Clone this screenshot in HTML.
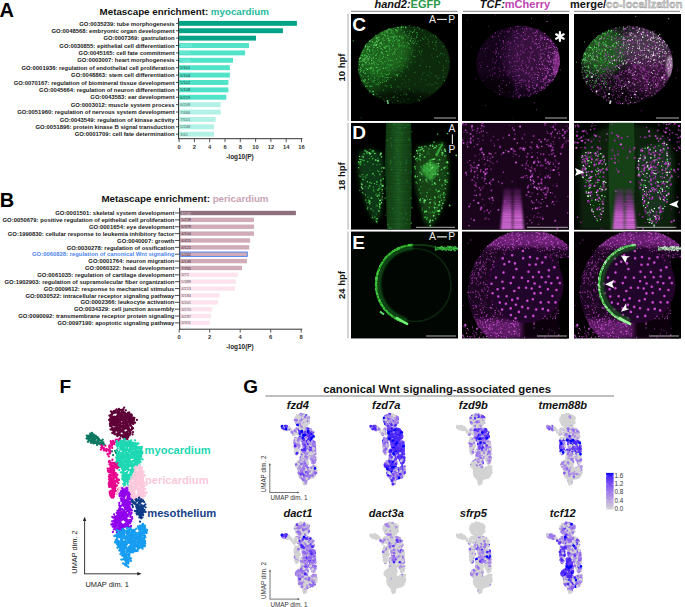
<!DOCTYPE html>
<html><head><meta charset="utf-8"><style>
html,body{margin:0;padding:0;background:#fff;}
body{width:685px;height:607px;overflow:hidden;}
svg{display:block;font-family:"Liberation Sans", sans-serif;}
</style></head><body>
<svg width="685" height="607" viewBox="0 0 685 607">
<text x="-0.5" y="16.7" font-size="20" font-weight="bold" font-style="normal" fill="#000" text-anchor="start" >A</text>
<text x="99.6" y="14.5" font-size="9.78" font-weight="bold" fill="#111">Metascape enrichment: <tspan fill="#1cb99a">myocardium</tspan></text>
<rect x="179.1" y="20.90" width="117.80" height="4.9" fill="#00a386"/>
<text x="174.6" y="25.5" font-size="5.88" font-weight="bold" font-style="normal" fill="#1a1a1a" text-anchor="end" >GO:0035239: tube morphogenesis</text>
<line x1="176" y1="23.35" x2="178.6" y2="23.35" stroke="#222" stroke-width="0.8"/>
<rect x="179.1" y="28.29" width="103.80" height="4.9" fill="#00a386"/>
<text x="174.6" y="32.9" font-size="5.88" font-weight="bold" font-style="normal" fill="#1a1a1a" text-anchor="end" >GO:0048568: embryonic organ development</text>
<line x1="176" y1="30.74" x2="178.6" y2="30.74" stroke="#222" stroke-width="0.8"/>
<rect x="179.1" y="35.68" width="76.90" height="4.9" fill="#00a386"/>
<text x="174.6" y="40.2" font-size="5.88" font-weight="bold" font-style="normal" fill="#1a1a1a" text-anchor="end" >GO:0007369: gastrulation</text>
<line x1="176" y1="38.13" x2="178.6" y2="38.13" stroke="#222" stroke-width="0.8"/>
<rect x="179.1" y="43.07" width="69.90" height="4.9" fill="#50e3c9"/>
<text x="174.6" y="47.6" font-size="5.88" font-weight="bold" font-style="normal" fill="#1a1a1a" text-anchor="end" >GO:0030855: epithelial cell differentiation</text>
<line x1="176" y1="45.52" x2="178.6" y2="45.52" stroke="#222" stroke-width="0.8"/>
<text x="180.2" y="47" font-size="4.0" font-weight="normal" font-style="normal" fill="#9ef2e2" text-anchor="start" >11/626</text>
<rect x="179.1" y="50.46" width="66.00" height="4.9" fill="#50e3c9"/>
<text x="174.6" y="55" font-size="5.88" font-weight="bold" font-style="normal" fill="#1a1a1a" text-anchor="end" >GO:0045165: cell fate commitment</text>
<line x1="176" y1="52.91" x2="178.6" y2="52.91" stroke="#222" stroke-width="0.8"/>
<text x="180.2" y="54.4" font-size="4.0" font-weight="normal" font-style="normal" fill="#9ef2e2" text-anchor="start" >8/255</text>
<rect x="179.1" y="57.85" width="53.90" height="4.9" fill="#50e3c9"/>
<text x="174.6" y="62.4" font-size="5.88" font-weight="bold" font-style="normal" fill="#1a1a1a" text-anchor="end" >GO:0003007: heart morphogenesis</text>
<line x1="176" y1="60.30" x2="178.6" y2="60.30" stroke="#222" stroke-width="0.8"/>
<text x="180.2" y="61.8" font-size="4.0" font-weight="normal" font-style="normal" fill="#9ef2e2" text-anchor="start" >7/268</text>
<rect x="179.1" y="65.24" width="50.80" height="4.9" fill="#50e3c9"/>
<text x="174.6" y="69.8" font-size="5.88" font-weight="bold" font-style="normal" fill="#1a1a1a" text-anchor="end" >GO:0001936: regulation of endothelial cell proliferation</text>
<line x1="176" y1="67.69" x2="178.6" y2="67.69" stroke="#222" stroke-width="0.8"/>
<text x="180.2" y="69.2" font-size="4.0" font-weight="normal" font-style="normal" fill="#1a3a33" text-anchor="start" >5/101</text>
<rect x="179.1" y="72.63" width="50.80" height="4.9" fill="#50e3c9"/>
<text x="174.6" y="77.2" font-size="5.88" font-weight="bold" font-style="normal" fill="#1a1a1a" text-anchor="end" >GO:0048863: stem cell differentiation</text>
<line x1="176" y1="75.08" x2="178.6" y2="75.08" stroke="#222" stroke-width="0.8"/>
<text x="180.2" y="76.6" font-size="4.0" font-weight="normal" font-style="normal" fill="#1a3a33" text-anchor="start" >5/104</text>
<rect x="179.1" y="80.02" width="49.30" height="4.9" fill="#50e3c9"/>
<text x="174.6" y="84.6" font-size="5.88" font-weight="bold" font-style="normal" fill="#1a1a1a" text-anchor="end" >GO:0070167: regulation of biomineral tissue development</text>
<line x1="176" y1="82.47" x2="178.6" y2="82.47" stroke="#222" stroke-width="0.8"/>
<text x="180.2" y="84" font-size="4.0" font-weight="normal" font-style="normal" fill="#1a3a33" text-anchor="start" >5/102</text>
<rect x="179.1" y="87.41" width="49.30" height="4.9" fill="#50e3c9"/>
<text x="174.6" y="92" font-size="5.88" font-weight="bold" font-style="normal" fill="#1a1a1a" text-anchor="end" >GO:0045664: regulation of neuron differentiation</text>
<line x1="176" y1="89.86" x2="178.6" y2="89.86" stroke="#222" stroke-width="0.8"/>
<text x="180.2" y="91.4" font-size="4.0" font-weight="normal" font-style="normal" fill="#1a3a33" text-anchor="start" >5/108</text>
<rect x="179.1" y="94.80" width="47.20" height="4.9" fill="#50e3c9"/>
<text x="174.6" y="99.4" font-size="5.88" font-weight="bold" font-style="normal" fill="#1a1a1a" text-anchor="end" >GO:0043583: ear development</text>
<line x1="176" y1="97.25" x2="178.6" y2="97.25" stroke="#222" stroke-width="0.8"/>
<text x="180.2" y="98.7" font-size="4.0" font-weight="normal" font-style="normal" fill="#1a3a33" text-anchor="start" >6/219</text>
<rect x="179.1" y="102.19" width="41.60" height="4.9" fill="#b3f1e6"/>
<text x="174.6" y="106.8" font-size="5.88" font-weight="bold" font-style="normal" fill="#1a1a1a" text-anchor="end" >GO:0003012: muscle system process</text>
<line x1="176" y1="104.64" x2="178.6" y2="104.64" stroke="#222" stroke-width="0.8"/>
<text x="180.2" y="106.1" font-size="4.0" font-weight="normal" font-style="normal" fill="#4a6a64" text-anchor="start" >6/208</text>
<rect x="179.1" y="109.58" width="41.60" height="4.9" fill="#b3f1e6"/>
<text x="174.6" y="114.1" font-size="5.88" font-weight="bold" font-style="normal" fill="#1a1a1a" text-anchor="end" >GO:0051960: regulation of nervous system development</text>
<line x1="176" y1="112.03" x2="178.6" y2="112.03" stroke="#222" stroke-width="0.8"/>
<text x="180.2" y="113.5" font-size="4.0" font-weight="normal" font-style="normal" fill="#4a6a64" text-anchor="start" >7/466</text>
<rect x="179.1" y="116.97" width="36.50" height="4.9" fill="#b3f1e6"/>
<text x="174.6" y="121.5" font-size="5.88" font-weight="bold" font-style="normal" fill="#1a1a1a" text-anchor="end" >GO:0043549: regulation of kinase activity</text>
<line x1="176" y1="119.42" x2="178.6" y2="119.42" stroke="#222" stroke-width="0.8"/>
<text x="180.2" y="120.9" font-size="4.0" font-weight="normal" font-style="normal" fill="#4a6a64" text-anchor="start" >7/501</text>
<rect x="179.1" y="124.36" width="34.90" height="4.9" fill="#b3f1e6"/>
<text x="174.6" y="128.9" font-size="5.88" font-weight="bold" font-style="normal" fill="#1a1a1a" text-anchor="end" >GO:0051896: protein kinase B signal transduction</text>
<line x1="176" y1="126.81" x2="178.6" y2="126.81" stroke="#222" stroke-width="0.8"/>
<text x="180.2" y="128.3" font-size="4.0" font-weight="normal" font-style="normal" fill="#4a6a64" text-anchor="start" >5/248</text>
<rect x="179.1" y="131.75" width="34.90" height="4.9" fill="#b3f1e6"/>
<text x="174.6" y="136.3" font-size="5.88" font-weight="bold" font-style="normal" fill="#1a1a1a" text-anchor="end" >GO:0001709: cell fate determination</text>
<line x1="176" y1="134.20" x2="178.6" y2="134.20" stroke="#222" stroke-width="0.8"/>
<text x="180.2" y="135.7" font-size="4.0" font-weight="normal" font-style="normal" fill="#4a6a64" text-anchor="start" >3/41</text>
<line x1="178.6" y1="18" x2="178.6" y2="139.2" stroke="#222" stroke-width="1"/>
<line x1="178.1" y1="138.7" x2="302.5" y2="138.7" stroke="#333" stroke-width="1"/>
<line x1="179.10" y1="138.7" x2="179.10" y2="142.1" stroke="#444" stroke-width="0.9"/>
<text x="179.1" y="149.3" font-size="5.8" font-weight="bold" font-style="normal" fill="#333" text-anchor="middle" >0</text>
<line x1="194.40" y1="138.7" x2="194.40" y2="142.1" stroke="#444" stroke-width="0.9"/>
<text x="194.4" y="149.3" font-size="5.8" font-weight="bold" font-style="normal" fill="#333" text-anchor="middle" >2</text>
<line x1="209.70" y1="138.7" x2="209.70" y2="142.1" stroke="#444" stroke-width="0.9"/>
<text x="209.7" y="149.3" font-size="5.8" font-weight="bold" font-style="normal" fill="#333" text-anchor="middle" >4</text>
<line x1="225.00" y1="138.7" x2="225.00" y2="142.1" stroke="#444" stroke-width="0.9"/>
<text x="225" y="149.3" font-size="5.8" font-weight="bold" font-style="normal" fill="#333" text-anchor="middle" >6</text>
<line x1="240.30" y1="138.7" x2="240.30" y2="142.1" stroke="#444" stroke-width="0.9"/>
<text x="240.3" y="149.3" font-size="5.8" font-weight="bold" font-style="normal" fill="#333" text-anchor="middle" >8</text>
<line x1="255.60" y1="138.7" x2="255.60" y2="142.1" stroke="#444" stroke-width="0.9"/>
<text x="255.6" y="149.3" font-size="5.8" font-weight="bold" font-style="normal" fill="#333" text-anchor="middle" >10</text>
<line x1="270.90" y1="138.7" x2="270.90" y2="142.1" stroke="#444" stroke-width="0.9"/>
<text x="270.9" y="149.3" font-size="5.8" font-weight="bold" font-style="normal" fill="#333" text-anchor="middle" >12</text>
<line x1="286.20" y1="138.7" x2="286.20" y2="142.1" stroke="#444" stroke-width="0.9"/>
<text x="286.2" y="149.3" font-size="5.8" font-weight="bold" font-style="normal" fill="#333" text-anchor="middle" >14</text>
<line x1="301.50" y1="138.7" x2="301.50" y2="142.1" stroke="#444" stroke-width="0.9"/>
<text x="301.5" y="149.3" font-size="5.8" font-weight="bold" font-style="normal" fill="#333" text-anchor="middle" >16</text>
<text x="240" y="158.5" font-size="6.45" font-weight="bold" font-style="normal" fill="#222" text-anchor="middle" >-log10(P)</text>
<text x="-0.3" y="206.5" font-size="20" font-weight="bold" font-style="normal" fill="#000" text-anchor="start" >B</text>
<text x="101.4" y="201.8" font-size="9.78" font-weight="bold" fill="#111">Metascape enrichment: <tspan fill="#c9a2b5">pericardium</tspan></text>
<rect x="180.2" y="210.80" width="115.70" height="4.4" fill="#8f6e7d"/>
<text x="174.4" y="215.1" font-size="5.9" font-weight="bold" font-style="normal" fill="#1a1a1a" text-anchor="end" >GO:0001501: skeletal system development</text>
<line x1="175" y1="213.00" x2="179.7" y2="213.00" stroke="#222" stroke-width="0.8"/>
<text x="181.3" y="214.5" font-size="3.9" font-weight="normal" font-style="normal" fill="#d8c8d0" text-anchor="start" >9/560</text>
<rect x="180.2" y="217.67" width="73.80" height="4.4" fill="#d0acb9"/>
<text x="174.4" y="222" font-size="5.9" font-weight="bold" font-style="normal" fill="#1a1a1a" text-anchor="end" >GO:0050679: positive regulation of epithelial cell proliferation</text>
<line x1="175" y1="219.87" x2="179.7" y2="219.87" stroke="#222" stroke-width="0.8"/>
<text x="181.3" y="221.4" font-size="3.9" font-weight="normal" font-style="normal" fill="#3a2a30" text-anchor="start" >5/218</text>
<rect x="180.2" y="224.54" width="73.80" height="4.4" fill="#d0acb9"/>
<text x="174.4" y="228.9" font-size="5.9" font-weight="bold" font-style="normal" fill="#1a1a1a" text-anchor="end" >GO:0001654: eye development</text>
<line x1="175" y1="226.74" x2="179.7" y2="226.74" stroke="#222" stroke-width="0.8"/>
<text x="181.3" y="228.2" font-size="3.9" font-weight="normal" font-style="normal" fill="#3a2a30" text-anchor="start" >6/379</text>
<rect x="180.2" y="231.41" width="73.80" height="4.4" fill="#d0acb9"/>
<text x="174.4" y="235.7" font-size="5.9" font-weight="bold" font-style="normal" fill="#1a1a1a" text-anchor="end" >GO:1990830: cellular response to leukemia inhibitory factor</text>
<line x1="175" y1="233.61" x2="179.7" y2="233.61" stroke="#222" stroke-width="0.8"/>
<text x="181.3" y="235.1" font-size="3.9" font-weight="normal" font-style="normal" fill="#3a2a30" text-anchor="start" >4/104</text>
<rect x="180.2" y="238.28" width="69.90" height="4.4" fill="#d0acb9"/>
<text x="174.4" y="242.6" font-size="5.9" font-weight="bold" font-style="normal" fill="#1a1a1a" text-anchor="end" >GO:0040007: growth</text>
<line x1="175" y1="240.48" x2="179.7" y2="240.48" stroke="#222" stroke-width="0.8"/>
<text x="181.3" y="242" font-size="3.9" font-weight="normal" font-style="normal" fill="#3a2a30" text-anchor="start" >6/415</text>
<rect x="180.2" y="245.15" width="69.10" height="4.4" fill="#d0acb9"/>
<text x="174.4" y="249.5" font-size="5.9" font-weight="bold" font-style="normal" fill="#1a1a1a" text-anchor="end" >GO:0030278: regulation of ossification</text>
<line x1="175" y1="247.35" x2="179.7" y2="247.35" stroke="#222" stroke-width="0.8"/>
<text x="181.3" y="248.8" font-size="3.9" font-weight="normal" font-style="normal" fill="#3a2a30" text-anchor="start" >4/121</text>
<rect x="180.2" y="252.02" width="67.50" height="4.4" fill="#d0acb9"/>
<text x="174.4" y="256.3" font-size="5.9" font-weight="bold" font-style="normal" fill="#4f86ee" text-anchor="end" >GO:0060828: regulation of canonical Wnt signaling</text>
<line x1="175" y1="254.22" x2="179.7" y2="254.22" stroke="#222" stroke-width="0.8"/>
<text x="181.3" y="255.7" font-size="3.9" font-weight="normal" font-style="normal" fill="#3a2a30" text-anchor="start" >5/262</text>
<rect x="180.2" y="258.89" width="66.80" height="4.4" fill="#d0acb9"/>
<text x="174.4" y="263.2" font-size="5.9" font-weight="bold" font-style="normal" fill="#1a1a1a" text-anchor="end" >GO:0001764: neuron migration</text>
<line x1="175" y1="261.09" x2="179.7" y2="261.09" stroke="#222" stroke-width="0.8"/>
<text x="181.3" y="262.6" font-size="3.9" font-weight="normal" font-style="normal" fill="#3a2a30" text-anchor="start" >4/139</text>
<rect x="180.2" y="265.76" width="61.80" height="4.4" fill="#d0acb9"/>
<text x="174.4" y="270.1" font-size="5.9" font-weight="bold" font-style="normal" fill="#1a1a1a" text-anchor="end" >GO:0060322: head development</text>
<line x1="175" y1="267.96" x2="179.7" y2="267.96" stroke="#222" stroke-width="0.8"/>
<text x="181.3" y="269.5" font-size="3.9" font-weight="normal" font-style="normal" fill="#3a2a30" text-anchor="start" >7/765</text>
<rect x="180.2" y="272.63" width="57.50" height="4.4" fill="#fde3ee"/>
<text x="174.4" y="277" font-size="5.9" font-weight="bold" font-style="normal" fill="#1a1a1a" text-anchor="end" >GO:0061035: regulation of cartilage development</text>
<line x1="175" y1="274.83" x2="179.7" y2="274.83" stroke="#222" stroke-width="0.8"/>
<text x="181.3" y="276.3" font-size="3.9" font-weight="normal" font-style="normal" fill="#555" text-anchor="start" >3/72</text>
<rect x="180.2" y="279.50" width="55.60" height="4.4" fill="#fde3ee"/>
<text x="174.4" y="283.8" font-size="5.9" font-weight="bold" font-style="normal" fill="#1a1a1a" text-anchor="end" >GO:1902903: regulation of supramolecular fiber organization</text>
<line x1="175" y1="281.70" x2="179.7" y2="281.70" stroke="#222" stroke-width="0.8"/>
<text x="181.3" y="283.2" font-size="3.9" font-weight="normal" font-style="normal" fill="#555" text-anchor="start" >5/389</text>
<rect x="180.2" y="286.37" width="54.80" height="4.4" fill="#fde3ee"/>
<text x="174.4" y="290.7" font-size="5.9" font-weight="bold" font-style="normal" fill="#1a1a1a" text-anchor="end" >GO:0009612: response to mechanical stimulus</text>
<line x1="175" y1="288.57" x2="179.7" y2="288.57" stroke="#222" stroke-width="0.8"/>
<text x="181.3" y="290.1" font-size="3.9" font-weight="normal" font-style="normal" fill="#555" text-anchor="start" >4/213</text>
<rect x="180.2" y="293.24" width="39.40" height="4.4" fill="#fde3ee"/>
<text x="174.4" y="297.6" font-size="5.9" font-weight="bold" font-style="normal" fill="#1a1a1a" text-anchor="end" >GO:0030522: intracellular receptor signaling pathway</text>
<line x1="175" y1="295.44" x2="179.7" y2="295.44" stroke="#222" stroke-width="0.8"/>
<text x="181.3" y="296.9" font-size="3.9" font-weight="normal" font-style="normal" fill="#555" text-anchor="start" >3/184</text>
<rect x="180.2" y="300.11" width="37.70" height="4.4" fill="#fde3ee"/>
<text x="174.4" y="304.4" font-size="5.9" font-weight="bold" font-style="normal" fill="#1a1a1a" text-anchor="end" >GO:0002366: leukocyte activation</text>
<line x1="175" y1="302.31" x2="179.7" y2="302.31" stroke="#222" stroke-width="0.8"/>
<text x="181.3" y="303.8" font-size="3.9" font-weight="normal" font-style="normal" fill="#555" text-anchor="start" >3/201</text>
<rect x="180.2" y="306.98" width="32.00" height="4.4" fill="#fde3ee"/>
<text x="174.4" y="311.3" font-size="5.9" font-weight="bold" font-style="normal" fill="#1a1a1a" text-anchor="end" >GO:0034329: cell junction assembly</text>
<line x1="175" y1="309.18" x2="179.7" y2="309.18" stroke="#222" stroke-width="0.8"/>
<text x="181.3" y="310.7" font-size="3.9" font-weight="normal" font-style="normal" fill="#555" text-anchor="start" >3/270</text>
<rect x="180.2" y="313.85" width="30.70" height="4.4" fill="#fde3ee"/>
<text x="174.4" y="318.2" font-size="5.9" font-weight="bold" font-style="normal" fill="#1a1a1a" text-anchor="end" >GO:0090092: transmembrane receptor protein signaling</text>
<line x1="175" y1="316.05" x2="179.7" y2="316.05" stroke="#222" stroke-width="0.8"/>
<text x="181.3" y="317.6" font-size="3.9" font-weight="normal" font-style="normal" fill="#555" text-anchor="start" >3/297</text>
<rect x="180.2" y="320.72" width="29.50" height="4.4" fill="#fde3ee"/>
<text x="174.4" y="325" font-size="5.9" font-weight="bold" font-style="normal" fill="#1a1a1a" text-anchor="end" >GO:0097190: apoptotic signaling pathway</text>
<line x1="175" y1="322.92" x2="179.7" y2="322.92" stroke="#222" stroke-width="0.8"/>
<text x="181.3" y="324.4" font-size="3.9" font-weight="normal" font-style="normal" fill="#555" text-anchor="start" >3/311</text>
<line x1="179.7" y1="207.9" x2="179.7" y2="329.7" stroke="#222" stroke-width="1"/>
<line x1="179.2" y1="329.2" x2="302.3" y2="329.2" stroke="#333" stroke-width="1"/>
<line x1="179.20" y1="329.2" x2="179.20" y2="332.59999999999997" stroke="#444" stroke-width="0.9"/>
<text x="179.2" y="339.3" font-size="5.8" font-weight="bold" font-style="normal" fill="#333" text-anchor="middle" >0</text>
<line x1="209.70" y1="329.2" x2="209.70" y2="332.59999999999997" stroke="#444" stroke-width="0.9"/>
<text x="209.7" y="339.3" font-size="5.8" font-weight="bold" font-style="normal" fill="#333" text-anchor="middle" >2</text>
<line x1="240.20" y1="329.2" x2="240.20" y2="332.59999999999997" stroke="#444" stroke-width="0.9"/>
<text x="240.2" y="339.3" font-size="5.8" font-weight="bold" font-style="normal" fill="#333" text-anchor="middle" >4</text>
<line x1="270.70" y1="329.2" x2="270.70" y2="332.59999999999997" stroke="#444" stroke-width="0.9"/>
<text x="270.7" y="339.3" font-size="5.8" font-weight="bold" font-style="normal" fill="#333" text-anchor="middle" >6</text>
<line x1="301.20" y1="329.2" x2="301.20" y2="332.59999999999997" stroke="#444" stroke-width="0.9"/>
<text x="301.2" y="339.3" font-size="5.8" font-weight="bold" font-style="normal" fill="#333" text-anchor="middle" >8</text>
<text x="240" y="348.6" font-size="6.45" font-weight="bold" font-style="normal" fill="#222" text-anchor="middle" >-log10(P)</text>
<rect x="180.2" y="252.02" width="67.00" height="4.4" fill="none" stroke="#4a7ef2" stroke-width="0.9"/>
<defs><clipPath id="cp"><rect x="0" y="0" width="107" height="107"/></clipPath><filter id="bl1" x="-20%" y="-20%" width="140%" height="140%"><feGaussianBlur stdDeviation="1.2"/></filter><filter id="bl2" x="-20%" y="-20%" width="140%" height="140%"><feGaussianBlur stdDeviation="2.5"/></filter><filter id="bl3" x="-30%" y="-30%" width="160%" height="160%"><feGaussianBlur stdDeviation="5"/></filter><filter id="bl05" x="-20%" y="-20%" width="140%" height="140%"><feGaussianBlur stdDeviation="0.5"/></filter></defs>
<g transform="translate(351,14)"><g clip-path="url(#cp)"><rect width="107" height="107" fill="#000"/><ellipse cx="53" cy="51" rx="46" ry="39" transform="rotate(-8 53 51)" fill="#0c2a0d" filter="url(#bl05)"/><defs><clipPath id="cpC"><ellipse cx="53" cy="51" rx="46" ry="39" transform="rotate(-8 53 51)"/></clipPath></defs><g clip-path="url(#cpC)"><ellipse cx="30" cy="36" rx="30" ry="27" fill="#2a8a2c" opacity="0.6" filter="url(#bl3)"/><ellipse cx="20" cy="62" rx="14" ry="16" fill="#1f6e22" opacity="0.4" filter="url(#bl3)"/><ellipse cx="55" cy="86" rx="34" ry="9" fill="#000" opacity="0.55" filter="url(#bl2)"/></g><path d="M88.8 41.3h0M73.4 20.2h0M49.6 88.1h0M69.5 45.1h0M40.3 71.6h0M51.3 69.8h0M72.2 76.3h0M68.4 67.8h0M62.4 42.7h0M52.6 41.1h0M66.5 41.2h0M41.7 88.5h0M47.4 72.6h0M64.7 58h0M67.4 36.6h0M52.8 85.8h0M42.5 83.8h0M76.2 61.1h0M78.3 69.9h0M55 78.6h0M80.5 71.3h0M58.1 67h0M51.5 44.8h0M54.8 52.4h0M67.2 37.1h0M95.6 47.1h0M50.4 61h0M51.5 54.7h0M48.3 52.2h0M49.9 75.4h0M53.7 66.3h0M55.8 62.2h0M94.6 53.5h0M85.4 28.6h0M87.5 47.8h0M53.2 87.4h0M84.6 46.6h0M86.3 42.2h0M80.6 41.2h0M52.7 51.4h0M54.5 68.6h0M37 71.9h0M64.7 42.8h0M96.4 43.6h0M51.5 57.9h0M46.3 79.4h0M22.7 79.9h0M49 73.4h0M79.1 63.1h0" stroke="#1f6e24" stroke-width="0.8" stroke-linecap="round" fill="none"/><path d="M67.2 85.5h0M80.8 59.4h0M70.6 65.1h0M57.8 44.9h0M58.1 65.6h0M54.8 72.7h0M82.4 21.4h0M64.3 48h0M55.2 80.7h0M93.8 40.8h0M92.6 54.6h0M77.1 24.1h0M77.6 30h0M62.7 77.5h0M44.9 61.6h0M97.8 47.4h0M74.5 65.9h0M64.1 70.1h0M82 70.6h0M50 62.2h0M86.2 69.5h0M71.4 46.7h0M86.3 74h0M77.5 61.1h0M63.9 35.8h0M46.4 83.4h0M85.4 35.9h0M78.7 78.8h0M57.2 85.1h0M57.6 55.2h0M67.1 30h0M41.2 83.3h0M49.1 56.7h0M49.6 81h0M85.3 26.5h0M53.3 45.8h0M87.9 63.8h0M35.9 83.8h0M93.2 59.3h0M51 69.8h0M70.2 41h0M78.8 58.1h0M81.3 43.6h0M76.1 29.6h0M68.2 32.7h0M73 58.2h0M64.8 31.5h0M18.6 76.5h0M38.4 85.8h0M26 80.4h0M55.1 42.9h0M52 65h0M77 70.6h0M92.1 52.1h0" stroke="#1f6e24" stroke-width="1.1" stroke-linecap="round" fill="none"/><path d="M34.9 63.2h0M48.2 29.4h0M77.7 27.8h0M46 52.9h0M69.4 26.3h0M36.9 23.1h0M35.1 53.2h0M72.8 25.1h0M39.1 27.8h0M48.3 30.4h0M44.5 65.7h0M71.5 16.7h0M39.4 45.9h0M40 63.5h0M82.7 34.7h0M46.7 72.7h0M25.5 70h0M14.8 71.7h0M45.5 17h0M52.4 51.6h0M46.7 48.5h0M93.4 66.6h0M56.5 53h0M62.9 13.1h0M84.6 22.1h0M26.6 59.1h0M86.3 42.6h0M36.4 24.3h0M89.6 39.2h0M44.2 56.3h0M38.4 31.9h0M92.1 56.6h0M31.3 61.6h0M19 76.2h0M66.8 27.1h0M55.8 80.2h0M40.5 35.8h0M28.9 41.1h0M84 30.8h0M19.5 54.4h0M46.9 17h0M39.8 50.4h0M46.9 86.9h0M70.6 37.5h0M38.8 56.4h0M28.9 47.6h0M32.5 76h0M60.1 48.2h0M50.3 16.2h0M92.2 32.5h0M44.4 22.1h0M68.9 51.6h0M43 83.1h0M58.2 30h0M36.3 63.6h0M85 61.9h0M27 65h0M26 61.5h0M95.2 46.7h0M55.4 22.1h0M60.2 22.2h0M45.6 24.3h0M68.5 38.1h0M37.3 47.1h0M46.5 60.6h0M36.4 52.9h0M69.4 82.5h0M65.7 29.5h0M30.4 47.5h0M53 80h0M68.4 14.9h0M31.5 68.4h0M38.2 53.8h0M42.7 22.9h0M40.2 73.2h0M32.6 43h0M37.1 56.6h0M38.1 37.4h0M41.7 54.6h0M92.3 63.1h0M47.9 33.1h0M61.3 18.6h0M46 16.3h0M42 31.4h0M19.5 55.6h0M81.6 28.1h0M78.9 52.9h0M84.6 28.2h0M37.3 60.4h0M33 48.3h0M21.4 56.9h0M23.7 63.3h0M58.3 74.9h0M61.8 18.5h0M46.5 60.5h0M54.6 13.1h0M18.7 77.9h0M55.8 33.1h0M68.2 86.6h0M37.5 63.8h0M19.5 72.4h0M39.9 35.4h0M33 66.1h0M42.1 46.8h0M52.1 28.4h0M46.2 18h0M37.6 46.3h0M44.2 35.2h0M61.8 27.4h0M63.5 42.2h0" stroke="#2fa035" stroke-width="1.1" stroke-linecap="round" fill="none"/><path d="M21.2 72.2h0M35 71.3h0M29.2 53.2h0M51.5 20.3h0M85.3 32.3h0M78.2 32.5h0M27.2 57.7h0M52.2 12.9h0M29.3 42.8h0M33.7 67.4h0M63 18.2h0M31.5 66.2h0M56.8 17.5h0M69.3 39.9h0M84.3 68.7h0M48.8 52.1h0M30.7 60h0M58.1 30.1h0M32.4 49.7h0M55.9 52.2h0M21.3 62.1h0M63.3 58.5h0M64.6 26h0M48 51.8h0M43.2 60.4h0M21.3 59.6h0M50.2 54.3h0M91.6 39.8h0M35 47.5h0M32.4 40.5h0M28.8 69.5h0M27.5 69.2h0M62.3 26.5h0M71.4 59.9h0M28.5 67h0M45.1 25.3h0M23.4 64.6h0M59.2 25h0M16.6 72.5h0M60.7 40.6h0M22.3 66.4h0M27.6 70.2h0M43.4 82h0M88.8 48.8h0M50.4 12.1h0M26.9 67.9h0M19.1 58.5h0M43.7 21.3h0M46.5 14.2h0M33.7 64h0M68.2 32.7h0M38.5 51.9h0M34.8 63.5h0M20 50.6h0M45.5 60.7h0M26.8 58.2h0M64.3 28h0M20.2 67h0M79.7 21.8h0M86.8 64.7h0M53.5 32.4h0M41.5 53.1h0M44.2 77.8h0M43.6 48.7h0M34.1 71.6h0M85.4 23.3h0M41.3 45.9h0M26.9 70.3h0M48.6 32.4h0M48 59.5h0M63.3 16.7h0M31 50.7h0M36.8 26.8h0M10.1 104h0M28.6 43.3h0M35.7 72.7h0M26.8 60.1h0M41.8 50.6h0M54.6 45.8h0M32.8 84.8h0M50.4 50.7h0M51.8 30h0M60.7 38.5h0M38.1 41h0M66.4 18.5h0M71 36.1h0M54.5 61.9h0M33.8 67.3h0M24.2 70.5h0M57.1 23.6h0M50.4 40h0M50.4 44.1h0M46.8 29.8h0M29.2 82.5h0M40.2 71.9h0M33.8 87.2h0M40.3 51.5h0M39.2 70.9h0M46.8 61.3h0M55.7 44.6h0M20.7 52h0M56.6 31.6h0M48.6 27.1h0M50.7 57.2h0M76.8 25.7h0M53.5 36.9h0M26.9 55.2h0M75.6 52.4h0M38.2 44.8h0M19.8 77.2h0M48.5 42.5h0M11.5 65.3h0M20.9 60.2h0M42.7 17.8h0" stroke="#2fa035" stroke-width="0.8" stroke-linecap="round" fill="none"/><path d="M19.8 54.8h0M14 68.9h0M14.5 41.3h0M31.4 18.8h0M38.2 33.4h0M30.1 37.9h0M36.6 45.1h0M18.5 35.8h0M57.1 23.4h0M43.4 20.9h0M17.1 50.5h0M48.8 21.8h0M51.2 22.5h0M41.8 16.6h0M50.9 31.4h0M21.9 35.6h0M50.1 15.3h0M37.9 50.6h0M53.7 31.6h0M63.1 24.5h0M45.3 60.8h0M26.3 29.9h0M15.1 42h0M25.4 26.7h0M27 71.2h0M28.3 22.9h0M43.2 34.4h0M22.4 39.6h0M46.3 16.7h0M32.3 54.3h0M37.7 26.3h0M23.1 68.5h0M30 47.4h0M12.6 50.9h0M48.7 22.8h0M40.7 29.3h0M65.4 22.1h0M23.2 47.8h0M19.3 53.5h0M15.8 69.5h0M52.9 32.8h0M44.9 16.8h0M39 39.5h0M46.9 27.6h0M21.8 49.5h0M24 37.5h0M10.4 41.3h0M19.5 41.1h0M58.7 11.6h0M18.6 32.8h0M31.7 25h0M21.8 46.4h0M14.7 54.4h0M59.2 17.1h0M30.9 39.9h0M17.8 54.7h0M52 24.9h0M45.9 25.6h0M34.1 33.6h0M37.3 26h0M28.1 46.6h0M59.1 34.3h0M21.1 49.1h0M63.8 15.4h0M45.3 45.7h0M12.6 66.4h0M12 47h0M9.7 43.6h0M34.2 32.5h0M21.1 40.6h0M37.1 19.2h0M48.4 32.2h0M14.2 50.2h0M19.7 64.7h0M54.9 12.9h0M36.6 65.4h0M33.5 18h0M38.3 26.3h0M14 45.9h0M24.9 48.1h0M39.4 22.9h0M34.7 22.4h0M12 46.7h0M56.3 28.6h0M40.7 18.9h0M33.1 29.9h0M54.6 13.8h0M14.4 31.8h0M31.1 18h0M12.9 42.6h0M50.4 37.7h0M28.1 45.1h0M53.3 17.6h0M41.9 23.7h0M42.5 14.6h0M74.6 23.1h0M38.7 37.1h0M17.6 35.2h0M30 19h0M18.5 37.1h0M24.5 28.9h0M28 63.1h0M37.2 31.8h0M43.7 23h0M15.9 47.6h0M46.7 13.4h0M43.8 40.1h0M60.2 17.7h0M13.2 67.1h0M11.6 51.4h0M42.9 38.5h0M14.5 45.2h0M43.3 26.8h0M40.4 22.8h0M10.6 51.2h0M61.2 36.3h0M7.9 47.1h0M25 24.1h0M33.8 47.5h0M33.6 33.8h0M18.3 36.5h0M29.1 32.3h0M34.5 32.9h0M41.4 19.7h0M36.3 60.8h0M24.9 21.5h0M28.6 25.7h0M14.8 59.3h0M37.2 31.5h0M40 15.5h0M26.6 36.2h0M60.8 28.8h0M46.9 35h0M27.7 26.1h0M71.7 24.3h0M17.5 65.6h0M47.7 31.6h0M58.1 33.8h0M14.4 72.4h0M37.6 41.2h0M11.9 66.8h0M26.2 39.2h0M58.4 19.6h0M62.9 17.4h0M15.8 55.9h0M50.8 24h0M29.8 45.5h0M35.4 25.1h0M32.4 32.9h0M29.2 62.1h0M12.1 62.8h0M22.1 57.9h0M38.6 26.2h0M36.5 15.9h0M42.9 19h0M35 17.2h0M29.4 34.2h0M24.6 28.6h0M49.9 32h0M33.9 59.9h0M42.5 29.9h0M27 46.3h0M23.5 49.2h0M42.1 31.8h0M39.7 19.4h0" stroke="#45c84a" stroke-width="0.8" stroke-linecap="round" fill="none"/><path d="M50.6 13.6h0M26.2 53.4h0M38.9 15h0M40.2 17.9h0M42.7 23.3h0M48.2 26.4h0M33.3 33.2h0M44.7 35.7h0M29.6 68.5h0M17.7 65.1h0M55 13.7h0M31.4 44.4h0M24.3 41.6h0M16.2 39.1h0M41.7 32h0M35.9 37.1h0M13.1 56.4h0M35.4 60.8h0M41.7 27.2h0M9.3 60.3h0M44.9 15.5h0M23.4 50.7h0M23.8 66.3h0M63.3 28.7h0M15.9 41.7h0M13.9 41h0M40.2 16h0M31 30.6h0M46.5 61.9h0M20.8 72h0M31 48.8h0M25.9 50h0M17.1 62.2h0M32.8 20.2h0M30.1 59.2h0M33.9 21.6h0M48.9 47.2h0M26 24.8h0M15.1 54.2h0M38.1 15.7h0M12.2 57.7h0M39.8 51.3h0M58 21h0M34.9 43.6h0M53 18.3h0M19.1 54h0M27.3 50.3h0M36.2 50h0M11.2 46.7h0M32.6 23.9h0M37.4 15h0M20.3 53.6h0M65.9 23.6h0M18.7 37.4h0M14.6 33.3h0M39.9 26h0M59.6 27h0M32.4 54.1h0M12.9 36.6h0M54.1 21.1h0M21.7 28.2h0M17 68.6h0M18 44.9h0M35.2 32.1h0M36.6 41.6h0M37 21.7h0M42.9 39.3h0M59 26.3h0M35 37.5h0M23.3 59.3h0M26.1 23.3h0M10.3 61.9h0M31.9 62.4h0M8.4 44.7h0M52.6 24h0M35.9 32.4h0M16.6 32.4h0M65.7 18.8h0M45.5 44.7h0M22.1 67.6h0M41.7 22.3h0M52.2 13.3h0M28.9 55.6h0M18.5 49h0M25.1 53.1h0M38 23.8h0M43.2 26.7h0M26.9 56.1h0M29.8 28.8h0M8.6 44.9h0M10 47.3h0M39.9 46.4h0M38.6 26.7h0M21.4 36.7h0M36.2 21.2h0M34.8 54.3h0M50.8 12.6h0M15.8 71.9h0M57.3 29.3h0M16.7 32.8h0M62.2 29.6h0M36.2 40h0M8.8 47.9h0M28.8 32.2h0M51 23.7h0M41.5 40.2h0M47.1 26.1h0M25.5 40.9h0M26.1 57.1h0M11.4 41.5h0M13.2 67.4h0M33.7 20.3h0M14.4 66.2h0M15.6 43.5h0M48.9 22.6h0M38.4 34.9h0M13.2 46.9h0M18.8 71.9h0M38 29h0M12 52.2h0M30.4 28.1h0M27 33.7h0M50.3 44.4h0M34.1 34.4h0M10.5 56.5h0M22.6 56.1h0M42.4 24.7h0M38.5 59.2h0M45.7 22.4h0M66.4 20.8h0M35.4 66.9h0M43.7 37.5h0M31.2 39.2h0M66.8 13.3h0M9.2 55.4h0M22.1 43h0M60.6 24.2h0M13.5 44.9h0M13 45.7h0" stroke="#45c84a" stroke-width="1.1" stroke-linecap="round" fill="none"/><path d="M47.8 15.2h0M14.8 48.2h0M16.8 34.4h0M20.2 31.1h0M11.7 44.2h0M27.3 26h0M30.5 29.7h0M8.1 58.8h0M23.5 29.2h0M22.6 48.3h0M9.7 53.6h0M28.2 31.8h0M13.3 47.7h0M35.1 18.9h0M14.7 32.5h0M15.7 29.9h0M25.6 31.6h0M19.1 26.5h0M10.2 54.5h0M16.4 44.3h0M29 29.8h0M32.7 42.3h0M29.1 29.1h0M13.1 67.7h0M15.7 37.2h0M9.5 44.6h0M25.2 44.5h0M20.8 25.6h0M25.2 24.4h0M10.4 66.8h0M18.2 49h0M36 17.8h0M16.1 45.8h0M30.4 34.7h0M12 45.1h0M9.2 43.4h0M23.4 31.2h0M27.3 26.6h0M31.1 25.1h0M12.8 45.7h0M22.9 31.8h0M12.5 58.3h0M8.6 50.5h0M9.6 57.9h0M34.1 16.6h0M18.7 42.6h0M31.5 35.6h0M25.6 23.8h0M25 21.9h0M22.5 31.2h0M20.6 54.1h0M36.4 18h0" stroke="#6ee070" stroke-width="0.8" stroke-linecap="round" fill="none"/><path d="M24.6 30.9h0M14.7 31h0M18.4 27.3h0M49.9 13.8h0M11.8 38.3h0M2.2 26.7h0M16.6 35.6h0M17.4 44.9h0M27.8 23.3h0M47.1 13.3h0M8.6 44.7h0M22.7 44.1h0M17.1 46.7h0M20.6 46.5h0M22.8 33.2h0M17.7 40.8h0M7.6 55.7h0M14 65.3h0M37.7 24.5h0M31 38.4h0M18 32.9h0M13.6 41h0M22.1 54h0M14.3 43.9h0M26.4 27.8h0M25.3 27.6h0M14.1 59.4h0M30.9 20.3h0M11.6 50.2h0M16.1 42.6h0M26.2 24.8h0M18.8 27.1h0M33 26.2h0M14.1 32.1h0M26.2 33.5h0M45 15.8h0M21.2 27.6h0M25.2 31.1h0M16.6 55.4h0M25.7 30.3h0M15 48.9h0M11.2 41h0M20.7 49.6h0M20.8 44.7h0M24 31.1h0M35.9 16.7h0M9.3 57h0M18.9 43.2h0" stroke="#6ee070" stroke-width="1.1" stroke-linecap="round" fill="none"/><path d="M22 77.5h0M22.5 80.5h0" stroke="#5de060" stroke-width="1.6" stroke-linecap="round" fill="none"/><path d="M36.5 87h0M37 89h0" stroke="#7de87e" stroke-width="1.8" stroke-linecap="round" fill="none"/><text x="77.9" y="8.9" font-size="10.4" fill="#e8e8e8">A</text><line x1="86" y1="5.4" x2="95.9" y2="5.4" stroke="#e8e8e8" stroke-width="1.1"/><text x="97.2" y="8.9" font-size="10.4" fill="#e8e8e8">P</text></g><line x1="83" y1="104" x2="105" y2="104" stroke="#b0b0b0" stroke-width="1"/><text x="1.2" y="16.6" font-size="19" font-weight="bold" fill="#fff">C</text></g>
<g transform="translate(462,14)"><g clip-path="url(#cp)"><rect width="107" height="107" fill="#000"/><defs><clipPath id="cpC2"><ellipse cx="56" cy="48" rx="42" ry="36" transform="rotate(-8 56 48)"/></clipPath></defs><ellipse cx="56" cy="48" rx="42" ry="36" transform="rotate(-8 56 48)" fill="#14041a"/><g clip-path="url(#cpC2)"><ellipse cx="72" cy="42" rx="30" ry="32" fill="#40124a" opacity="0.75" filter="url(#bl3)"/><ellipse cx="96" cy="50" rx="5" ry="14" fill="#b040b0" opacity="0.55" filter="url(#bl1)"/><ellipse cx="30" cy="75" rx="22" ry="12" fill="#000" opacity="0.6" filter="url(#bl2)"/></g><path d="M53.3 21.4h0M27.9 32.1h0M9.5 32.8h0M35.7 17.8h0M41.1 35.9h0M30.4 60.8h0M39.7 29.7h0M31.1 26.2h0M43.6 78.1h0M17.7 55.9h0M32.5 77.8h0M42.9 67.3h0M49.2 28.1h0M13.9 64.3h0M38.9 32h0M50.1 104.8h0M33.3 35h0M34.1 66.1h0M13.1 65.1h0M20.7 34.8h0M23.8 42.3h0" stroke="#5a1a5e" stroke-width="0.8" stroke-linecap="round" fill="none"/><path d="M25.8 33.9h0M44.8 17.3h0M18.7 51.4h0M26.6 12.2h0M17.3 49.6h0M32.8 54.1h0M25.4 29.8h0M42.8 42.6h0M33.3 0.9h0M35.8 63.2h0M30.8 48.6h0M50.1 19.2h0M41.6 28.9h0M41 49.6h0M29.8 65.8h0M43.8 28.8h0M22.4 37.2h0" stroke="#5a1a5e" stroke-width="1.1" stroke-linecap="round" fill="none"/><path d="M41.3 33.2h0M65 15.9h0M64.2 71.6h0M76.4 38h0M49 48.8h0M46.4 18.1h0M69.6 22.8h0M69.6 15.4h0M41.1 66.6h0M58.9 40.4h0M53.1 71.5h0M69.2 32.8h0M51.7 65.8h0M60 36.5h0M53.1 55h0M54.1 30h0M86.3 26h0M59.4 21.7h0M56.9 83.7h0M44.3 42.7h0M57.1 55h0M56.5 64.3h0M81.8 35.2h0M65.7 24.2h0M52.9 20.9h0M45.8 61.3h0M56.4 52.3h0M56.1 61.6h0M77.7 74.3h0M66.5 73h0M68.9 44.2h0M48.7 14.4h0M40 16.9h0M69.1 79.7h0M25.6 52.4h0M55.9 38.8h0M45 57.7h0M55.1 16h0M79.8 39.7h0M75.5 77.4h0M58.3 68.6h0M38.8 19.4h0M34.5 46.7h0M32.2 59.2h0M57.4 45.8h0M34.5 37h0M44.3 70.8h0M37.9 76.4h0M46.1 60.1h0M67.2 67.2h0M74.3 25.1h0M32.7 53.2h0M54 76.5h0M78.6 66h0M67.8 33h0M56.3 31.4h0M81 73.5h0M73.7 18.6h0M37.6 80.3h0M55.4 24.4h0M53.4 57.7h0M23.6 34.5h0M66.9 48.4h0M80 73.2h0M58.5 40.2h0M50.4 44h0M36.3 22.6h0M69.1 61.3h0M59.5 27.7h0M53.9 12.6h0M53.7 30.3h0M79.5 23.5h0M55.3 71.6h0M61.3 67.7h0M34.2 30.5h0M33.6 39.9h0M68.2 81.1h0M45.4 17.7h0M38.7 43.8h0M73.5 60.2h0M48.1 57.7h0M42.9 22.8h0M64.3 25.5h0M63.9 70.4h0M75.5 64h0M19 53.8h0M55.2 39.9h0M67 37.2h0M54.9 36.2h0M72.4 29.8h0M42.2 55.8h0M69.6 56.1h0M34.6 42.5h0M57.1 82.9h0M64 58.3h0M30.2 23h0M72.9 66.1h0M54.8 42.2h0M59.9 55.9h0M51.1 82.1h0M70.6 24.9h0M31.7 38.3h0M45.2 28.3h0M60.7 30.4h0M78.6 22.3h0M70.1 37.3h0M36.9 54.1h0M30.4 55.1h0M72.8 41.5h0M37.4 72.7h0M55.9 41.1h0M59 21.8h0M63.2 19.9h0M57.9 61h0M50.8 16.2h0" stroke="#8a2a90" stroke-width="1.1" stroke-linecap="round" fill="none"/><path d="M55.5 23.8h0M84.7 55.8h0M34.1 29.5h0M67.1 77h0M21.1 66.5h0M76.7 29.6h0M68.4 80h0M54.7 77h0M57.3 62.4h0M39.1 42.8h0M65.7 81.1h0M30.7 46h0M68 43.5h0M77 50.8h0M39.9 34.4h0M41.8 50.3h0M54.5 44.6h0M64.2 51.6h0M82.7 69.4h0M33.6 37.1h0M58.2 56h0M48.8 28.4h0M71.6 66.3h0M67.7 14.1h0M77.1 73.1h0M47.9 33.3h0M63.3 48.2h0M68 20.7h0M75 17.6h0M30.6 61.7h0M32.8 48.6h0M47.1 78.1h0M40.2 78.5h0M38.6 37.1h0M69.5 29.8h0M27.6 56.5h0M77.1 61.9h0M42.2 17.9h0M52.9 47.8h0M37.9 79.6h0M41.7 56.6h0M18.3 34.8h0M66.7 75.2h0M51.4 77.7h0M40.3 69.7h0M37.4 61.6h0M70.1 61.8h0M58.7 36.7h0M55.1 43.8h0M62.7 65.7h0M32.3 22.6h0M76.6 41.8h0M43.4 34.8h0M62.1 49.2h0M71.5 36.7h0M40.3 74.5h0M53.9 73.4h0M40 35.3h0M59 51.1h0M36.4 21.6h0M50.9 22h0M25.7 62.8h0M31.2 44.5h0M82.5 37.5h0M45.2 30.4h0M69.3 60.3h0M52.4 17.9h0M5.6 5.9h0M28.6 61.4h0M65.3 34.6h0M83.3 24.7h0M74.8 71.9h0M43.8 32.1h0M51.3 32.6h0M81.4 51.2h0M75.9 70.4h0M68.1 49.8h0M46 16.6h0M68.6 43h0M20.2 48.3h0M23.5 91.5h0M64.3 58.8h0M55.9 12h0M42.2 47.4h0M63.2 12.3h0M38.1 56.1h0M58.3 37.3h0M67 22.7h0M73.2 29.5h0" stroke="#8a2a90" stroke-width="0.8" stroke-linecap="round" fill="none"/><path d="M87.3 42.9h0M80.6 23.6h0M58 66.6h0M77.1 33.2h0M59.3 72.8h0M85.7 54.1h0M86 67.3h0M78.9 67.6h0M38.4 42.8h0M67 70.9h0M95.6 55.3h0M75.7 33.6h0M84 54.3h0M60.9 54.6h0M83.3 44.5h0M55.9 78.2h0M64.7 71.8h0M67.4 72.8h0M81.8 54.7h0M63.1 25.4h0M81.1 67.1h0M56.9 82.1h0M69.8 53.6h0M85.8 58.9h0M82.4 23.4h0M89.4 29.2h0M77.9 45.1h0M83.6 62.9h0M54 23.4h0M61 66h0M91.7 32.4h0M56.3 12.5h0M65.4 43.8h0M79.7 43.7h0M83.8 61.6h0M93.7 49h0M90 45.3h0M72.8 60.6h0M34.3 38.2h0M95.6 34.8h0M57.5 54.2h0M85.1 57h0M97.5 47.2h0M55 47h0M83.5 23.7h0M63.3 35.1h0M85 46.7h0M55.9 56.8h0M53.1 51.7h0M67.9 62.6h0M61.5 56.9h0M88.7 61.6h0M80.4 61.2h0M41.4 27.9h0M59.5 65.9h0M86.3 58.5h0M64.2 56.8h0M87.8 67.8h0M57.2 68.6h0M84.4 35.1h0M72.9 29.7h0M86.7 68.3h0M66.9 66.8h0M61.4 18.4h0M71.8 58.8h0M81.9 55h0M59.6 51.5h0M56.2 32.5h0M77.1 29.4h0M70.4 68.2h0M75 71.9h0M89.5 47.8h0M94.7 57.7h0M80.2 50.2h0M90 66.9h0M50.2 52.5h0M91.6 29.7h0M89.2 27.1h0M82.8 51.9h0M75.4 18.2h0M35.3 34.1h0M86.2 37.3h0M60.2 47.2h0M80.3 49.1h0M58.6 81.2h0M63.2 66.8h0M82.8 56.6h0M74.7 70.7h0M87.2 31.7h0M50.9 62.6h0M41.2 26.5h0M52.5 26.9h0M87.6 65.8h0M84.3 62.7h0M36.5 39.7h0M72.3 45.6h0M66 59.7h0M67 45.6h0M65.3 53.9h0M83.3 54.3h0M67.3 47.1h0M55.3 19.3h0M53.6 66.3h0M70 38.4h0M83.1 64.7h0M59 31.1h0M75.1 60.6h0M37.1 71.7h0M86.7 34.2h0M77.4 54.2h0M64.2 58.5h0M79.8 36.1h0M69.3 55.3h0M70.9 63.6h0M54.6 17.1h0M85.9 71.2h0M81.7 65.2h0M64.5 14.6h0M86.9 55.4h0M87.4 44.6h0M74.2 53.2h0M47.7 35.5h0M97.4 50.2h0M96.4 49.2h0M83.6 68.9h0M72.7 46.6h0M78.7 26.1h0M92 58.7h0M42.3 53.1h0M47.7 17h0M70.8 27.2h0M88.7 48.6h0M90 31.3h0M30.7 22.7h0M93.6 35.2h0M71.2 44.7h0M73.9 29.1h0M82.9 63.9h0M57 61.4h0M86 47.4h0M61.4 24.5h0M60.6 14.5h0M78.5 55.4h0M86.4 57.3h0M73 21.5h0M67.8 73.4h0M55 40h0M62.6 25.6h0M71 73.8h0M87.4 33.8h0M87.5 66.5h0M54 61.2h0M78.8 44.3h0M87.7 50.6h0M78.6 35.9h0M33.3 18.9h0" stroke="#b040b8" stroke-width="1.1" stroke-linecap="round" fill="none"/><path d="M68.3 41.2h0M74.7 17.4h0M85.6 41.8h0M47.1 29.9h0M55.2 69.3h0M47.2 41.6h0M46.4 41.9h0M82.2 59.6h0M70.8 56h0M81 65.4h0M72.4 78.1h0M63.2 59.9h0M80.3 55.1h0M83 53.2h0M66.5 68.1h0M67.8 43.3h0M66.5 22.8h0M62.2 37.9h0M91.6 58.2h0M77.6 27.8h0M78.1 76.6h0M75.7 32.3h0M82.3 74.2h0M52.8 47.5h0M67 60h0M68.4 39.2h0M51 57.7h0M98.6 55.9h0M60.1 21.9h0M62.4 15.4h0M74.6 50.5h0M92 33.2h0M74.1 21.7h0M46.4 27.5h0M89.6 33.7h0M63 17.3h0M86.7 38.5h0M37.6 26h0M79.8 54.6h0M76.8 47.8h0M66.9 77.1h0M89.9 38.7h0M47.4 68.4h0M33.5 49h0M73.1 64.1h0M91.6 55.1h0M71.1 19.5h0M70.4 54.4h0M74.6 79.4h0M73.3 22.6h0M90.4 59.2h0M81.5 65h0M56.7 75h0M64.7 13.8h0M80.8 50.5h0M47.7 58.8h0M44.7 71.4h0M72.8 75h0M77.4 31.6h0M65 74.5h0M71.1 18.9h0M81.1 75.1h0M80.8 29.2h0M60.8 33.7h0M33 59h0M73.9 25.5h0M74.5 21h0M81.4 66h0M93.1 42.3h0M61.8 32.1h0M92.3 48.5h0M82.9 46.1h0M64.6 52.8h0M52.7 41.6h0M86.4 33.4h0M74.9 34.6h0M41.5 61h0M56.8 19.6h0M68.4 33.4h0M79.4 76.2h0M54.5 75.4h0M46.8 56.3h0M74.5 16.8h0M85.9 47.2h0M69.3 64.9h0M93.2 62.4h0M86.2 1.2h0M95.8 49.3h0M56.1 47.1h0M61.2 38.6h0M66.3 22.8h0M71.7 79.2h0M72.7 69h0M38 57.6h0M78 22.9h0M47.8 47.8h0M57.4 44.1h0M52 18h0M96.1 51.9h0M85.9 71.1h0M74.4 95.5h0M76.4 25.6h0M57.8 80.7h0M48.5 29.6h0M53.3 34.2h0M82 70.4h0M62.3 81.1h0M81.3 67.9h0M78.5 42.2h0M53.7 69.4h0M79.1 23.9h0M47.6 48.6h0M60.9 38.7h0M56.2 41.6h0M41.2 40.3h0M88.8 33.5h0M67.9 14.9h0M60.1 49.3h0M66.4 52.7h0M84.3 64.9h0M64.1 50.8h0M72 88.7h0M83.1 64.8h0M94.4 48.1h0M84.4 60.2h0M92.2 59.8h0M88.2 26.6h0M53.9 79.8h0M86.8 44.2h0M93.5 48.9h0M85 52.4h0M75.3 54.8h0M84.2 68.2h0M59.8 70.3h0M95.8 50.3h0M81.8 65h0M75.7 58h0M90.8 29.7h0M73.2 26.7h0M54.3 55.4h0M95.8 57.8h0M91 38.9h0M63 21.1h0M76.1 15.8h0M67.6 76.2h0M60.7 46.5h0M75.5 69.8h0" stroke="#b040b8" stroke-width="0.8" stroke-linecap="round" fill="none"/><path d="M73.1 74.3h0M81 39.2h0M86.8 47.9h0M90.7 65.8h0M69.1 34.6h0M80.3 50.8h0M89.6 59.6h0M86.1 25.5h0M83.3 34.2h0M94.6 33.2h0M92.2 37.7h0M74.8 30.1h0M78.2 40.1h0M85.3 25.4h0M92.9 37.2h0M88.1 38.2h0M88.1 26.8h0M85.3 54.2h0M81.4 46.7h0M88.7 66h0M78.8 21.5h0M88.6 46.8h0M96.6 44h0M85 7.4h0M83.2 71.6h0M77.6 50.6h0M82.8 19.4h0M89.1 27.6h0M84.6 32.3h0M86.5 65.8h0M79.9 74.2h0M92.3 39.4h0M75.5 63.6h0M91.6 49h0M91.9 55.6h0M92.9 53.8h0M74.4 71.3h0M91.2 65.6h0M90.8 60.2h0M70.9 27.7h0M92.3 62.8h0M87.3 43.5h0M92.7 33.6h0M92.5 59h0M79.9 74.2h0M94.7 41.9h0M91.4 55.5h0M86.5 41.1h0M94.5 57.3h0M90 52.7h0M84.6 62.2h0M92.7 56.8h0M86.1 41.7h0M93.1 60.6h0M82.4 25.4h0M90.5 39.2h0M70.8 71.6h0M91.6 46.3h0M86 42h0" stroke="#d060d8" stroke-width="1.1" stroke-linecap="round" fill="none"/><path d="M78.6 32.7h0M89 40.6h0M85.2 56.5h0M88.4 33.4h0M79 24.3h0M92.3 44.8h0M78.1 44.7h0M93.1 37.6h0M94.7 58.9h0M94.3 45.7h0M79.9 24.9h0M93.3 45.2h0M73.5 77.5h0M81.4 31.4h0M74.4 25.3h0M82.3 40.7h0M85.6 59.1h0M88.6 55.6h0M91.9 35.1h0M79.8 43.2h0M96.9 49h0M95.1 38.4h0M85 29.7h0M84.8 29.6h0M90.6 53.3h0M88.5 25.8h0M93.4 46.1h0M67.1 82.5h0M69.4 4.7h0M87.6 61h0M87.1 61.3h0M96.1 40.9h0M81.2 73h0M71.8 74.1h0M76.8 58.5h0M87.4 54.9h0M76.5 61.4h0M85.7 24.9h0M79.6 47.7h0M89.5 62h0M80.4 59.4h0M92 57h0M75.4 65.5h0M82.9 74.1h0M79.4 73h0M79.6 72.8h0M93.6 58h0M84.4 63.1h0M88.2 47.5h0M65.8 75.8h0M73 18.8h0M67.3 58.9h0" stroke="#d060d8" stroke-width="0.8" stroke-linecap="round" fill="none"/><line x1="97.90" y1="18.10" x2="97.90" y2="26.90" stroke="#fff" stroke-width="2.2" stroke-linecap="round"/><line x1="101.71" y1="20.30" x2="94.09" y2="24.70" stroke="#fff" stroke-width="2.2" stroke-linecap="round"/><line x1="101.71" y1="24.70" x2="94.09" y2="20.30" stroke="#fff" stroke-width="2.2" stroke-linecap="round"/></g><line x1="83" y1="104" x2="105" y2="104" stroke="#b0b0b0" stroke-width="1"/></g>
<g transform="translate(574,14)"><g clip-path="url(#cp)"><rect width="107" height="107" fill="#000"/><ellipse cx="53" cy="51" rx="46" ry="39" transform="rotate(-8 53 51)" fill="#140a16"/><g clip-path="url(#cpC)"><ellipse cx="28" cy="36" rx="24" ry="24" fill="#2a8a2c" opacity="0.6" filter="url(#bl3)"/><ellipse cx="72" cy="34" rx="26" ry="22" fill="#5a4a60" opacity="0.7" filter="url(#bl3)"/><ellipse cx="75" cy="62" rx="24" ry="20" fill="#40183f" opacity="0.7" filter="url(#bl3)"/><ellipse cx="96" cy="52" rx="4" ry="11" fill="#f0d8f0" opacity="0.6" filter="url(#bl1)"/><ellipse cx="45" cy="86" rx="34" ry="9" fill="#000" opacity="0.55" filter="url(#bl2)"/></g><path d="M51.6 26.3h0M39.2 65.9h0M41.8 42h0M53.5 28.3h0M45.6 52.4h0M45.2 38.3h0M18.3 73.7h0M42.2 44h0M36.4 63.5h0M42.2 49.4h0" stroke="#1f6e24" stroke-width="0.8" stroke-linecap="round" fill="none"/><path d="M51.9 22.3h0M53.3 32.4h0M36.7 86.5h0M40.3 55.5h0M32.8 68h0M49.3 14.6h0M31.6 69.3h0M28.2 82.6h0M42.5 42.7h0M54.4 15.5h0M45.4 44.8h0" stroke="#1f6e24" stroke-width="1.1" stroke-linecap="round" fill="none"/><path d="M42.3 14h0M38 26.1h0M54.9 11.9h0M37.6 44.4h0M29.4 67.8h0M38.1 22.4h0M17.5 68.3h0M32.8 70.3h0M30 66.1h0M47.3 22.1h0M19.6 73.6h0M42.7 23.8h0M26.2 58h0M39.2 30.6h0M32.7 44.6h0M19.9 54.7h0M38.4 58.9h0M37.6 23.5h0M25.5 55.4h0M41.7 18.1h0M39.4 43h0M38.6 46.9h0M41.8 21h0M37 18.8h0M39.5 40.3h0M55.9 15.5h0M42 64.3h0M27.6 46.4h0M38.8 50.2h0M49 15h0M41 45.8h0M31.5 67.5h0M31.7 69.2h0M49.1 34.9h0M32.6 68.6h0M37 71.6h0M42.4 20.1h0M27.7 45.4h0M29.3 48.7h0M35.2 47.3h0M46.3 24.7h0M35.9 32.6h0M27.6 58.3h0M41.5 32.5h0M42.9 28.1h0M39.4 32.5h0M54.4 29.7h0M32.2 34.9h0M17.8 70.4h0M30.3 56.2h0M15.5 70.9h0M28.7 59.8h0M40.2 35.9h0M26.8 40.7h0M38.3 47.5h0M46 39.1h0M27 39.7h0M35.2 32.3h0M30.3 71h0M48.1 17.2h0" stroke="#2fa035" stroke-width="0.8" stroke-linecap="round" fill="none"/><path d="M30.2 57.3h0M23.7 63.3h0M42.7 55.2h0M31.2 29.1h0M52.7 30.1h0M33.7 37.8h0M27.1 50h0M39.4 56.5h0M32.8 75.8h0M43.6 31h0M47.9 23h0M41.6 21.4h0M23.7 69.5h0M26 70.4h0M28.4 46.6h0M31.9 63h0M21 67.4h0M18.5 66.2h0M30.9 64.7h0M24.7 64.4h0M53.8 23.5h0M48.7 34h0M34 53.8h0M41.1 50.8h0M33.7 51.2h0M55.5 22.7h0M47.6 44.2h0M36.6 57.1h0M43.2 51.9h0M30.7 36.8h0M19.8 72.9h0M33.3 37.8h0M38.9 46.1h0M35.3 64.6h0M48.8 30.4h0M32.7 55.5h0M51.7 31.5h0M39.4 31.2h0M36.5 42.9h0M41.5 31.9h0M25.4 55.3h0M24.6 56.5h0M28 73.8h0M36.9 32.7h0M48 30.6h0M48.5 38.1h0M49.7 22.1h0M49.1 25.3h0M29.3 57.3h0M30.5 45.6h0M47.8 41.2h0M32.8 40.8h0M55.9 14.1h0M41.7 24.6h0M30.7 20.6h0M40 51h0" stroke="#2fa035" stroke-width="1.1" stroke-linecap="round" fill="none"/><path d="M13.9 56.9h0M16.9 61.8h0M21.4 27.9h0M36.4 17.3h0M22.4 54.1h0M13.8 62.6h0M19.2 44.5h0M25.8 35h0M13.3 67.8h0M10.6 43.9h0M34.4 17.5h0M14.7 44.6h0M32.1 30.2h0M20.8 52.7h0M22.6 35.6h0M22.7 54.4h0M24.7 62h0M31.2 40.4h0M19.5 42.7h0M15.6 47.6h0M37.5 25.2h0M34.5 16.5h0M23.1 46.4h0M24.9 39.3h0M18.6 27.3h0M39.5 29.6h0M20.9 68.8h0M19.1 34.7h0M15.4 67.1h0M32.1 21h0M45.4 13.1h0M23.8 23.2h0M16.6 49.3h0M18.1 62.2h0M22.2 64.5h0M26.2 60.4h0M12.3 41.8h0M18 46h0M24.9 27.9h0M13.5 61.5h0M13.5 43.9h0M15.1 53.2h0M16.8 41.6h0M19.3 45.4h0M22.7 41.9h0M14.3 54.4h0M15.5 31.7h0M23.1 51.6h0M28.6 19.1h0M29.6 24.9h0M27.1 45.6h0M22.3 66.1h0M36.4 17.6h0M26.5 39h0M18.7 66.4h0M28.9 48.8h0M41 33.4h0M38.1 31.5h0M18.9 57.9h0M28.9 34.8h0M31.2 20.9h0M8.3 47h0M24.5 38.8h0M13.9 53.5h0M22.3 33.8h0M30.2 39.1h0M21.8 29.1h0M24.3 32.4h0M33.6 38.8h0M26.6 48h0M18.5 42.2h0M27.3 30.1h0M34.4 46.1h0M24.7 28.6h0M14 61.6h0M27.4 35.4h0M24.4 56.4h0M20.2 56.8h0M31.7 51.4h0M27 39.8h0M17.2 63.1h0M23.4 51.9h0" stroke="#45c84a" stroke-width="0.8" stroke-linecap="round" fill="none"/><path d="M31.4 19.2h0M33.9 49.3h0M20.4 51.4h0M21.8 51.4h0M33.6 18.9h0M18.9 61.8h0M30.8 30.2h0M13.6 39.1h0M34.9 22h0M18.8 35.9h0M11.7 40.8h0M23.3 40.2h0M12.7 52.3h0M23 46.3h0M8.4 46.2h0M21.1 26.8h0M27 43.9h0M29.7 28.4h0M21.2 61h0M34.7 47h0M16 63.1h0M11.8 43.4h0M27.3 22.6h0M12.8 56.2h0M20.1 71.5h0M34.8 16.1h0M23.8 44.2h0M19.9 46.6h0M31.7 27.4h0M33.8 33.5h0M15.5 59.2h0M13.5 56.8h0M20 45.6h0M22.2 30.3h0M22.1 66.6h0M32 31.3h0M31.2 47.5h0M22 53.1h0M21 69.2h0M12 63.6h0M37.7 17.8h0M31.3 30.4h0M11.9 58.6h0M44.1 29.8h0M33.8 24.6h0M13.1 67.5h0M27.5 37.7h0M38 23.1h0M40.2 29.5h0M30.1 24.6h0M13 60.7h0M24.3 30.6h0M27.6 23.1h0M26.4 39.9h0M12.8 69.6h0M13.9 60.9h0M22.6 23.6h0M23.9 29.6h0M27.7 37.8h0M20.7 33.4h0M10.1 49.8h0M10.7 52.4h0M21.9 59.5h0M20.7 35h0M32.9 31.4h0M24.4 31.7h0M28.8 29.1h0M23.5 43.3h0M15.1 33.7h0M14.3 42.5h0M30.3 35.1h0M21.6 51.1h0M24.4 31.2h0M13.8 46.9h0M34.5 42.5h0M18.6 59.2h0M27.8 67.6h0M27.3 62.2h0M22.5 67.8h0M16.6 39.6h0M20.8 52.1h0M31.9 31.7h0M24.9 29.3h0M26.6 45h0M24.4 57.1h0M29.6 64.3h0M23.6 58.7h0M42.5 19.2h0M23.9 34.1h0M18.4 45h0M15.3 36.1h0M24.8 47.8h0" stroke="#45c84a" stroke-width="1.1" stroke-linecap="round" fill="none"/><path d="M23.9 22.2h0M16.1 66.6h0M30.1 19.6h0M11.3 40.6h0M15.3 32.8h0M24.9 21.4h0M11.4 47h0M27.5 24.1h0M14.7 41.3h0M11.7 53h0M9.7 41.8h0M15.3 40.3h0M8.9 61.3h0M10.9 46.3h0M14.6 51.8h0M9.4 45h0M12.7 46.5h0M7.5 49.1h0M12.1 48.5h0M10.6 27.9h0M25.8 28.7h0M11.9 56.8h0M14.1 33.2h0M9.3 63.7h0M15.6 57.6h0M15.8 58.6h0M10 46.5h0M10.5 46h0M17.8 34.2h0M10.7 48.2h0M8 45.5h0M2.5 48.2h0M8.7 55.1h0M9.9 39.8h0M22.4 27.9h0M24.1 28.1h0M20.2 25.4h0M12.1 35h0M16.8 58.3h0" stroke="#6ee070" stroke-width="0.8" stroke-linecap="round" fill="none"/><path d="M22.6 37.4h0M18.3 44.8h0M17.6 43.1h0M9.6 45.2h0M17.6 59.3h0M20.9 26.8h0M19.1 41.7h0M11.5 40.2h0M10.4 56.7h0M19.1 43.8h0M22.2 33.7h0M18.4 35.8h0M11.6 39h0M18.7 39.3h0M12.3 62.4h0M10.6 39.1h0M11.7 45.6h0M10.1 64.2h0M14.2 52.2h0M17 45.7h0M28.9 19.2h0M14.9 41.9h0M15.2 57.8h0M14.4 53.6h0M16.9 33.6h0M25 35.9h0M8.9 53.3h0M25.4 25.3h0M10.7 40.3h0M20.5 32.9h0M16 33.4h0M10.9 44.8h0M8 58.1h0M12.9 63h0" stroke="#6ee070" stroke-width="1.1" stroke-linecap="round" fill="none"/><path d="M73.9 59.3h0M39.4 16.7h0M55.8 89.3h0M54.8 54.4h0M56.3 15.9h0M71.3 52.9h0M41.5 74.6h0M93.4 56.5h0M25.7 55.4h0M60.1 62.8h0M89.2 26.7h0M69.2 53.9h0M68.4 38.6h0M90.2 63.2h0M59.5 51.3h0M66.6 18.9h0M42.4 61.1h0M47.2 66.9h0M80.1 59.2h0M65.9 52.7h0M24.4 65.4h0M59.6 59.9h0M50.2 74.5h0M96.8 48.7h0M65.3 29.2h0M47.3 17.8h0M89.6 27.9h0M65.7 59.3h0M90.9 61.6h0M47.7 78.7h0M38.3 55.6h0M34.6 39.8h0M61.4 71.3h0M84.7 30h0M27.3 60.9h0M54.3 68.1h0M70.8 17.2h0M60.5 76.1h0M97 54.6h0M48.1 71.5h0M60.1 20.4h0M59.4 67.7h0M80.8 29.4h0M65.5 23.5h0M89.3 28.3h0M50.4 15.3h0M26.4 66.2h0M32.8 61.4h0M29.1 76.2h0M60.9 71.3h0M30.3 48.4h0M83.8 65.5h0M66.3 52.4h0M50.5 57.1h0M70.1 18.8h0M60.1 77.8h0M29.3 31.5h0M103.5 55.9h0M27.3 80.2h0M71.4 57.5h0M66.8 54.3h0M68.6 52.9h0M66.8 22.3h0M56.8 33h0M49.9 68h0M23.6 58.3h0M43.3 86.1h0M81.9 40.5h0M76.3 65.2h0M63.9 64.9h0M66.7 26.3h0M27.6 62.3h0M55.4 43.3h0M57.5 26.1h0M67.6 69.7h0M41.1 75.9h0M19.8 66.6h0M96.2 38.7h0M41.6 16.7h0M77.5 70.7h0M30.9 33.6h0M57.1 81.2h0M68.6 42.2h0M66.2 80.4h0M56.9 88.6h0M66.2 60.3h0M53.3 56.1h0M65.3 55.4h0M32.3 56.4h0M54.5 79.3h0M75.5 78.4h0M23.4 76.5h0M77.1 22.1h0M32.5 61h0M74.2 56.2h0M65.9 63.4h0M83.5 68.5h0M74.5 46.3h0M52.1 57.7h0M86.8 74.5h0M63.9 38.3h0M75.8 46.4h0M48 22.4h0M61.4 44.6h0M34.9 68.9h0M88.7 65.1h0M89.7 37.4h0M90.3 36.4h0M46.6 54.8h0M88.2 54.4h0M95.2 40h0M97.3 46.7h0M16.8 72.6h0M75.1 35.8h0M71.8 74.8h0M29.4 59.6h0M79.5 64.2h0M74.4 63.9h0M14.7 48.9h0M49.2 90.1h0M81 57.6h0M60.9 83.8h0M54.3 83.2h0M98.5 50.5h0M42.4 32.6h0M25.4 72h0M84.3 33.5h0M69.6 28.3h0M31.8 41.2h0M47.3 79.4h0M52.4 87.5h0M87.3 24.3h0M34.7 25.2h0M43.2 46.2h0M37.3 60.6h0M33.5 66.7h0M52.3 68h0M97.6 42.8h0M24.2 25.5h0M41.2 37.2h0M95.4 58.2h0M26.2 36.7h0M46.7 60.6h0M92 33.2h0M74.8 45.8h0M73.5 59.4h0M66.8 47.2h0M56 76.4h0M30.4 24.8h0M88 52.3h0M33.7 20.1h0M84.5 40.8h0M45.4 60.3h0M87.1 54h0M43.1 89.1h0M74 76.8h0M70.8 63.4h0M57.2 34.6h0M59.9 47h0M26.2 66.8h0M76.6 52.1h0M96.5 41.8h0M68.3 58.4h0M86.3 24.8h0M80.9 71.6h0M51.6 25.3h0M61.9 34h0M36.8 61.1h0M62.4 61h0M70.7 44.1h0M46.8 61.6h0M57.9 26.7h0M52.8 72.4h0M43.5 52.7h0M24.9 51.2h0M56.7 58.9h0M74.4 42.4h0M45.9 25.3h0M32.4 41.8h0M57.6 57h0M42.8 24h0M37.3 80.8h0M67.4 50.8h0M94.4 47.1h0M77 55.4h0M66.8 37.9h0M79.9 67.4h0M46.5 67.4h0M53.4 52.5h0M81.9 70.6h0M45 66.3h0M71.6 60.8h0M86.5 35.8h0M92.4 59.1h0M41.1 85.2h0M44 73.3h0M73.5 68.7h0M87.4 53.8h0M95.2 59.1h0M86.1 75.3h0M66 28.7h0M56 80.4h0M43 37.5h0M81.2 62.4h0M54.2 41.9h0M37.2 56.9h0M50.3 30h0M56.9 83.4h0M16 56.1h0M76.3 72.1h0M48.8 39.8h0M68.3 54.5h0M74 21.4h0M92.5 66.5h0M45.6 71.4h0M83.2 54.9h0M45.1 63.4h0M96.6 37.3h0M36.9 52.9h0M45.9 44h0M98.3 54.4h0M60.7 52.2h0M49.1 65.6h0M82.3 70h0M50.8 21.4h0M32.6 45.6h0M34.4 86.3h0M62.1 28.9h0M45.4 54.5h0M77.8 67h0M43.3 51.7h0M62.2 61.6h0M90.5 36.7h0M47.7 64.7h0M93.2 65.4h0M43.3 80.4h0M44.3 43.2h0M78.2 78.3h0M82.7 63.1h0M90.7 58.4h0M89.3 60.8h0M77.4 53.6h0M26.8 72.7h0M85.6 57.7h0M69.5 83.4h0M62 55h0M54.5 73.9h0M66.3 56.9h0M59.3 13.3h0M68.1 61.1h0" stroke="#8a2a90" stroke-width="0.8" stroke-linecap="round" fill="none"/><path d="M67.3 49.6h0M81.3 39.7h0M31.1 81.5h0M51.8 28h0M86.1 54.9h0M45 76h0M42.8 65.9h0M42.8 44.3h0M56.2 12.8h0M71.8 36.5h0M28.6 50.7h0M35.1 55.5h0M92.4 54.7h0M87.6 47.6h0M39.2 77.1h0M33.2 55.6h0M19.7 40.3h0M86.1 72.3h0M54.8 71.7h0M30.9 78.3h0M50.5 38.8h0M57.3 25.4h0M22.7 79.8h0M60.9 51.1h0M76.8 58.3h0M63 44.1h0M58.4 49.9h0M70.4 56.6h0M38.3 27.7h0M74 21h0M84.8 51.2h0M97.3 47.9h0M58.9 34.2h0M80.1 16.9h0M45.8 41.4h0M95.6 59.8h0M35.5 74.2h0M54.2 76.3h0M90.5 71.8h0M85.8 23.6h0M66.4 19.8h0M43 22.4h0M83.6 69.2h0M65.9 37.4h0M76.5 61.2h0M46.9 71.7h0M38.2 42.8h0M42.9 38h0M40.7 57.2h0M33.6 53h0M74.3 31.8h0M72.4 57.2h0M65.3 87h0M36.1 63.8h0M64.1 42.9h0M61.8 81.4h0M11.8 63.6h0M91.9 63.7h0M19.2 46h0M86.4 54.4h0M67.3 96.7h0M72.5 62.3h0M63 42.8h0M21.2 30.1h0M85.3 34.4h0M38.9 81.7h0M39.2 77.3h0M73.9 22h0M38.9 84h0M78.5 50.6h0M49.9 88h0M51.9 86.4h0M26 62.7h0M52.3 56.8h0M47.5 72.6h0M30.7 66h0M34.8 55.3h0M42.6 77.4h0M51.9 22.4h0M51.3 67.7h0M45.6 57.3h0M84.3 69.3h0M89.8 55.5h0M52.3 82.1h0M14.3 44.2h0M84.8 70.2h0M50.5 70.9h0M40.3 61.9h0M45.6 58.7h0M32.1 64.4h0M44.3 89.6h0M22.7 47.1h0M88.2 54.1h0M58.8 64.4h0M78.8 22.7h0M83.5 36.9h0M93.9 62.9h0M65.4 43.7h0M50.7 64.1h0M52.4 13.6h0M24.8 28.3h0M45.3 77.2h0M68.2 14h0M45.8 53.2h0M61.9 28.7h0M53.3 22.2h0M46.7 51.2h0M73.6 65.9h0M40.8 64.7h0M53.5 74.3h0M59.1 89.3h0M19.9 60.7h0M86.3 36.6h0M53.8 60h0M89.1 69.6h0M48.9 62.8h0M46 88.9h0M23.4 56.6h0M95.5 50.9h0M94.4 47.9h0M71.8 49.4h0M36 41.9h0M60.8 36h0M94.4 39h0M33.9 32h0M75.1 57h0M69.1 16h0M57.9 49.9h0M78.4 41.4h0M24.5 80.9h0M43.2 64.2h0M57.7 19h0M75.7 48h0M102.1 63.7h0M68.9 28.9h0M69.3 64h0M59.3 77.5h0M58.5 13.4h0M53 27.9h0M73.8 19.1h0M27.7 69.4h0M59.3 56.4h0M21.5 46.8h0M82.1 49.7h0M27.1 66.2h0M17.6 58.9h0M40.6 23.2h0M41.7 46.2h0M97.6 45.3h0M73.5 72.7h0M19.1 43.7h0M51.4 84.2h0M87.8 34.3h0M82.8 23h0M45.1 24.4h0M23.7 41.9h0M18.8 61.2h0M45.3 73.7h0M84.2 32.3h0M71.7 78.6h0M34.7 63.8h0M33.9 62.1h0M93 64.4h0M84.5 71.6h0M54.2 54.3h0M60.8 61.9h0M43.4 25.4h0M62.4 51.4h0M28.5 23.2h0M80.9 43.5h0M74.1 25.5h0M70.4 54.9h0M87.8 63.3h0M54.2 57h0M73.8 68h0M67.8 58.7h0M79.6 73.4h0M94 63.8h0M62.1 88.6h0M71 38.5h0M29.6 69.8h0M48.1 26.3h0M86.9 50.3h0M35.3 33h0M65.2 25.1h0M62.4 46.2h0M60.3 52.5h0M66.9 55.9h0M66 63.1h0M33.5 43.4h0M48.5 29.3h0M81.3 53h0M60.1 58.4h0M74.3 65h0M76.7 25.9h0M71.4 55.7h0M55.2 67.1h0M60.3 38.8h0M68.6 84.6h0M81.6 35.5h0M39.1 75.3h0M66.2 75.5h0M58.4 54.7h0M53.7 64.6h0M49.9 59.4h0M54.9 65.8h0M81.5 29.8h0M27.4 61.7h0M49.4 30.2h0M71.4 32.4h0M59.3 58.6h0M40.2 61.4h0M71.4 31.6h0M33.5 70.1h0M65.7 29.8h0M33.2 20.1h0M79.9 65.7h0M67.4 84.3h0M54 27h0M32.1 40.1h0M74.8 36h0M56.5 81h0M95.1 51.4h0M66.3 19h0M80.4 26.5h0M84.4 24.1h0M70.5 62h0M83 49.6h0M73.1 32.9h0M65.3 33.6h0M74.8 35.6h0M77.8 51.3h0M36.7 68.9h0M73.2 27.3h0M82.9 32.3h0M75.9 61.7h0M22.7 40.4h0M30.8 67.1h0" stroke="#8a2a90" stroke-width="1.1" stroke-linecap="round" fill="none"/><path d="M91.3 40.1h0M22.7 66h0M56.3 56.9h0M83.1 72.9h0M65.3 54.7h0M85.5 64.1h0M63.6 59.7h0M42.6 67.6h0M88.2 53.3h0M97.8 54.1h0M42 40h0M36.6 67.1h0M42.4 63.1h0M44.3 63h0M18.5 77.2h0M47.5 58.6h0M45.9 83h0M67.5 57h0M47.3 32.2h0M60.2 64.3h0M42.1 46.8h0M72.5 67.7h0M94.1 51.5h0M71.1 70.7h0M85 56.7h0M58.1 61.3h0M87.7 64.3h0M59 64.1h0M77.9 53.9h0M58.5 68.9h0M30.8 23.7h0M64 83h0M43 34.4h0M37.2 46.8h0M25.6 31.4h0M31.5 82.8h0M88.3 30h0M62.8 61.8h0M84.6 37.1h0M33.7 57.9h0M41.8 62.9h0M67.8 76.7h0M92.9 63h0M82.5 54h0M73.7 74.6h0M89.3 70.7h0M46.6 89.8h0M13.6 65.8h0M56 58.3h0M80.2 20.3h0M82 72.7h0M61.2 83.6h0M71 61.8h0M70.5 55.7h0M84.9 43.2h0M56 76.9h0M83.3 70.3h0M88.2 47.7h0M79.4 32.2h0M56.7 27h0M47.8 57.7h0M37.9 42.2h0M39.6 46.8h0M79 33.8h0M58.2 44.5h0M72.6 66.9h0M41.9 16.3h0M89.9 62h0M54.2 39.6h0M70.2 67.9h0M91.1 45.9h0M69.9 36h0M46.9 81.1h0M42.5 51.6h0M92.4 55.9h0M81.5 59.9h0M60.7 79.1h0M78.5 63.7h0M62 24.8h0M94.5 52.9h0M73.8 67.6h0M31.8 45h0M36.3 56.2h0M95.6 35.8h0M71.1 65.3h0M82.9 76.9h0M82.6 45.9h0M91.6 56.4h0M82 51.9h0M55.7 26.6h0M89.3 50.5h0M60.1 39.6h0M71 64.4h0M26.9 25h0M89 62.5h0M84.5 41.2h0M62.5 16.4h0M55.5 21.7h0M70.5 34.8h0M78.1 32.9h0M25.1 70.2h0M40.5 72.9h0M48 51.1h0M90.7 64.7h0M86.9 23.6h0M49.1 79.1h0M96.4 55.5h0M87 66.4h0M79.2 63h0M74 81.4h0M82.2 76.7h0M59.3 13.5h0M84.5 47.5h0M46 36.9h0M17.2 75.4h0M30 54.7h0M84.6 67h0M81.6 66.7h0M66.6 67.4h0M31.7 81.6h0M61.9 21.4h0M78.2 52h0M61.2 52.1h0M29.8 69.7h0M48.4 39.3h0M43.2 52.1h0M16 60h0M73.1 18.6h0M88.6 62.7h0M59.6 61.3h0M53.8 22.2h0M54 47.1h0M61.8 77.5h0M32.7 86.7h0M46.1 71.4h0M31.7 39.1h0M37.9 46.9h0M82.4 63.6h0M24.9 76.1h0M75.9 33.8h0M31.9 55.1h0M54.4 90h0M45.3 42.3h0M61.3 53.6h0M56.6 47.8h0M83.7 69.2h0M40 52.2h0M30.6 68.8h0M58.1 42.8h0M71.3 51.9h0M70.7 15.7h0M30.6 78.3h0M42.2 26.5h0M51.9 82.8h0M90 63.2h0M57.5 19h0M48.4 72h0M75.9 22.9h0M54.7 30.8h0M90.2 39.2h0M73.6 18.1h0M61.8 65.4h0M40.7 24.6h0M79.7 68.1h0M81.4 51.7h0M68.6 62.9h0M49.5 25.4h0M47.3 60.6h0M79.1 23.1h0M72 74.1h0M84.3 57.8h0M81 40.6h0M54.6 58.6h0M52.7 71h0M64.3 84h0M82.1 60.4h0M28.7 55.7h0M60.2 80.9h0M91.1 61h0M59.8 28.7h0M44.4 31.4h0M91.6 43.7h0M36.3 59.6h0M51.8 57.2h0M37.7 22.2h0M60.2 14.5h0M41 34.1h0M43.5 61.9h0M84.4 38.1h0M48.6 33.7h0M11.8 63.4h0M46.2 68.8h0M73.7 31.6h0M69.1 53.9h0M46.2 51.5h0M43.6 61.6h0M67.7 84.8h0M82.2 28.9h0M16.5 71.7h0M77.8 43.4h0M27.2 74.1h0M25.1 69.9h0M67.2 40.7h0M59.3 52.7h0M72.8 70.8h0M73.8 22.4h0M53.6 64.5h0M83.7 59.2h0M70.6 71.9h0M88.9 41.6h0M32.2 41h0M93.1 53.5h0M60.3 74.7h0M44.4 81.9h0M36.9 33.4h0M45.1 87h0M66.2 38.9h0M61.2 64.9h0M60.8 80.5h0M53.1 47.9h0M87.9 28.9h0M47 38.3h0M79.4 39.1h0M61.3 57.4h0M74.5 60.2h0" stroke="#b040b8" stroke-width="1.1" stroke-linecap="round" fill="none"/><path d="M69 56.3h0M95.5 58.4h0M69.9 65.1h0M46.2 60.1h0M59.4 20.2h0M68.1 18.8h0M31.5 59.9h0M54.3 28h0M66.9 38.1h0M41.5 69.5h0M73 16.6h0M49.2 69.7h0M42.4 88.4h0M73.9 17.1h0M55.5 68.8h0M22.2 61.7h0M82.3 50.5h0M59.4 58.7h0M81.7 46h0M52 27.7h0M22.5 71.3h0M58.7 28.8h0M32.4 54h0M56.3 71.9h0M84.4 76.3h0M66.3 71.4h0M62 65.4h0M52.1 15.3h0M58.3 75.9h0M38.9 81.5h0M39.4 35.2h0M73.5 31.9h0M51.2 15.3h0M53.7 89.4h0M56.2 87h0M64.5 48.5h0M78.8 66.8h0M65.2 27.6h0M52.4 70.2h0M39.3 80.3h0M40.9 64.5h0M96.9 43.6h0M98.2 38.2h0M91.9 56.6h0M45.2 65.9h0M43.7 83.3h0M67.2 60h0M61.8 54h0M64.3 50.8h0M34.5 45.9h0M72.2 39.8h0M34.4 59.3h0M45.9 50.6h0M38.1 24.8h0M55.5 34.7h0M89.3 65.7h0M81.5 65.9h0M39.8 63.8h0M60.7 45.2h0M91.3 41.7h0M50.3 15.1h0M81.1 28.5h0M45.5 52.1h0M23.3 36.7h0M94 55.7h0M65 65.2h0M34.4 49.9h0M87.4 62.5h0M42.3 70.4h0M21.7 67.1h0M42.7 29.7h0M36 57.5h0M41.9 71.8h0M15.8 56.1h0M68 77.3h0M44 52.2h0M90.2 60.1h0M82.4 32.8h0M68.8 74.6h0M42.6 69.7h0M57.5 47.8h0M30.8 60h0M72.5 82.5h0M39.1 42.2h0M45 67.3h0M81 40.6h0M61.4 52.9h0M58.2 29.8h0M12.1 58.9h0M67.3 57.7h0M86.2 65.4h0M72.2 76.1h0M66.8 25.8h0M76.4 79.3h0M22.2 76.6h0M35.3 64.4h0M26 75.9h0M72.4 61.8h0M79.7 70.1h0M73.1 48h0M56.9 71.7h0M22.4 61.4h0M44.8 70.3h0M46.7 67.2h0M38.5 75.5h0M88.3 27.9h0M70.4 64.5h0M39.1 62.4h0M16.2 48.5h0M60 50.3h0M52.1 56.7h0M72.6 65.6h0M34.5 40.8h0M66.4 74.9h0M90.7 61.5h0M34.2 73.9h0M50.1 19.2h0M47.7 47.6h0M88.2 63.1h0M52.2 46.9h0M49.6 20.2h0M73.1 43.8h0M75.1 24.5h0M30.5 83h0M78.6 66.2h0M51.5 85.7h0M28.5 63.2h0M25.1 36.3h0M42.8 47.7h0M53.7 60.4h0M76.8 41.3h0M54.9 85.7h0M58.2 69.3h0M73.3 57.8h0M75.5 47.1h0M91.5 50.9h0M50.9 39h0M86.6 66.2h0M36.7 46.1h0M63.9 60.2h0M74.1 65.1h0M65.7 67h0M74.9 50.8h0M51.4 25.7h0M50.9 69.4h0M49.2 28.4h0M65.3 51.4h0M81.2 73.6h0M93 31.2h0M28.1 61.2h0M38.1 42.9h0M95.3 39.5h0M62.2 16.2h0M72.4 62.5h0M72.8 81.9h0M38.3 53.4h0M90.1 54h0M89.5 41.9h0M30.8 79.7h0M50.1 16.8h0M55.4 26.1h0M78.2 28.5h0M65.4 14h0M46.7 33.1h0M54.5 19.6h0M41.7 84.9h0M95.7 49h0M41.2 53.9h0M63.5 87h0M67.4 48h0M39.2 73h0M71.8 30.6h0M74.8 62.7h0M55.8 53.3h0M98.1 50.1h0M81.2 36.5h0M56.5 21.5h0M45.8 36.7h0M75.1 40h0M60.7 53.7h0M73.5 51.1h0M32.1 61.7h0M89.5 63.9h0M71 81.5h0M30.2 36.5h0M75.8 49.3h0M54.8 89.2h0M75.9 78.6h0M65.8 21.4h0M88.7 54.4h0M88.7 46h0M90.9 60.7h0M61.3 54.3h0M23.9 57.1h0M40.1 54.8h0M45 69.1h0M93.8 48.7h0M72 59.4h0M65.4 66.6h0M64.1 39.6h0M89.7 57.9h0M50.5 30.4h0M40.7 67.7h0M58.1 77.4h0M69.6 50.9h0M55.5 12.5h0M26.8 65h0M44.3 61.6h0M53.4 32.1h0M31 46.5h0M63.6 18.9h0M77.3 57.9h0M48.4 56.7h0M75.6 52.2h0M44.3 71.5h0M83.9 63.9h0M23 53h0M45.1 40.1h0M71.1 59.5h0M63.6 50.7h0M72.3 41.5h0M71.8 60.8h0M93.3 55.6h0M50.2 59.2h0M76.9 18.4h0M60.1 70.1h0M52 37.3h0M62.5 38.9h0M32.9 85.6h0M57.5 56.5h0M92.2 34.4h0M71 47.7h0M41.6 13.9h0M38.7 59.6h0M86.1 48.1h0M29.4 82.3h0M25.4 29.2h0M68.4 33.8h0M41.9 14.2h0M42.5 74.5h0M87.7 51.3h0M79.7 49.1h0M61.7 82h0M58.4 26.1h0M72.8 72.7h0M88.2 57.7h0M62.6 38.1h0M69.7 17.9h0M11.8 52.3h0M84.1 55.7h0M34.8 20.1h0M92.4 39.4h0M21.5 72.4h0" stroke="#b040b8" stroke-width="0.8" stroke-linecap="round" fill="none"/><path d="M48.3 46.7h0M79 27.6h0M96.9 51.6h0M77.1 71.4h0M76.5 44.7h0M87.6 47.9h0M85.6 42.6h0M79.9 52h0M89.6 35.4h0M48.9 49h0M74.7 43.4h0M46.6 33.7h0M78.8 24h0M83.5 52h0M65.4 33.7h0M53.3 73.9h0M53.5 40.1h0M68.5 22.6h0M80.3 62.7h0M49.5 29.8h0M61.8 2.4h0M73.4 36.1h0M54.5 35.7h0M47.5 75.2h0M49.7 24.1h0M49 49.4h0M68.3 36.2h0M61.7 57.7h0M83.9 60.7h0M75 58.1h0M47.7 42.9h0M81.9 23.4h0M64.6 40.5h0M81.3 31.6h0M82.8 28.6h0M72.3 34.7h0M70.4 40.3h0M59 32.5h0M94.5 54.5h0M54.7 56.1h0M58.9 19.7h0M82.9 25.3h0M29.7 69.9h0M58.1 59.6h0M37.6 25.9h0M60.5 60.5h0M83.3 40h0M69.3 21h0M75.6 38h0M64.2 31.4h0M75.3 68.6h0M86.7 49h0M53.5 13.1h0M19.5 38h0M67.6 36.7h0M53.4 38h0M88.3 37.3h0M87.5 63.6h0M72.1 42.8h0M53.9 37.3h0M72.4 41.9h0M90.3 65.7h0M74.4 25.7h0M35.3 75.1h0M88.5 42.2h0M20.7 45.5h0M97.2 48h0M59.1 23.4h0M78.3 17.7h0M66.5 48.6h0M80.2 56.5h0M63.9 68.4h0M29.7 31h0M31.1 44.2h0M76.8 42.3h0M19.5 60.4h0M69.5 18.1h0M75.2 30.3h0M71.8 44.2h0M77.4 58.5h0M29.5 84h0M77 37.6h0M35.5 48.5h0M80.9 79.9h0M83.5 24.2h0M79.2 50h0M86.2 30.3h0M60.8 21.4h0M85.6 47.3h0M28.6 67.1h0M27.1 51.5h0M61.9 26.1h0M45.3 47.1h0M91 65.7h0M52.2 18.7h0M71.4 42.3h0M37.2 61h0M59.9 69.9h0M91 42.2h0M74.4 47.2h0M77.3 26.3h0M54.3 69h0M77.9 81.8h0M62.2 23h0M58.2 36.6h0M52.3 34.2h0M88.3 35.7h0M58.4 34.6h0M49.6 15.2h0M64.8 47.1h0M80.2 27.3h0M47.4 47.4h0M84.8 43.7h0M67.3 20.6h0M57.5 49.5h0M79.7 56.3h0M63.7 49h0M79.7 22.3h0M68.9 61.7h0M58.7 25.8h0M74.5 43.9h0M42.8 45.9h0M77.4 40.5h0M42.7 29.5h0M78.2 42.5h0M89.7 32.8h0M94.4 62.1h0M26.4 54.1h0M95.6 47.9h0M84.6 24.5h0M51.5 71h0M84.5 22.1h0M69.7 15.2h0M74.2 42.9h0M66.9 53.2h0M52.5 49.1h0M92.4 32.9h0M45 64.8h0M55.8 58.1h0M56.7 88.4h0M73 20.8h0M35.6 79.5h0M79.1 37.5h0M77.6 45.1h0M49.8 40.8h0M41.8 52.8h0M16.2 41.7h0M88.7 38.4h0M60.3 38.2h0M47.3 22.7h0M28.6 36.9h0M82.8 71.5h0M69.3 55.1h0M76.3 51.5h0M51 46.8h0M71.3 21.9h0M91.1 30.2h0M50.9 46.3h0M60.9 88.5h0M86 42.7h0M85.1 48.5h0" stroke="#ece4ec" stroke-width="0.8" stroke-linecap="round" fill="none"/><path d="M46 39h0M65.1 26.1h0M60.4 80.2h0M60.3 45.3h0M63.4 34.1h0M92.3 39.1h0M48.6 79.4h0M68.5 18.1h0M59 32.6h0M76.4 25.9h0M49.5 31.8h0M57.5 38.4h0M44.7 27.7h0M31.5 35.9h0M63.6 27.1h0M61.3 41.6h0M61.2 43.8h0M96.6 50.7h0M30.2 42h0M40.6 46.5h0M58.9 61.1h0M94.8 37.6h0M49.2 50.5h0M22.9 42.2h0M36.8 35.5h0M55.7 68.1h0M94.8 4.7h0M56.3 26.6h0M42.1 28.5h0M59 14.5h0M85.4 42h0M94.8 45.6h0M62.3 44.5h0M69 23.4h0M85.5 27.4h0M60.6 48.4h0M89.9 47.2h0M76.7 24.7h0M31.7 72.9h0M44.1 43h0M64.8 17.6h0M82.1 33.4h0M70.4 36.2h0M79 24.1h0M88.2 64.3h0M57.5 19h0M84.5 21.7h0M76.5 47.2h0M48 66.3h0M48.6 89.5h0M77.5 23.6h0M61 22.6h0M84.9 24.8h0M60.7 70.8h0M79.7 39.8h0M45.7 46h0M65.4 15.2h0M66.3 36h0M81.8 41.7h0M79.1 20.8h0M89.8 46.5h0M74.5 36.6h0M67.4 19.7h0M53.7 26.7h0M69.7 29.9h0M69.7 18.8h0M79.3 41.4h0M79 19.1h0M54.6 33.6h0M91.3 37.6h0M68.7 49.5h0M46.6 38.8h0M81.6 70h0M74.3 70.4h0M69.2 64.1h0M66.1 48.4h0M79.8 23.9h0M55.1 45.3h0M57.6 83.6h0M72 76.5h0M66.1 41.5h0M50.8 25.2h0M67.4 26.1h0M85.6 31.2h0M44.7 53.5h0M38.9 31.9h0M45.3 20.4h0M64.8 34.7h0M85.4 23.7h0M79.3 40.3h0M74.1 32.5h0M65.5 34.6h0M72.6 43.1h0M58.4 25.4h0M70.2 34h0M78.5 59.3h0M69 40.9h0M52.7 48.2h0M93.1 31.3h0M23 56.5h0M88.8 28.6h0M88.7 63.4h0M63.5 18.4h0M84.8 34.4h0M90.1 68.1h0M90.6 27.6h0M55.3 30.4h0M49.8 28h0M90.8 39.1h0M56.1 20.4h0M89.6 26.8h0M50 23.8h0M73.6 21.4h0M67.7 20.4h0M40.5 45.7h0M54.5 67.5h0M68.6 23.2h0M37.5 42.9h0M37.6 16.5h0M54 45.8h0M26.2 24.5h0M61.7 80.3h0M80.2 41.2h0M80.7 45.7h0M97.5 44.9h0M79.8 46.4h0M56 18.9h0M78.3 34.2h0M63 13h0M49.6 13h0M76.6 74.7h0M76.6 18.2h0M35.9 73.5h0M88.3 31.3h0M83.7 28.2h0M36.2 48.8h0M40 41.8h0M80 45.4h0M49 25.1h0M38.4 49.4h0M85.8 20.4h0M65.7 29.7h0M65.3 14.6h0M83 39.1h0M54.8 25.9h0M34.8 83.8h0M78.5 41.2h0M86 37.4h0M73.9 47.7h0M81 48.2h0M51.7 49.8h0M64 16h0M73.3 26.2h0M55.3 55.2h0M86.6 25.5h0M85.2 39.6h0M50.2 72.4h0M61.8 48.8h0M62.3 77.4h0M47.7 73.8h0M88 50h0M58.8 46.8h0M65.7 32.3h0M12.2 67.9h0M64.2 47.7h0M79.3 38.7h0M90.2 46.5h0M81.6 35h0M90 61.1h0M81.2 34.8h0M84.6 35.5h0M69 45.1h0M65.1 49.1h0M75 35.9h0M57 21.6h0M93.3 51h0M45.4 54.5h0M32.1 32.2h0M63.6 29h0M49.3 49.1h0M51.1 14.6h0" stroke="#ece4ec" stroke-width="1.1" stroke-linecap="round" fill="none"/><path d="M18 63h0M22.5 77.5h0M35 80h0M36.5 87.5h0M36 89h0" stroke="#f0f0f0" stroke-width="1.8" stroke-linecap="round" fill="none"/></g><line x1="82" y1="104" x2="105" y2="104" stroke="#b0b0b0" stroke-width="1"/></g>
<g transform="translate(351,122.8)"><g clip-path="url(#cp)"><rect width="107" height="107" fill="#000"/><defs><linearGradient id="gD1" x1="0" y1="0" x2="1" y2="0"><stop offset="0" stop-color="#0f3a12"/><stop offset="0.5" stop-color="#1e5a22"/><stop offset="1" stop-color="#0f3a12"/></linearGradient></defs><path d="M35,0 L60,0 L61,40 L60,107 L36,107 L34,40 Z" fill="url(#gD1)" filter="url(#bl05)"/><polygon points="8,30 18,26 30,30 33,45 32,70 30,90 26,100 22,97 16,85 10,65 7,45" fill="#103812" filter="url(#bl2)"/><polygon points="66,25 80,22 92,19 97,35 98,55 95,75 88,92 80,104 74,100 70,85 65,65 63,45" fill="#134215" filter="url(#bl2)"/><path d="M74,42 C78,36 84,40 88,44 C86,50 84,56 80,58 C76,55 72,52 70,47 C71,45 72,43 74,42 Z" fill="#3fbf44" opacity="0.75" filter="url(#bl1)"/><path d="M84,32 L91,20 L92,22 L86,34 Z" fill="#3fbf44" opacity="0.8"/><line x1="34" y1="0.1" x2="61" y2="0.6" stroke="#000" stroke-opacity="0.13" stroke-width="0.9"/><line x1="34" y1="3.0" x2="61" y2="3.9" stroke="#000" stroke-opacity="0.13" stroke-width="0.9"/><line x1="34" y1="5.6" x2="61" y2="6.5" stroke="#000" stroke-opacity="0.13" stroke-width="0.9"/><line x1="34" y1="7.6" x2="61" y2="7.6" stroke="#000" stroke-opacity="0.13" stroke-width="0.9"/><line x1="34" y1="11.2" x2="61" y2="11.5" stroke="#000" stroke-opacity="0.13" stroke-width="0.9"/><line x1="34" y1="13.9" x2="61" y2="13.1" stroke="#000" stroke-opacity="0.13" stroke-width="0.9"/><line x1="34" y1="16.2" x2="61" y2="15.7" stroke="#000" stroke-opacity="0.13" stroke-width="0.9"/><line x1="34" y1="18.9" x2="61" y2="19.1" stroke="#000" stroke-opacity="0.13" stroke-width="0.9"/><line x1="34" y1="21.1" x2="61" y2="20.5" stroke="#000" stroke-opacity="0.13" stroke-width="0.9"/><line x1="34" y1="24.1" x2="61" y2="24.9" stroke="#000" stroke-opacity="0.13" stroke-width="0.9"/><line x1="34" y1="27.3" x2="61" y2="26.6" stroke="#000" stroke-opacity="0.13" stroke-width="0.9"/><line x1="34" y1="30.0" x2="61" y2="29.3" stroke="#000" stroke-opacity="0.13" stroke-width="0.9"/><line x1="34" y1="32.5" x2="61" y2="31.8" stroke="#000" stroke-opacity="0.13" stroke-width="0.9"/><line x1="34" y1="34.6" x2="61" y2="35.3" stroke="#000" stroke-opacity="0.13" stroke-width="0.9"/><line x1="34" y1="37.5" x2="61" y2="36.9" stroke="#000" stroke-opacity="0.13" stroke-width="0.9"/><line x1="34" y1="41.0" x2="61" y2="41.7" stroke="#000" stroke-opacity="0.13" stroke-width="0.9"/><line x1="34" y1="43.0" x2="61" y2="43.9" stroke="#000" stroke-opacity="0.13" stroke-width="0.9"/><line x1="34" y1="45.9" x2="61" y2="46.3" stroke="#000" stroke-opacity="0.13" stroke-width="0.9"/><line x1="34" y1="48.3" x2="61" y2="49.2" stroke="#000" stroke-opacity="0.13" stroke-width="0.9"/><line x1="34" y1="51.5" x2="61" y2="52.4" stroke="#000" stroke-opacity="0.13" stroke-width="0.9"/><line x1="34" y1="54.4" x2="61" y2="54.0" stroke="#000" stroke-opacity="0.13" stroke-width="0.9"/><line x1="34" y1="56.6" x2="61" y2="55.9" stroke="#000" stroke-opacity="0.13" stroke-width="0.9"/><line x1="34" y1="59.0" x2="61" y2="58.2" stroke="#000" stroke-opacity="0.13" stroke-width="0.9"/><line x1="34" y1="61.9" x2="61" y2="62.1" stroke="#000" stroke-opacity="0.13" stroke-width="0.9"/><line x1="34" y1="64.3" x2="61" y2="64.7" stroke="#000" stroke-opacity="0.13" stroke-width="0.9"/><line x1="34" y1="67.3" x2="61" y2="67.0" stroke="#000" stroke-opacity="0.13" stroke-width="0.9"/><line x1="34" y1="70.5" x2="61" y2="70.5" stroke="#000" stroke-opacity="0.13" stroke-width="0.9"/><line x1="34" y1="72.7" x2="61" y2="72.7" stroke="#000" stroke-opacity="0.13" stroke-width="0.9"/><line x1="34" y1="75.8" x2="61" y2="74.9" stroke="#000" stroke-opacity="0.13" stroke-width="0.9"/><line x1="34" y1="78.8" x2="61" y2="77.8" stroke="#000" stroke-opacity="0.13" stroke-width="0.9"/><line x1="34" y1="81.2" x2="61" y2="81.9" stroke="#000" stroke-opacity="0.13" stroke-width="0.9"/><line x1="34" y1="83.2" x2="61" y2="83.8" stroke="#000" stroke-opacity="0.13" stroke-width="0.9"/><line x1="34" y1="86.3" x2="61" y2="86.4" stroke="#000" stroke-opacity="0.13" stroke-width="0.9"/><line x1="34" y1="88.6" x2="61" y2="87.7" stroke="#000" stroke-opacity="0.13" stroke-width="0.9"/><line x1="34" y1="91.5" x2="61" y2="92.4" stroke="#000" stroke-opacity="0.13" stroke-width="0.9"/><line x1="34" y1="94.2" x2="61" y2="94.7" stroke="#000" stroke-opacity="0.13" stroke-width="0.9"/><line x1="34" y1="97.6" x2="61" y2="98.5" stroke="#000" stroke-opacity="0.13" stroke-width="0.9"/><line x1="34" y1="99.7" x2="61" y2="99.5" stroke="#000" stroke-opacity="0.13" stroke-width="0.9"/><line x1="34" y1="102.6" x2="61" y2="103.2" stroke="#000" stroke-opacity="0.13" stroke-width="0.9"/><line x1="34" y1="104.9" x2="61" y2="105.4" stroke="#000" stroke-opacity="0.13" stroke-width="0.9"/><path d="M25.1 83.5h0M95 66.5h0M30.8 68.5h0M80.4 40.1h0M28.1 88.3h0M82.5 62h0M88.5 54.9h0M74 51.4h0M90.6 66.5h0M56.5 96.9h0M73.3 24.4h0M60.9 8.9h0M46.5 105.7h0M53.1 103h0M82.4 40.7h0M46.8 75.1h0M75.9 25.3h0M26.3 99.3h0M87 74.3h0M94.8 39.9h0M49.4 91.2h0M32.3 56.3h0M50 17.9h0M38.2 82.7h0M94.8 34.1h0M91.4 31.5h0M42.8 73h0M10 61h0M40.4 105.8h0M92 50.6h0M93.2 60.7h0M19.5 74.2h0M59.5 92.9h0M59.7 64.7h0M55.2 100.4h0M25.1 95.7h0M85.2 47.4h0M14.8 54.2h0M39.7 20.7h0M73.9 49.8h0M38.3 79.3h0M8 41.8h0M89.9 26.2h0M30.1 79.4h0M52.6 95.1h0M41 44.2h0M84.4 88.1h0M26.4 48h0M60 31.7h0M93.1 28h0M69.8 78.7h0M89.7 75h0M54 68.5h0M57.4 15.9h0M72.9 91.2h0M44.2 88.2h0M48.2 100.7h0M20.1 85.9h0M34 52.2h0M22.3 95.6h0M42.4 6.9h0M59.8 100.9h0M77.5 53h0M59.9 49.1h0M34.1 65.9h0M30.1 64.6h0M36.1 64.8h0M68.2 52.8h0M92.8 22.9h0M51.6 68.2h0M73.5 81.1h0M72.8 25.8h0M25.4 91.4h0M29.7 77.5h0M45.3 41.4h0M34.3 92.3h0M12.7 70.7h0M80.5 76.6h0M30.8 80.1h0M21.4 93h0M17.5 74.2h0M40.8 64.2h0M8.1 52.3h0M77.6 60.1h0M92.1 19.8h0M53.9 87.2h0M81 38.6h0M80 74.6h0M59.4 89h0M46.3 18.9h0M80.3 83.7h0M42.5 2.3h0M66 27.9h0M19.2 47.1h0M46 52.8h0M54.7 48.2h0M49.9 68.9h0M90.6 19.9h0M45.8 63.7h0M50.6 90.7h0" stroke="#1f6e24" stroke-width="1.2" stroke-linecap="round" fill="none"/><path d="M47.9 66.5h0M83.2 92.7h0M47.9 76.9h0M82.5 53h0M41.7 85.7h0M54 4.5h0M68 67.4h0M24.7 71.8h0M29.1 85.1h0M22.2 87.7h0M92.7 77.3h0M55.7 58.3h0M66 38h0M77.7 50.1h0M55.1 91.2h0M91.1 61.7h0M72 58.7h0M87.5 33.4h0M74.4 34.4h0M85.9 29.2h0M49.7 41.1h0M60.3 100.4h0M71.4 52.8h0M25.7 71.1h0M56.9 2.5h0M60.8 84.9h0M87.8 22.1h0M83.4 78.5h0M47 53.2h0M69.2 34.5h0M39.1 104.4h0M36.1 17.6h0M14.4 53.4h0M75.7 31.2h0M40 39.1h0M54.6 47h0M44.8 17.3h0M58.3 17h0M48.9 5.5h0M40.7 46.6h0M9.5 53.8h0M25.6 82.4h0M77 29.1h0M50.7 10.9h0M46.3 27.9h0M60 75.4h0M11.9 53.7h0M22.6 68.8h0M47.7 60.6h0M55.4 40.4h0M44.9 25.5h0M43.4 34.5h0M96.2 43.3h0M24.4 30.8h0M77.5 89.2h0M96.4 56.7h0M37.1 101.6h0M85.2 25.1h0M31.1 77.1h0M43.3 1.6h0M83.9 87.1h0M46.8 57.4h0M74 89h0M86.4 37.2h0M93.9 77.2h0M38.4 105.4h0M39.5 41h0M78.5 80.6h0M29.8 30.3h0M25.1 97.2h0M79.3 99h0M50.4 47.6h0M34.2 75.4h0M39.5 37.5h0M71.5 85.2h0M32.1 56h0M40.7 22.9h0M67.3 28.4h0M69.8 31.6h0M89.2 88.1h0M69.6 79.6h0M87.7 74.4h0M68.9 106.9h0M94.3 52.7h0M88.7 86.8h0M73.7 42.1h0M94.5 71.6h0M69.8 64h0M39.8 15.3h0M55.5 37.3h0M68.7 34.2h0" stroke="#1f6e24" stroke-width="1.7" stroke-linecap="round" fill="none"/><path d="M65.2 59.5h0M28.3 73h0M69.3 76.9h0M80.2 36.9h0M73.5 94.6h0M14.8 77.2h0M28.4 80.3h0M94.5 44.3h0M21.7 35.9h0M85.9 50.7h0M74.5 94.4h0M95.1 59.3h0M68.1 27.2h0M18.8 59.7h0M66.3 35.2h0M86.3 88.1h0M86.6 68.9h0M21.3 28.3h0M13.2 31.1h0M27.7 48.7h0M78.3 84.8h0M85.2 67.2h0M83.1 19.4h0M84 81.5h0M70 43.9h0M81.4 89.2h0M75.5 56.2h0M16.7 38.9h0M84.2 75.1h0M16 30.5h0M92.3 71.9h0M22.2 27.8h0M76.1 69.7h0M77 49.8h0M89.3 72.4h0M91.3 22h0M20.4 60.3h0M11.5 69.7h0M78.6 37.6h0M87.9 91.4h0M8.3 40.1h0M9.7 41.3h0M16.5 86h0M76.2 95h0M74 88.4h0M13.1 37.7h0M17.5 65.2h0M23.8 94.2h0M83.2 89.9h0M68 36.3h0M27.9 66.1h0M91.1 30.1h0M96.8 50.4h0M81.2 61.6h0M93.9 57.9h0M28 72h0M16.1 52h0M11.8 37.3h0M86.6 11.3h0M86.1 84.9h0" stroke="#2fa035" stroke-width="1.7" stroke-linecap="round" fill="none"/><path d="M81.4 21.7h0M30.8 80.3h0M71.1 31.6h0M87.2 73.5h0M14.1 63.9h0M88.9 21.6h0M13.3 42h0M28.7 41.7h0M75.4 43h0M66.2 60.7h0M27.2 87.3h0M23.5 52.8h0M64.2 45.3h0M27.5 76.1h0M78.1 31h0M30.9 76h0M9.1 42.5h0M19.2 26.8h0M26.6 47.4h0M18.4 35.8h0M94.7 32.6h0M75.3 23.7h0M76.3 76.3h0M21.2 29.1h0M64.6 36.6h0M31.9 62.5h0M84.9 88.8h0M14.9 54.9h0M96.3 45.4h0M76 40.9h0M8.9 53.3h0M68.5 66.3h0M16.6 74.2h0M28.7 52.2h0M15.7 79.8h0M76.3 50.1h0M71.8 25.9h0M94.1 59.8h0M27.1 36.1h0M79.6 90.2h0M90.3 77.7h0M30.6 45.9h0M26.2 83.3h0M85 66.6h0M78.7 66.3h0" stroke="#2fa035" stroke-width="1.2" stroke-linecap="round" fill="none"/><path d="M17.5 79.4h0M78 26.1h0M82 97.8h0M81.1 59h0M82.5 25.5h0M26 42.2h0M20.4 33.8h0M84.7 95.9h0M64.3 52.9h0M77.1 47.2h0M88.9 56.8h0M10.5 60.2h0M22.4 64.2h0M16.8 84.4h0M31 44.6h0M26 95.9h0M22.9 29h0M8.5 36.4h0M96.9 50.5h0M76.7 45.8h0M32.2 55.9h0M83 84.2h0M90.5 27.3h0M90.6 77.4h0M89.1 74.5h0M83.2 79.7h0M71.2 87h0M69.9 70.3h0M22.6 67.1h0M69.4 76h0M92.1 30.6h0M64.4 46.1h0M8.9 67.5h0M28.9 65.4h0M28.7 70h0M96.6 59.4h0M75.6 96.4h0M83.6 73.9h0M27.6 37.5h0M90.8 82.5h0M17.4 77.2h0M29.8 58.8h0M87.3 48.2h0M25.9 61.5h0M23.6 30.9h0" stroke="#45c84a" stroke-width="1.2" stroke-linecap="round" fill="none"/><path d="M92.8 70.1h0M31.2 66.8h0M69.6 27.1h0M28 88.3h0M25.9 59h0M18.9 80.2h0M73.6 89.2h0M7.7 39h0M79.1 41.8h0M18 29.8h0M96.5 10.7h0M28.6 83.3h0M65.3 35.7h0M26.9 67.3h0M85.4 23.1h0M9.9 36.8h0M93.2 74.5h0M69 77.4h0M30.5 34h0M75 57.1h0M79.4 42.4h0M69 49.5h0M90.5 46.7h0M79 47.1h0M79.6 39.5h0M9.7 39.1h0M20.5 75.4h0M14.2 27.9h0M88.6 36.9h0M91.3 31.9h0M84.3 61.2h0M73 42.9h0M96.8 39.8h0M32 62.8h0M88.6 81.9h0M25.5 98.9h0M12 56.6h0M18.6 63.1h0M84.5 51.2h0M87.7 82.6h0M87.5 43.4h0M64.3 53.9h0M68.1 24.6h0M22 50.9h0M30 61.3h0M73.4 34h0M63.9 43.9h0M29.9 57.2h0" stroke="#45c84a" stroke-width="1.7" stroke-linecap="round" fill="none"/><path d="M96.2 39.1h0M10.5 64.3h0M79.4 22.8h0M86.9 51.7h0M94.3 28.4h0M18.6 78.3h0M83.7 84.9h0M73.3 77.4h0M87.4 88.7h0M88.3 88.1h0M29.3 77.6h0M81.8 23.3h0M63.3 33.8h0M72.7 28h0M24.8 37.3h0M105.2 32.5h0M75.3 88.6h0M18.6 30.4h0M79.2 79.7h0M91.4 29.7h0M87.3 87.7h0M12.2 34.2h0M78.6 99.3h0M83.5 36.2h0M93.7 26.6h0M68.9 32.8h0M79.3 97.5h0M82 36.6h0M94.4 57.6h0M30 30.5h0M87.5 40.7h0M71.2 26h0M80.8 45.3h0M81.6 44.6h0M15.9 29h0M83.6 60.3h0M69.3 57h0M74.3 77.6h0M10.9 61.6h0M11.5 65.8h0M26.9 38.1h0M88 68.3h0M83.9 24.7h0M79.3 102.8h0M70.6 51.2h0M31.7 63.1h0M93.2 45.1h0M65.8 27.9h0M82.6 92.9h0M98.7 82.6h0M32.9 45.1h0M73.1 79.3h0M19 31.2h0M31.2 63h0M88.6 79.1h0M96 39.6h0M90.7 85.2h0M26.4 73.2h0M91.9 80.5h0" stroke="#6ee070" stroke-width="1.7" stroke-linecap="round" fill="none"/><path d="M91.1 62.5h0M76 58.9h0M16.4 58.9h0M23.5 60.8h0M28.6 85h0M85.9 41h0M84.3 80.9h0M18.6 81h0M26.2 95.9h0M31.9 70.5h0M30.5 79.6h0M28.2 63.2h0M31 48.8h0M70 24.4h0M19.9 30.6h0M73.5 78h0M74 23.4h0M22.1 41.3h0M82 51.9h0M78.9 76.6h0M29.6 31.1h0M70.9 24.1h0M11 51.8h0M23.8 30.6h0M88.5 57.5h0M29.5 81.1h0M94.1 65.5h0M21.3 94.5h0M69.4 37.1h0M29 32h0M66.2 53.8h0M29 51.3h0M14.5 72h0M81.4 97.6h0M71.6 75.7h0M76 40.8h0M83.8 74.8h0M28.5 81.6h0M8.6 33.6h0M75.5 73.3h0M11.2 33.2h0M94.4 61.8h0M28.4 77.8h0M29.7 31.9h0M20 86.2h0M31.3 74.1h0M66.5 30.4h0M7.8 44.9h0M93.6 33h0M69 30.6h0" stroke="#6ee070" stroke-width="1.2" stroke-linecap="round" fill="none"/><text x="97.4" y="8.7" font-size="10.2" fill="#e8e8e8">A</text><line x1="101.4" y1="11.6" x2="101.4" y2="21.1" stroke="#e8e8e8" stroke-width="1.1"/><text x="97.4" y="30.6" font-size="10.2" fill="#e8e8e8">P</text></g><line x1="65" y1="104.5" x2="104" y2="104.5" stroke="#b0b0b0" stroke-width="1"/><text x="1.2" y="16.4" font-size="19" font-weight="bold" fill="#fff">D</text></g>
<g transform="translate(462,122.8)"><g clip-path="url(#cp)"><rect width="107" height="107" fill="#000"/><rect width="107" height="107" fill="#1a041c"/><g filter="url(#bl05)"><path d="M84.8 8.5h0M35.1 38.2h0M85.7 69.8h0M25.6 34.3h0M17.4 80.6h0M18.5 9.8h0M14.8 10.6h0M17.4 18.6h0M101.9 20.6h0M89.8 13.3h0M12.1 7h0M22.2 41.9h0M80.2 41.7h0M94.1 39.1h0M31.9 20.8h0M17.5 31.5h0M25.9 33.8h0M47.7 2.8h0M27.2 43h0M83.5 63.2h0M31.4 41h0M70.2 50.7h0M27.5 76.9h0M81.8 32.3h0M94.6 60.8h0M69.5 43.4h0M19.8 36.2h0M22.2 34.5h0M89.5 80.2h0M92.2 21.5h0M84.6 52.5h0M30.1 80.6h0M80.3 62.3h0M95.8 46.5h0M75.9 37.6h0M88.7 22.7h0M94.7 78.4h0M21.9 34.2h0M51.1 33.7h0M21.9 82.2h0M21.6 63.8h0M57.9 26.4h0M88.3 51.7h0M78.4 51.6h0M30.3 40.2h0M69.9 54h0M72.5 92.9h0M63.6 19.5h0M80.5 93.5h0M89.4 13.5h0M79 43.6h0M81.8 78.8h0M104.3 17.6h0M38.1 23h0M91.1 62.7h0M91.2 40.2h0M27.2 37.7h0M69.9 29.6h0M89 4.4h0M75.2 42.9h0M1.9 9.4h0M12.6 58.5h0M84.8 45.1h0M8 19.8h0" stroke="#5a1a5e" stroke-width="1.4" stroke-linecap="round" fill="none"/><path d="M96.4 44.9h0M15 43.2h0M65.6 54.7h0M28.5 38.9h0M5.4 19.4h0M14 60.2h0M82.6 16.5h0M75.3 94.1h0M67.1 46.9h0M18.8 5.8h0M26.7 96.3h0M8.9 45.5h0M91.4 30.1h0M4.4 1.6h0M41.4 15h0M22.4 88.7h0M68.7 61.4h0M29.1 46.5h0M76.3 90.4h0M80.8 65.4h0M83.7 36h0M29 17.7h0M89.1 23.5h0M51.7 30.6h0M4.9 21.5h0M20.7 65.3h0M90.9 27.2h0M103.9 19.3h0M29 57.9h0M23.1 96.3h0M69.8 45.1h0M13.2 33.3h0M79.4 59h0M24.8 9.9h0M13.1 67.6h0M39.5 31.7h0M62.6 53.2h0M63.9 42.2h0M93.3 1.3h0M20.5 76.8h0M15 8.1h0M105.1 8h0M68.9 49.5h0M62.7 11.7h0M93.4 74h0M81 66.9h0M31.5 13.8h0M17.9 72.4h0M11.8 45.1h0M12.5 62.1h0M70.8 51.3h0M23 53.3h0M20.2 54.9h0M24.1 95.1h0M33.5 30.1h0M22.1 34.3h0M88.5 47.5h0M50.3 58.7h0M57.7 25.5h0M36.1 17h0M76.7 79.5h0M78.5 84.5h0" stroke="#5a1a5e" stroke-width="2.0" stroke-linecap="round" fill="none"/><path d="M60.3 42.5h0M10.5 7.1h0M85.7 54h0M76.4 24.9h0M99.7 24.4h0M25.2 46.1h0M77.2 16.9h0M72.7 38.6h0M19.2 26.6h0M83 71.8h0M29.4 67.8h0M11.8 77.6h0M63.7 45.6h0M27 90.2h0M71.2 57.5h0M18.9 47.1h0M81.6 31.1h0M10.1 57.3h0M89.9 31.4h0M19.5 85.2h0M86.8 23h0M83.7 75h0M18 71.6h0M90.2 26.7h0M83.7 65.5h0M64.6 72.3h0M100.4 24.3h0M8.5 18.4h0M40.1 60.5h0M85.9 65.3h0M25.2 87.4h0M68.2 24.3h0M76.1 54.1h0M13.7 62.4h0M61.1 54.4h0M27.4 75.6h0M64.8 34h0M58.9 25.2h0M65.9 30.9h0M23.2 51.5h0M102.6 10.6h0M75.4 85.1h0M66.4 62.9h0M15.7 5.7h0M94.8 63.1h0M72.7 46.3h0M18.6 67.3h0M78.7 42.6h0M60.4 15.7h0M91.2 4.4h0M52 28.2h0M69.8 52.5h0M100.8 22.1h0M106.8 5.4h0M31.2 77.5h0M11 13.5h0M15.5 21.6h0M71.6 13.1h0M38.1 24.4h0M61.1 27h0M8.7 42.4h0M83.2 37.5h0M86.3 53.2h0M17.4 65h0M30.6 34.1h0M9 48.8h0" stroke="#8a2a90" stroke-width="2.0" stroke-linecap="round" fill="none"/><path d="M20.9 13.1h0M65.1 100.9h0M20.9 17.3h0M96.7 49.7h0M78.4 39.3h0M65.1 38.2h0M83.8 1.1h0M23.5 41.1h0M12.2 44.6h0M9.3 96h0M53.4 28.6h0M16 15.9h0M15.2 47.8h0M97.5 15.3h0M53 11.4h0M87.1 32h0M28.4 35.6h0M24.7 49.5h0M74.9 22h0M12.4 24.1h0M22.3 58.2h0M11.5 17.4h0M75.5 29.8h0M17.5 9.8h0M43.7 27.6h0M37.9 23.6h0M75.1 42.1h0M5.5 39.6h0M105.9 73.7h0M104.8 3.3h0M93.2 43.6h0M70 70.2h0M90.5 47.2h0M81.8 70h0M83.8 45.4h0M2 2.3h0M3.7 1.4h0M25.3 50.1h0M93.7 37.3h0M57.3 33.5h0M28.8 61.7h0M85.6 68.3h0M88.4 39.5h0M97 15.1h0M17 37.4h0M65 94.3h0M76.8 101.5h0M73.2 48.2h0M35.2 39h0M28.7 88.4h0M14.1 45h0M82.7 2.4h0M71.7 80.2h0M12.3 72.4h0M97.2 8.5h0M69.1 44.8h0M81.1 42.9h0M78.2 94.7h0M93.3 43.9h0M15.7 52.2h0M50 25.3h0M91.4 19h0M12.6 53.3h0M86.4 17h0M71.4 94.3h0M90.4 70.3h0" stroke="#8a2a90" stroke-width="1.4" stroke-linecap="round" fill="none"/><path d="M9.7 47.5h0M85.2 69.2h0M66.2 43.1h0M4.5 52.1h0M12.1 54.2h0M84.9 18.2h0M92.7 14.6h0M72.3 59.4h0M5.1 9.5h0M9.9 4.9h0M22.5 36.4h0M51 26.4h0M83.1 0.7h0M91.4 3.4h0M79 80.7h0M41.4 49.4h0M69.5 78.2h0M54 31.8h0M83.5 36.8h0M89.1 21.1h0M91 27.4h0M7.8 37.8h0M85.7 10.3h0M90.4 9.1h0M70.4 79.7h0M18.5 48.9h0M75.7 71.2h0M36.5 58.9h0M70.6 85.9h0M67.9 97.4h0M84.9 21.6h0M97.8 10.8h0M91.5 41.4h0M92.1 81.8h0M50.6 5.2h0M105.7 90.1h0M14.1 63.8h0M8.4 81.3h0M64.4 40.5h0M21.3 8.1h0M86.3 67.2h0M90.9 24.7h0M15.4 55h0M75.3 35.2h0M19.6 8.6h0M87.6 41.3h0M68.2 73.6h0M106.2 18h0M84.1 40.6h0M12 39.9h0M10.1 44.2h0M91.5 47.2h0M69.5 25.3h0M22 3.7h0M83.7 38.2h0M97.2 52h0M64.7 52.8h0M102.1 15.5h0M32.4 23h0M69.8 99.9h0M89.5 28.1h0M69.6 34.5h0M78.8 31.2h0" stroke="#b040b8" stroke-width="1.4" stroke-linecap="round" fill="none"/><path d="M52.1 7.3h0M66.5 69.3h0M20.2 29.7h0M47.4 87.2h0M15.2 45.2h0M89.1 11h0M80.8 96h0M36.5 87.1h0M100.7 12.7h0M87.2 40.9h0M95.4 106.3h0M100.9 7h0M93.2 98h0M1.5 20.3h0M76.7 61h0M90.8 78.9h0M79.2 67h0M82.9 65.5h0M8.5 11.3h0M79.6 56.6h0M79.1 18.9h0M27.5 30.7h0M8.8 19.9h0M12.8 48.9h0M93.2 6.7h0M12.2 97.4h0M103 8.9h0M8.7 15.6h0M70.1 53.5h0M87.8 54.9h0M31.1 56.6h0M65.7 64.6h0M19.8 2.7h0M98.7 31h0M70.3 33.9h0M76.5 39.2h0M84.2 71.7h0M18.4 26.6h0M19.3 84.6h0M42.8 78.8h0M77.4 64.6h0M18.6 86.7h0M83.3 54.8h0M85.1 83.1h0M88.6 23.3h0M47.1 12.5h0M96.8 40.7h0M79.4 60.4h0M52.5 16.2h0M27.7 60.1h0M20.4 0.1h0M92.9 33.4h0M21.8 49.1h0M7.2 83.7h0M86 39.3h0M3.9 50h0M23 55.9h0M23.7 46.8h0" stroke="#b040b8" stroke-width="2.0" stroke-linecap="round" fill="none"/><path d="M102.5 15h0M28.9 31.1h0M19.5 25.4h0M72 40.1h0M55.3 20.1h0M62.6 27.3h0M83 16.5h0M88.5 70h0M79.9 23.7h0M71.7 58.8h0M0.7 17.3h0M5.7 23.9h0M7.1 102.9h0M68.8 57.7h0M3.7 7.4h0M68.4 56.7h0M95.3 10.5h0M71.2 60.9h0M14.3 72.7h0M24.2 60.8h0M74.5 77.1h0M25.7 37.4h0M69.9 19.4h0M75.7 66.6h0M59.3 54.8h0M62.9 25.5h0M80.2 76.6h0" stroke="#d060d8" stroke-width="1.4" stroke-linecap="round" fill="none"/><path d="M74.7 65.5h0M46.5 28.8h0M41.5 29.9h0M30.3 74.9h0M23.5 51h0M91.9 47.1h0M58.1 3.7h0M61.3 25.6h0M16.2 80.1h0M73.7 85.5h0M68.6 47.9h0M16.6 42.2h0M49.3 26.3h0M72.5 64.5h0M21.7 31.8h0M10 3.1h0M54 39.8h0M0.6 0.6h0M71.9 39.6h0M68.7 54.5h0M75.2 23.7h0" stroke="#d060d8" stroke-width="2.0" stroke-linecap="round" fill="none"/></g><defs><linearGradient id="gStr" x1="0" y1="0" x2="0" y2="1"><stop offset="0" stop-color="#7a2a84" stop-opacity="0.3"/><stop offset="0.4" stop-color="#a844b0" stop-opacity="0.85"/><stop offset="0.65" stop-color="#d064d4"/><stop offset="1" stop-color="#d870dc"/></linearGradient></defs><g filter="url(#bl1)"><path d="M42,66 L49.5,66 L50.4,107 L38.5,107 Z" fill="url(#gStr)"/><path d="M51.5,66 L58.5,66 L62,107 L51.2,107 Z" fill="url(#gStr)"/></g><line x1="38" y1="70.00" x2="62" y2="70.48" stroke="#000" stroke-opacity="0.23" stroke-width="0.6"/><line x1="38" y1="71.75" x2="62" y2="71.33" stroke="#000" stroke-opacity="0.30" stroke-width="0.6"/><line x1="38" y1="73.50" x2="62" y2="72.88" stroke="#000" stroke-opacity="0.25" stroke-width="0.6"/><line x1="38" y1="75.25" x2="62" y2="75.34" stroke="#000" stroke-opacity="0.27" stroke-width="0.6"/><line x1="38" y1="77.00" x2="62" y2="76.43" stroke="#000" stroke-opacity="0.27" stroke-width="0.6"/><line x1="38" y1="78.75" x2="62" y2="78.75" stroke="#000" stroke-opacity="0.31" stroke-width="0.6"/><line x1="38" y1="80.50" x2="62" y2="79.75" stroke="#000" stroke-opacity="0.32" stroke-width="0.6"/><line x1="38" y1="82.25" x2="62" y2="81.73" stroke="#000" stroke-opacity="0.30" stroke-width="0.6"/><line x1="38" y1="84.00" x2="62" y2="84.01" stroke="#000" stroke-opacity="0.31" stroke-width="0.6"/><line x1="38" y1="85.75" x2="62" y2="85.24" stroke="#000" stroke-opacity="0.23" stroke-width="0.6"/><line x1="38" y1="87.50" x2="62" y2="86.84" stroke="#000" stroke-opacity="0.30" stroke-width="0.6"/><line x1="38" y1="89.25" x2="62" y2="89.30" stroke="#000" stroke-opacity="0.21" stroke-width="0.6"/><line x1="38" y1="91.00" x2="62" y2="90.51" stroke="#000" stroke-opacity="0.19" stroke-width="0.6"/><line x1="38" y1="92.75" x2="62" y2="92.27" stroke="#000" stroke-opacity="0.26" stroke-width="0.6"/><line x1="38" y1="94.50" x2="62" y2="94.40" stroke="#000" stroke-opacity="0.29" stroke-width="0.6"/><line x1="38" y1="96.25" x2="62" y2="95.57" stroke="#000" stroke-opacity="0.31" stroke-width="0.6"/><line x1="38" y1="98.00" x2="62" y2="98.77" stroke="#000" stroke-opacity="0.29" stroke-width="0.6"/><line x1="38" y1="99.75" x2="62" y2="100.14" stroke="#000" stroke-opacity="0.31" stroke-width="0.6"/><line x1="38" y1="101.50" x2="62" y2="100.85" stroke="#000" stroke-opacity="0.25" stroke-width="0.6"/><line x1="38" y1="103.25" x2="62" y2="102.58" stroke="#000" stroke-opacity="0.30" stroke-width="0.6"/><line x1="38" y1="105.00" x2="62" y2="105.06" stroke="#000" stroke-opacity="0.20" stroke-width="0.6"/><line x1="38" y1="106.75" x2="62" y2="106.66" stroke="#000" stroke-opacity="0.30" stroke-width="0.6"/></g><line x1="65" y1="104.5" x2="105.8" y2="104.5" stroke="#b0b0b0" stroke-width="1"/></g>
<g transform="translate(574,122.8)"><g clip-path="url(#cp)"><rect width="107" height="107" fill="#000"/><rect width="107" height="107" fill="#020602"/><path d="M6,107 L5,40 C6,15 25,2 53,2 C82,2 100,15 101,40 L100,107 Z" fill="#0a200c" filter="url(#bl2)"/><path d="M35,0 L60,0 L61,40 L60,107 L36,107 L34,40 Z" fill="#163f18" filter="url(#bl05)"/><polygon points="8,30 18,26 30,30 33,45 32,70 30,90 26,100 22,97 16,85 10,65 7,45" fill="#0f2e10" filter="url(#bl1)"/><polygon points="66,25 80,22 92,19 97,35 98,55 95,75 88,92 80,104 74,100 70,85 65,65 63,45" fill="#12361a" filter="url(#bl1)"/><path d="M28.3 58.3h0M69.8 57.4h0M83.6 92.6h0M18 60.9h0M65.6 38.5h0M88.4 65.5h0M87 64.2h0M12.2 59.6h0M72.9 81.6h0M70.7 71h0M15 71h0M76.9 60.9h0M11.6 56.5h0M75.6 88.1h0M93.9 45h0M74.6 23.9h0M12.3 57.6h0M69.8 83.3h0M88.1 53.9h0M79.1 38.8h0M19.2 82.7h0" stroke="#2fa035" stroke-width="1.2" stroke-linecap="round" fill="none"/><path d="M25.9 54.3h0M73.1 42.9h0M65.2 49.5h0M12.4 68.4h0M85.6 36.3h0M17.9 87.1h0M69.7 62.1h0M93.2 37h0M94.7 65.3h0M75.5 75.1h0M91.7 41.4h0M14.9 38.9h0M90.1 27.3h0M27.2 48h0M26.4 76.5h0M26.6 63.8h0M17.9 77.4h0M84.9 22.9h0" stroke="#2fa035" stroke-width="1.6" stroke-linecap="round" fill="none"/><path d="M78 46.1h0M74 80.5h0M23.8 58h0M73 90.8h0M89 44.1h0M87 58.9h0M14.7 65.5h0M27.7 31h0M15.4 64.9h0M25.7 81.7h0M94.4 58.3h0" stroke="#45c84a" stroke-width="1.2" stroke-linecap="round" fill="none"/><path d="M85.4 68.1h0M12.3 46h0M23.9 59.7h0M70 70.8h0M8.8 53.6h0M30.9 73.7h0M67.8 48.5h0M29 45.8h0M15 37.9h0M97.2 46.5h0M23.4 97.8h0M67 62.1h0M28.7 34.6h0M93.4 38.6h0M78.5 67.1h0M18.1 86.5h0M71 25.5h0M85.6 35.1h0M92.1 59.1h0M14.8 55.6h0" stroke="#45c84a" stroke-width="1.6" stroke-linecap="round" fill="none"/><path d="M75.7 88.7h0M85.6 89.8h0M74.3 47.1h0M80.7 102.4h0M14.7 59.1h0M85.5 94.9h0M32 40.7h0M26.8 86.3h0M11.9 35.8h0M71.1 53.2h0M93.1 76.7h0M85.8 88.2h0M15.1 34.4h0M21.5 47.2h0" stroke="#6ee070" stroke-width="1.2" stroke-linecap="round" fill="none"/><path d="M22 41.4h0M76 97.3h0M31.8 66.6h0M16.6 54.1h0M17.2 39.6h0M22.9 48.6h0M24 33.3h0M76.1 96.1h0M28.3 67.6h0M87.5 43.3h0M23 36.6h0M14 73h0M71.2 62.7h0M96.1 55.2h0M84.1 59.2h0M71.1 57.7h0" stroke="#6ee070" stroke-width="1.6" stroke-linecap="round" fill="none"/><path d="M8.8 45.6h0M8.1 49.9h0M81.1 23.8h0M70.7 46h0M72.5 70.3h0M81.2 47.8h0M75.5 72.1h0M83.6 41.8h0M8 49.1h0M93 52.7h0M28.4 88.5h0M68.6 28.3h0M76.3 41.9h0M11.2 63.2h0M20.6 94h0M69.9 64.3h0M28.2 41.3h0M81.3 53.4h0M68.7 57.8h0M91.8 39.6h0M95.5 42.1h0M8.8 36.7h0M10.3 43.8h0M70.3 71.6h0M90.1 75.6h0M28.1 78.6h0M12.4 70.5h0M67 48.9h0M75.7 76.1h0M82.2 96.3h0M81.2 94h0M14.1 70.4h0M69.8 75.3h0M86.8 54h0M12.9 36.7h0M20.3 30.5h0M96.1 40.3h0M88.5 20.7h0M30.2 39h0M86.2 83.6h0M68.5 50.7h0M22.5 96h0M14.6 62.9h0M24.1 35.9h0M80.1 68.8h0M72.2 41.1h0M92.9 32.2h0M73.1 54.7h0M25.4 57.6h0" stroke="#b040b8" stroke-width="1.6" stroke-linecap="round" fill="none"/><path d="M87.8 71.6h0M75.4 66.9h0M78.3 73.8h0M74.6 28h0M96.2 36h0M71.9 84.9h0M83.1 47.1h0M72.4 44.3h0M79.6 92.6h0M23.6 33.4h0M66.6 28h0M72.5 68.5h0M15.2 52.3h0M29 78.5h0M79.6 55.3h0M23.3 37.4h0M90.1 75.1h0M79.1 52.3h0M89.2 88.7h0M75.8 87h0M85.1 49h0" stroke="#b040b8" stroke-width="1.2" stroke-linecap="round" fill="none"/><path d="M63.3 45.3h0M83.2 58.7h0M79.8 102.2h0M94.8 70.3h0M81.9 94.9h0M73.9 96.6h0M24 45.4h0M80.1 25.1h0M74 89.5h0M16.1 64.8h0M80.7 34.2h0M26.4 96.8h0M86.9 65.6h0M15.9 70.1h0M75.6 53.2h0M29.8 62.1h0M71.6 64.6h0M75 59h0M14.4 73.5h0M93.1 52.1h0M17.7 87.9h0M15.7 65h0M69.8 37.1h0M92 46.1h0M20.8 93.7h0M15.8 58.1h0M26.5 90.5h0M66.7 32.3h0M29.3 85.3h0M78.3 99.3h0M93.3 36.3h0M68.6 76.6h0M26.6 30.9h0M66.6 35.4h0M14.9 30.5h0M29.1 81.4h0M24.7 78.3h0M21.7 52h0M30.4 37h0M7.9 34.7h0M84.3 59.7h0M73.2 71.7h0M92.2 49.9h0M21.9 30.6h0M12.2 69.2h0M29.3 88.3h0M16.7 57.6h0M16.5 81.8h0M71.5 84.9h0M26.3 49.2h0M77.8 100.6h0M25.9 86.9h0M80.2 103.4h0M82.5 66.2h0M64.6 46.9h0M90.5 40.8h0M69 73.1h0M81.2 37.1h0M74.8 45.3h0M16 61.5h0M70.5 68.7h0M64.5 37.6h0M72.5 72.9h0M78.6 37.9h0M69.7 51.7h0M86.6 70h0M90.9 83.5h0M27.6 66.3h0M69.6 82.7h0M31.6 41.8h0" stroke="#e8e8e8" stroke-width="1.2" stroke-linecap="round" fill="none"/><path d="M88.8 68.4h0M92.8 21.8h0M72.1 64.7h0M22.5 69.6h0M92.9 30.4h0M19.3 89h0M93.2 59.3h0M24.9 47.8h0M11.9 30h0M88.4 66.8h0M64.5 38.5h0M16.3 73h0M89.7 25.9h0M13.9 73.5h0M14 37.9h0M84.6 39.7h0M75.4 99.7h0M64.3 45.2h0M78.9 49.7h0M89 85.8h0M76.3 26.7h0M31.8 59.7h0M9.3 42.8h0M80.3 50.7h0M76.9 35.1h0M71.1 35.1h0M81 93.6h0M79.1 88.6h0M69.1 67h0M12.6 52.3h0M84 69.7h0M15.3 43.5h0M9.1 54.6h0M77.7 87.2h0M89.5 58.9h0M73.6 43.9h0M81.6 28.2h0M89.5 76.7h0M93.2 49.6h0M80.4 85.7h0M92.7 72.6h0M11.5 45.5h0M29.5 59.2h0M72.9 39.5h0M95.4 49.5h0M25.9 66h0M90.2 20.4h0M81.9 50.9h0M21.7 77.1h0M73.8 25.1h0M27.4 91.4h0M14.7 69.6h0M94.3 41.1h0M11.4 63.4h0M86.4 76.2h0M93.2 32.8h0M74.5 79.8h0M65.3 35.8h0M67.7 56.9h0M72.9 50.7h0M32.4 46.5h0M16.7 29.9h0M28.5 66.9h0M73.7 42.7h0M8.6 51h0M30.1 58.6h0M85 85.1h0M64.9 51.5h0M92.9 63.8h0M28 72.9h0" stroke="#e8e8e8" stroke-width="1.6" stroke-linecap="round" fill="none"/><g filter="url(#bl05)"><path d="M77.2 68h0M69.4 70.7h0M10 52.9h0M24.2 85.2h0M12.1 8.8h0M25.4 14.1h0M29.5 76h0M11.5 25.3h0M69.2 75h0M65.8 46.4h0M27.4 94.8h0M103.5 19.2h0M64.9 59.6h0M44.1 28.2h0M12.2 16.7h0M23.1 46.4h0M81.1 24.9h0M55.5 26.3h0M87.2 61.5h0M75.6 39.5h0M49.2 25.1h0M88.7 35.5h0M74.1 75h0M20.8 41.1h0M17.6 32.9h0M79.9 98.1h0M22.1 53.7h0M84.3 95.2h0M17.7 71.6h0M90.1 68.4h0M83.2 29.9h0M10.7 63.3h0M63.2 45.4h0M11.9 42.5h0M91.5 60.4h0M106.3 7.9h0M6.8 99.4h0M83.5 93.8h0M13.2 10.7h0M77.3 48.5h0M27.6 106.2h0M45.8 21.9h0M25.5 18h0M23.6 67.1h0M98.6 10.1h0M28.5 65h0M45.1 16.6h0M12.8 35.3h0M15 60.4h0M79.5 39.6h0M89.5 75.1h0M65.5 91.8h0M71.7 90.2h0M85.8 88h0M77.3 52.3h0M11.8 34h0M17.9 75.5h0M20.4 6.1h0M80.8 30.5h0M90.6 73.4h0" stroke="#5a1a5e" stroke-width="2.1" stroke-linecap="round" fill="none"/><path d="M70.6 79.1h0M73.4 22.9h0M87.4 41.1h0M82.7 66.6h0M13.8 79.6h0M64.6 105.9h0M13.5 31h0M105.4 18.6h0M107 22.6h0M30.9 45.9h0M23.9 36.4h0M95.2 55.4h0M88.7 44.1h0M73.8 64.2h0M53.8 33.5h0M71.2 99.7h0M74.9 31.7h0M88 95.2h0M94.6 32.3h0M87.7 70.3h0M10.2 44.9h0M72.7 42.3h0M65.2 59.5h0M24 36h0M68 35.3h0M76.9 94.4h0M11.9 41.7h0M6.5 24.8h0M21.3 2.8h0M16.2 70.9h0M76.5 88.1h0M15.1 79.6h0M84.7 41.5h0M7.6 24.7h0M80.3 69.5h0M68.5 58.8h0M51.9 24h0M24.8 74.4h0M35.1 38.1h0M15.6 78.7h0M26.4 14.6h0M27.5 90.3h0M65.6 63.9h0M97.2 51.9h0M40.3 31.2h0M80.1 80.6h0M84.9 31.4h0M75.5 26.1h0M83.2 73.3h0M17.3 30.7h0M23.2 24h0M15.8 38.9h0M25.1 40.3h0M76.7 75.8h0M30.6 54.9h0M61.2 24.8h0M88.7 54.6h0M70.5 86.8h0M70.6 29.1h0M85.2 73.1h0M28.2 68.1h0M49.3 51.6h0M78.8 59.1h0M78.6 37.9h0M66.9 52.1h0M97.5 86.1h0M19.7 16.4h0M90.4 18.8h0M23.6 62.4h0M34.2 43.1h0" stroke="#5a1a5e" stroke-width="1.5" stroke-linecap="round" fill="none"/><path d="M89 26.8h0M83.7 42h0M8.2 51.7h0M97 61.6h0M26 47.2h0M90 22.4h0M81.7 60.3h0M88.7 13.5h0M20.5 12.2h0M27.5 47.5h0M75.3 30.1h0M82.4 89.3h0M71 44.5h0M4.6 3.7h0M17.5 18.7h0M104.1 46.5h0M50.8 81.2h0M104.4 15h0M8.5 8.4h0M44 31.6h0M29.3 53.9h0M79.8 44h0M77.9 76.2h0M84.1 35.2h0M10 36.2h0M84.8 93.2h0M70.7 14.4h0M47.7 15.1h0M86.8 85.6h0M15.3 62.9h0M77.7 50.2h0M18.1 48.7h0M69.5 37.1h0M11 24.9h0M28.1 46.8h0M85.7 35.5h0M71.8 72.6h0M69.5 80.5h0M91.3 48h0M90.4 61.3h0M29.5 63.4h0M20.6 43h0M42.7 12.4h0M105.2 3.3h0M81.3 55.5h0M40.7 17.8h0M29.5 64.2h0M82.4 92.4h0M87 88.2h0M21.7 59.8h0M84.4 63.1h0M95.4 57.5h0M28.3 85.5h0M37.5 35.9h0M23.2 76.8h0M105.9 25.5h0M60.7 35.1h0M80.1 66.2h0M13.3 58h0M92.2 5.6h0M101 0.8h0M86 87.4h0M27.9 37.4h0M38.5 27.4h0M37.8 10.2h0M7.4 18.3h0M0.8 19.6h0M41.1 35.8h0M83.7 7.8h0M88.2 29.4h0M91.5 41.2h0M7.5 18.3h0M81.7 44.9h0M73.4 83.3h0M71.5 88.4h0M68.7 94.2h0M66 64.9h0" stroke="#8a2a90" stroke-width="2.1" stroke-linecap="round" fill="none"/><path d="M77.2 42.5h0M11.1 19.6h0M93.8 14.8h0M23.4 28.7h0M10.7 46.3h0M25 85.2h0M103.3 11.9h0M80.6 39.7h0M2.8 19.8h0M24.7 26.8h0M30 40.3h0M97.6 52.9h0M24.4 39.8h0M95.8 62.5h0M53.8 73.4h0M83.3 98.1h0M59.7 27.1h0M26.9 91h0M79.4 56.3h0M6 15.9h0M89.8 0.8h0M18.1 24.2h0M25 93.1h0M59.9 27h0M42.5 46.5h0M44.5 38.5h0M32.4 16.9h0M100.1 1.6h0M33.1 45.3h0M20.2 38.8h0M10.5 7.6h0M87 68.9h0M70.5 79.9h0M25.3 84.3h0M104.4 54h0M103.4 74.4h0M26.9 68.5h0M19.5 91.5h0M84.9 2.1h0M17.6 3.2h0M16.2 70h0M100.4 25.8h0M90.2 64.7h0M4.4 16h0M23.7 29.3h0M59.5 26.3h0M83.5 49.8h0M105 41.1h0M68.4 25.7h0M15.6 62.5h0M88.3 55.3h0M93.6 5.1h0M17.9 3.2h0M77.5 40.2h0M90.4 41.1h0M101.9 11.5h0M76.7 43.1h0M38.1 2h0M77.3 39.8h0M66.4 14h0M65.6 36.7h0M17.8 85.7h0M68.5 75.2h0M1.2 4h0M10.2 37.8h0M101.4 49.5h0M89.7 8.3h0M96.5 49.2h0M105.5 89.4h0M93.1 29h0M72.6 4.7h0M11 63.8h0M3.6 12.4h0M16.8 34.5h0M68.2 56.6h0M85.7 63.5h0M1.7 2.6h0M65.8 53.2h0M76.6 89.6h0M72.2 14.6h0M95.6 11.7h0" stroke="#8a2a90" stroke-width="1.5" stroke-linecap="round" fill="none"/><path d="M95.7 7.4h0M18 24.8h0M77 55.8h0M16.6 7h0M64.9 42.5h0M89.9 77.4h0M75.1 92.3h0M11.1 20.3h0M24.8 31.4h0M99.9 46.7h0M14.5 48.9h0M92.9 45.3h0M90.1 19.4h0M9.7 13.1h0M83.1 37.1h0M78.7 49.7h0M94.2 39.4h0M82.2 100h0M79.3 66.2h0M40.5 32.7h0M82.9 68.1h0M21.7 30h0M91.4 68.4h0M13.5 40.7h0M104.7 24.2h0M79 64.7h0M3.7 2.5h0M82.8 36.9h0M53.5 13.8h0M3.1 9h0M69.2 46.3h0M66.5 61.1h0M77.1 97.6h0M68.4 42.7h0M88.6 50.7h0M91.9 10h0M83.8 41.4h0M77.7 48.1h0M77.5 65.5h0M102.7 27.7h0M31.1 67.2h0M13.8 57.6h0M74.6 69.1h0M21.8 37.1h0M18.4 0.1h0M3.6 94.4h0M80.6 38.5h0M77.1 21.6h0M91.2 74.8h0M104.5 7.2h0M94.9 1.8h0M81.8 44.5h0M53.4 35.1h0M45.6 103.1h0M64.6 41.4h0M89.5 73.4h0M77.9 98.1h0M11.4 40.3h0M13.1 33.4h0M17.5 69.2h0M79.3 43.4h0M32.1 65.6h0M95.9 48.4h0" stroke="#b040b8" stroke-width="1.5" stroke-linecap="round" fill="none"/><path d="M97.5 99h0M93.9 43.2h0M85.7 74.7h0M91.8 40.8h0M20.4 41.9h0M86.6 89.4h0M8.6 47.5h0M79.5 29.7h0M93.9 25.2h0M86.5 16h0M70.3 47.8h0M44.3 13.6h0M85.1 96.5h0M56.4 59.1h0M76.8 57.3h0M8.7 50.5h0M14 77.9h0M22 32.5h0M100.2 47.7h0M95.5 17.1h0M17.7 36.4h0M88.6 60.4h0M67.3 27.6h0M44.4 48.8h0M13.3 35.9h0M85.6 31.8h0M8.4 18h0M14.4 17.2h0M78.6 74.9h0M83.2 15.6h0M69.7 42.4h0M8.5 39.2h0M11.1 38.6h0M56 29h0M11.2 46.8h0M96 0.2h0M69.1 106.5h0M24 24.7h0M7.3 14.6h0M24.9 40.9h0M26.4 38.1h0M104.9 3.3h0M16.9 69.5h0M75.7 26.9h0M18 36.6h0M81 66.8h0M15.7 55.1h0M28.9 80.8h0M32.8 46.9h0M85.1 96.2h0M100.1 97.8h0M81.6 13.3h0M77.3 61.6h0M88.3 47.1h0M70.5 33.4h0M23.4 72.2h0M29.2 60.7h0M97.8 53.7h0M23.7 68.1h0M3.8 19.9h0M16.7 62.8h0M23.3 86.6h0M93 79h0M2.9 13.1h0M26.3 25.8h0M25.9 40.2h0M77 57.6h0M29.6 49.7h0M25.2 75.1h0M82 96.1h0M9.6 8.5h0M14.6 29.8h0M23.8 57.3h0M24.2 50.9h0M83.7 63h0M106.7 13.8h0M40.9 40h0M75.6 13.2h0" stroke="#b040b8" stroke-width="2.1" stroke-linecap="round" fill="none"/><path d="M76.2 89.9h0M79.1 47.5h0M70.2 45.2h0M60.5 24.9h0M92.7 1.7h0M76.9 31.6h0M63.8 44.7h0M90.3 54.6h0M76.5 44.8h0M41.9 68.5h0M90.4 77.6h0M88.6 38.8h0M33 11.1h0M77.1 31.2h0M8.3 17.8h0M11.1 32.7h0M17.9 53.8h0M69.1 74.9h0M68.3 27.7h0M79.9 37.5h0M18 88.3h0M84.6 18.3h0" stroke="#d060d8" stroke-width="1.5" stroke-linecap="round" fill="none"/><path d="M80.7 32.5h0M86.5 27.6h0M75.1 8.6h0M12.5 49.5h0M16.9 54.7h0M8.4 33.3h0M76.7 68.4h0M47.5 92.7h0M2.4 24.9h0M94.5 71.2h0M17.6 48.9h0M21.8 13.2h0M64.7 52.6h0M91.5 9.5h0M29.5 33.6h0M47 21.6h0M77.4 44.4h0M20.5 63.1h0M75.5 46.1h0M70.5 78.2h0" stroke="#d060d8" stroke-width="2.1" stroke-linecap="round" fill="none"/></g><defs><linearGradient id="gStr" x1="0" y1="0" x2="0" y2="1"><stop offset="0" stop-color="#7a2a84" stop-opacity="0.3"/><stop offset="0.4" stop-color="#a844b0" stop-opacity="0.85"/><stop offset="0.65" stop-color="#d064d4"/><stop offset="1" stop-color="#d870dc"/></linearGradient></defs><g filter="url(#bl1)"><path d="M42,66 L49.5,66 L50.4,107 L38.5,107 Z" fill="url(#gStr)"/><path d="M51.5,66 L58.5,66 L62,107 L51.2,107 Z" fill="url(#gStr)"/></g><line x1="38" y1="70.00" x2="62" y2="70.48" stroke="#000" stroke-opacity="0.23" stroke-width="0.6"/><line x1="38" y1="71.75" x2="62" y2="71.33" stroke="#000" stroke-opacity="0.30" stroke-width="0.6"/><line x1="38" y1="73.50" x2="62" y2="72.88" stroke="#000" stroke-opacity="0.25" stroke-width="0.6"/><line x1="38" y1="75.25" x2="62" y2="75.34" stroke="#000" stroke-opacity="0.27" stroke-width="0.6"/><line x1="38" y1="77.00" x2="62" y2="76.43" stroke="#000" stroke-opacity="0.27" stroke-width="0.6"/><line x1="38" y1="78.75" x2="62" y2="78.75" stroke="#000" stroke-opacity="0.31" stroke-width="0.6"/><line x1="38" y1="80.50" x2="62" y2="79.75" stroke="#000" stroke-opacity="0.32" stroke-width="0.6"/><line x1="38" y1="82.25" x2="62" y2="81.73" stroke="#000" stroke-opacity="0.30" stroke-width="0.6"/><line x1="38" y1="84.00" x2="62" y2="84.01" stroke="#000" stroke-opacity="0.31" stroke-width="0.6"/><line x1="38" y1="85.75" x2="62" y2="85.24" stroke="#000" stroke-opacity="0.23" stroke-width="0.6"/><line x1="38" y1="87.50" x2="62" y2="86.84" stroke="#000" stroke-opacity="0.30" stroke-width="0.6"/><line x1="38" y1="89.25" x2="62" y2="89.30" stroke="#000" stroke-opacity="0.21" stroke-width="0.6"/><line x1="38" y1="91.00" x2="62" y2="90.51" stroke="#000" stroke-opacity="0.19" stroke-width="0.6"/><line x1="38" y1="92.75" x2="62" y2="92.27" stroke="#000" stroke-opacity="0.26" stroke-width="0.6"/><line x1="38" y1="94.50" x2="62" y2="94.40" stroke="#000" stroke-opacity="0.29" stroke-width="0.6"/><line x1="38" y1="96.25" x2="62" y2="95.57" stroke="#000" stroke-opacity="0.31" stroke-width="0.6"/><line x1="38" y1="98.00" x2="62" y2="98.77" stroke="#000" stroke-opacity="0.29" stroke-width="0.6"/><line x1="38" y1="99.75" x2="62" y2="100.14" stroke="#000" stroke-opacity="0.31" stroke-width="0.6"/><line x1="38" y1="101.50" x2="62" y2="100.85" stroke="#000" stroke-opacity="0.25" stroke-width="0.6"/><line x1="38" y1="103.25" x2="62" y2="102.58" stroke="#000" stroke-opacity="0.30" stroke-width="0.6"/><line x1="38" y1="105.00" x2="62" y2="105.06" stroke="#000" stroke-opacity="0.20" stroke-width="0.6"/><line x1="38" y1="106.75" x2="62" y2="106.66" stroke="#000" stroke-opacity="0.30" stroke-width="0.6"/><polygon points="10.5,49.5 1,45.3 2.6,49.2 1,53" fill="#fff"/><polygon points="95,81.6 104.7,77.5 102.9,81.4 104.7,85.1" fill="#fff"/></g><line x1="62.6" y1="104.5" x2="102.3" y2="104.5" stroke="#b0b0b0" stroke-width="1"/></g>
<g transform="translate(351,231.5)"><g clip-path="url(#cp)"><rect width="107" height="107" fill="#000"/><rect width="107" height="107" fill="#020602"/><circle cx="63.5" cy="53.5" r="36.5" fill="none" stroke="#0a240c" stroke-width="1.6" filter="url(#bl05)"/><path d="M62,13.5 C72,13 80,14 86,16.5" fill="none" stroke="#0e3a10" stroke-width="2" filter="url(#bl05)"/><path d="M84,16.5 L107,17.5" fill="none" stroke="#1f7a24" stroke-width="5" filter="url(#bl05)"/><path d="M89.5 17.2h0M92.5 17.5h0M98.4 15h0M84.3 18.6h0M90 15.8h0M106.9 16.9h0M103.2 16.9h0M98.7 15.4h0M98.6 18.7h0M96 18.1h0M99.4 15h0M101.4 17.4h0M90.9 14.8h0M103.9 16.9h0M100.5 18.7h0M100.4 18.9h0M93.1 18.4h0M94.2 19h0M104.2 15.1h0M87.1 15.7h0M106.2 16.7h0M98.4 16.1h0M95.7 16.5h0M92.1 17.4h0M97.4 18.9h0M99.7 19h0M103.7 19.3h0M99.4 15.5h0M103.8 19.1h0M104.8 17.3h0M100.4 15.7h0M103.1 17.3h0M90.6 15h0M103.6 19.3h0M86 18.4h0M93.4 15.4h0M90.8 18.2h0M104.1 14.9h0M98.1 14.9h0M100.5 16.2h0M104.3 19.2h0M95.6 19.3h0M91.1 15.1h0M97.8 14.8h0M88.5 16.6h0M98 15.4h0M85 18.7h0M91.2 19.1h0M104.6 16.4h0M94.6 17.1h0M98.8 17.4h0M96.9 17.6h0M105.6 17h0M93.9 18h0M89.5 16.1h0M106.5 17.1h0M96.6 14.8h0M93.5 17.4h0M84.5 17.5h0M98.5 15h0M98.4 16.8h0M99.6 16.3h0M100.3 18.1h0M84.5 15h0M99.5 19.1h0M89.8 16.8h0M97.6 16.2h0M92.4 16.1h0M92.5 17.4h0M90.9 16.4h0M101.8 14.8h0M97.1 18.1h0M91.1 15.7h0M102.5 15.8h0M88.3 16.7h0M100.1 15.2h0M91.4 16.2h0M103.2 16.7h0M103.7 15.5h0M91.7 17.7h0M104.4 16.8h0M89.2 15.3h0M96.2 15.6h0M102.6 18.6h0M88.2 16h0M102.6 17.7h0M102.5 16.3h0M87 16h0M102.3 15.9h0M92 16.6h0" stroke="#44c848" stroke-width="1.0" stroke-linecap="round" fill="none"/><path d="M62,16 C40,18 28,35 28,53 C28,70 39,83 56,89" fill="none" stroke="#104a14" stroke-width="4" filter="url(#bl1)"/><path d="M62,13.5 C38,15 25,34 25,53 C25,72 37,86 56,92" fill="none" stroke="#22901f" stroke-width="2.3" filter="url(#bl05)"/><path d="M46.6 16.6h0M38.4 21.9h0M57.3 13.9h0M25.8 48.4h0M26.7 39.7h0M32.9 28.1h0M50.3 15.1h0M48.4 17.4h0M26.7 43.5h0M26 41.6h0M43 19.6h0M28.4 38.3h0M24.8 46.1h0M31.2 31.8h0M33.8 26.6h0M35 25h0M25.8 49.3h0M32.5 28.6h0M25.5 47.8h0M26.2 46.4h0M34.1 27h0M31 31.2h0M51.1 15.2h0M25.6 42.2h0M58.8 14h0M44.5 18.6h0M35.4 25.2h0M24.5 52.8h0M37.7 22.7h0M29.8 32.7h0M40.9 21.3h0M42.4 19.9h0M24.6 47.5h0M57.6 13.5h0M27.3 39.9h0M46.7 17h0M50.2 15.8h0M59 14.1h0M26.2 47.2h0M28.5 38.5h0M60.7 13.2h0M25.5 51.1h0M38.7 23.6h0M31 32.6h0M43.5 18.4h0M36.3 23.8h0M39.9 22.6h0M41.4 19.4h0M58.8 13.2h0M26.6 40.8h0M43.6 18.2h0M24.9 52h0M48.2 15.8h0M58 13.3h0M28.4 34.9h0M59.1 13.8h0M46.5 18.4h0M53.7 14.9h0M26.8 40.3h0M25 52.3h0M46.5 17.3h0M59.4 13.6h0M46.5 18.2h0M26.1 43.5h0M59.7 13.3h0M46.3 17h0M47.4 17.7h0M52.2 14.4h0M25.3 48.9h0M24.8 52.5h0M25.7 47.4h0M27.1 41.4h0M34.2 25.9h0M48.6 17.2h0M26.1 47.4h0M41.7 20.5h0M26.8 41.8h0M26.4 42.6h0M29.9 34.2h0M45.4 18.8h0M24.3 50.4h0M25.9 51.4h0M28.5 34.3h0M24.7 47.2h0M25.3 51.2h0M57.7 13.4h0M30.2 33.1h0M28.2 39.1h0M47.5 16h0M24.4 48.5h0M24.9 45.9h0M26.9 42.4h0M25.7 46.1h0M25 46h0M28.9 34.7h0M25.9 46.9h0M35.6 25.5h0M60.1 12.8h0M31.3 31h0M25.9 45.4h0M25.4 60.7h0M44 86.5h0M25.6 53.6h0M46.5 88.9h0M34.7 79.2h0M44.7 87.4h0M26.9 65.5h0M53.9 92.1h0M25.7 59.3h0M49.8 89.6h0M31.9 74.3h0M44 87.5h0M49.3 90h0M28.7 68.5h0M31.5 73.9h0M26.6 62h0M25.5 62.7h0M33 77.3h0M35.3 78.5h0M40.9 85.6h0M28.4 69.2h0M33.3 76.6h0M32.3 77.2h0M27.7 65.8h0M29.8 71.1h0M55.2 91.5h0M40.1 83.6h0M29.1 69h0M32.9 75.6h0M28.8 68.7h0M45 86.9h0M31.1 75.4h0M44 86.9h0M38.9 83.8h0M24.6 57.7h0M45.6 88.2h0M50.5 90.2h0M35.8 80.5h0M37.2 82.4h0M31.2 72.9h0M26.4 62.7h0M28.3 70.1h0M24.2 54.3h0M53.3 90.5h0M45.8 87h0M53.2 91.7h0M36.3 80.6h0M36.5 79.7h0M44 85.6h0M25.8 59.4h0M40.2 83.4h0M38 81.3h0M28.9 68.5h0M30.8 73.4h0M50.5 89.5h0M27.9 69.3h0M28.9 69.8h0M55.9 91.2h0M30.3 73.3h0M46.2 88.3h0M30 74.2h0M26.3 62.9h0M40.8 84.1h0M30.3 71.2h0M37.4 82.4h0M26 56.7h0M55.5 91h0M36.8 81.5h0M24.9 58.1h0M27.5 64.7h0M50.3 89.3h0M25.3 61.2h0M28.8 68.3h0M26.4 61.8h0M40.2 83.8h0M53.6 91.6h0M33.7 78.7h0M24.5 58.5h0M27.8 69.7h0M26 56.4h0M28.5 67.9h0M41.3 84.2h0M39.6 82.4h0M49.5 89.1h0M35.7 79.4h0M42 85.2h0M33 77.9h0M47.6 88.7h0M24.6 56.8h0M49 89.8h0M30.5 72.7h0M48.4 89.3h0M30 72.7h0M25.7 54.6h0M25.8 54.1h0M25.2 61.5h0M48.1 88.2h0M27 65.4h0M33 76.2h0M26.8 62.9h0" stroke="#4cd850" stroke-width="1.0" stroke-linecap="round" fill="none"/><path d="M45,86 L57,93" stroke="#70f070" stroke-width="2.6" filter="url(#bl05)"/><path d="M29,80 L33,83" stroke="#60e060" stroke-width="2"/><text x="77.9" y="8.9" font-size="10.4" fill="#e8e8e8">A</text><line x1="86" y1="5.4" x2="95.9" y2="5.4" stroke="#e8e8e8" stroke-width="1.1"/><text x="97.2" y="8.9" font-size="10.4" fill="#e8e8e8">P</text></g><line x1="75" y1="104.5" x2="105" y2="104.5" stroke="#b0b0b0" stroke-width="1"/><text x="1.2" y="17.2" font-size="19" font-weight="bold" fill="#fff">E</text></g>
<g transform="translate(462,231.5)"><g clip-path="url(#cp)"><rect width="107" height="107" fill="#000"/><rect width="107" height="107" fill="#040004"/><defs><clipPath id="cpOut"><ellipse cx="66" cy="60" rx="60" ry="62"/></clipPath></defs><g clip-path="url(#cpOut)"><rect width="107" height="107" fill="#1c0520"/><path d="M60,86 L107,80 L107,107 L55,107 Z" fill="#0a010b" filter="url(#bl2)"/><rect x="20" y="0" width="87" height="16" fill="#8a2a94" opacity="0.7" filter="url(#bl2)"/><rect x="0" y="88" width="60" height="19" fill="#8a2a94" opacity="0.6" filter="url(#bl2)"/></g><rect x="97" y="27" width="10" height="80" fill="#000"/><circle cx="63.5" cy="53.5" r="38.0" fill="#2a0630" filter="url(#bl05)"/><circle cx="63.5" cy="53.5" r="36.5" fill="#22052a"/><path d="M27.1 58.8h0M101.9 23.3h0M37.1 84.2h0M20 28.2h0M13.7 74.8h0M7.2 69.1h0M23.1 70.7h0M25.9 18.2h0M96.9 34h0M11.6 69.3h0M28.2 38.5h0M12.9 75.1h0M19.3 81.7h0M29.1 82.1h0M91.7 20.3h0M15.2 42.8h0M33.5 26.7h0M22.7 71.4h0M43.8 18.7h0M101.1 19h0M10.8 50.4h0M20.4 23h0M93.1 82.4h0M31 77h0M26.5 58h0M9.4 40.4h0M17.5 73.4h0M30.4 71.2h0M18.3 18.9h0M23.8 68.5h0M18.3 35.4h0M89 24.5h0M39.2 20.9h0M16.9 49.9h0M12.3 50.4h0M13.9 40.7h0M23.4 46.7h0M18.6 46.5h0M9.6 59.2h0M25.6 25.2h0M21.4 36.5h0M102.1 19.1h0M27.1 28.1h0M25.4 22.2h0M18.2 80.7h0M22 34.5h0M6.3 66.3h0M19.8 76.5h0" stroke="#5a1a5e" stroke-width="1.0" stroke-linecap="round" fill="none"/><path d="M28.8 38.5h0M20.2 41.6h0M16.2 28.2h0M42.9 20.6h0M24.9 75.9h0M8 45.2h0M11.7 43.9h0M6.6 64.1h0M12.7 32.8h0M17.4 74.9h0M24.3 48.8h0M14.4 31.7h0M41.3 18.1h0M28.4 43.1h0M6.6 55h0M18.4 37.8h0M88.6 82.8h0M14.6 46.2h0M16.4 45.3h0M98.5 22.9h0M20.2 67.3h0M92.5 18.5h0M13.5 58.6h0M14.3 30.2h0M16.1 60.3h0M92.9 23.8h0M19.4 71.9h0M19.3 78.7h0M29.7 69.4h0M87.7 25h0M16.4 60.1h0M17.3 26.1h0M15.3 80h0M18.7 74.1h0M10 56.4h0M102.7 19.5h0M19.8 58.2h0M11.1 41.2h0M88.5 23.5h0M13 38.9h0M28.7 38.3h0M23 32.5h0M23.3 39.3h0M23.2 64.4h0M26.9 19.1h0M18.1 52h0M88.5 19.2h0M21.4 24.5h0M94.8 24.4h0M11.3 70.5h0M37.6 80.5h0M10.1 43.2h0" stroke="#5a1a5e" stroke-width="1.3" stroke-linecap="round" fill="none"/><path d="M23.6 42.8h0M1 73.9h0M34.6 97.5h0M97.7 15.5h0M74.6 10.6h0M65.8 15.9h0M57.8 103.7h0M89.9 99h0M37.3 102h0M13.4 62.6h0M56.1 1.1h0M15.7 88.5h0M15.2 60.2h0M11.3 45.5h0M10.4 45.9h0M86.8 5.2h0M101.4 21.9h0M55.7 93.1h0M12.7 105.1h0M29.3 37.6h0M9.1 43.8h0M21.2 52.7h0M17.5 36.7h0M53.3 6.6h0M85.9 10.6h0M31.8 89.9h0M72.2 93.2h0M86.8 3.7h0M53.9 16.9h0M54 14.9h0M35.7 83.3h0M31.2 35.7h0M12.4 41.5h0M18 45.9h0M51.2 102.2h0M36.8 100.6h0M29.9 103.8h0M30.3 83.8h0M32.2 83.1h0M33.3 104.6h0M56.5 17h0M50.4 2.9h0M91.2 15.8h0M97.3 20.2h0M34.7 76.9h0M47.9 104.7h0M93.1 85.3h0M34.6 89.6h0M47.5 99.3h0M39 98.2h0M50.4 1.7h0M10.8 43.3h0M31.6 101.4h0M21.4 77.7h0M38 90.1h0M37.2 97.1h0M91.4 85.6h0M61.5 16.3h0M44.4 5.9h0M65.6 4.1h0M97.1 8.7h0M81.3 8.2h0M54 0.1h0M38.6 81.1h0M24.6 37.3h0M8.8 66.8h0M33.5 87.3h0M96 23.9h0M22.9 75.1h0M43.6 95h0M90 12.3h0M49.9 2.5h0M76 15.8h0M38.2 93.1h0M16.6 95.5h0M44.2 17.7h0M29.4 37.5h0M44.5 6.8h0M98.3 11.3h0M50.1 1.4h0M60.7 11.1h0M43.1 101.7h0M27.5 76.3h0M15.6 91h0M38.3 98.5h0M97.1 13.4h0M55.5 89.4h0M16.9 91.8h0M93.2 7.9h0M19.5 58.2h0M44.9 18.2h0M88.6 23.5h0M33.2 82.7h0M19.4 37.2h0M99.8 18h0M24.1 63.4h0M43.8 98h0M9.4 106.9h0M49.3 7.3h0M16.1 97.1h0M25.9 104.7h0M97.3 96.7h0M51.1 0.8h0M103 12.5h0M18.4 29.1h0M57.4 11.5h0M29.9 88.2h0M23.6 30.5h0M15.5 90.1h0M32.4 25.8h0M22.2 101.4h0M10.4 95.1h0M96.4 25.5h0M12.3 85.5h0M76.6 16.4h0M23.4 91.8h0M76.6 5h0M101.9 17.6h0M58.7 2.8h0M24.1 72.7h0M51 91.5h0M74.9 7.6h0M71.2 15.1h0M44.6 11.8h0M43.6 91.8h0M19.5 40.1h0M73.5 10h0" stroke="#8a2a90" stroke-width="1.0" stroke-linecap="round" fill="none"/><path d="M10.8 102.2h0M39.5 6.6h0M75.6 19h0M57.9 98.2h0M19.7 36.3h0M16.7 53.3h0M19 103.3h0M100.8 9.8h0M33.6 102.6h0M11.6 99.6h0M42.9 93h0M59.8 3.2h0M85.5 12.9h0M19.8 68.8h0M33.2 102.6h0M6.1 60.4h0M95.5 13.1h0M15.1 49.4h0M94.2 1.8h0M55.5 90.9h0M87.7 5.1h0M90.5 87h0M41.4 18.7h0M19.3 71.7h0M25 83h0M21.3 105.4h0M1 105.2h0M40.8 18h0M29.3 106.3h0M50.8 91.6h0M45.4 10.9h0M31.7 30.3h0M18.6 86h0M97.6 19.5h0M17.3 63.1h0M20.3 59.5h0M0.9 95.1h0M38.4 82h0M31.7 85.1h0M44.9 104.1h0M34.8 94.5h0M17.8 95.6h0M14.9 87.9h0M12.6 46.6h0M42.6 22.9h0M30.1 77.1h0M53.9 89.6h0M9 8.5h0M56.6 92.1h0M28.1 28.5h0M14.1 75.6h0M10 51.9h0M50.6 16.4h0M25 66.2h0M87.2 19.2h0M31.9 93.8h0M86.3 102.3h0M26.4 88h0M45.4 13.5h0M34 20.9h0M46.1 15h0M86.6 14.4h0M84.9 15.9h0M32.8 79.2h0M7.5 65.1h0M85.1 86.6h0M23.9 36.7h0M49.6 3.5h0M90.8 11.9h0M15.4 92.1h0M33.1 8.4h0M85.3 13.3h0M95.2 20.9h0M78.6 6.8h0M22.4 81h0M84.1 15.7h0M53.5 3.8h0M44.7 98h0M37.6 91.6h0M84.3 8.4h0M10.4 60.4h0M94.8 81.9h0M66.1 10.1h0M17.2 43.6h0M73.7 4.3h0M34.6 91.9h0M88.1 17.6h0M30 21.2h0M20.9 33.6h0M89 8.2h0M75.2 14.1h0M92.6 101.6h0M43.6 19.2h0M26.2 88.7h0M20.1 80.4h0M27.8 22.2h0M18.5 45.4h0M100.6 12.7h0M90.8 29h0M75.3 4.8h0M82.5 19.2h0M6.3 98.4h0M22.6 96.1h0M20.7 90.2h0M16.8 61.6h0M89.1 26.3h0M49.8 18.9h0M24.9 94.8h0M83.4 85h0M34.3 14.4h0M21.5 60.6h0M9.6 46.9h0M70 0.5h0M10.2 47.2h0M45.7 9.6h0M75.1 16.3h0M12.3 85.7h0M26.6 56.2h0M35.7 90.5h0M46.4 99.6h0M29 106.4h0M25 99.4h0M53.9 91.3h0M28.5 86.6h0M18 30.9h0" stroke="#8a2a90" stroke-width="1.3" stroke-linecap="round" fill="none"/><path d="M13.9 74h0M32.3 100.8h0M7.9 105.1h0M96.6 15.9h0M14.6 47.3h0M96.1 79.1h0M50.7 6.3h0M16.9 42.3h0M18.1 37.7h0M84.3 2.8h0M18.3 25.2h0M14.4 64.8h0M0.2 106.7h0M82 6.8h0M42.2 105h0M85.2 17.7h0M91.5 5.2h0M46.7 15.8h0M34.7 106.6h0M90.7 10.7h0M78.6 19.8h0M40.4 13.9h0M14.3 31.8h0M11.1 73.8h0M51.1 92.8h0M52 17.8h0M33.2 78.8h0M59.1 11.5h0M18.6 51.3h0M44.3 91.2h0M20.6 91.4h0M24.1 85.1h0M33.6 101.6h0M18 64.3h0M24.5 84.2h0M24.7 27.8h0M14.5 96.8h0M50.2 91.9h0M95 7.5h0M81.2 8.6h0M104.1 13.3h0M21.2 76.2h0M21.6 51h0M56.8 12.8h0M30.8 87.3h0M106.2 25h0M36.5 97.9h0M19.8 101.2h0M39.8 101.8h0M51 12.7h0M14.2 75.5h0M57.9 3.3h0M40.6 12.8h0M2.2 106.4h0M78.6 12.8h0M58.1 12.8h0M16.3 41h0M8.2 61.1h0M25.8 59.9h0M24.5 20.8h0M28.8 96.4h0M15.2 33.8h0M72.1 96.4h0M89.2 9.8h0M23.8 89.8h0M66.6 16.8h0M17.9 32.2h0M27.5 98.4h0M57.2 104.4h0M20.2 34.7h0M46.7 6h0M85.4 16.4h0M54.8 101.6h0M11.7 76.8h0M31.9 84.9h0M52.2 94.6h0M81.9 5.4h0M6.1 61h0M17.8 38.7h0M36.4 79.3h0M31.8 35.4h0M38.8 96.5h0M77.9 8h0M89.2 13h0M31.4 30.6h0M18.3 30.6h0M30.3 96.8h0M53.9 99.8h0M49.5 102.7h0M34 106.9h0M28.6 75.8h0M66.4 11.5h0M42.4 15.5h0M28.5 98.1h0M76.2 1.9h0M94.6 24.4h0M100 9.5h0M22.4 37.9h0M18.3 78.1h0M34.3 104.9h0M32.7 17.7h0M36.7 93.8h0M46.3 93.6h0M24.6 93.5h0M28.3 87.5h0M98.8 25.6h0M25.3 55.3h0M49.9 7.9h0M39.4 89.4h0M8.3 105.6h0M47 96.3h0M33.3 81.2h0M21.9 34.8h0M26 101.5h0M39.6 105.2h0M23.3 53h0M13.7 59.6h0M30.3 97.7h0M30.6 73.2h0M21.3 30.6h0M19.9 81.5h0M64.1 13.2h0M29.2 76.7h0M29.3 25h0M50.9 9.5h0M30.7 33.2h0M18.5 89.7h0M14.8 37.1h0M38.2 82.6h0M104.8 17.7h0M102.5 14.8h0M95.8 10.7h0M42.9 12.6h0M72 92.6h0M36 89h0" stroke="#b040b8" stroke-width="1.3" stroke-linecap="round" fill="none"/><path d="M80.5 19h0M10 104.9h0M21.1 73.6h0M103.4 23h0M65.6 4.5h0M15.9 82.8h0M82.6 84.7h0M12.9 35.2h0M91 11.5h0M10.6 42.5h0M86.1 6.1h0M94.3 8.3h0M18.5 100.8h0M29.1 92.6h0M18.7 68.1h0M25.4 59.9h0M40.4 92.8h0M88.4 85.3h0M99.7 26h0M83.2 14.5h0M47.9 3.5h0M49.2 12.1h0M13 83.1h0M21.3 41.4h0M19.4 45.5h0M31.6 21.3h0M51.7 99.1h0M70 3.3h0M45.7 88.7h0M29.4 17.9h0M27.9 96.2h0M14.5 98.2h0M18.6 91.5h0M2.8 95.5h0M28.5 22.3h0M10.3 39.6h0M14.1 83.1h0M25.4 64.1h0M14.4 31.2h0M69.8 14.3h0M104.9 15.8h0M14.5 32.4h0M16 95.9h0M94.2 23.4h0M96.6 81.9h0M43.9 5.1h0M85.1 87.4h0M55.2 92.7h0M90.6 13.1h0M31.1 29.1h0M41.3 94.4h0M85.1 22.8h0M87.2 98.3h0M24.3 30.7h0M96.2 30.7h0M90.9 6.6h0M23 58h0M90.4 13.3h0M35.4 87.5h0M14.6 101.3h0M13.7 65.8h0M14.6 97.5h0M50.1 13.1h0M51.1 4.1h0M18.4 67.1h0M76.9 9.7h0M57.3 98.2h0M23.3 41.4h0M87.8 11.5h0M29.5 12.6h0M6.1 11.7h0M25 52.9h0M47.5 17.6h0M34.9 86.1h0M41.7 21.7h0M26 27.1h0M80.5 97.3h0M13.2 101.1h0M11.2 61h0M16 30.9h0M16.6 43.3h0M33.1 16.8h0M55.9 103.1h0M28.4 19.7h0M56.6 1.5h0M80.3 15.4h0M27.2 93.7h0M92 21.8h0M88.9 6.1h0M90 23.2h0M54.4 97.2h0M34.7 89.1h0M93.6 84.6h0M76.2 7.7h0M51.9 7.7h0M12.8 106.6h0M29.8 101h0M83.4 12.5h0M86.5 3.4h0M47.1 92.4h0M34.7 102.4h0M92.1 14.7h0M35.5 90.6h0M12.4 43.2h0M84.4 17.8h0M99.7 23.7h0M21.5 19.4h0M32.5 30.2h0M101.7 12.7h0M10.2 51h0M40.4 83.6h0M9.8 51.9h0M78.6 6h0M82.8 105.7h0M62.4 1h0M10.2 49h0M14.2 52.5h0M13.2 46.3h0M30.2 94.3h0M47.1 95.8h0M12.1 103.5h0M51.7 93.8h0M44.4 105.6h0M91.2 17.7h0M46.5 10.9h0M94.3 5.8h0M12.3 104.6h0M70.6 6.7h0M22.4 56.5h0M20 59.3h0M38.6 101.1h0M94 76.7h0M34.3 102.4h0M16.3 66h0M28.8 76.5h0M22.2 32.4h0M30.2 87.5h0M84.8 4h0M76.7 0.1h0M103.2 17.2h0M78.5 6.4h0M85.9 5h0M21.6 106.2h0M98.8 10.6h0M75.3 16.4h0" stroke="#b040b8" stroke-width="1.0" stroke-linecap="round" fill="none"/><path d="M77.1 10.7h0M23.5 90.7h0M37 14.8h0M56.7 7.4h0M25.8 14.9h0M17.5 105.8h0M2.3 93.6h0M38.7 100.5h0M92.3 15.8h0M84.3 11.5h0M34.4 8.7h0M75.2 5.4h0M24.7 104.9h0M50 4.2h0M25.1 89.3h0M0.5 103.6h0M54.5 9.7h0M93.5 86.7h0M3.4 94.5h0M37.9 5.6h0M77.1 2h0M55.8 9.4h0M89.1 10h0M35.8 13.3h0M31 90.8h0M45.7 2.2h0M82.9 7.3h0M57.4 3.4h0M21.3 95.6h0M4 93.8h0M47.6 100.5h0M52.7 102.4h0M5.6 104.8h0M96 12.2h0M26.8 97h0M51.5 89.1h0M31.7 93.2h0M81.9 2h0M84.1 5.7h0M73.1 15.2h0M90.8 17.8h0M15.4 97.4h0M43.2 9h0M36.5 104.2h0M66.7 10.5h0M52.8 95h0M83.2 6.5h0M25.8 14.7h0M98.1 16.7h0M53.2 90.1h0M90.8 4.7h0M29.2 13.4h0M3.1 92.9h0M31.5 10.5h0M5.4 96.9h0M36.6 11.7h0M27.9 93.5h0M35.4 17.3h0M40.1 6.6h0M72.1 9.6h0M89.3 3.5h0M49.1 91.9h0M51.9 92.7h0M96.8 103.5h0M25.5 88.3h0M1.6 104.5h0M79.9 11.2h0M4.7 101.7h0M74.8 8.9h0M24.8 95.8h0M59.8 6.1h0M74.1 1.1h0M72.1 91.5h0M3.6 92.8h0M63.5 16.7h0M52.8 99.7h0" stroke="#d060d8" stroke-width="1.3" stroke-linecap="round" fill="none"/><path d="M37.8 17.5h0M46.4 100.6h0M40.4 87.9h0M80.5 8h0M14.8 103.3h0M47.8 8.3h0M67.2 12.4h0M56.4 93.6h0M81 86.9h0M64.7 13.3h0M22.9 100.1h0M60 7.7h0M86.5 8.2h0M52 99.8h0M10.3 96.3h0M55.2 2.1h0M38.4 15.8h0M70.2 3.9h0M96.8 10.4h0M40 96.9h0M75.1 1.1h0M34.8 93.1h0M28.7 104.1h0M104.6 16.2h0M28.5 89.9h0M41.8 7.3h0M17.8 88.6h0M56.3 4.6h0M54.6 2.9h0M100.5 14.2h0M24.1 102.1h0M43.4 3.8h0M91.1 14.8h0M50.6 13h0M63 5.2h0M57.4 102.3h0M81.8 0.3h0M83.3 11.6h0M35.7 101.9h0M38.7 10.8h0M22.7 88.1h0M36.7 6.8h0M77.5 3.3h0M58.6 10.9h0M81.8 2.5h0M57.1 7.1h0M48 12.9h0M20.7 93.4h0M65 9.3h0M44.7 105.9h0M35.3 91.1h0M50.5 15.4h0M55.8 4.5h0M62.6 105.8h0M51.7 8.3h0M53.3 92.8h0M75.2 5h0M31.9 13.4h0M85.1 1.9h0M51.6 16.1h0M31 11.7h0M56.5 17.1h0M75.2 13.7h0M52.1 14h0M52.4 100.3h0M15.9 93.3h0M59 12.7h0M33.2 13h0M50.2 1.6h0M20.9 86.2h0M61.9 0.6h0M27.3 95.5h0M49 95.3h0M104.1 13.1h0M45.2 16.4h0M43.3 8.6h0M28 13.8h0M101.9 17.5h0M36.7 90.6h0M32.3 93.1h0M51.3 11.6h0M24.1 99.5h0" stroke="#d060d8" stroke-width="1.0" stroke-linecap="round" fill="none"/><g filter="url(#bl05)"><path d="M55.7 66.9h0M43.9 72.3h0M37.8 71.1h0M75.3 27h0M66.1 49.7h0M95.6 46.4h0M41.5 41.1h0M53.6 86.7h0M42.4 32.8h0M69.7 57h0M53 31.9h0M90.4 64.5h0M80.3 31.1h0M73.8 33h0M51.4 45.9h0M74.2 78h0M70.9 67.8h0M34 46.1h0M60.2 75.4h0M68 25.6h0M89.3 51.7h0M54.4 37.6h0M30.6 61.8h0M86.9 38.8h0M40.4 50.2h0M77.7 55.3h0M65.3 69.3h0M61.1 26.8h0M80.7 77.4h0M92.4 35.9h0M86.7 45h0M53.9 73.3h0M72.6 52h0M63.5 85.3h0M47.2 30.3h0M29.5 52.2h0M48.7 51.6h0M48.9 83.6h0M66.5 40.3h0M67.5 33.2h0M76.9 40.6h0M56.9 56.3h0M59.9 46.3h0M86.6 70.7h0M93.5 70.9h0M83.5 25.8h0M78.6 61.6h0M97.8 51.6h0M66 76.7h0M40.7 26.9h0M78.7 70.9h0M86.2 78.9h0M48.7 76.9h0M71.3 84.4h0M94.4 58.5h0M83.7 50.8h0M71 45.6h0M36.3 65h0M35.6 57.8h0M50.2 23.8h0M50.2 68.4h0M85.9 57.8h0M79.7 45.7h0M72.4 61.9h0M60.9 19.5h0M56.9 80.4h0M52.3 59.5h0M44.6 64.7h0M40.1 78.1h0M41.4 56.8h0M64.1 56.3h0" stroke="#c848d0" stroke-width="2.6" stroke-linecap="round" fill="none"/></g></g><line x1="75" y1="104.5" x2="105" y2="104.5" stroke="#b0b0b0" stroke-width="1"/></g>
<g transform="translate(574,231.5)"><g clip-path="url(#cp)"><rect width="107" height="107" fill="#000"/><rect width="107" height="107" fill="#040004"/><defs><clipPath id="cpOut"><ellipse cx="66" cy="60" rx="60" ry="62"/></clipPath></defs><g clip-path="url(#cpOut)"><rect width="107" height="107" fill="#1c0520"/><path d="M60,86 L107,80 L107,107 L55,107 Z" fill="#0a010b" filter="url(#bl2)"/><rect x="20" y="0" width="87" height="16" fill="#8a2a94" opacity="0.7" filter="url(#bl2)"/><rect x="0" y="88" width="60" height="19" fill="#8a2a94" opacity="0.6" filter="url(#bl2)"/></g><rect x="97" y="27" width="10" height="80" fill="#000"/><circle cx="63.5" cy="53.5" r="38.0" fill="#2a0630" filter="url(#bl05)"/><circle cx="63.5" cy="53.5" r="36.5" fill="#22052a"/><path d="M27.1 58.8h0M101.9 23.3h0M37.1 84.2h0M20 28.2h0M13.7 74.8h0M7.2 69.1h0M23.1 70.7h0M25.9 18.2h0M96.9 34h0M11.6 69.3h0M28.2 38.5h0M12.9 75.1h0M19.3 81.7h0M29.1 82.1h0M91.7 20.3h0M15.2 42.8h0M33.5 26.7h0M22.7 71.4h0M43.8 18.7h0M101.1 19h0M10.8 50.4h0M20.4 23h0M93.1 82.4h0M31 77h0M26.5 58h0M9.4 40.4h0M17.5 73.4h0M30.4 71.2h0M18.3 18.9h0M23.8 68.5h0M18.3 35.4h0M89 24.5h0M39.2 20.9h0M16.9 49.9h0M12.3 50.4h0M13.9 40.7h0M23.4 46.7h0M18.6 46.5h0M9.6 59.2h0M25.6 25.2h0M21.4 36.5h0M102.1 19.1h0M27.1 28.1h0M25.4 22.2h0M18.2 80.7h0M22 34.5h0M6.3 66.3h0M19.8 76.5h0" stroke="#5a1a5e" stroke-width="1.0" stroke-linecap="round" fill="none"/><path d="M28.8 38.5h0M20.2 41.6h0M16.2 28.2h0M42.9 20.6h0M24.9 75.9h0M8 45.2h0M11.7 43.9h0M6.6 64.1h0M12.7 32.8h0M17.4 74.9h0M24.3 48.8h0M14.4 31.7h0M41.3 18.1h0M28.4 43.1h0M6.6 55h0M18.4 37.8h0M88.6 82.8h0M14.6 46.2h0M16.4 45.3h0M98.5 22.9h0M20.2 67.3h0M92.5 18.5h0M13.5 58.6h0M14.3 30.2h0M16.1 60.3h0M92.9 23.8h0M19.4 71.9h0M19.3 78.7h0M29.7 69.4h0M87.7 25h0M16.4 60.1h0M17.3 26.1h0M15.3 80h0M18.7 74.1h0M10 56.4h0M102.7 19.5h0M19.8 58.2h0M11.1 41.2h0M88.5 23.5h0M13 38.9h0M28.7 38.3h0M23 32.5h0M23.3 39.3h0M23.2 64.4h0M26.9 19.1h0M18.1 52h0M88.5 19.2h0M21.4 24.5h0M94.8 24.4h0M11.3 70.5h0M37.6 80.5h0M10.1 43.2h0" stroke="#5a1a5e" stroke-width="1.3" stroke-linecap="round" fill="none"/><path d="M23.6 42.8h0M1 73.9h0M34.6 97.5h0M97.7 15.5h0M74.6 10.6h0M65.8 15.9h0M57.8 103.7h0M89.9 99h0M37.3 102h0M13.4 62.6h0M56.1 1.1h0M15.7 88.5h0M15.2 60.2h0M11.3 45.5h0M10.4 45.9h0M86.8 5.2h0M101.4 21.9h0M55.7 93.1h0M12.7 105.1h0M29.3 37.6h0M9.1 43.8h0M21.2 52.7h0M17.5 36.7h0M53.3 6.6h0M85.9 10.6h0M31.8 89.9h0M72.2 93.2h0M86.8 3.7h0M53.9 16.9h0M54 14.9h0M35.7 83.3h0M31.2 35.7h0M12.4 41.5h0M18 45.9h0M51.2 102.2h0M36.8 100.6h0M29.9 103.8h0M30.3 83.8h0M32.2 83.1h0M33.3 104.6h0M56.5 17h0M50.4 2.9h0M91.2 15.8h0M97.3 20.2h0M34.7 76.9h0M47.9 104.7h0M93.1 85.3h0M34.6 89.6h0M47.5 99.3h0M39 98.2h0M50.4 1.7h0M10.8 43.3h0M31.6 101.4h0M21.4 77.7h0M38 90.1h0M37.2 97.1h0M91.4 85.6h0M61.5 16.3h0M44.4 5.9h0M65.6 4.1h0M97.1 8.7h0M81.3 8.2h0M54 0.1h0M38.6 81.1h0M24.6 37.3h0M8.8 66.8h0M33.5 87.3h0M96 23.9h0M22.9 75.1h0M43.6 95h0M90 12.3h0M49.9 2.5h0M76 15.8h0M38.2 93.1h0M16.6 95.5h0M44.2 17.7h0M29.4 37.5h0M44.5 6.8h0M98.3 11.3h0M50.1 1.4h0M60.7 11.1h0M43.1 101.7h0M27.5 76.3h0M15.6 91h0M38.3 98.5h0M97.1 13.4h0M55.5 89.4h0M16.9 91.8h0M93.2 7.9h0M19.5 58.2h0M44.9 18.2h0M88.6 23.5h0M33.2 82.7h0M19.4 37.2h0M99.8 18h0M24.1 63.4h0M43.8 98h0M9.4 106.9h0M49.3 7.3h0M16.1 97.1h0M25.9 104.7h0M97.3 96.7h0M51.1 0.8h0M103 12.5h0M18.4 29.1h0M57.4 11.5h0M29.9 88.2h0M23.6 30.5h0M15.5 90.1h0M32.4 25.8h0M22.2 101.4h0M10.4 95.1h0M96.4 25.5h0M12.3 85.5h0M76.6 16.4h0M23.4 91.8h0M76.6 5h0M101.9 17.6h0M58.7 2.8h0M24.1 72.7h0M51 91.5h0M74.9 7.6h0M71.2 15.1h0M44.6 11.8h0M43.6 91.8h0M19.5 40.1h0M73.5 10h0" stroke="#8a2a90" stroke-width="1.0" stroke-linecap="round" fill="none"/><path d="M10.8 102.2h0M39.5 6.6h0M75.6 19h0M57.9 98.2h0M19.7 36.3h0M16.7 53.3h0M19 103.3h0M100.8 9.8h0M33.6 102.6h0M11.6 99.6h0M42.9 93h0M59.8 3.2h0M85.5 12.9h0M19.8 68.8h0M33.2 102.6h0M6.1 60.4h0M95.5 13.1h0M15.1 49.4h0M94.2 1.8h0M55.5 90.9h0M87.7 5.1h0M90.5 87h0M41.4 18.7h0M19.3 71.7h0M25 83h0M21.3 105.4h0M1 105.2h0M40.8 18h0M29.3 106.3h0M50.8 91.6h0M45.4 10.9h0M31.7 30.3h0M18.6 86h0M97.6 19.5h0M17.3 63.1h0M20.3 59.5h0M0.9 95.1h0M38.4 82h0M31.7 85.1h0M44.9 104.1h0M34.8 94.5h0M17.8 95.6h0M14.9 87.9h0M12.6 46.6h0M42.6 22.9h0M30.1 77.1h0M53.9 89.6h0M9 8.5h0M56.6 92.1h0M28.1 28.5h0M14.1 75.6h0M10 51.9h0M50.6 16.4h0M25 66.2h0M87.2 19.2h0M31.9 93.8h0M86.3 102.3h0M26.4 88h0M45.4 13.5h0M34 20.9h0M46.1 15h0M86.6 14.4h0M84.9 15.9h0M32.8 79.2h0M7.5 65.1h0M85.1 86.6h0M23.9 36.7h0M49.6 3.5h0M90.8 11.9h0M15.4 92.1h0M33.1 8.4h0M85.3 13.3h0M95.2 20.9h0M78.6 6.8h0M22.4 81h0M84.1 15.7h0M53.5 3.8h0M44.7 98h0M37.6 91.6h0M84.3 8.4h0M10.4 60.4h0M94.8 81.9h0M66.1 10.1h0M17.2 43.6h0M73.7 4.3h0M34.6 91.9h0M88.1 17.6h0M30 21.2h0M20.9 33.6h0M89 8.2h0M75.2 14.1h0M92.6 101.6h0M43.6 19.2h0M26.2 88.7h0M20.1 80.4h0M27.8 22.2h0M18.5 45.4h0M100.6 12.7h0M90.8 29h0M75.3 4.8h0M82.5 19.2h0M6.3 98.4h0M22.6 96.1h0M20.7 90.2h0M16.8 61.6h0M89.1 26.3h0M49.8 18.9h0M24.9 94.8h0M83.4 85h0M34.3 14.4h0M21.5 60.6h0M9.6 46.9h0M70 0.5h0M10.2 47.2h0M45.7 9.6h0M75.1 16.3h0M12.3 85.7h0M26.6 56.2h0M35.7 90.5h0M46.4 99.6h0M29 106.4h0M25 99.4h0M53.9 91.3h0M28.5 86.6h0M18 30.9h0" stroke="#8a2a90" stroke-width="1.3" stroke-linecap="round" fill="none"/><path d="M13.9 74h0M32.3 100.8h0M7.9 105.1h0M96.6 15.9h0M14.6 47.3h0M96.1 79.1h0M50.7 6.3h0M16.9 42.3h0M18.1 37.7h0M84.3 2.8h0M18.3 25.2h0M14.4 64.8h0M0.2 106.7h0M82 6.8h0M42.2 105h0M85.2 17.7h0M91.5 5.2h0M46.7 15.8h0M34.7 106.6h0M90.7 10.7h0M78.6 19.8h0M40.4 13.9h0M14.3 31.8h0M11.1 73.8h0M51.1 92.8h0M52 17.8h0M33.2 78.8h0M59.1 11.5h0M18.6 51.3h0M44.3 91.2h0M20.6 91.4h0M24.1 85.1h0M33.6 101.6h0M18 64.3h0M24.5 84.2h0M24.7 27.8h0M14.5 96.8h0M50.2 91.9h0M95 7.5h0M81.2 8.6h0M104.1 13.3h0M21.2 76.2h0M21.6 51h0M56.8 12.8h0M30.8 87.3h0M106.2 25h0M36.5 97.9h0M19.8 101.2h0M39.8 101.8h0M51 12.7h0M14.2 75.5h0M57.9 3.3h0M40.6 12.8h0M2.2 106.4h0M78.6 12.8h0M58.1 12.8h0M16.3 41h0M8.2 61.1h0M25.8 59.9h0M24.5 20.8h0M28.8 96.4h0M15.2 33.8h0M72.1 96.4h0M89.2 9.8h0M23.8 89.8h0M66.6 16.8h0M17.9 32.2h0M27.5 98.4h0M57.2 104.4h0M20.2 34.7h0M46.7 6h0M85.4 16.4h0M54.8 101.6h0M11.7 76.8h0M31.9 84.9h0M52.2 94.6h0M81.9 5.4h0M6.1 61h0M17.8 38.7h0M36.4 79.3h0M31.8 35.4h0M38.8 96.5h0M77.9 8h0M89.2 13h0M31.4 30.6h0M18.3 30.6h0M30.3 96.8h0M53.9 99.8h0M49.5 102.7h0M34 106.9h0M28.6 75.8h0M66.4 11.5h0M42.4 15.5h0M28.5 98.1h0M76.2 1.9h0M94.6 24.4h0M100 9.5h0M22.4 37.9h0M18.3 78.1h0M34.3 104.9h0M32.7 17.7h0M36.7 93.8h0M46.3 93.6h0M24.6 93.5h0M28.3 87.5h0M98.8 25.6h0M25.3 55.3h0M49.9 7.9h0M39.4 89.4h0M8.3 105.6h0M47 96.3h0M33.3 81.2h0M21.9 34.8h0M26 101.5h0M39.6 105.2h0M23.3 53h0M13.7 59.6h0M30.3 97.7h0M30.6 73.2h0M21.3 30.6h0M19.9 81.5h0M64.1 13.2h0M29.2 76.7h0M29.3 25h0M50.9 9.5h0M30.7 33.2h0M18.5 89.7h0M14.8 37.1h0M38.2 82.6h0M104.8 17.7h0M102.5 14.8h0M95.8 10.7h0M42.9 12.6h0M72 92.6h0M36 89h0" stroke="#b040b8" stroke-width="1.3" stroke-linecap="round" fill="none"/><path d="M80.5 19h0M10 104.9h0M21.1 73.6h0M103.4 23h0M65.6 4.5h0M15.9 82.8h0M82.6 84.7h0M12.9 35.2h0M91 11.5h0M10.6 42.5h0M86.1 6.1h0M94.3 8.3h0M18.5 100.8h0M29.1 92.6h0M18.7 68.1h0M25.4 59.9h0M40.4 92.8h0M88.4 85.3h0M99.7 26h0M83.2 14.5h0M47.9 3.5h0M49.2 12.1h0M13 83.1h0M21.3 41.4h0M19.4 45.5h0M31.6 21.3h0M51.7 99.1h0M70 3.3h0M45.7 88.7h0M29.4 17.9h0M27.9 96.2h0M14.5 98.2h0M18.6 91.5h0M2.8 95.5h0M28.5 22.3h0M10.3 39.6h0M14.1 83.1h0M25.4 64.1h0M14.4 31.2h0M69.8 14.3h0M104.9 15.8h0M14.5 32.4h0M16 95.9h0M94.2 23.4h0M96.6 81.9h0M43.9 5.1h0M85.1 87.4h0M55.2 92.7h0M90.6 13.1h0M31.1 29.1h0M41.3 94.4h0M85.1 22.8h0M87.2 98.3h0M24.3 30.7h0M96.2 30.7h0M90.9 6.6h0M23 58h0M90.4 13.3h0M35.4 87.5h0M14.6 101.3h0M13.7 65.8h0M14.6 97.5h0M50.1 13.1h0M51.1 4.1h0M18.4 67.1h0M76.9 9.7h0M57.3 98.2h0M23.3 41.4h0M87.8 11.5h0M29.5 12.6h0M6.1 11.7h0M25 52.9h0M47.5 17.6h0M34.9 86.1h0M41.7 21.7h0M26 27.1h0M80.5 97.3h0M13.2 101.1h0M11.2 61h0M16 30.9h0M16.6 43.3h0M33.1 16.8h0M55.9 103.1h0M28.4 19.7h0M56.6 1.5h0M80.3 15.4h0M27.2 93.7h0M92 21.8h0M88.9 6.1h0M90 23.2h0M54.4 97.2h0M34.7 89.1h0M93.6 84.6h0M76.2 7.7h0M51.9 7.7h0M12.8 106.6h0M29.8 101h0M83.4 12.5h0M86.5 3.4h0M47.1 92.4h0M34.7 102.4h0M92.1 14.7h0M35.5 90.6h0M12.4 43.2h0M84.4 17.8h0M99.7 23.7h0M21.5 19.4h0M32.5 30.2h0M101.7 12.7h0M10.2 51h0M40.4 83.6h0M9.8 51.9h0M78.6 6h0M82.8 105.7h0M62.4 1h0M10.2 49h0M14.2 52.5h0M13.2 46.3h0M30.2 94.3h0M47.1 95.8h0M12.1 103.5h0M51.7 93.8h0M44.4 105.6h0M91.2 17.7h0M46.5 10.9h0M94.3 5.8h0M12.3 104.6h0M70.6 6.7h0M22.4 56.5h0M20 59.3h0M38.6 101.1h0M94 76.7h0M34.3 102.4h0M16.3 66h0M28.8 76.5h0M22.2 32.4h0M30.2 87.5h0M84.8 4h0M76.7 0.1h0M103.2 17.2h0M78.5 6.4h0M85.9 5h0M21.6 106.2h0M98.8 10.6h0M75.3 16.4h0" stroke="#b040b8" stroke-width="1.0" stroke-linecap="round" fill="none"/><path d="M77.1 10.7h0M23.5 90.7h0M37 14.8h0M56.7 7.4h0M25.8 14.9h0M17.5 105.8h0M2.3 93.6h0M38.7 100.5h0M92.3 15.8h0M84.3 11.5h0M34.4 8.7h0M75.2 5.4h0M24.7 104.9h0M50 4.2h0M25.1 89.3h0M0.5 103.6h0M54.5 9.7h0M93.5 86.7h0M3.4 94.5h0M37.9 5.6h0M77.1 2h0M55.8 9.4h0M89.1 10h0M35.8 13.3h0M31 90.8h0M45.7 2.2h0M82.9 7.3h0M57.4 3.4h0M21.3 95.6h0M4 93.8h0M47.6 100.5h0M52.7 102.4h0M5.6 104.8h0M96 12.2h0M26.8 97h0M51.5 89.1h0M31.7 93.2h0M81.9 2h0M84.1 5.7h0M73.1 15.2h0M90.8 17.8h0M15.4 97.4h0M43.2 9h0M36.5 104.2h0M66.7 10.5h0M52.8 95h0M83.2 6.5h0M25.8 14.7h0M98.1 16.7h0M53.2 90.1h0M90.8 4.7h0M29.2 13.4h0M3.1 92.9h0M31.5 10.5h0M5.4 96.9h0M36.6 11.7h0M27.9 93.5h0M35.4 17.3h0M40.1 6.6h0M72.1 9.6h0M89.3 3.5h0M49.1 91.9h0M51.9 92.7h0M96.8 103.5h0M25.5 88.3h0M1.6 104.5h0M79.9 11.2h0M4.7 101.7h0M74.8 8.9h0M24.8 95.8h0M59.8 6.1h0M74.1 1.1h0M72.1 91.5h0M3.6 92.8h0M63.5 16.7h0M52.8 99.7h0" stroke="#d060d8" stroke-width="1.3" stroke-linecap="round" fill="none"/><path d="M37.8 17.5h0M46.4 100.6h0M40.4 87.9h0M80.5 8h0M14.8 103.3h0M47.8 8.3h0M67.2 12.4h0M56.4 93.6h0M81 86.9h0M64.7 13.3h0M22.9 100.1h0M60 7.7h0M86.5 8.2h0M52 99.8h0M10.3 96.3h0M55.2 2.1h0M38.4 15.8h0M70.2 3.9h0M96.8 10.4h0M40 96.9h0M75.1 1.1h0M34.8 93.1h0M28.7 104.1h0M104.6 16.2h0M28.5 89.9h0M41.8 7.3h0M17.8 88.6h0M56.3 4.6h0M54.6 2.9h0M100.5 14.2h0M24.1 102.1h0M43.4 3.8h0M91.1 14.8h0M50.6 13h0M63 5.2h0M57.4 102.3h0M81.8 0.3h0M83.3 11.6h0M35.7 101.9h0M38.7 10.8h0M22.7 88.1h0M36.7 6.8h0M77.5 3.3h0M58.6 10.9h0M81.8 2.5h0M57.1 7.1h0M48 12.9h0M20.7 93.4h0M65 9.3h0M44.7 105.9h0M35.3 91.1h0M50.5 15.4h0M55.8 4.5h0M62.6 105.8h0M51.7 8.3h0M53.3 92.8h0M75.2 5h0M31.9 13.4h0M85.1 1.9h0M51.6 16.1h0M31 11.7h0M56.5 17.1h0M75.2 13.7h0M52.1 14h0M52.4 100.3h0M15.9 93.3h0M59 12.7h0M33.2 13h0M50.2 1.6h0M20.9 86.2h0M61.9 0.6h0M27.3 95.5h0M49 95.3h0M104.1 13.1h0M45.2 16.4h0M43.3 8.6h0M28 13.8h0M101.9 17.5h0M36.7 90.6h0M32.3 93.1h0M51.3 11.6h0M24.1 99.5h0" stroke="#d060d8" stroke-width="1.0" stroke-linecap="round" fill="none"/><g filter="url(#bl05)"><path d="M55.7 66.9h0M43.9 72.3h0M37.8 71.1h0M75.3 27h0M66.1 49.7h0M95.6 46.4h0M41.5 41.1h0M53.6 86.7h0M42.4 32.8h0M69.7 57h0M53 31.9h0M90.4 64.5h0M80.3 31.1h0M73.8 33h0M51.4 45.9h0M74.2 78h0M70.9 67.8h0M34 46.1h0M60.2 75.4h0M68 25.6h0M89.3 51.7h0M54.4 37.6h0M30.6 61.8h0M86.9 38.8h0M40.4 50.2h0M77.7 55.3h0M65.3 69.3h0M61.1 26.8h0M80.7 77.4h0M92.4 35.9h0M86.7 45h0M53.9 73.3h0M72.6 52h0M63.5 85.3h0M47.2 30.3h0M29.5 52.2h0M48.7 51.6h0M48.9 83.6h0M66.5 40.3h0M67.5 33.2h0M76.9 40.6h0M56.9 56.3h0M59.9 46.3h0M86.6 70.7h0M93.5 70.9h0M83.5 25.8h0M78.6 61.6h0M97.8 51.6h0M66 76.7h0M40.7 26.9h0M78.7 70.9h0M86.2 78.9h0M48.7 76.9h0M71.3 84.4h0M94.4 58.5h0M83.7 50.8h0M71 45.6h0M36.3 65h0M35.6 57.8h0M50.2 23.8h0M50.2 68.4h0M85.9 57.8h0M79.7 45.7h0M72.4 61.9h0M60.9 19.5h0M56.9 80.4h0M52.3 59.5h0M44.6 64.7h0M40.1 78.1h0M41.4 56.8h0M64.1 56.3h0" stroke="#c848d0" stroke-width="2.6" stroke-linecap="round" fill="none"/></g><path d="M62,16 C40,18 28,35 28,53 C28,70 39,83 56,89" fill="none" stroke="#184e1c" stroke-width="3.5" filter="url(#bl1)"/><path d="M62,13.5 C38,15 25,34 25,53 C25,72 37,86 56,92" fill="none" stroke="#2a9a2e" stroke-width="2.4" filter="url(#bl05)"/><path d="M46.5 16.5h0M38.4 21.9h0M57.3 13.8h0M25.9 48.4h0M26.6 39.6h0M32.8 28h0M50.3 15h0M48.4 17.5h0M26.7 43.5h0M26 41.6h0M43 19.6h0M28.4 38.3h0M24.7 46h0M31.2 31.8h0M33.8 26.5h0M34.9 25h0M25.9 49.4h0M32.5 28.6h0M25.5 47.8h0M26.2 46.4h0M34.1 26.9h0M31 31.2h0M51.1 15.1h0M25.5 42.2h0M58.8 14.1h0M44.5 18.6h0M35.4 25.2h0M24.4 52.8h0M37.7 22.6h0M29.8 32.7h0M40.9 21.4h0M42.4 19.9h0M24.6 47.4h0M57.6 13.4h0M27.3 39.9h0M46.7 17h0M50.2 15.8h0M59 14.2h0M26.3 47.2h0M28.5 38.6h0M60.7 13.2h0M25.6 51.1h0M38.7 23.7h0M31 32.7h0M43.5 18.4h0M36.2 23.8h0M40 22.6h0M41.3 19.3h0M58.8 13.1h0M26.5 40.8h0M43.5 18.1h0M24.9 52h0M48.1 15.7h0M58 13.2h0M28.4 34.8h0M59.1 13.8h0M46.6 18.5h0M53.7 14.9h0M26.8 40.2h0M25 52.3h0M46.5 17.3h0M59.4 13.6h0M46.5 18.3h0M26.1 43.5h0M59.7 13.2h0M46.3 16.9h0M47.4 17.8h0M52.2 14.3h0M25.3 48.9h0M24.8 52.5h0M25.7 47.4h0M27.2 41.4h0M34.1 25.9h0M48.6 17.3h0M26.2 47.4h0M29.2 70.2h0M45.6 87.2h0M46.2 87.8h0M39.3 82.8h0M28.3 66.9h0M53.3 92h0M54.6 90.6h0M39 84.2h0M50.2 90.6h0M54.3 91.1h0M24.5 56.4h0M38.3 82.3h0M43.4 85.2h0M25.7 65h0M51.4 91.4h0M49 90.1h0M46.2 87.2h0M49.4 89.4h0M49.2 90h0M39.5 83.9h0M50.3 89.3h0M32.5 76.2h0M24.1 54.5h0M36.7 81h0M48.8 88.9h0M25.4 60.7h0M44 86.5h0M25.7 53.6h0M46.5 88.9h0M34.6 79.2h0M44.7 87.4h0M26.9 65.5h0M53.9 92.2h0M25.7 59.3h0M49.8 89.6h0M32 74.3h0M43.9 87.6h0M49.3 90.1h0M28.8 68.5h0M31.6 73.9h0M26.7 61.9h0M25.4 62.7h0M32.9 77.3h0M35.4 78.5h0M40.8 85.7h0M28.4 69.2h0M33.3 76.6h0M32.2 77.3h0M27.8 65.8h0M29.8 71h0M55.2 91.5h0M40.1 83.6h0M29.1 69h0M33 75.6h0M28.9 68.6h0M45 86.9h0M31 75.4h0M44 86.9h0M38.9 83.9h0M24.5 57.7h0M45.6 88.3h0M50.5 90.2h0M35.8 80.5h0M37.1 82.5h0M31.3 72.9h0M26.4 62.7h0M28.3 70.1h0M24.1 54.3h0M53.3 90.4h0M45.8 87h0M53.2 91.8h0M36.3 80.6h0M36.5 79.6h0M44.1 85.5h0M25.8 59.4h0" stroke="#60e064" stroke-width="1.0" stroke-linecap="round" fill="none"/><path d="M35.8 24.9h0M52.8 15.7h0M61.5 13.5h0M24.7 47.1h0M32.7 29.3h0M59.1 13.6h0M28.3 36.5h0M27.3 37.4h0M46.5 16.7h0M34.8 27.5h0M31.8 31.1h0M39.6 22.3h0M54.9 14.1h0M29.4 35.2h0M37.2 22.9h0M44.9 17.6h0M44.7 19h0M49.2 17h0M24.8 46h0M39.6 21.8h0M60.3 13.5h0M24.6 47.6h0M30.6 30.8h0M32.3 30.7h0M48.4 15.6h0M56.2 14.3h0M60.7 12.8h0M35.2 27.1h0M37.6 23.2h0M29.4 32.9h0M31.3 30h0M31.5 32.2h0M58.2 14h0M30.4 31.3h0M45.5 18.9h0M24.3 52.9h0M29.1 37h0M46.9 17.5h0M58.9 13.5h0M29.2 35.1h0M26.3 40.1h0M41.4 21.2h0M31.5 30.5h0M39.1 23.3h0M31.2 29.6h0M45.3 87.7h0M30.9 74.9h0M31.4 75.3h0M25.5 57.9h0M25.9 58.6h0M25.5 54.4h0M45.8 87.7h0M41.1 85.2h0M42.5 85.8h0M27.7 65.1h0M30.3 73.4h0M48.3 89.2h0M39.2 83.9h0M47.4 89h0M25.9 55.8h0M26.8 62.2h0M55.3 91.6h0M24.2 53.7h0M26.3 64.3h0M37.9 80.9h0M28.7 71.5h0M35 80.2h0M25.4 57.8h0M40.3 85h0M32.2 75.2h0M43.7 86.6h0M49.6 90.2h0M41.9 84.6h0M49.5 89.5h0M24.5 58.6h0M33.9 78.9h0M37.5 82.8h0M44.3 87.3h0M24.4 53.7h0M32.1 75.6h0M29.6 73h0M33.4 76.2h0M35.2 78.2h0M25.9 54.6h0M50 89.6h0M34.2 78.3h0M50.8 90.9h0M38.6 82.6h0M28.5 68.5h0M41.4 85.8h0" stroke="#e0f0e0" stroke-width="1.0" stroke-linecap="round" fill="none"/><path d="M84,16.5 L107,17.5" fill="none" stroke="#5a8a5e" stroke-width="5" filter="url(#bl05)"/><path d="M89.5 17.2h0M92.5 17.5h0M98.4 15h0M84.3 18.6h0M90 15.8h0M106.9 16.9h0M103.2 16.9h0M98.7 15.4h0M98.6 18.7h0M96 18.1h0M99.4 15h0M101.4 17.4h0M90.9 14.8h0M103.9 16.9h0M100.5 18.7h0M100.4 18.9h0M93.1 18.4h0M94.2 19h0M104.2 15.1h0M87.1 15.7h0M106.2 16.7h0M98.4 16.1h0M95.7 16.5h0M92.1 17.4h0M97.4 18.9h0M99.7 19h0M103.7 19.3h0M99.4 15.5h0M103.8 19.1h0M104.8 17.3h0M100.4 15.7h0M103.1 17.3h0M90.6 15h0M103.6 19.3h0M86 18.4h0M93.4 15.4h0M90.8 18.2h0M104.1 14.9h0M98.1 14.9h0M100.5 16.2h0M104.3 19.2h0M95.6 19.3h0M91.1 15.1h0M97.8 14.8h0M88.5 16.6h0M98 15.4h0M85 18.7h0M91.2 19.1h0M104.6 16.4h0M94.6 17.1h0M98.8 17.4h0M96.9 17.6h0M105.6 17h0M93.9 18h0M89.5 16.1h0M106.5 17.1h0M96.6 14.8h0M93.5 17.4h0M84.5 17.5h0M98.5 15h0M98.4 16.8h0M99.6 16.3h0M100.3 18.1h0M84.5 15h0M99.5 19.1h0M89.8 16.8h0M97.6 16.2h0M92.4 16.1h0M92.5 17.4h0M90.9 16.4h0M101.8 14.8h0M97.1 18.1h0M91.1 15.7h0M102.5 15.8h0M88.3 16.7h0M100.1 15.2h0M91.4 16.2h0M103.2 16.7h0M103.7 15.5h0M91.7 17.7h0M104.4 16.8h0M89.2 15.3h0M96.2 15.6h0M102.6 18.6h0M88.2 16h0M102.6 17.7h0M102.5 16.3h0M87 16h0M102.3 15.9h0M92 16.6h0" stroke="#d8ecd8" stroke-width="1.0" stroke-linecap="round" fill="none"/><path d="M45,86 L57,93" stroke="#a0f0a0" stroke-width="2.4"/><polygon points="46.9,23.9 56.1,25 53,26.5 51.5,31.4" fill="#fff"/><polygon points="31.1,52.7 40,48.6 38.3,52.7 40,56.7" fill="#fff"/><polygon points="46.9,80.3 55.6,77.4 52.5,77 52.1,71.7" fill="#fff"/></g><line x1="75" y1="104.5" x2="105" y2="104.5" stroke="#b0b0b0" stroke-width="1"/></g>
<text x="374.5" y="7.8" font-size="11" font-weight="bold"><tspan font-style="italic" fill="#111">hand2:</tspan><tspan fill="#2a9a48">EGFP</tspan></text>
<text x="479.8" y="7.8" font-size="11" font-weight="bold"><tspan font-style="italic" fill="#111">TCF:</tspan><tspan fill="#c044b4">mCherry</tspan></text>
<text x="570" y="7.8" font-size="11" font-weight="bold"><tspan fill="#111">merge/</tspan><tspan fill="#d8d8d8" stroke="#808080" stroke-width="0.35">co-localization</tspan></text>
<line x1="351" y1="11.4" x2="457.6" y2="11.4" stroke="#999" stroke-width="1.1"/>
<line x1="463" y1="11.4" x2="569.5" y2="11.4" stroke="#999" stroke-width="1.1"/>
<line x1="574" y1="11.4" x2="680" y2="11.4" stroke="#999" stroke-width="1.1"/>
<line x1="348" y1="14" x2="348" y2="120.8" stroke="#aaa" stroke-width="1"/>
<text transform="translate(344.6,67.5) rotate(-90)" x="0" y="0" font-size="9.5" font-weight="bold" text-anchor="middle" fill="#111">10 hpf</text>
<line x1="348" y1="122.8" x2="348" y2="229.6" stroke="#aaa" stroke-width="1"/>
<text transform="translate(344.6,176.3) rotate(-90)" x="0" y="0" font-size="9.5" font-weight="bold" text-anchor="middle" fill="#111">18 hpf</text>
<line x1="348" y1="231.5" x2="348" y2="338.3" stroke="#aaa" stroke-width="1"/>
<text transform="translate(344.6,285.0) rotate(-90)" x="0" y="0" font-size="9.5" font-weight="bold" text-anchor="middle" fill="#111">24 hpf</text>
<text x="59.6" y="392.8" font-size="19" font-weight="bold" font-style="normal" fill="#000" text-anchor="start" >F</text>
<g><path d="M124.2 407.6h0M118.9 409h0M116.5 409.5h0M117.9 410.3h0M118.1 410.1h0M119.4 409.6h0M121.3 409.8h0M123 409.3h0M123.4 409.4h0M125.8 410.4h0M110.9 411.5h0M114.1 411h0M115.2 410.9h0M115.6 411.6h0M117.9 411.6h0M119 411.3h0M120.1 410.6h0M121.7 410.6h0M122.1 411.7h0M123.3 411.6h0M112.2 412.7h0M113 412h0M115.3 412.5h0M116.4 412.1h0M117 412.6h0M118.4 412.7h0M119.7 412.8h0M121.8 412.6h0M122.2 411.9h0M123.7 412.1h0M125 412.9h0M127.8 412.9h0M129.2 412.5h0M111.9 413.6h0M113.7 413.2h0M117.5 413.3h0M118.9 413.3h0M120.5 413.3h0M121.1 414.2h0M122.3 414h0M124.3 413.5h0M125.8 414h0M126 413.8h0M128.1 414h0M128.7 414h0M130 414.3h0M131.2 414.4h0M109.4 415.6h0M110.9 414.8h0M112 414.9h0M117.7 414.7h0M118.6 415.4h0M120.3 415.2h0M121.2 414.7h0M122.7 414.7h0M124.3 414.5h0M125.7 415.7h0M126.6 415.2h0M128.4 415.3h0M129.6 415.1h0M130.7 414.5h0M131.9 415.1h0M110.7 416.9h0M111.7 416.9h0M114.1 416.7h0M114.6 416.8h0M116.6 416.3h0M118.2 416h0M120 416.7h0M121.2 416.6h0M122.6 416.7h0M123.5 416.9h0M125 416.2h0M127.4 416.8h0M129 416h0M130 416.3h0M131.1 415.9h0M110.6 418.1h0M112.8 417.4h0M113.2 418.1h0M114.6 417.2h0M116.8 417.2h0M118.1 417.1h0M120.5 417.3h0M121.3 418.1h0M123.2 417.1h0M124 418.3h0M124.9 418.2h0M126.4 417.5h0M128.4 417.3h0M129.4 418.1h0M131 417.5h0M131.3 418.1h0M132.7 417.3h0M134.4 418h0M110.1 418.9h0M111.2 418.8h0M111.6 418.9h0M113 419.1h0M114.3 419.2h0M115.5 418.5h0M117.5 418.4h0M119.3 418.6h0M119.9 419.4h0M121.7 419h0M122.2 418.5h0M123.4 418.4h0M124.8 419.5h0M126.5 418.6h0M128 419.2h0M129.6 418.8h0M130.3 418.5h0M131.8 419.4h0M133.1 419h0M133.8 418.8h0M109.1 419.9h0M111.5 420.6h0M112.8 420.4h0M113.5 420.2h0M115.3 420.9h0M116.5 420.2h0M117.9 420h0M118.3 419.8h0M119.7 420.3h0M120.7 420.6h0M122.5 420.1h0M124.2 420h0M124.9 420.2h0M126 420.6h0M128.4 420.9h0M128.9 419.9h0M130.4 420.3h0M131.5 420.8h0M133 420.8h0M134 420h0M136.9 419.9h0M110.2 421h0M110.3 421.5h0M111.6 421.7h0M113.3 421.3h0M116 421.8h0M117.9 422h0M118.2 421.9h0M120 422h0M122.8 422.1h0M123.9 421.8h0M125.6 421.7h0M126.5 421.2h0M128 422.2h0M129 421.4h0M130.8 421.5h0M131.3 421.4h0M132.9 422.1h0M110.2 423.1h0M111.4 422.5h0M112.6 422.7h0M114.1 423.5h0M114.7 422.6h0M115.8 423.5h0M117 422.5h0M118.7 423.2h0M121 423.5h0M122.3 422.9h0M124 422.3h0M125.8 422.4h0M126.1 423.5h0M128 422.4h0M129.4 422.5h0M132.3 422.9h0M132.5 422.8h0M134 422.4h0M135.1 422.7h0M109.9 424h0M110.7 424.5h0M112.3 424.2h0M113.4 424.2h0M114.4 424.3h0M116.6 423.8h0M117.8 423.8h0M118.3 423.6h0M119.9 424.7h0M120.7 424.7h0M123.2 424.4h0M124.2 423.7h0M125.1 423.7h0M126.3 424.2h0M127.6 424h0M129.7 424.8h0M130.8 423.9h0M131.4 423.7h0M133.3 424h0M110.1 425.9h0M111.4 425.3h0M112 425.1h0M114 425.4h0M115.1 425.3h0M116.1 425.4h0M117.6 426h0M118.2 425.1h0M120.1 425h0M122.7 426h0M124.2 425.9h0M125.7 425.4h0M126 426h0M127.8 426h0M128.7 425.9h0M129.9 424.9h0M131.1 425.9h0M111.3 426.6h0M112.3 427.3h0M116.2 426.3h0M117.4 427.3h0M118.4 427.4h0M120 426.4h0M121.8 426.3h0M122.8 426.6h0M124.4 427.3h0M124.8 426.2h0M126.3 426.4h0M127.4 427.2h0M128.6 427.3h0M131.7 426.6h0M112.3 428.3h0M112.9 428.5h0M114.8 428.2h0M116.6 428.3h0M117.8 428.7h0M119.3 428.1h0M120.3 427.9h0M121.4 427.6h0M123.1 428.1h0M124.4 428h0M125.3 428.5h0M126 428.4h0M127.5 428.6h0M129.2 428.7h0M131.9 428.4h0M133 428.2h0M110.5 429.4h0M114 429.4h0M114.2 429.1h0M116.7 428.9h0M117.4 429.3h0M119.3 429h0M120 429h0M121.9 429.8h0M123.1 428.9h0M124.2 429h0M127.8 429.2h0M129.4 429.4h0M130.3 429.8h0M131.8 429.5h0M132.4 429h0M112.5 430.2h0M113.7 430.8h0M114.3 430.9h0M115.6 430.1h0M117.8 430.6h0M119.3 430.8h0M120.3 430.1h0M122.6 430.5h0M123.4 431.1h0M128.2 430.5h0M129 430.2h0M130.5 430.8h0M113.3 432.6h0M114.8 432h0M117.4 431.4h0M120.2 431.7h0M121 431.7h0M122.8 431.5h0M123.3 432.6h0M124.7 432.3h0M126.8 432h0M127.3 432.2h0M129.7 431.4h0M130.6 432.6h0M133 432.1h0M112.3 433h0M114.5 433.8h0M117.7 433.6h0M119 433h0M119.6 432.9h0M123.9 433.2h0M125.1 433.5h0M127 432.9h0M128.2 433.6h0M128.6 433.7h0M129.9 433.4h0M114.5 434.2h0M116.2 434.5h0M117.1 435h0M119 435h0M119.7 434.2h0M121.9 435.1h0M123.3 435.1h0M124.9 435.2h0M127 434.4h0M127.3 435.1h0M128.9 434.8h0M130.1 434.1h0M132.6 434.4h0M117.4 436.2h0M120.8 436h0M123 436.4h0M123.3 435.7h0M125.5 435.8h0M126.9 436.5h0M128.3 436h0M129.6 435.4h0M122.7 437.1h0M123.8 436.8h0M125 437.3h0M127.1 437.4h0M128 437.3h0M120 438.3h0M123.5 438h0M125.3 438.2h0M126.7 437.9h0M127.4 439.1h0M124.4 439.2h0M125.2 439.4h0M124.5 443h0" stroke="#5e0037" stroke-width="2.3" stroke-linecap="round" fill="none"/><path d="M90.2 433.7h0M91.9 432.9h0M91 434.3h0M93.5 434.4h0M93.9 435.1h0M86.7 435.6h0M88.4 435.7h0M89.8 435.9h0M90.3 435.4h0M92.2 435.6h0M92.8 436.4h0M94.3 435.4h0M95.7 435.7h0M87.2 437.8h0M87.6 437h0M88.9 437h0M90.2 437.5h0M91.7 437.2h0M93.3 436.6h0M94.4 437h0M96.9 437.1h0M97.8 437.3h0M86.6 438.6h0M88 438.2h0M89.8 438h0M90.3 438h0M92.3 438.9h0M93.7 438.6h0M94.6 439h0M95.4 438.1h0M97.1 438.3h0M98.8 438.7h0M88.5 439.5h0M89.8 440.4h0M90.9 440.4h0M92.2 439.5h0M93.1 439.8h0M94.6 440.1h0M95.1 439.3h0M97.6 440.1h0M98.6 439.3h0M100.2 440.3h0M102.7 439.7h0M88.6 440.6h0M91 441.4h0M91.9 440.6h0M93.7 440.7h0M94.9 441.3h0M95.4 441.4h0M97.5 441h0M98.7 440.9h0M101.6 440.9h0M88 441.8h0M90.7 442.7h0M91.8 442.7h0M93.6 442.1h0M95 441.9h0M95.3 442.7h0M97.3 442.8h0M97.7 442.6h0M99.9 442.9h0M101 442.9h0M101.7 442.1h0M103.3 442.4h0M93.7 443.4h0M96.2 443.3h0M97 443.3h0M98.2 443.5h0M100.2 444.3h0M100.7 444.3h0M101.7 443.1h0M103.5 443.6h0M97.1 445.1h0M102.2 445h0M104 444.6h0M104.5 444.7h0M116.8 450.5h0M112 451.4h0M115.1 450.9h0M116.2 451h0M115.9 452.7h0M118.8 452.6h0M116.9 453.8h0M113.1 455.1h0" stroke="#0b775f" stroke-width="2.3" stroke-linecap="round" fill="none"/><path d="M116.1 439.7h0M118.1 439.7h0M119.2 439.4h0M113 441h0M115.6 440.3h0M116.5 440h0M117.9 440.8h0M119.8 440.7h0M120.3 439.9h0M110.7 441.2h0M112.7 442h0M114.4 442.3h0M115.4 442.1h0M120.4 441.5h0M110.9 443.2h0M111.2 443.4h0M113.5 443.1h0M114.4 442.4h0M117.3 442.9h0M111.5 444.8h0M113.3 443.9h0M114.3 444.2h0M101.6 445.5h0M105.4 445.8h0M109.6 445.5h0M111 445.6h0M112.1 445.6h0M101.9 446.7h0M102.4 446.6h0M109.1 446.3h0M110.4 446.4h0M101.3 447.6h0M102.3 448.1h0M104 448.2h0M106.5 448.8h0M109.3 447.7h0M109.9 448.1h0M112.2 447.9h0M100.9 449.7h0M103.8 450h0M105.8 449.6h0M106.9 449.5h0M108.6 449.8h0M109.9 450.1h0M104 450.4h0M106.3 451.2h0M108.5 450.3h0M109.3 451.2h0M110.4 451.1h0M109.7 452.2h0M110.1 452.6h0M107.7 454h0M109 453.6h0M110 453.3h0M107.6 454.4h0M108.8 456.4h0M112.4 460h0M112.5 459.7h0M109.4 461h0M110.1 461.3h0M117.9 461.5h0M119.2 461.7h0M120.6 461.7h0M122 461.8h0M108.9 462h0M110.8 462.8h0M111.8 462.8h0M113.3 463h0M115 462.7h0M115.9 462.2h0M117.4 462.9h0M118.7 463h0M119 463.1h0M120.8 462h0M109.5 464.4h0M110.7 464.3h0M112.1 463.6h0M113.6 463.2h0M114.8 463.5h0M115.5 464h0M116.4 463.7h0M118.2 464.4h0M119.6 463.4h0M121.9 464.3h0M111 465.3h0M111.9 464.9h0M114.4 464.6h0M116 465.6h0M117.6 465.4h0M118.4 464.5h0M119.9 464.9h0M120.6 464.8h0M122.9 465.2h0M110.6 466.5h0M111.8 466.1h0M112.8 466.1h0M113.8 466h0M115.6 466.3h0M116.7 466.6h0M117.8 466.6h0M119.7 466.9h0M110.6 468.2h0M111.5 468.3h0M112.7 467.7h0M114.1 467.4h0M115.8 467.5h0M116.6 467.8h0M117.9 467.2h0M107.7 468.6h0M109.3 468.7h0M110.5 469.5h0M111.9 469.2h0M113.6 468.6h0M113.8 468.9h0M117.3 468.4h0M107.9 470.7h0M109.6 470h0M111 469.7h0M112.2 470.2h0M113.4 469.9h0M114.2 470.5h0M108.1 471.3h0M108.7 472.1h0M110.3 471.4h0M111.4 471.3h0M113 471h0M113.8 471.6h0M110.5 472.3h0M112 472.4h0M113.1 472.7h0M114.8 473h0M115.7 473h0M109.5 474.8h0M110.5 474.4h0M111.2 474.4h0M113.1 474.5h0M114.3 474.6h0M115.4 473.8h0M117.4 474.7h0M109.5 476h0M110.8 475.7h0M112.3 475.1h0M113.2 475.1h0M114.9 475.5h0M115.8 476h0M116.6 476.1h0M108.9 476.6h0M110.8 477.2h0M113.3 476.5h0M114.2 476.6h0M115.1 477.4h0M116.4 476.6h0M109.5 477.8h0M111.1 477.7h0M112.4 478.2h0M113.6 478.5h0M114.1 477.9h0M116 477.7h0M117.4 478.6h0M109.1 479.4h0M110.9 479.2h0M112.2 479.6h0M113.7 479.2h0M113.8 479.6h0M116.8 479.3h0M119 480h0M109.8 480.7h0M109.9 480.7h0M111.8 480.7h0M113.3 480.5h0M114.1 481.2h0M116.1 480.7h0M116.9 480.4h0M109.1 482.1h0M110.5 482.4h0M112.1 482.3h0M113.4 482.2h0M114.2 482.5h0M115.5 481.5h0M117.5 482.2h0M108.8 483.6h0M110.9 483.1h0M111.5 483.5h0M112.8 483.7h0M113.8 483.4h0M115.1 483.7h0M118.4 483.1h0M108.9 484.7h0M110.3 485.1h0M111.8 485.2h0M113 485.1h0M114.3 484.9h0M115.2 485.1h0M109.2 486h0M110.2 486.5h0M112.2 486h0M112.5 486.1h0M114.2 486.1h0M116.2 485.4h0M117 485.4h0M109.2 486.9h0M110.9 486.6h0M112.1 487.2h0M112.8 487h0M114.6 487.2h0M115.6 486.7h0M112.3 488.1h0M113 488.1h0M114.4 487.9h0M115.2 488.3h0M118 489.1h0M112.4 490.4h0M112.5 489.7h0M114.2 489.8h0M115.1 489.9h0M110.6 490.9h0M111.6 490.9h0M113.3 490.6h0M114.7 490.8h0M116.1 491.1h0M109.6 492h0M110.1 492.6h0M111.9 492.3h0M112.9 493h0M114.5 492.5h0M115.1 492h0M109.9 493.6h0M111.7 494.1h0M113.5 493.7h0M115 493.3h0M117.4 493.6h0M110.1 494.8h0M112 495.1h0M113.3 495.2h0M114.3 494.5h0M110.7 496h0M111.9 496.7h0M113.3 496.3h0M113.9 496.6h0M111.4 497.3h0M113.2 497.7h0" stroke="#e8048c" stroke-width="2.3" stroke-linecap="round" fill="none"/><path d="M124.5 438.9h0M124.7 439.8h0M117 441h0M120.5 440.3h0M122.2 441.2h0M123.6 440.4h0M128.8 441.2h0M130.5 441.2h0M131.1 440.3h0M135.1 440.3h0M116.3 441.7h0M119.4 442.4h0M121.4 441.7h0M122.3 441.6h0M124.5 441.6h0M124.9 442.3h0M127.1 441.5h0M127.7 441.7h0M129.5 441.3h0M129.8 441.3h0M132.8 442.5h0M117.2 443h0M119.3 442.9h0M121.3 442.8h0M122.9 443.8h0M124.2 443.7h0M125.6 443.6h0M125.9 442.8h0M127.7 443.2h0M129 442.9h0M131 443.1h0M131.9 443h0M133 443.2h0M133.9 443.1h0M135.3 443.1h0M137.1 443.3h0M138.4 443.5h0M116.5 445h0M118 444h0M119.1 444h0M119.9 444.5h0M121 444.4h0M124.3 444.7h0M125.4 443.9h0M127 444.5h0M128.1 444.1h0M129.4 444.2h0M130.4 444.2h0M131.3 444.5h0M133.5 444.3h0M134.8 444.8h0M136.1 444.7h0M137.1 444.1h0M116.8 445.4h0M118.3 445.7h0M120.6 445.9h0M121.4 445.6h0M122.3 445.8h0M124 445.9h0M125.1 445.6h0M126.5 445.2h0M128 445.4h0M129.3 446.2h0M131 445.5h0M131.7 445.5h0M133.6 445.2h0M133.9 445.9h0M135.6 446.2h0M136.3 445.5h0M117.4 446.5h0M120.1 447.1h0M121.1 446.5h0M122.9 447.5h0M123.6 447.7h0M125.3 446.6h0M127.1 447.6h0M127.3 447.1h0M129.6 446.5h0M130.4 446.5h0M131.8 446.8h0M133.6 446.8h0M134.6 446.7h0M135.7 447.5h0M137.4 447.4h0M138.5 447.1h0M139.5 447.2h0M140.7 447.6h0M141.9 446.9h0M117.8 448.5h0M120.5 448.6h0M121.2 448.3h0M122.8 448.9h0M123.5 449h0M124.8 448.9h0M126.9 449h0M127.2 448.9h0M129.7 449h0M129.9 448.9h0M131.6 448.3h0M132.8 448.7h0M134.5 448h0M137.1 448.4h0M138.8 448.1h0M139.9 448h0M141.7 448.7h0M120.3 449.6h0M121.9 449.4h0M122.3 450.3h0M123.7 450.3h0M124.6 449.6h0M126.1 449.5h0M127.6 450h0M129.2 450.2h0M129.9 449.4h0M131.4 450h0M132.9 449.1h0M134.9 449.6h0M135.7 449.6h0M136.3 449.6h0M137.7 450.3h0M139.4 450.2h0M140.3 449.3h0M116.3 451.1h0M119.3 451.4h0M122.8 450.8h0M123.5 451h0M125.3 451h0M126 451.5h0M128.5 450.4h0M129.9 451.2h0M132.2 450.7h0M133.3 451.4h0M135.6 451.2h0M136.9 450.7h0M137.8 450.5h0M139 451.4h0M140.9 450.7h0M118.3 452.1h0M119.4 452.8h0M122.8 452.3h0M123.7 451.8h0M125.8 451.7h0M126.4 452.4h0M128 452.9h0M128.7 452.3h0M130.7 452.3h0M132.3 452.8h0M133.6 452.4h0M134.7 451.7h0M136 452.5h0M136.7 452.4h0M137.9 452.2h0M139.9 452.2h0M141.1 452.6h0M142.3 451.7h0M116.8 453.8h0M119.2 453.7h0M120.4 453.6h0M120.9 453.2h0M123.1 453.1h0M123.9 454.2h0M125.8 453.1h0M126 453.2h0M127.6 453.5h0M128.5 454.2h0M131 453.1h0M132.1 453.9h0M133.4 454.1h0M134.6 453.2h0M135.8 453.2h0M136.4 453.9h0M137.6 453.4h0M139.4 453.6h0M140.2 453.6h0M142.4 453.3h0M117.3 455.5h0M118.8 455.1h0M119.4 455.4h0M122.2 454.9h0M123.8 454.8h0M125.3 455.1h0M126.2 455.5h0M127.4 455.4h0M129.4 454.9h0M130.2 454.7h0M131.6 454.3h0M133.3 454.9h0M134.6 454.6h0M136.2 455h0M137.4 455.1h0M138.3 455.4h0M139.9 454.6h0M141.1 454.7h0M116.9 456.3h0M118.5 455.9h0M120.4 456.6h0M120.7 455.9h0M123 455.8h0M124.2 456.6h0M125.6 456.3h0M125.9 456.5h0M128.2 455.9h0M129.7 456.3h0M130.3 456.2h0M131.5 456.7h0M132.6 456.4h0M133.9 456h0M135.3 456.4h0M136.7 456.7h0M137.8 456.4h0M139.8 455.6h0M141.1 456.4h0M116.3 457.4h0M116.8 457.1h0M118.1 457.7h0M119.9 457.3h0M121.9 457.5h0M122.6 457.9h0M123.7 457.6h0M125.5 457.2h0M127.1 457.1h0M127.2 456.9h0M129.1 458h0M130.9 457.4h0M131.9 457.9h0M133.8 457.7h0M136.1 457h0M137.1 458h0M138.8 457.8h0M139.5 456.9h0M140.9 457.2h0M116.4 458.3h0M117.8 459.2h0M118.9 458.5h0M120.4 458.4h0M121.7 459.3h0M122.2 459.4h0M124.1 459.4h0M124.8 458.9h0M127.1 458.8h0M128.1 458.5h0M129.1 458.7h0M130.1 458.6h0M134.7 458.6h0M136 458.2h0M137.3 459.2h0M137.9 458.6h0M139 459.4h0M140.6 459.2h0M142.6 459.4h0M117 460h0M119.3 460.3h0M119.7 460.6h0M121.4 460.1h0M122 460.1h0M124.4 460.1h0M125.8 460.3h0M126.8 460.4h0M127.6 460.1h0M129.5 460h0M134.5 459.5h0M136 460.4h0M136.6 459.5h0M138.8 460.7h0M139.7 460h0M116.2 461.6h0M118.1 460.9h0M120.6 461.5h0M121.2 461.8h0M122.6 461.6h0M124.5 461h0M124.6 461.9h0M127.1 461h0M127.6 461.3h0M129 462h0M130.2 460.9h0M131.8 461.6h0M132.8 460.8h0M134.1 461.3h0M135.3 461h0M137.3 462h0M137.9 461h0M139.6 461.9h0M140.5 461.9h0M116.3 462.3h0M119.3 462.4h0M119.4 462.3h0M121.6 463.3h0M122.3 462.2h0M123.7 462.2h0M125.1 462.1h0M126.4 462.6h0M127.5 463.1h0M129.7 462.2h0M131 462.5h0M131.9 463.1h0M134.5 463.2h0M135.5 462.8h0M137.1 463.1h0M137.6 462.9h0M139.7 462.3h0M119 464h0M120.6 463.9h0M121.4 463.7h0M122.8 463.4h0M123.5 463.8h0M124.7 464.5h0M126 464.3h0M128.8 464h0M130.3 464.3h0M131.1 464.1h0M133.5 464.1h0M134.5 464.5h0M136.1 464.6h0M137.5 464.2h0M138.4 464.2h0M139.5 464.3h0M118.5 464.9h0M120.1 465h0M121.8 465.7h0M122.7 465.3h0M123.5 464.8h0M125.7 465.2h0M126.3 464.7h0M127.7 465.1h0M129.7 464.9h0M131.7 465.9h0M132.6 465.1h0M134.2 465.3h0M136.1 465.4h0M138.3 465.3h0M119.8 466.4h0M121.1 466h0M122.7 466h0M124.3 466.3h0M125.4 466.7h0M126.2 466.5h0M128.4 466.4h0M129.2 466.1h0M130.1 466h0M131.4 466h0M133.2 466.9h0M134.3 466.3h0M135.1 466.1h0M138.7 466.4h0M140.2 467h0M121.8 467.7h0M122.6 468.4h0M124 468.2h0M125.5 467.7h0M126.7 467.4h0M128.4 467.6h0M128.5 467.6h0M132.3 467.7h0M132.5 467.4h0M134.3 467.4h0M135.1 468.2h0M137 468.2h0M122.1 468.9h0M124.5 469.1h0M125.3 468.7h0M126 469.3h0M127.5 468.8h0M131.2 469.5h0M132.8 469.7h0M134.4 469.3h0M119.3 470h0M122.8 471.1h0M123.3 470h0M125 470.1h0M128.3 470.4h0M129.1 469.9h0M130.8 470.1h0M132.1 470.1h0M133.4 471.1h0M134.3 470.3h0M120.9 472.3h0M123.8 472.2h0M127.1 472.2h0M130.8 471.6h0M131.5 472.3h0M133.2 471.9h0M134.5 472.3h0M122.1 472.5h0M124.5 473.2h0M125 473.2h0M126.2 473h0M130.6 472.7h0M132.2 472.8h0M133.6 472.5h0M135 472.8h0M123 474.6h0M123.7 474.6h0M124.8 474.2h0M126.1 475h0M127.2 474.3h0M128.5 474.8h0M130 474.2h0M131.8 475h0M122.3 475.6h0M124.4 476.1h0M125.7 475.1h0M127 476.2h0M128.3 475.8h0M129 475.9h0M130.7 475.1h0M122.6 476.8h0M124 476.8h0M124.7 476.9h0M126.6 476.8h0M128.2 477.2h0M129.1 476.7h0M132.8 477.4h0M122.1 478.8h0M123.7 477.9h0M125.8 478.5h0M126.3 478.1h0M128.4 478.6h0M129.6 478.6h0M130.7 477.7h0M122.9 479.7h0M123.5 479.2h0M124.7 479.2h0M126.9 480.1h0M128.2 479.2h0M128.9 479.7h0M130.7 479.2h0M124.2 481h0M125.7 480.8h0M126.8 481.5h0M127.8 481.3h0M124.3 481.8h0M124.8 482.8h0M128.1 481.8h0M129.9 481.7h0M123.3 483.9h0M124.9 483h0M127.4 483.7h0M124.8 484.6h0M128.2 485h0M124.1 486.3h0M124.9 485.7h0M128.4 486.1h0M124.2 487.4h0M125.1 487.6h0" stroke="#1dd9b3" stroke-width="2.3" stroke-linecap="round" fill="none"/><path d="M139.3 464.9h0M135.9 466.6h0M136.9 467.2h0M139 466.5h0M139.9 466.8h0M140.7 466.8h0M134.5 467.7h0M136.1 467.4h0M137 467.7h0M138.3 467.4h0M139.2 468h0M140.7 467.8h0M141.9 467.8h0M135.4 468.9h0M137.2 468.6h0M139.7 469.4h0M141.4 468.6h0M142 469.4h0M135 470.6h0M135.5 470.9h0M136.5 471.1h0M139 470.1h0M140.3 470.4h0M141.3 471h0M141.8 470.2h0M135.3 471.3h0M137.2 472.4h0M139 471.2h0M139.7 472.3h0M141.5 472.1h0M142.9 472h0M143.7 471.7h0M134.3 472.7h0M136.5 473.4h0M138.3 473.4h0M139.3 473.7h0M141.5 473.5h0M142.3 473h0M133.3 474.8h0M134.1 474.4h0M136.2 474.4h0M137.7 474.3h0M138.6 474.3h0M139.2 474.5h0M141.3 473.8h0M142.4 474.4h0M144.1 475h0M133 476.3h0M134.7 475.6h0M135.8 475.1h0M137.2 475.2h0M138.6 476h0M139.7 476.3h0M140.8 475.2h0M142.6 475.2h0M143 475.6h0M145 475.4h0M133.8 476.6h0M135.1 477.5h0M136.4 476.8h0M136.9 476.8h0M138 476.5h0M139.6 477.5h0M140.8 476.7h0M141.7 477.2h0M143.4 477.2h0M131 478.3h0M132.6 478.4h0M134.2 478.1h0M135.5 478.9h0M136.6 478.9h0M138.8 477.7h0M139.2 478.4h0M141 478.9h0M142.4 477.9h0M143 477.7h0M133.8 479.2h0M134.5 479.3h0M135.3 480.2h0M136.9 479.3h0M139 479.1h0M139.5 479.7h0M141.2 479.8h0M142.8 479h0M143 479.5h0M129.7 480.9h0M131.3 480.3h0M134.4 481h0M136.4 480.7h0M137.6 481.4h0M138 481.4h0M139.3 480.7h0M141.2 481.3h0M142.3 481.3h0M143.3 481.2h0M130.4 482h0M131.7 482.3h0M133.8 481.8h0M134.8 482h0M135.5 482.7h0M137.4 482.3h0M138.1 481.8h0M139.3 482.5h0M140.8 482.5h0M142.7 481.7h0M143.6 481.8h0M144.7 482.8h0M131.2 483.8h0M131.9 483.2h0M133.4 483.5h0M135.1 483.8h0M135.3 483.5h0M136.9 483.8h0M138.7 483.8h0M139.3 482.9h0M141 483.4h0M142.5 483.1h0M143 483.5h0M129.5 484.8h0M130.2 484.9h0M131.9 485.3h0M135 484.9h0M136.3 485h0M136.5 484.9h0M139 485.4h0M140.2 484.9h0M141.3 484.8h0M142.2 485.4h0M143.7 485h0M129.9 486.7h0M130.3 485.8h0M131.3 486.3h0M134.6 486.3h0M136.2 486.1h0M136.5 486.7h0M138.3 485.5h0M140 485.7h0M141.4 485.8h0M142 485.8h0M143 486.4h0M144.4 486h0M120.1 487.6h0M121.5 487.2h0M122.3 487.9h0M124.5 487.3h0M125.8 487.1h0M127.1 487.7h0M128.1 486.8h0M128.7 487.1h0M130.9 487.3h0M132.2 487.2h0M133.4 487h0M134 487.6h0M135.3 487.4h0M137.2 486.9h0M140.2 487.9h0M141.5 486.8h0M142.8 487.9h0M143.6 487h0M118.4 488.5h0M120.7 489.2h0M121.6 489.2h0M122.6 489.3h0M124.2 488.6h0M125.5 488.6h0M126.7 489.3h0M128.4 489.3h0M129.7 489.1h0M130.8 488.1h0M131.5 488.9h0M135 489.2h0M136 489.3h0M136.5 488.7h0M138.3 488.6h0M139.6 488.6h0M141.4 488.5h0M142 488.4h0M143.6 488.3h0M145.3 489.1h0M119.5 489.5h0M120 490.2h0M121.8 489.9h0M122.9 490.5h0M123.6 489.4h0M125.3 490.3h0M127.2 490.4h0M127.8 489.7h0M129.7 489.9h0M130.2 490.3h0M131.5 490.3h0M132.6 489.7h0M134.2 489.8h0M138.7 489.7h0M139.9 490.3h0M140.8 490.1h0M141.7 490.4h0M144 489.4h0M117.7 491.7h0M118.7 490.7h0M121 491.9h0M122.8 490.7h0M124.9 491.6h0M126.4 491.6h0M128.6 491.3h0M129.3 491.3h0M130.9 491.1h0M132.3 491.3h0M133.6 491.4h0M134.5 490.8h0M138 490.7h0M139.6 491.1h0M140.4 491.5h0M142.6 491.3h0M143.1 491.3h0M116.2 492.8h0M119.3 492.9h0M120.5 492.5h0M121.9 493.1h0M122.2 493.2h0M123.7 493.1h0M126 493.1h0M127.1 492.2h0M128.3 492.8h0M129.3 493.2h0M131.2 492h0M132.3 492.3h0M133.5 492.6h0M133.9 492.1h0M137.9 492h0M139.1 492.5h0M141.2 493.1h0M142 492.5h0M143.4 492.7h0M144.4 492.1h0M146.6 492.5h0M116.2 493.5h0M117.6 494.2h0M120.5 493.9h0M121.1 494.1h0M122.5 493.9h0M124.1 493.8h0M127.9 494.1h0M128.8 494.3h0M130.3 493.7h0M131.4 493.6h0M132.6 494.3h0M134.8 493.3h0M138.7 494h0M139.3 493.7h0M140.5 494.5h0M141.8 493.5h0M143.2 494.2h0M145.7 493.5h0M121.8 495.3h0M124.6 494.9h0M125.3 495.8h0M126.7 495.5h0M128 494.9h0M129.5 494.9h0M130.4 495.3h0M131.7 494.9h0M133.3 495.2h0M134.2 495.6h0M135.4 495.2h0M137.5 494.6h0M139.6 494.7h0M141.2 494.7h0M142.9 494.6h0M143.9 495.3h0M124 496h0M125.5 496.8h0M126.8 496.2h0M128.2 496.3h0M129.9 496h0M130.3 497h0M132.3 496.4h0M132.6 496h0M134.6 496.3h0M136 497.1h0M137 496.9h0M138.7 496h0M139.4 495.9h0M140.6 495.9h0M142.3 496.5h0M143 496h0M144.9 495.9h0M132.4 497.7h0M133.4 497.5h0M135 497.3h0M135.5 498h0M137 498h0M138.4 497.2h0M139.4 497.9h0M142.6 498.3h0M133.9 499.2h0M136.9 499h0M140.3 499.1h0M140.4 498.9h0M142 498.8h0M136.3 500.8h0" stroke="#fcc8dc" stroke-width="2.3" stroke-linecap="round" fill="none"/><path d="M122.2 488.2h0M126.5 488h0M127.3 488.1h0M122.9 489.2h0M124.7 489.5h0M122.5 490.9h0M122.7 489.8h0M125 489.9h0M126.5 490.7h0M127.4 490.1h0M121 491.1h0M121.7 491.6h0M123.3 491.9h0M124 491.1h0M125.8 491.9h0M127.3 491.6h0M120.4 492.8h0M121.8 493.3h0M122.8 492.4h0M125 493.2h0M125.8 493.5h0M127.5 493.3h0M128.8 492.6h0M119.6 494.1h0M122 494.6h0M123.8 494.1h0M124 494h0M125.6 494.9h0M126.9 493.7h0M128.2 493.9h0M129.8 494.3h0M119.6 496h0M121.1 495.5h0M122.8 495.6h0M124.5 496.2h0M127.8 495.9h0M128.9 495.4h0M121.7 496.3h0M123.2 496.3h0M124.5 496.7h0M127.8 497.5h0M128.3 497.4h0M129.3 496.5h0M120.8 498.3h0M122.5 498.7h0M123.1 498.7h0M127.5 497.7h0M129.7 498.3h0M121.2 499.3h0M121.7 500h0M122.7 499.3h0M124.2 499h0M126.4 499.8h0M127.5 499.1h0M128.3 499.4h0M129.4 498.9h0M130.8 498.9h0M121.3 501h0M122 500.3h0M122.9 500.9h0M124.2 500.4h0M125.8 500.2h0M127 500.3h0M127.9 500.5h0M129.9 501.4h0M123.4 501.8h0M124.5 501.9h0M125.3 501.9h0M126.8 502.1h0M128.8 502.3h0M129.4 502.1h0M119.3 503h0M122.5 503.9h0M122.9 502.9h0M125.1 502.9h0M125.9 504h0M127 503.3h0M128.3 503.4h0M130.4 503.1h0M119.1 505.1h0M122.9 504.1h0M124.3 504.5h0M126.2 504.5h0M127.6 504.9h0M128.7 504.1h0M130.1 504.5h0M119.8 506.4h0M120.9 506h0M122.1 505.4h0M123.8 505.8h0M124.4 505.8h0M126.3 506.5h0M126.9 506.4h0M128 505.7h0M129.4 506.4h0M120.3 507.9h0M124.8 507.5h0M126.4 507.8h0M127.5 507.3h0M129.1 507.7h0M129.8 507.3h0M119.7 508h0M120.3 509h0M122.2 509.1h0M125.2 509h0M126 508h0M127 508.1h0M128.3 508.4h0M129.2 508.4h0M130.6 508.9h0M119 509.5h0M120.8 509.8h0M122.5 509.3h0M123.4 510.1h0M126.4 509.5h0M127.1 509.8h0M129.1 509.6h0M129.5 509.5h0M130.6 510.1h0M131.9 510.4h0M117.5 510.8h0M119 510.7h0M120.1 510.7h0M121.5 511.8h0M123.4 510.8h0M124.4 510.9h0M127.3 511.2h0M128 511.3h0M129.8 510.9h0M116.7 512.8h0M118.4 512.9h0M119.3 512.8h0M120.4 512.8h0M121.5 512.6h0M122.9 512.8h0M124.8 512.7h0M126 512.3h0M128.9 511.9h0M129.2 513h0M131.6 513h0M114.1 514.3h0M117.3 513.6h0M118.4 513.4h0M120 513.7h0M120.4 513.7h0M122.3 513.5h0M123.3 513.4h0M124.1 513.5h0M125.8 514.4h0M127 514.4h0M129.1 513.2h0M130.3 513.3h0M117.1 515.7h0M118.3 515.7h0M119.8 515h0M120.9 515.4h0M122.6 514.7h0M123.4 515.1h0M125.1 515.4h0M126 515.6h0M126.9 514.5h0M128.1 514.6h0M130.3 515.2h0M130.8 514.5h0M112.3 516.9h0M114.8 516.3h0M115.7 517h0M117 516.1h0M118.1 516.7h0M119 516h0M120.7 516h0M122.2 516.3h0M122.8 516.9h0M124.7 516.9h0M125.5 517h0M127.6 516.5h0M127.9 516.1h0M130.3 516.9h0M113 517.6h0M114.4 517.5h0M114.9 517.7h0M116.8 517.2h0M118 517.3h0M120 517.8h0M120.6 517.6h0M121.5 517.3h0M123.6 518.3h0M124.7 517.4h0M126 517.7h0M132.1 517.1h0M114.6 519.3h0M115.5 518.7h0M117.2 519.2h0M117.7 518.6h0M119.5 518.4h0M121.3 519h0M121.8 518.5h0M123 519.3h0M124.7 519.5h0M126.2 518.8h0M126.9 519.5h0M132.2 518.6h0M114.8 520.4h0M115.5 520.4h0M117.1 520.1h0M118 520h0M119.2 520.6h0M120.8 520.3h0M121.5 520.3h0M124.8 520.3h0M126.5 520h0M126.6 520.6h0M128.6 520.3h0M129.8 519.9h0M131.2 519.9h0M112.1 521.3h0M112.9 521.3h0M114 521h0M116 522.1h0M116.4 521.9h0M117.8 521.2h0M120 521.4h0M120.1 522.1h0M126.3 521.4h0M127.6 521.2h0M128.5 522h0M130.4 521.7h0M131.2 521.4h0M114.8 522.3h0M115 523.1h0M116.8 523.2h0M118 522.8h0M119.5 523.5h0M120.7 523.1h0M126.4 522.7h0M126.8 522.6h0M127.9 522.7h0M130 523.2h0M111.4 524.5h0M112.8 523.8h0M114 523.7h0M115.8 524.5h0M118.5 524.5h0M120 524.1h0M120.4 524.4h0M121.4 524h0M123.6 524.7h0M125.1 523.9h0M125.6 524.2h0M127.5 524.5h0M128.3 524.3h0M113.4 525.9h0M113.6 525.9h0M115.3 525.2h0M117 525.9h0M118.5 525.7h0M119.8 526h0M120.9 525.8h0M121.7 525.2h0M123.3 526h0M124.1 526h0M126 525.1h0M127.6 525.9h0M127.9 526h0M130.9 525.8h0M112.7 526.7h0M115.2 526.3h0M119.2 526.7h0M121.2 526.4h0M122.1 527.4h0M123.3 526.4h0M124.7 526.8h0M125.8 526.4h0M127.5 527.3h0M128.7 526.8h0M129.4 526.8h0M130.8 526.8h0M114.7 527.5h0M114.9 527.7h0M117 528.1h0M117.6 528.6h0M119.2 527.5h0M120.4 528.1h0M122.6 528.7h0M123.1 528.4h0M127.4 527.7h0M113.9 529.3h0M115.6 529.6h0M117.2 529.4h0M118.3 529.1h0M119.7 528.9h0M121.2 529.9h0M121.8 529.3h0M116.9 530.6h0M117.7 531.2h0M119.6 531h0M121 530.5h0M122.1 530.6h0M123.4 530.6h0M112.9 532h0M116.8 532.4h0M118.1 532.4h0M119.5 532.2h0M120.2 532.2h0M122.1 531.9h0M118.1 533.5h0M118.9 533.5h0M121.2 533.6h0M123.5 533.5h0M119.9 534.1h0M120.1 534.8h0" stroke="#9000ee" stroke-width="2.3" stroke-linecap="round" fill="none"/><path d="M139.1 497.7h0M136.3 499.2h0M139.4 498.1h0M132.1 499.8h0M135.5 499.8h0M136.2 500.1h0M138.4 500h0M138.7 499.4h0M141 499.8h0M141.3 499.5h0M143 500.3h0M131.5 501.5h0M133.1 501.5h0M136.5 501.5h0M137.6 500.9h0M139.4 500.9h0M140.1 501.8h0M141.4 501.5h0M143.3 501.4h0M133 502.5h0M134.2 502.3h0M134.9 502.8h0M139 502.9h0M140.7 502.1h0M144.1 501.9h0M133.8 503.2h0M135 503.9h0M136.3 504.3h0M137.9 504.4h0M140.4 504.1h0M145.3 504.4h0M132.1 504.8h0M135.8 504.5h0M136.4 505.1h0M137.2 505.5h0M138.5 505.5h0M141.9 505.5h0M144.3 505.3h0M132.8 506.4h0M136.3 506.7h0M138 506.6h0M139.1 506.7h0M139.9 506.4h0M141.5 506.7h0M143.9 506.2h0M132.8 507.2h0M136.5 507.8h0M137.9 507.8h0M138.7 507.7h0M140 507.1h0M141.1 507.7h0M142.8 507.8h0M145.6 507.3h0M137.1 509.1h0M138.4 509.6h0M139.2 509.2h0M141.1 508.9h0M143 509.1h0M137.5 510.8h0M138.7 510.6h0M141 510.3h0M142.2 510.5h0M143.2 510.7h0M144.4 510h0M134.9 511h0M136.5 511.1h0M137.9 511.8h0M139.6 511.8h0M140 511.5h0M143.3 512.2h0M143.8 511.8h0M145.6 512h0M136.5 513.2h0M138.2 513.2h0M139.6 512.5h0M140.5 512.7h0M142.1 512.3h0M143.2 512.4h0M137 514.4h0M138.1 514.2h0M139.6 513.9h0M140 513.6h0M141.3 513.7h0M142.8 514.3h0M139.3 515.1h0M141 515.8h0M141.1 515.5h0M143.2 515h0M139.4 517.4h0M139.8 516.6h0M141.7 517.1h0M142.4 517.4h0M141.3 518.3h0M140 521.7h0" stroke="#0d3b88" stroke-width="2.3" stroke-linecap="round" fill="none"/><path d="M142.2 524.6h0M143 523.9h0M139.9 525.6h0M141.6 525.9h0M143.3 525.7h0M143.8 525.4h0M144.9 525.7h0M138 526.5h0M138.4 527.5h0M140.5 526.5h0M141.3 527.2h0M142.6 526.4h0M143.9 527.3h0M144.9 527.3h0M122.8 528.8h0M126.6 527.8h0M127.5 527.8h0M129.8 528.2h0M130.6 528.3h0M136.3 528.7h0M138.9 528.2h0M140.3 528.3h0M142 527.9h0M142.8 528.5h0M144.5 528.5h0M145.3 528.5h0M122.5 530h0M123.9 530h0M124.1 530.2h0M128.7 529.8h0M130.3 529.3h0M131.2 529.6h0M132.5 530.2h0M133.3 529.9h0M134.8 529.8h0M139 529.5h0M140.7 529.8h0M142.1 529.9h0M143.3 529.3h0M143.6 529h0M145.5 530h0M147.1 529.8h0M116.7 530.4h0M117.7 530.4h0M119.5 531.4h0M120.2 531.1h0M121.6 531.4h0M123.6 530.8h0M124.9 530.6h0M126.6 530.7h0M127.3 530.4h0M128.2 531.4h0M129.6 530.6h0M131.8 531.3h0M132.7 530.6h0M133.9 531.1h0M134.7 531.4h0M139.8 530.9h0M142.2 531.5h0M143.3 531.2h0M144.4 531.3h0M145.2 531.5h0M146.8 531.2h0M118.7 532.5h0M118.9 532h0M121.3 531.6h0M122.3 531.8h0M123.3 531.7h0M124.2 531.7h0M126.4 532.3h0M127.1 531.9h0M128.9 532.3h0M130.1 532.3h0M130.7 532.6h0M133.1 532.7h0M133.7 531.9h0M135.4 532.6h0M136.2 532.8h0M138.2 532.8h0M139.4 532.8h0M140.5 532.4h0M141.9 532h0M143.2 531.7h0M143.6 532.6h0M117.7 533.4h0M119.5 533h0M120.7 533.3h0M122.5 533.2h0M123.8 533h0M124.4 533.6h0M126.5 533.7h0M127.2 533.9h0M128 534.1h0M129.6 533.6h0M131.7 533.3h0M132.8 533h0M133.3 532.9h0M135.4 534h0M135.8 533.1h0M138.3 533h0M139.6 533.3h0M139.8 533.9h0M142.2 533.4h0M142.4 533.8h0M144.5 533.4h0M146.6 533h0M115.3 535.3h0M117.1 534.4h0M118.2 535.3h0M119.8 535.1h0M120.2 534.6h0M122 534.5h0M123.9 534.6h0M124.1 535.3h0M127.5 534.9h0M128.1 535.1h0M130.2 535h0M131.3 534.8h0M133.1 535h0M134.4 535h0M134.7 535.3h0M137.5 534.7h0M139.6 534.2h0M140.8 534.3h0M141.7 535.4h0M142.6 535.2h0M114.4 536h0M116 535.9h0M117.1 535.9h0M118 536.5h0M119.4 535.6h0M120.6 536.3h0M121.7 535.5h0M123.1 536.3h0M124.3 536.6h0M126.5 536h0M127.5 536.2h0M129 536.4h0M130 536.4h0M130.6 536.2h0M132.3 536.4h0M133.8 536h0M135.1 535.9h0M136.6 535.8h0M138 536.6h0M138.9 536.4h0M140.3 535.7h0M141.5 535.9h0M143.7 535.5h0M145 535.8h0M117.1 537.5h0M118.8 537.2h0M119.6 537.4h0M121.1 537h0M123.5 537.8h0M125.3 537.6h0M127.1 537.7h0M128.9 536.8h0M129.8 536.9h0M131.4 537.9h0M133.1 538h0M133.6 537.1h0M135.3 537.9h0M136.9 537.6h0M137.4 538h0M139 537.6h0M140.3 537.3h0M141.6 537.4h0M143.5 537.7h0M144.4 537.4h0M145.4 537.3h0M116.8 539.2h0M121.3 538.4h0M122.7 538.7h0M125.3 538.8h0M127.3 538.8h0M128.6 539h0M130.5 538.4h0M131.8 539.2h0M132.9 538.1h0M134.1 538.4h0M135.6 539.1h0M136.3 539.2h0M138.2 539h0M139.5 539.2h0M140.8 538.1h0M141.8 538.3h0M142.7 538.6h0M144.1 538.2h0M115.7 540.1h0M116.4 539.5h0M117.6 540.1h0M121.1 539.9h0M122.3 540.2h0M125.5 540.2h0M127.9 540.2h0M129 540.4h0M129.6 539.9h0M130.9 540.5h0M132.3 540.4h0M133.6 540.5h0M135.1 540.1h0M136.9 539.6h0M137.5 539.4h0M139.2 539.9h0M140.4 539.8h0M141.8 540.4h0M143.3 540.1h0M143.9 539.5h0M115.8 541.2h0M116.6 541h0M118.1 540.8h0M120 541.5h0M121.1 541.7h0M121.8 541.9h0M122.8 541.3h0M124.4 541.8h0M125.5 541.4h0M126.7 541.9h0M129.2 541.3h0M129.4 541.9h0M131.7 541.1h0M131.9 541.2h0M133.2 541.3h0M135.4 541.7h0M136.8 541.7h0M137.9 541.4h0M139.5 540.9h0M139.7 541.4h0M142.2 541.6h0M142.8 541.9h0M143.8 541.3h0M145 540.8h0M115 542.4h0M117.2 542.7h0M118.5 542.6h0M119.5 542.7h0M120.5 542.1h0M122.3 542.1h0M124.2 542.9h0M125.7 542.6h0M126.8 542.1h0M128.2 542.8h0M130.5 542.3h0M130.8 542.8h0M132.7 542.2h0M134.2 542.2h0M134.6 542h0M135.9 542.6h0M137.7 542.6h0M139 542.4h0M139.9 542.7h0M141 542.7h0M142.9 542.5h0M144 542.5h0M145 542.1h0M116.8 543.9h0M118.3 543.6h0M120 543.8h0M121.3 543.6h0M122.6 543.8h0M122.9 543.3h0M124.1 544.4h0M125.9 543.3h0M127.3 543.6h0M130.1 543.3h0M131.4 543.4h0M132.6 543.3h0M133.2 543.5h0M135.2 544.1h0M136.6 544.4h0M138.3 544.2h0M138.5 544h0M140.5 544.1h0M142.2 543.8h0M142.6 543.5h0M143.7 544.2h0M145.2 543.6h0M117.8 545.3h0M119.4 545.3h0M121.4 544.8h0M122 545.5h0M123.8 544.8h0M124.7 544.7h0M125.9 545.1h0M126.8 544.6h0M131.2 544.9h0M132.8 544.8h0M133.7 544.8h0M135 544.6h0M136.6 545.2h0M137.3 544.9h0M138.4 545.2h0M140.6 545.7h0M141.7 544.8h0M142.9 545.5h0M118.6 546.8h0M119.7 546.9h0M121 546.4h0M122 546.1h0M123.4 546.6h0M124.7 545.9h0M125.8 546.3h0M128.8 547.1h0M130 546h0M130.9 546.7h0M133.1 546.6h0M134.4 546.1h0M134.7 546h0M136.2 546.5h0M137.4 546.8h0M139.2 546.8h0M140.1 546.1h0M141.9 547.1h0M143.2 546h0M143.9 546.5h0M145 545.9h0M117.4 547.7h0M117.9 547.5h0M119.9 547.4h0M120.6 548h0M121.6 547.9h0M123.8 547.3h0M125.3 547.9h0M126.6 547.6h0M128.9 548.2h0M129.4 548.4h0M130.9 547.9h0M133.1 548h0M134.3 547.5h0M134.6 547.7h0M138.1 548.4h0M139.1 548.3h0M139.9 547.2h0M141.3 547.6h0M119.9 549.3h0M120.8 549.3h0M121.8 549.2h0M123.4 548.8h0M124.1 549.7h0M126.5 548.5h0M127.3 549.3h0M128.7 549.7h0M130.1 548.6h0M131.3 549.2h0M132 549h0M133.9 549.6h0M135.2 549.5h0M137.6 549.6h0M142.6 548.7h0M119.3 550.6h0M120.9 550.8h0M122 550h0M123.6 550h0M126.4 550.4h0M127.9 550.6h0M128.5 550.8h0M130 550h0M131.4 549.9h0M132.3 549.8h0M134.4 550h0M135.1 551h0M135.9 550.7h0M137.6 551h0M121.3 551.1h0M121.9 551.9h0M123.4 551.9h0M124.1 551.2h0M126.4 551.5h0M127.3 552.3h0M128.5 551.5h0M129.7 551.9h0M130.6 551.8h0M131.9 552.2h0M133.4 551.5h0M134.7 551.2h0M135.8 551.2h0M121.3 552.6h0M121.8 553h0M124 553.6h0M124.3 552.9h0M126.5 553.4h0M126.9 552.4h0M130.4 552.4h0M132.9 552.4h0M120.4 554.2h0M123 554.2h0M125 554.5h0M125.7 554.7h0M127.5 554.8h0M129 554h0M129.4 554.4h0M122.2 555.7h0M122.9 555.1h0M124.4 555.9h0M125.8 555.2h0M126.7 555.4h0M129.2 555.4h0M123.9 556.4h0M124.9 556.5h0M125.4 557.4h0M127 557.5h0M129 556.4h0M129.6 557.5h0M124.4 558.2h0M125.9 558h0M126.9 557.7h0M128.7 558.8h0M129.3 558.1h0M131 558.4h0M121.3 559.6h0M122.8 559.4h0M124.9 559.9h0M125.6 560h0M127.3 560h0M128.3 559.7h0M129.4 559.2h0M125.2 560.2h0M126.1 561h0M127.1 560.6h0M128.6 561.4h0M130.9 560.9h0M125.7 561.6h0M127.3 561.8h0M128.8 561.7h0M123 563.3h0M124.4 563.9h0M125.9 563.7h0M126.9 562.9h0M128.3 563.5h0M125.1 565h0M126.3 564.8h0M126.5 565.7h0M127.4 566.1h0M128.4 566.9h0" stroke="#169cf0" stroke-width="2.3" stroke-linecap="round" fill="none"/></g>
<text x="144.6" y="453.9" font-size="11.1" font-weight="bold" font-style="normal" fill="#1dd9b3" text-anchor="start" >myocardium</text>
<text x="145" y="484.4" font-size="11.1" font-weight="bold" font-style="normal" fill="#fcc8dc" text-anchor="start" >pericardium</text>
<text x="147.2" y="517.3" font-size="11.2" font-weight="bold" font-style="normal" fill="#163f8c" text-anchor="start" >mesothelium</text>
<line x1="84.6" y1="519" x2="84.6" y2="573.8" stroke="#222" stroke-width="0.9"/>
<line x1="84.1" y1="573.8" x2="139.5" y2="573.8" stroke="#222" stroke-width="0.9"/>
<polygon points="84.6,516.8 82.9,521 86.3,521" fill="#222"/>
<polygon points="141.5,573.8 137.3,572.1 137.3,575.5" fill="#222"/>
<text transform="translate(77.4,552) rotate(-90)" font-size="7.4" font-weight="normal" text-anchor="middle" fill="#222">UMAP dim. 2</text>
<text x="85.4" y="587.4" font-size="7.4" font-weight="normal" font-style="normal" fill="#222" text-anchor="start" >UMAP dim. 1</text>
<text x="243.2" y="392.8" font-size="19" font-weight="bold" font-style="normal" fill="#000" text-anchor="start" >G</text>
<text x="323.2" y="392.8" font-size="11.33" font-weight="bold" fill="#111">canonical Wnt signaling-associated genes</text>
<line x1="265.4" y1="396" x2="614" y2="396" stroke="#aaa" stroke-width="1.4"/>
<g><path d="M302.8 451.4h0M297.6 418.1h0M297.1 441h0M295.5 429.7h0M310 435.9h0M304.2 484.2h0M298.9 465.3h0M311.5 445.6h0M315.9 470.5h0M295.4 417.9h0M303.1 442.6h0M312 449.1h0M295.9 441.3h0M308.2 471.4h0M304.3 416.6h0M315 454.2h0M307.7 419.1h0M303.5 464.3h0M304.4 453.2h0M301.9 452.6h0M300.5 426.1h0M302.4 426.6h0M308.1 434.7h0M301.9 474.9h0M301.3 450.6h0M300.7 470.2h0M310 471.1h0M303.9 414.6h0M299.5 468.3h0M311.2 455.4h0M301.4 455.4h0M297.8 452.4h0M298 442.6h0M303.7 455.9h0M300.4 435.9h0M298.5 463.7h0M303.4 466.4h0M289.4 429.7h0M308.2 448.4h0M303.3 480.7h0M304.4 482.9h0M301.3 451.7h0M304.5 462.5h0M297.5 429.6h0M303.7 420.8h0M295.8 431.3h0M308.1 469.1h0M304.1 451.3h0" stroke="#d3d3d3" stroke-width="2.9" stroke-linecap="round" fill="none"/><path d="M306.4 445.8h0M305.1 474.9h0M297.6 422.2h0M310.4 471.4h0M312.8 457.7h0M309.7 448.3h0M313.3 453h0M309.7 442.6h0M310.7 453.3h0M297.7 421.7h0M304.3 445.8h0M308.7 452.9h0" stroke="#b69ce3" stroke-width="2.9" stroke-linecap="round" fill="none"/><path d="M308.9 437.5h0M305.9 455.2h0M302.7 440.1h0M298.5 417.3h0M304.7 463.5h0M312 443.5h0M309.9 472.2h0M305.3 468.2h0M315.2 453.7h0M311.2 459.2h0M298.8 443.1h0M307.8 422h0" stroke="#aa89e7" stroke-width="2.9" stroke-linecap="round" fill="none"/><path d="M301.4 475.3h0M305.4 457.6h0M307.2 431.7h0M313.6 469.8h0M299.5 466.1h0M314.5 444.9h0M310.2 441.4h0M300.7 419h0M309.4 447.2h0M302 463.5h0M312 471.3h0M302 415.5h0M299.6 461.9h0M305 481.6h0" stroke="#9d77ec" stroke-width="2.9" stroke-linecap="round" fill="none"/><path d="M309.5 469h0M313.6 450.4h0M299.2 419.9h0M305.4 441.2h0M304.7 478.4h0M294.8 440.7h0M312.2 450h0M310.9 438.4h0M302.6 462.6h0M299.3 470.3h0" stroke="#8e65f0" stroke-width="2.9" stroke-linecap="round" fill="none"/><path d="M296 453.1h0M302 419.5h0M309.3 450.4h0M284 429.1h0M312.3 438.2h0M300.7 438.7h0M302.5 431h0M301 457.8h0M305.1 462.2h0M306.2 418.4h0M310 430.1h0" stroke="#673df8" stroke-width="2.9" stroke-linecap="round" fill="none"/><path d="M304.5 479.4h0M304.7 437.5h0M306.3 449.1h0M310.9 431.1h0M302.6 470.6h0M306.1 436.4h0M304.3 448.5h0M304.2 440.6h0M309.9 441h0" stroke="#4926fb" stroke-width="2.9" stroke-linecap="round" fill="none"/><path d="M307.3 418.4h0M304.7 480.9h0M304.4 447.5h0M301.7 440.3h0" stroke="#0000ff" stroke-width="2.9" stroke-linecap="round" fill="none"/><path d="M305.7 433.2h0M304.1 422.7h0M307.4 447.5h0M297.2 415.5h0M300.4 431.9h0M305.1 472.1h0M303.2 421.1h0M287.4 430.1h0M297.4 438.7h0M304.6 449.7h0M301.1 430.4h0M299.8 462.9h0M297.7 424.3h0M304 474.4h0M306 470.8h0M306 482h0M301.9 433.3h0M310.3 436.2h0M312.9 470.2h0M298.5 461.5h0M310.6 442.8h0M301.8 425.3h0M297.3 445.7h0M300 423.2h0M296.9 418.5h0M295.1 448.6h0M314.2 471.6h0M290.2 429h0M302.6 440.4h0M305.5 459.7h0M305.8 445.8h0M295.7 421.3h0M305.2 472h0M314.8 448.4h0M301.7 462.9h0M299.2 426h0M299.3 475.1h0M306.3 479.4h0M296.8 451.6h0M315.5 457.8h0M299.8 473.8h0M302.7 467.8h0M298.5 433.1h0M305.7 435.6h0M307.6 423h0M305.9 420.9h0M302.1 439.9h0M311.1 448.1h0M302.9 457.2h0M302.1 451.2h0M307.1 434.4h0" stroke="#d3d3d3" stroke-width="2.9" stroke-linecap="round" fill="none"/><path d="M303.5 476.7h0M306.5 445.1h0M301.2 468.9h0M314.7 458.1h0M306.7 453.5h0M314.9 449.2h0M309.3 433h0M300.5 419.7h0M312.2 442.1h0M304.7 467h0M304.8 450.3h0M305.8 461.9h0M307 433.2h0" stroke="#b69ce3" stroke-width="2.9" stroke-linecap="round" fill="none"/><path d="M299.3 472.3h0M306.7 454h0M296.1 440.5h0M303 452.6h0M302.1 469.7h0M313.1 437.6h0M304.2 434.8h0M312.5 462.7h0M300.1 429.8h0M302.8 468.4h0M303.5 419.5h0M302.2 464h0M308 468.7h0M307.3 464h0M304.2 436.2h0" stroke="#aa89e7" stroke-width="2.9" stroke-linecap="round" fill="none"/><path d="M309 471h0M305.2 465.5h0M302 478.1h0M313.8 442.2h0M295.1 420.1h0M305.5 458h0M313.2 432.5h0M314.6 444.2h0M297.4 465.9h0M300.6 472.8h0M282 426.7h0M313.2 467.6h0M306.4 474.4h0M297.4 416.8h0M301.2 460.7h0M313.1 456.8h0M303.6 471h0M297.3 449.3h0M302.3 418.3h0M305.4 422h0M298.4 463h0" stroke="#9d77ec" stroke-width="2.9" stroke-linecap="round" fill="none"/><path d="M302.2 437.1h0M313.7 444.3h0M297.7 440h0M289.2 429h0M305.3 451.8h0M306.6 417.3h0M301.5 436.8h0M297.9 464.4h0M302.2 451.6h0" stroke="#8e65f0" stroke-width="2.9" stroke-linecap="round" fill="none"/><path d="M306.5 466.9h0M312.5 432.7h0M309.5 429.2h0M310 445.8h0M307.7 421.1h0" stroke="#673df8" stroke-width="2.9" stroke-linecap="round" fill="none"/><path d="M305.1 447.7h0M286.5 429.1h0M311.1 451h0M305.4 446.6h0M297.2 463.4h0M285.9 427.5h0" stroke="#4926fb" stroke-width="2.9" stroke-linecap="round" fill="none"/><path d="M303.2 417.4h0M313 476.1h0M313 437.7h0M311.8 469.1h0M294.1 433.2h0M311.2 474.2h0M302.2 471.9h0M298.9 419.5h0M297.7 423.3h0M304.7 476.3h0M296.8 417.1h0M307.7 429.7h0M302.1 435.5h0M310.5 457.4h0M301.6 468.7h0M302.8 454h0M309.7 453.1h0M308.3 437h0M310.3 430h0M300.1 476h0M305.4 426h0M301.7 417h0M306 453.5h0M295.9 443.5h0M299 417.9h0M300.4 415.6h0M313.1 459h0M303.5 421.8h0M306.1 470.1h0M288.6 427.5h0M307.4 461.7h0M306.3 471.6h0M304.7 423.4h0M302.1 459.1h0M297.5 434h0M304 458.8h0M303.8 473h0M298.3 416.4h0M313.7 458.9h0M305 452.9h0M303.1 455.7h0M305.7 451.8h0M303.9 426.9h0M295.9 450.2h0M304.8 474.1h0M307.4 474.8h0M303.2 427.7h0M312.7 468.9h0M298.7 433.7h0" stroke="#d3d3d3" stroke-width="2.9" stroke-linecap="round" fill="none"/><path d="M302.8 419.9h0M307.3 451.8h0M306.8 476.3h0M301.6 469.8h0M303.9 459.1h0M307.4 452.4h0M296.3 423.1h0M305.5 453.8h0M306.4 438.2h0M301.9 466.2h0M310.9 472.3h0M314.2 469.7h0M314.4 473.8h0M295.4 432.1h0" stroke="#b69ce3" stroke-width="2.9" stroke-linecap="round" fill="none"/><path d="M308.6 446.2h0M302.7 428.8h0M307.4 440.1h0M303.9 433.5h0M309.6 445.1h0M303.6 451.9h0M303.8 460.5h0M308.4 435.8h0M295.1 447.3h0M303.4 423.2h0M295.6 438.2h0M301.3 416.5h0M302.8 414.9h0" stroke="#aa89e7" stroke-width="2.9" stroke-linecap="round" fill="none"/><path d="M298.2 449.3h0M311 470.6h0M299.6 463.6h0M314.9 470.3h0M308.5 437.9h0M303 433.7h0M305.1 427.8h0M305.1 479.9h0M310.5 443.8h0M313.9 451.7h0M302.8 429.2h0M309.2 456.8h0M314.9 451.4h0M304.2 450.3h0M307.4 479.1h0M311.9 448.1h0M307.7 419.7h0M316.1 472.7h0M308.6 478h0" stroke="#9d77ec" stroke-width="2.9" stroke-linecap="round" fill="none"/><path d="M304 461.5h0M300.7 468.1h0M311.8 447.7h0M301.9 472.3h0M304.4 468h0M313.5 452.3h0" stroke="#8e65f0" stroke-width="2.9" stroke-linecap="round" fill="none"/><path d="M308.3 476.9h0M307.6 468h0M307.4 443h0M302.8 430.8h0M306.7 441.6h0M308.9 442.5h0" stroke="#673df8" stroke-width="2.9" stroke-linecap="round" fill="none"/><path d="M299.1 429.2h0M307.3 436.4h0M307.5 444h0M303.6 429.8h0M311.7 433.4h0M305.7 434.1h0M286.5 427.3h0M304.4 443.6h0M303 434.8h0" stroke="#4926fb" stroke-width="2.9" stroke-linecap="round" fill="none"/><path d="M301.6 432.9h0M306.1 415.7h0M305.6 439.4h0M285.1 426.2h0" stroke="#0000ff" stroke-width="2.9" stroke-linecap="round" fill="none"/><path d="M312.4 446.4h0M303.9 426.9h0M310.2 478h0M301.9 458.2h0M313.1 477.3h0M309.3 469.5h0M296.3 452.6h0M306.3 456.1h0M303.5 482.3h0M297 463h0M311.3 457h0M296.4 466.2h0M303.5 459.1h0M300.1 427.9h0M302.7 475.4h0M310.5 469h0M304.2 465.5h0M299.3 439.9h0M299.3 423.4h0M296.5 448.5h0M305.1 419.6h0M310.7 477.2h0M301.8 421.7h0M311.6 474.1h0M291.2 430.3h0M305.4 444.5h0M306.6 464.1h0M310.7 442.2h0M296.6 444.9h0M299.8 439.9h0M297 419.8h0M295.8 447.6h0M304.7 442.2h0M302.8 417.7h0M297 416.3h0M295.8 441.7h0M298.3 444.4h0M304.3 438.7h0M298.5 434.5h0M304.2 415.9h0M315.7 467.3h0M299.5 445.7h0M305.6 478.3h0M312 431.3h0M311.2 452.1h0M303.1 444.7h0M316.1 470h0M298.5 424.4h0M306.8 425.4h0M311.5 460.2h0M312.2 477.2h0M304.5 473.2h0M295.2 451.3h0" stroke="#d3d3d3" stroke-width="2.9" stroke-linecap="round" fill="none"/><path d="M305.8 483.4h0M307.1 432.6h0M312.5 434.7h0M310.9 475h0M314.9 446.2h0M307.9 446.6h0M310.4 455.2h0M310.5 433.4h0M303.1 458.7h0" stroke="#b69ce3" stroke-width="2.9" stroke-linecap="round" fill="none"/><path d="M302.3 438.4h0M300.4 469.8h0M304.8 418.5h0M308.8 440.3h0M305.3 442.8h0M299.1 425.6h0M305.1 465.1h0M312.3 451.5h0M303.4 469.8h0M305.3 431.8h0M306.4 468.8h0M307.9 470.6h0M295.6 432.1h0M309.5 442.8h0M310.1 439.7h0M305.5 441.5h0M314.8 462.3h0M304.8 453.8h0" stroke="#aa89e7" stroke-width="2.9" stroke-linecap="round" fill="none"/><path d="M314.4 457.3h0M300.2 471.4h0M291.9 432.2h0M303.2 465.7h0M308.2 449.1h0M303.4 478.2h0" stroke="#9d77ec" stroke-width="2.9" stroke-linecap="round" fill="none"/><path d="M305.9 466.9h0M299.6 466.5h0M303.1 479.5h0M302.5 468.2h0M302.8 473.6h0M313.5 446.7h0M298.6 468.9h0M310.3 448.9h0M305.4 424.5h0M300.9 414.2h0M312.5 454.3h0M308.7 417.4h0M300.4 437.1h0M298.9 473.1h0M309.1 432.6h0M296.2 464.6h0" stroke="#8e65f0" stroke-width="2.9" stroke-linecap="round" fill="none"/><path d="M306.1 451.1h0M303.2 441.8h0M293.8 434.5h0M301.8 438.4h0M311.3 432.5h0" stroke="#673df8" stroke-width="2.9" stroke-linecap="round" fill="none"/><path d="M310.5 475.9h0M308.8 433h0M301 475h0M300.6 434.5h0M306.2 472.4h0M314.6 474.2h0M306.9 430.2h0" stroke="#4926fb" stroke-width="2.9" stroke-linecap="round" fill="none"/><path d="M308.6 432.2h0M282.1 426.3h0M304.8 435.2h0M310.7 440.2h0M300.9 438h0" stroke="#0000ff" stroke-width="2.9" stroke-linecap="round" fill="none"/><path d="M305.8 469.7h0M303.4 416.5h0M298.7 415.5h0M314.6 475.8h0M308.1 438.2h0M315.3 467.2h0M304.1 455.3h0M307.5 416.4h0M296.4 429h0M311.8 472.5h0M314.1 452.6h0M305.8 418.8h0M309.5 474.2h0M306.3 425.4h0M299.3 468.9h0M296.8 424h0M306.8 452.7h0M299.8 425.3h0M308.9 474h0M301 438h0M307 473.5h0M307.1 458.8h0M303.8 420.2h0M304.7 423.9h0M313.8 449.5h0M287.6 428.3h0M306.3 423.2h0M305.9 420.3h0M301.6 422h0M305.5 468.4h0M311.2 468.8h0M297.8 450.1h0M314 474.4h0M313.3 463.5h0M298.3 442.4h0M315.3 466.7h0M314.2 459.2h0M301 467.8h0M296.4 439.1h0M315.8 466.6h0M299.6 438.9h0M299.9 416.6h0M300.3 421.9h0M310.4 454.1h0" stroke="#d3d3d3" stroke-width="2.9" stroke-linecap="round" fill="none"/><path d="M301.2 469.2h0M313.8 455.7h0M301.4 434.5h0M310.8 429.8h0M308.1 421h0M298.9 467h0M299.6 422.3h0M312.2 455.9h0M309.6 451.4h0M313.7 471.3h0M300.6 414.7h0M284.6 427.5h0M303.7 452.5h0M313.4 474h0M301.4 439.2h0M284 427.2h0M312.7 447.4h0" stroke="#b69ce3" stroke-width="2.9" stroke-linecap="round" fill="none"/><path d="M306.9 453.6h0M306.7 429.8h0M295.6 443.9h0M299.8 424h0M312.5 459.3h0M307.7 472.5h0M306 481.4h0M314.9 450h0M308.7 478.2h0" stroke="#aa89e7" stroke-width="2.9" stroke-linecap="round" fill="none"/><path d="M306.5 466h0M307.6 430.1h0M301.3 419.7h0M299 445.5h0M305.9 460.3h0M301.6 478.1h0M296.6 454.1h0M306.6 457.3h0M294.7 430.8h0M297.9 445.8h0M303.5 442.3h0M304.9 438.1h0M302 453.6h0M308.2 420.1h0M305 443.9h0M303.6 452.6h0M299 471.9h0M312.7 435.4h0M305.1 430.9h0M301.7 426.2h0" stroke="#9d77ec" stroke-width="2.9" stroke-linecap="round" fill="none"/><path d="M309.9 476.5h0M308.4 422.4h0M313.4 466.7h0M306 463.3h0M303 443.8h0M295.3 445h0M302 454.3h0" stroke="#8e65f0" stroke-width="2.9" stroke-linecap="round" fill="none"/><path d="M312.8 441.5h0M309.4 438.4h0M309.8 435h0M301.3 473.9h0M314.3 447.7h0" stroke="#673df8" stroke-width="2.9" stroke-linecap="round" fill="none"/><path d="M309.4 436.4h0M308.6 439.3h0M310.3 447.2h0M299.5 430.8h0M303.9 475.5h0M313.5 442.9h0M307.2 441.2h0M282.5 427.9h0M297.1 453.3h0" stroke="#4926fb" stroke-width="2.9" stroke-linecap="round" fill="none"/><path d="M303.5 435.4h0M302.7 437.9h0M311.2 434.8h0M314.9 468.4h0M297.5 424.9h0M299.6 437.7h0M286.2 426.5h0M299.9 433.5h0" stroke="#0000ff" stroke-width="2.9" stroke-linecap="round" fill="none"/><path d="M301 452h0M312.3 470.3h0M297.7 418.9h0M305.8 438.7h0M303.9 425.5h0M288.9 427.5h0M302 476.6h0M314.4 460.8h0M298.7 464.2h0M311.9 477.5h0M310.9 452.8h0M298.9 421.6h0M303.4 424.8h0M307.4 423.9h0M301.1 461.4h0M310.6 445.4h0M312.5 467.7h0M301.6 465.6h0M294.1 434.8h0M306.8 478.6h0M299.9 428.7h0M303.9 430.3h0M309.4 457.4h0M311.5 453.7h0M294.9 433.8h0M299.9 418h0M306.5 460.5h0M313.8 448.5h0M302.9 424.9h0M307.5 462.8h0M297 442.7h0M314.4 443h0M308.8 419.4h0M311.9 454h0M304.8 457.4h0M304 428.5h0M299.7 470.5h0M308.9 422.8h0M302.5 460.5h0M306.5 478.2h0M296.6 449.6h0M307.6 450.6h0M303.5 456.2h0M301.6 429.8h0M297.6 447.6h0M297.4 466.9h0M303.1 453h0" stroke="#d3d3d3" stroke-width="2.9" stroke-linecap="round" fill="none"/><path d="M300.5 476.9h0M299.1 446.9h0M312.7 474.9h0M300.5 460.3h0M313.9 456.5h0M303.2 461.9h0M312.3 441.5h0M300.4 469.2h0M309.3 431h0M306.9 459.1h0M311.3 444.3h0M305.9 429.9h0M300.2 420.9h0M312.1 436.9h0M308.4 441.8h0M308.8 417.9h0" stroke="#b69ce3" stroke-width="2.9" stroke-linecap="round" fill="none"/><path d="M315.4 460h0M296.9 428.7h0M298.3 440.7h0M306.2 437.4h0M311.3 467.8h0M297.4 444.3h0M298.8 445.9h0M305.3 453.5h0M313.5 461.7h0M299.5 468h0M299.6 438.2h0M303.4 446.8h0M314 472.8h0M304.5 478.8h0M301 470.3h0M313.7 463.1h0M308.7 476h0M295.4 446.6h0M311.1 458.8h0M309.1 449h0" stroke="#aa89e7" stroke-width="2.9" stroke-linecap="round" fill="none"/><path d="M305.1 417.1h0M313.4 445h0M296.6 420.3h0M301.2 471.3h0M308.6 475.7h0M312.6 475.7h0M303.5 451.9h0M305.5 456.7h0M307.3 476.1h0M312.7 460.8h0M298.5 439.5h0M304 468.7h0M294.6 443.3h0M312.9 462h0" stroke="#9d77ec" stroke-width="2.9" stroke-linecap="round" fill="none"/><path d="M304.9 475.6h0M314.3 442.3h0M301.3 464.1h0M315.4 473.1h0M307.5 473.3h0" stroke="#8e65f0" stroke-width="2.9" stroke-linecap="round" fill="none"/><path d="M286.6 426.2h0M310.4 449.9h0M302.1 450h0M307.4 435.2h0M310.9 436h0M305.3 432.2h0M304.6 445.1h0" stroke="#673df8" stroke-width="2.9" stroke-linecap="round" fill="none"/><path d="M304.3 449.9h0M299.9 432.4h0M295.1 445.9h0M307.7 428.6h0M303.8 439.5h0" stroke="#4926fb" stroke-width="2.9" stroke-linecap="round" fill="none"/><path d="M301.8 431.2h0M311.5 438.1h0M313.5 436.4h0M286 429h0M308.3 431.3h0" stroke="#0000ff" stroke-width="2.9" stroke-linecap="round" fill="none"/></g>
<text x="297.9" y="409.4" font-size="11.1" font-weight="bold" font-style="italic" fill="#111" text-anchor="middle" >fzd4</text>
<g><path d="M392.2 419.5h0M389.9 469.2h0M387.2 417.3h0M387 444.4h0M388.5 439.9h0M390.9 471.9h0M383.8 447.3h0M387.2 433.1h0M389.2 476.9h0M392.7 474.4h0M394.6 420.9h0M377.3 427.5h0M398 469.5h0M404 466.7h0M403.6 470.3h0M385.6 428.7h0M395.7 473.5h0M401.4 474.9h0M393.4 423.9h0M386.3 422.2h0M404.4 467.3h0M384.8 440.5h0M386.2 429.6h0M380.6 432.2h0M386.9 449.3h0M385.9 415.5h0M392.2 482.3h0" stroke="#d3d3d3" stroke-width="2.9" stroke-linecap="round" fill="none"/><path d="M394.8 470.1h0M392.8 422.7h0M399.2 457.4h0M397.8 432.6h0M390 419.7h0M399.6 475h0M370.7 426.7h0M387.7 417.9h0M389.2 460.3h0" stroke="#b69ce3" stroke-width="2.9" stroke-linecap="round" fill="none"/><path d="M389.3 414.7h0M387.5 445.9h0M401.4 447.4h0M399.1 455.2h0M391.4 475.4h0M383.3 443.3h0M387.5 443.1h0M392.2 456.2h0M403.6 468.4h0M396.3 423h0M384.3 432.1h0" stroke="#aa89e7" stroke-width="2.9" stroke-linecap="round" fill="none"/><path d="M403.6 449.2h0M395 479.4h0M391.9 427.7h0M372.7 427.2h0M385.5 451.6h0M392.8 451.3h0M389.7 470.3h0M404.8 472.7h0M382.8 434.8h0M390.3 465.6h0M396.8 469.1h0" stroke="#9d77ec" stroke-width="2.9" stroke-linecap="round" fill="none"/><path d="M394.5 461.9h0M403.1 460.8h0M396.1 479.1h0M400.9 477.2h0M390.3 469.8h0M391.9 465.7h0M388.5 462.9h0" stroke="#8e65f0" stroke-width="2.9" stroke-linecap="round" fill="none"/><path d="M396.3 430.1h0M385.9 463.4h0M391.2 460.5h0M394.2 459.7h0M401.7 437.7h0M392.1 446.8h0M395.9 431.7h0M399 436.2h0M391.4 467.8h0M392.5 473h0M394 432.2h0M402.6 456.5h0M392.2 451.9h0M392.8 455.3h0M396.1 443h0M396.4 428.6h0M402.4 444.3h0M399.8 448.1h0M396.9 449.1h0M395.6 459.1h0" stroke="#673df8" stroke-width="2.9" stroke-linecap="round" fill="none"/><path d="M387.8 425.6h0M389.1 435.9h0M399.3 442.8h0M400 444.3h0M400.4 433.4h0M395.1 445.8h0M399.9 434.8h0M388.9 420.9h0M391.7 452.6h0M400.7 449.1h0M393.7 452.9h0M392.2 435.4h0M396.4 419.7h0M389.8 461.4h0M395.2 445.1h0M398.4 453.1h0M398.9 441.4h0M390.6 458.2h0M392.6 426.9h0M389.9 460.7h0M391.9 441.8h0M387.2 463.7h0M387.2 424.4h0M397.4 478.2h0M396.8 434.7h0M392.2 459.1h0" stroke="#4926fb" stroke-width="2.9" stroke-linecap="round" fill="none"/><path d="M392.3 452.6h0M383.5 440.7h0M403.4 458.1h0M396.4 429.7h0M393 416.6h0M396 418.4h0M388.3 461.9h0M394.4 433.2h0M384.4 421.3h0" stroke="#0000ff" stroke-width="2.9" stroke-linecap="round" fill="none"/><path d="M386.5 450.1h0M388 423.4h0M386.5 452.4h0M393.8 474.9h0M386.4 423.3h0M385.3 444.9h0M388.3 438.9h0M394.1 424.5h0M396.6 470.6h0M390.6 474.9h0M391.9 421.1h0M384.6 441.3h0M385.3 449.6h0M383.6 433.8h0M392.6 475.5h0M378.1 429.7h0M386.2 424.9h0" stroke="#d3d3d3" stroke-width="2.9" stroke-linecap="round" fill="none"/><path d="M402.1 445h0M396.4 421.1h0M388.5 424h0M390.7 415.5h0M387.6 419.5h0M385.3 454.1h0M387.7 471.9h0" stroke="#b69ce3" stroke-width="2.9" stroke-linecap="round" fill="none"/><path d="M393.7 481.6h0M393.1 482.9h0M395.3 417.3h0M385.7 463h0M390.5 425.3h0M399.9 459.2h0M391.5 414.9h0M401.6 470.2h0M397.3 475.7h0" stroke="#aa89e7" stroke-width="2.9" stroke-linecap="round" fill="none"/><path d="M386.4 418.9h0M389.7 452h0M403.3 474.2h0M394.7 481.4h0M387.4 415.5h0M397.5 417.9h0M394.1 426h0M385.2 448.5h0M390.7 478.1h0M401.2 462.7h0M390.5 421.7h0M385 423.1h0M403.1 473.8h0M394.5 483.4h0M392.1 424.8h0M394.2 468.4h0" stroke="#9d77ec" stroke-width="2.9" stroke-linecap="round" fill="none"/><path d="M388.9 471.4h0M384.5 431.3h0M396.5 422h0M373.3 427.5h0M395.5 478.6h0M389.4 468.1h0" stroke="#8e65f0" stroke-width="2.9" stroke-linecap="round" fill="none"/><path d="M402.5 449.5h0M387 416.4h0M394.3 439.4h0M394.6 460.3h0M399.6 431.1h0M394.6 466.9h0M388.4 470.5h0M389.1 469.2h0M400.6 454h0M394.8 451.1h0M395.2 466h0M398.6 472.2h0M394.4 434.1h0M400.7 431.3h0M400.7 443.5h0" stroke="#673df8" stroke-width="2.9" stroke-linecap="round" fill="none"/><path d="M390.5 438.4h0M394.1 444.5h0M394.2 456.7h0M384.9 464.6h0M391.5 430.8h0M401.1 446.4h0M397.5 419.4h0M397.3 439.3h0M390.3 429.8h0M398.7 471.1h0M393.3 445.1h0M394.1 441.2h0M389.8 430.4h0M388.2 468h0M396.3 468h0M391.8 455.7h0M393 438.7h0M394.4 451.8h0M395.7 433.2h0M393.5 450.3h0M397.9 456.8h0M397.1 435.8h0M390.6 433.3h0M397.6 437.5h0M404.1 473.1h0M400.2 460.2h0M400.2 445.6h0M398.1 438.4h0M390.4 440.3h0M390.8 469.7h0M399.9 452.1h0M402.7 474.4h0M390.5 431.2h0M393.9 465.5h0" stroke="#4926fb" stroke-width="2.9" stroke-linecap="round" fill="none"/><path d="M390.7 463.5h0M395.2 466.9h0M393.4 437.5h0M401 441.5h0M396 436.4h0M395.8 432.6h0M388.6 418h0M390.2 436.8h0M394 453.5h0M395.6 430.2h0M397.5 433h0M391.9 461.9h0M385.5 424h0M389.1 437.1h0M393.8 447.7h0M390.6 466.2h0" stroke="#0000ff" stroke-width="2.9" stroke-linecap="round" fill="none"/><path d="M399.7 470.6h0M386.1 438.7h0M396.9 420.1h0M392.1 416.5h0M399.6 472.3h0M392.4 455.9h0M394.5 418.8h0M403.3 475.8h0M383.8 448.6h0M394.1 457.6h0M371.2 427.9h0M392.1 469.8h0M387.8 446.9h0M400 467.8h0M377.9 429h0M385.7 442.7h0M394 468.2h0" stroke="#d3d3d3" stroke-width="2.9" stroke-linecap="round" fill="none"/><path d="M390.3 478.1h0M382.8 433.2h0M400.9 455.9h0M392.9 450.3h0M386.2 434h0M393.4 480.9h0M389.9 471.3h0" stroke="#b69ce3" stroke-width="2.9" stroke-linecap="round" fill="none"/><path d="M393.8 462.2h0M387.1 463h0M399.2 475.9h0M387 442.4h0M384.5 447.6h0M391.9 417.4h0M385.1 429h0M384.2 429.7h0M397.7 471h0M399.4 453.3h0M387.2 461.5h0M395.3 457.3h0M392.5 420.2h0M397.6 422.8h0" stroke="#aa89e7" stroke-width="2.9" stroke-linecap="round" fill="none"/><path d="M396 476.1h0M391.1 426.6h0M392.7 468.7h0M389.7 457.8h0M395.1 468.8h0" stroke="#9d77ec" stroke-width="2.9" stroke-linecap="round" fill="none"/><path d="M390 464.1h0M392.6 425.5h0M390.4 426.2h0M388.3 463.6h0M386.3 418.1h0" stroke="#8e65f0" stroke-width="2.9" stroke-linecap="round" fill="none"/><path d="M403 447.7h0M398.6 441h0M403.6 450h0M401 451.5h0M394 442.8h0M386.7 442.6h0M400.9 442.1h0M393.8 430.9h0M390.8 439.9h0M399 447.2h0M399.3 445.4h0M391 418.3h0M389.4 470.2h0M399.2 469h0M390.4 462.9h0M374.6 427.5h0M390.8 450h0M403.6 451.4h0M394.1 422h0M396.1 440.1h0M393.5 435.2h0M395.8 458.8h0M398 431h0M392.2 442.3h0M388.2 468.3h0M399.8 458.8h0M395.2 460.5h0M402.2 442.9h0M402.4 463.1h0" stroke="#673df8" stroke-width="2.9" stroke-linecap="round" fill="none"/><path d="M385.7 416.3h0M388 468.9h0M401.9 432.5h0M403.1 443h0M394.6 455.2h0M391.8 442.6h0M397.3 446.2h0M390.9 451.6h0M398.2 474.2h0M398.2 429.2h0M393.1 443.6h0M391.3 462.6h0M390.7 454.3h0M403.3 444.2h0M397 437h0M391.3 470.6h0M392.5 460.5h0M391.8 479.5h0M389.6 414.2h0M402 463.5h0M391.8 444.7h0M394.5 438.7h0M400.6 448.1h0M400.7 471.3h0M401.2 459.3h0M394.2 441.5h0M386.1 466.9h0M403.5 462.3h0M374.9 426.5h0M404.1 460h0" stroke="#4926fb" stroke-width="2.9" stroke-linecap="round" fill="none"/><path d="M396.1 452.4h0M393.4 476.3h0M396.2 444h0M391.8 453h0M398.7 435.9h0M397 431.3h0M391.2 468.2h0M392.3 451.9h0M402.4 458.9h0M387.6 473.1h0M399.4 477.2h0M398.2 469h0M393 449.9h0" stroke="#0000ff" stroke-width="2.9" stroke-linecap="round" fill="none"/><path d="M387.2 434.5h0M387.6 421.6h0M395.3 464.1h0M387.4 464.2h0M402.9 469.7h0M384.7 453.1h0M393.1 453.2h0M388.5 473.8h0M395.2 478.2h0M389.2 419.7h0M385.5 417.1h0M385.1 439.1h0M392.6 426.9h0M384.1 446.6h0M376.3 428.3h0M402.1 474h0M388.6 416.6h0M392.2 476.7h0M383.4 430.8h0M392.9 415.9h0M391.5 454h0" stroke="#d3d3d3" stroke-width="2.9" stroke-linecap="round" fill="none"/><path d="M400.6 477.5h0M399.9 468.8h0M394.6 420.3h0M387 440.7h0M391.5 451.4h0M387.8 429.2h0M396.1 474.8h0M391.8 458.7h0M390.8 459.1h0M398.2 442.8h0M390.3 468.7h0M388 439.9h0" stroke="#b69ce3" stroke-width="2.9" stroke-linecap="round" fill="none"/><path d="M386.3 447.6h0M392.4 452.5h0M387.9 419.9h0M390.7 453.6h0M384.5 441.7h0M396.2 416.4h0M390.1 439.2h0M386.4 421.7h0" stroke="#aa89e7" stroke-width="2.9" stroke-linecap="round" fill="none"/><path d="M391.5 473.6h0M388.3 438.2h0M393.9 472h0M396.4 472.5h0M383.9 451.3h0M389.7 467.8h0M384.6 450.2h0M386.4 424.3h0M388.8 476h0M389.9 468.9h0" stroke="#9d77ec" stroke-width="2.9" stroke-linecap="round" fill="none"/><path d="M388 470.3h0M390.3 422h0M390.1 475.3h0M392.6 433.5h0M376.1 430.1h0" stroke="#8e65f0" stroke-width="2.9" stroke-linecap="round" fill="none"/><path d="M399.6 452.8h0M402.8 452.6h0M393.8 472.1h0M395.5 452.7h0M395 456.1h0M394.2 453.8h0M395.9 441.2h0M394.5 469.7h0M392.7 461.5h0M386 445.7h0M399.1 471.4h0M394.2 458h0M400.8 436.9h0M390.1 434.5h0M402.2 452.3h0M389.7 438h0M400.5 447.7h0M390.9 464h0" stroke="#673df8" stroke-width="2.9" stroke-linecap="round" fill="none"/><path d="M388 475.1h0M373.8 426.2h0M401.9 467.6h0M396.1 447.5h0M398.4 448.3h0M396.8 438.2h0M399.5 429.8h0M399.1 449.9h0M402.2 461.7h0M391 438.4h0M399.6 438.4h0M403 442.3h0M395.4 441.6h0M399.4 440.2h0M399.6 436h0M395.1 438.2h0M391.7 433.7h0M401.4 435.4h0M398.1 447.2h0M402.4 471.3h0M397.4 452.9h0M392.3 471h0M403.1 457.3h0M391.4 428.8h0M391.6 424.9h0M388.7 423.2h0M400 432.5h0M389.1 469.8h0M399 430h0M395.4 429.8h0M396.6 446.6h0M393.4 463.5h0M392.1 423.2h0M402 453h0" stroke="#4926fb" stroke-width="2.9" stroke-linecap="round" fill="none"/><path d="M389.7 475h0M402.1 466.7h0M387.3 468.9h0M393.2 462.5h0M394.1 446.6h0M391.2 431h0M392.7 458.8h0M403.7 454.2h0M404.6 470.5h0M398.5 435h0M390.6 472.3h0" stroke="#0000ff" stroke-width="2.9" stroke-linecap="round" fill="none"/><path d="M386.1 444.3h0M400.5 472.5h0M393.8 417.1h0M377.6 427.5h0M379.9 430.3h0M390 473.9h0M387.4 433.7h0M392.6 414.6h0M388.2 445.7h0M396.9 471.4h0M393.5 457.4h0M392.1 478.2h0M392.6 459.1h0" stroke="#d3d3d3" stroke-width="2.9" stroke-linecap="round" fill="none"/><path d="M394.3 478.3h0M393.2 473.2h0M384 445h0M383.8 420.1h0M388 472.3h0M401.5 441.5h0M395 425.4h0M391.5 419.9h0M404 467.2h0M388.5 425.3h0M393.8 479.9h0M396.7 468.7h0" stroke="#b69ce3" stroke-width="2.9" stroke-linecap="round" fill="none"/><path d="M401.3 475.7h0M402.5 455.7h0M402.9 471.6h0M389.6 438h0M387.6 465.3h0M396.1 461.7h0M393.8 419.6h0" stroke="#aa89e7" stroke-width="2.9" stroke-linecap="round" fill="none"/><path d="M397 476.9h0M389.2 426.1h0M390.6 452.6h0M397.4 417.4h0M397.1 422.4h0M385.8 441h0M384.3 438.2h0M391.5 417.7h0" stroke="#9d77ec" stroke-width="2.9" stroke-linecap="round" fill="none"/><path d="M401.4 468.9h0M396.4 419.1h0M388.8 429.8h0M401.2 467.7h0M385.6 418.5h0M388.8 427.9h0M385.3 420.3h0M394.7 463.3h0M401.8 477.3h0M393.6 475.6h0" stroke="#8e65f0" stroke-width="2.9" stroke-linecap="round" fill="none"/><path d="M390.3 432.9h0M395.4 454h0M402.5 442.2h0M403.9 453.7h0M396.2 473.3h0M396.3 450.6h0M402.2 446.7h0M389.4 419h0M392.9 434.8h0M398.3 451.4h0M402.6 451.7h0M391.5 429.2h0M393.5 474.1h0M401.5 457.7h0M387.9 426h0M398.6 476.5h0M390.1 455.4h0M393.8 465.1h0M398 433h0M388.3 437.7h0M397.5 440.3h0M391.7 443.8h0M401.6 462h0M398.4 442.6h0M393.4 442.2h0M375.2 429.1h0M396.9 448.4h0" stroke="#673df8" stroke-width="2.9" stroke-linecap="round" fill="none"/><path d="M395.8 434.4h0M401 438.2h0M387.2 439.5h0M393 448.5h0M390 450.6h0M402.3 450.4h0M396.1 435.2h0M399.1 454.1h0M399.2 433.4h0M397.1 441.8h0M389.1 431.9h0M399.8 451h0M388.2 430.8h0M393.7 443.9h0M392.3 429.8h0M402.3 469.8h0M401.8 459h0M391.5 468.4h0M370.8 426.3h0M393.2 478.8h0M399.2 443.8h0M394 451.8h0M390.8 435.5h0M372.7 429.1h0M402.5 448.5h0M391.4 437.9h0M392.4 420.8h0M392.9 484.2h0" stroke="#4926fb" stroke-width="2.9" stroke-linecap="round" fill="none"/><path d="M390.8 451.2h0M401.2 454.3h0M393.1 447.5h0M387.6 467h0M392.7 428.5h0M397.6 442.5h0M401.2 432.7h0M396 451.8h0M393.6 438.1h0M388.6 432.4h0M384.1 417.9h0M392.1 466.4h0M391.3 440.4h0M394.7 453.5h0" stroke="#0000ff" stroke-width="2.9" stroke-linecap="round" fill="none"/><path d="M393.5 418.5h0M389.3 472.8h0M400.2 453.7h0M385.8 453.3h0M401 470.3h0M386.6 445.8h0M394.8 415.7h0M394.7 482h0M390.4 417h0M384.1 432.1h0M388.3 422.3h0M385.7 419.8h0M401.4 460.8h0M394.7 470.8h0" stroke="#d3d3d3" stroke-width="2.9" stroke-linecap="round" fill="none"/><path d="M390.7 419.5h0M393.4 423.4h0M404.8 470h0M394.9 472.4h0M394.9 418.4h0M387.7 445.5h0M390 416.5h0M392.2 421.8h0M382.5 434.5h0M386.1 416.8h0M389 421.9h0" stroke="#b69ce3" stroke-width="2.9" stroke-linecap="round" fill="none"/><path d="M384.3 443.9h0M388.2 466.1h0M386.4 440h0M396.8 421h0M395.5 476.3h0M397.3 478h0M383.8 445.9h0M396.2 462.8h0M399.9 474.2h0M389.1 415.6h0M395 423.2h0M397.6 474h0M402.9 459.2h0M392.5 439.5h0M393.8 427.8h0" stroke="#aa89e7" stroke-width="2.9" stroke-linecap="round" fill="none"/><path d="M394 431.8h0M396.1 423.9h0M378.9 429h0M392.9 465.5h0M395.1 474.4h0M401.7 476.1h0M402.7 472.8h0M404.5 466.6h0M385 452.6h0M393.2 479.4h0" stroke="#9d77ec" stroke-width="2.9" stroke-linecap="round" fill="none"/><path d="M386.6 464.4h0M384.6 443.5h0M395.6 453.6h0M386 449.3h0M397.4 476h0M395 471.6h0M390.7 476.6h0M400.5 469.1h0" stroke="#8e65f0" stroke-width="2.9" stroke-linecap="round" fill="none"/><path d="M398.7 445.8h0M375.3 426.2h0M393.3 449.7h0M400 457h0M398.1 436.4h0M393.4 478.4h0M398.3 445.1h0M395.4 453.5h0M403.2 444.9h0M399.4 442.2h0M394.8 436.4h0M401.8 437.6h0M391.4 440.1h0M402.2 436.4h0M393 445.8h0M403.5 448.4h0M399.9 455.4h0M375.2 427.3h0M394.4 435.6h0M391.6 457.2h0M397.3 432.2h0M399 448.9h0M388.6 428.7h0" stroke="#673df8" stroke-width="2.9" stroke-linecap="round" fill="none"/><path d="M400.2 438.1h0M398.1 457.4h0M400.9 450h0M386.1 465.9h0M392 480.7h0M401.2 434.7h0M393.1 468h0M398.7 430.1h0M385.1 466.2h0M404.2 457.8h0M390 451.7h0M400.3 474.1h0M394.9 437.4h0M392.2 464.3h0M394.5 445.8h0M392.6 430.3h0M398 450.4h0M395 449.1h0M390.9 437.1h0M388.3 466.5h0M396 464h0M398.8 439.7h0M392.9 436.2h0M391.7 434.8h0M397.8 449h0M397.2 437.9h0M374.7 429h0M401.8 456.8h0M389.3 434.5h0M395.5 425.4h0" stroke="#4926fb" stroke-width="2.9" stroke-linecap="round" fill="none"/><path d="M403.6 446.2h0M393.5 453.8h0M388.6 433.5h0M394.6 429.9h0M389.4 438.7h0M393.4 467h0M398.9 478h0M392.9 440.6h0" stroke="#0000ff" stroke-width="2.9" stroke-linecap="round" fill="none"/></g>
<text x="386.3" y="409.4" font-size="11.1" font-weight="bold" font-style="italic" fill="#111" text-anchor="middle" >fzd7a</text>
<g><path d="M483.9 476h0M483.1 470.6h0M477 425.3h0M482.9 472.5h0M469.3 433.2h0M472.4 415.5h0M483.3 421h0M471 447.6h0M476.6 475.3h0M481.6 474.4h0M488.5 463.5h0M490.1 451.4h0M476.4 460.7h0M470.3 445.9h0M476.2 475h0M474.7 466.1h0M478.6 466.4h0M464.6 429.7h0M473.4 449.3h0M481.4 418.4h0M474.4 419.9h0M479.9 476.3h0M474.1 465.3h0M475 424h0M478.3 455.7h0M479.9 423.9h0M470.8 443.9h0M476.8 465.6h0M461.4 426.5h0M483 422h0M482 478.6h0M482.6 423.9h0M474.1 473.1h0M484.1 474h0M489.6 473.8h0M475.8 472.8h0M472 424h0M472.2 442.7h0M480.9 451.8h0M473.6 463h0M481.3 470.1h0M475.1 428.7h0M473.7 424.4h0M472.8 422.2h0M487.6 446.4h0M487.5 470.3h0M486.3 451h0M488.1 470.2h0M479.9 480.9h0M478.6 424.8h0M479.1 426.9h0M474.7 445.7h0M475.2 423.2h0M490.4 453.7h0M470.8 432.1h0M481 418.8h0M479.2 458.8h0M491.1 470.5h0M475 425.3h0M475.7 476.9h0M489 442.2h0M478.7 476.7h0M481.8 464.1h0M479.7 479.4h0M488.5 453h0M491.3 470h0M485.6 454.1h0M474.2 471.9h0M474.3 446.9h0M490 462.3h0" stroke="#d3d3d3" stroke-width="2.9" stroke-linecap="round" fill="none"/><path d="M471.5 452.6h0M485.3 439.7h0M489 448.5h0M480.7 453.8h0M479.1 459.1h0M490.1 446.2h0M482.6 443h0M476.2 452h0M489.3 452.6h0" stroke="#b69ce3" stroke-width="2.9" stroke-linecap="round" fill="none"/><path d="M479.3 451.3h0M482.3 458.8h0M471.4 464.6h0M488.4 432.5h0M484.4 456.8h0" stroke="#aa89e7" stroke-width="2.9" stroke-linecap="round" fill="none"/><path d="M473.7 439.5h0M487.1 448.1h0M480.3 447.7h0M471.8 449.6h0M482.8 430.1h0M487.5 438.2h0M476.5 419.7h0M478.4 427.7h0M478 429.2h0M485.9 453.3h0M474.2 417.9h0" stroke="#9d77ec" stroke-width="2.9" stroke-linecap="round" fill="none"/><path d="M485 435h0M469.8 443.3h0M484.6 438.4h0M489.5 442.3h0M488.6 445h0M481 445.8h0M475.7 460.3h0M478 451.4h0M477.2 415.5h0" stroke="#8e65f0" stroke-width="2.9" stroke-linecap="round" fill="none"/><path d="M477.3 435.5h0M476.8 432.9h0M486.5 432.5h0M482.6 435.2h0M479.1 433.5h0" stroke="#673df8" stroke-width="2.9" stroke-linecap="round" fill="none"/><path d="M481.7 445.1h0M474.4 426h0M477.3 439.9h0M481.9 429.8h0M477 431.2h0M489.1 456.5h0M477.8 440.4h0M475.6 431.9h0" stroke="#4926fb" stroke-width="2.9" stroke-linecap="round" fill="none"/><path d="M477.4 437.1h0M484.1 437.5h0M480.6 457.6h0" stroke="#0000ff" stroke-width="2.9" stroke-linecap="round" fill="none"/><path d="M488.8 450.4h0M475.3 427.9h0M475 473.8h0M480.7 456.7h0M482.1 453.6h0M478.6 478.2h0M474.1 467h0M474.5 470.3h0M484.8 445.1h0M475.7 419.7h0M481.2 481.4h0M471 431.3h0M480.2 452.9h0M474.7 468h0M462.8 428.3h0M478.7 482.3h0M460.3 426.2h0M471.6 466.2h0M479.2 428.5h0M474.5 423.4h0M491 466.6h0M472.6 444.3h0M480.3 479.9h0M478.5 480.7h0M476.8 478.1h0M476.2 470.3h0M488.7 446.7h0M472.3 441h0M477.2 453.6h0M480.2 481.6h0M476.3 461.4h0M474.3 429.2h0M484.6 436.4h0M475.3 476h0M472.6 438.7h0M483.6 435.8h0M483.3 469.1h0M479.2 468.7h0M484.5 450.4h0M484.7 469h0M472.5 445.7h0M482.6 479.1h0M459.2 427.2h0M476.8 468.7h0M479.1 414.6h0M471.6 429h0M480.9 435.6h0M479.7 478.8h0M488.9 471.3h0M474.9 470.5h0M476.2 457.8h0M477.5 418.3h0M481.2 453.5h0M479.5 449.9h0M487.2 431.3h0M477.4 464h0M483.8 446.2h0M477.8 470.6h0M483.1 446.6h0M490.1 468.4h0M487.7 454.3h0M459.8 427.5h0M486.4 474.2h0M475.6 469.8h0" stroke="#d3d3d3" stroke-width="2.9" stroke-linecap="round" fill="none"/><path d="M482.9 421.1h0M480.3 417.1h0M473.5 440.7h0M470.5 445h0M488.7 452.3h0M481.9 454h0M484.1 422.8h0M471.8 444.9h0" stroke="#b69ce3" stroke-width="2.9" stroke-linecap="round" fill="none"/><path d="M484.1 442.5h0M478.8 451.9h0M485.5 447.2h0M478.7 451.9h0M472.9 423.3h0M484.9 453.1h0M478.9 420.8h0M478.6 423.2h0M477.1 452.6h0M481.3 415.7h0M484.6 457.4h0M477.7 431h0" stroke="#aa89e7" stroke-width="2.9" stroke-linecap="round" fill="none"/><path d="M470.1 433.8h0M485.9 442.2h0M486.3 458.8h0M483.8 439.3h0M480.3 427.8h0M473.7 461.5h0M480.6 444.5h0M475.9 419h0" stroke="#9d77ec" stroke-width="2.9" stroke-linecap="round" fill="none"/><path d="M484.3 432.6h0M482.8 450.6h0M477.3 450h0M471.1 443.5h0M477.9 428.8h0M486.4 455.4h0M487.5 451.5h0" stroke="#8e65f0" stroke-width="2.9" stroke-linecap="round" fill="none"/><path d="M472.6 416.8h0M485.9 440.2h0M490 448.4h0M479.6 443.6h0M481.6 445.8h0M481.3 451.1h0M482.5 451.8h0" stroke="#673df8" stroke-width="2.9" stroke-linecap="round" fill="none"/><path d="M475.1 416.6h0M482.5 436.4h0M484 433h0M485.5 430h0M487.7 432.7h0M477.5 438.4h0M480.6 424.5h0M483.7 437.9h0M474.7 430.8h0M478.8 429.8h0M482.1 430.2h0" stroke="#4926fb" stroke-width="2.9" stroke-linecap="round" fill="none"/><path d="M479.4 440.6h0M481.4 437.4h0M475.6 437.1h0" stroke="#0000ff" stroke-width="2.9" stroke-linecap="round" fill="none"/><path d="M472.9 418.9h0M470.3 447.3h0M478.4 465.7h0M477.2 478.1h0M478.3 442.6h0M479.5 416.6h0M472.1 418.5h0M472.9 424.3h0M479.9 423.4h0M479.4 415.9h0M475.8 434.5h0M488.2 476.1h0M472.6 466.9h0M487.4 442.1h0M478.4 421.1h0M457.7 427.9h0M482.5 464h0M479.1 426.9h0M461.1 427.5h0M466.4 430.3h0M464.1 427.5h0M473.9 433.7h0M476.6 439.2h0M486.2 470.6h0M457.2 426.7h0M480.5 468.2h0M481.5 479.4h0M480.5 432.2h0M488.8 469.8h0M481.4 472.4h0M484.7 474.2h0M488.9 458.9h0M490.9 467.3h0M487.7 467.7h0M479.3 422.7h0M472.2 419.8h0M486.7 460.2h0M486.5 457h0M479.8 445.1h0M475.5 421.9h0M477.3 459.1h0M477.1 458.2h0M489.4 471.6h0M482.8 468h0M481.1 466.9h0M474.8 422.3h0M483.5 476.9h0M457.3 426.3h0M489.2 472.8h0M475.6 469.2h0M476.5 473.9h0M481.5 471.6h0M484.2 471h0M485.4 478h0M485.7 469h0M479.4 484.2h0M465.4 429h0M477.8 462.6h0M476.4 468.9h0M490.6 473.1h0M480.6 446.6h0M490.5 467.2h0M483.9 478.2h0M473.7 463.7h0M483.2 468.7h0M482 425.4h0M488.6 474h0M478.4 417.4h0M476.4 471.3h0M482.6 474.8h0M474.3 425.6h0M481.5 425.4h0M478.1 457.2h0" stroke="#d3d3d3" stroke-width="2.9" stroke-linecap="round" fill="none"/><path d="M488.7 442.9h0M487.4 455.9h0M484.6 447.2h0M489 449.5h0M479.4 465.5h0M477.9 437.9h0M479.4 436.2h0M473.5 416.4h0M477.1 433.3h0M486.4 452.1h0M486.4 468.8h0M476.5 464.1h0M488.3 459h0M475 439.9h0M476.8 429.8h0" stroke="#b69ce3" stroke-width="2.9" stroke-linecap="round" fill="none"/><path d="M478.3 444.7h0M485.1 441h0M473.1 445.8h0" stroke="#aa89e7" stroke-width="2.9" stroke-linecap="round" fill="none"/><path d="M473.9 464.2h0M479.7 462.5h0M480.2 443.9h0M487.9 460.8h0M488.9 444.3h0M484.7 442.8h0M476.6 455.4h0M477.2 463.5h0" stroke="#9d77ec" stroke-width="2.9" stroke-linecap="round" fill="none"/><path d="M478.2 452.6h0M481.9 441.6h0M483.3 434.7h0M480.7 459.7h0M475.7 426.1h0" stroke="#8e65f0" stroke-width="2.9" stroke-linecap="round" fill="none"/><path d="M478 414.9h0M478.2 434.8h0M473.7 417.3h0M481.1 429.9h0M476.7 436.8h0M486.1 431.1h0M486.1 438.4h0M479.4 434.8h0" stroke="#673df8" stroke-width="2.9" stroke-linecap="round" fill="none"/><path d="M478.2 443.8h0M482.3 434.4h0M487.1 454h0M478.7 442.3h0M485.2 430.1h0M479.1 430.3h0M484.5 431h0" stroke="#4926fb" stroke-width="2.9" stroke-linecap="round" fill="none"/><path d="M479 439.5h0" stroke="#0000ff" stroke-width="2.9" stroke-linecap="round" fill="none"/><path d="M480.5 453.5h0M477.6 426.6h0M467.1 432.2h0M479.6 453.2h0M489.2 474.4h0M488.7 461.7h0M480.3 474.9h0M480.4 472h0M478 419.9h0M471.2 453.1h0M476.1 438h0M472.6 465.9h0M474.5 439.9h0M480.5 451.8h0M478 454h0M489.4 469.7h0M487.8 475.7h0M472.9 440h0M480.7 468.4h0M477.1 474.9h0M477.7 468.2h0M489 455.7h0M479.9 442.2h0M478.9 452.5h0M472.2 463h0M485.7 443.8h0M461.7 429.1h0M481.3 436.4h0M479.9 463.5h0M489.6 443h0M491.3 472.7h0M480.8 478.3h0M478.3 479.5h0M488.3 437.6h0M485.8 442.8h0M477.2 476.6h0M479.7 473.2h0M478.9 455.9h0M476.1 414.2h0M487.2 449.1h0M487.9 474.9h0M474 445.9h0M487.4 450h0M482.8 423h0M485.2 471.1h0M472.4 463.4h0M474.5 472.3h0M469.9 430.8h0M483.4 448.4h0M481.1 455.2h0M479.6 482.9h0M470.4 451.3h0M476.4 469.2h0M480.1 475.6h0M486.1 472.3h0M471.8 454.1h0M484.8 451.4h0M486.8 474.1h0M475.9 470.2h0M477.4 471.9h0M474.8 461.9h0M489.9 458.1h0M483.8 478h0M477.1 472.3h0M482.5 476.1h0M476.5 451.7h0M481.6 468.8h0M486.9 433.4h0M488.3 477.3h0M471.3 440.5h0M488.1 462h0M484.5 469.5h0" stroke="#d3d3d3" stroke-width="2.9" stroke-linecap="round" fill="none"/><path d="M479.4 450.3h0M479.1 425.5h0M480 418.5h0M475.9 438.7h0M490.2 454.2h0M479 460.5h0" stroke="#b69ce3" stroke-width="2.9" stroke-linecap="round" fill="none"/><path d="M482.9 419.1h0M485.8 445.4h0M472 451.6h0M472.7 429.6h0M480 457.4h0M481.5 456.1h0M471.6 439.1h0M484.5 433h0M478.2 433.7h0M480 453.8h0M480.6 422h0M480.3 430.9h0M474.1 419.5h0" stroke="#aa89e7" stroke-width="2.9" stroke-linecap="round" fill="none"/><path d="M481 461.9h0M482.6 452.4h0M488 457.7h0M477.1 466.2h0M486.7 453.7h0M478.3 453h0M474.1 421.6h0M483.9 452.9h0M482.1 459.1h0M482.9 419.7h0" stroke="#9d77ec" stroke-width="2.9" stroke-linecap="round" fill="none"/><path d="M488.2 437.7h0M477.4 451.6h0M477.3 451.2h0M487.7 459.3h0M489.1 451.7h0" stroke="#8e65f0" stroke-width="2.9" stroke-linecap="round" fill="none"/><path d="M476.9 440.3h0M478 430.8h0M486.1 436h0M481.6 438.2h0M483.8 432.2h0M472.2 416.3h0M476.3 430.4h0" stroke="#673df8" stroke-width="2.9" stroke-linecap="round" fill="none"/><path d="M475.1 418h0M480.8 439.4h0M482.7 462.8h0M480.9 434.1h0M478 417.7h0" stroke="#4926fb" stroke-width="2.9" stroke-linecap="round" fill="none"/><path d="M478.7 435.4h0" stroke="#0000ff" stroke-width="2.9" stroke-linecap="round" fill="none"/><path d="M488.6 466.7h0M487 447.7h0M486.1 452.8h0M472.8 418.1h0M478.6 469.8h0M470.8 438.2h0M472.7 424.9h0M469 434.5h0M472.8 447.6h0M478.7 419.5h0M473 450.1h0M471.1 450.2h0M481.2 463.3h0M480 474.1h0M485.5 448.9h0M485.5 436.2h0M480.6 441.2h0M477.3 469.7h0M479.1 475.5h0M480.3 465.1h0M472 417.1h0M472.1 428.7h0M487.9 468.9h0M485.1 472.2h0M459.2 429.1h0M490.1 470.3h0M473.7 433.1h0M478 473.6h0M485.6 471.4h0M461.2 429h0M461.8 426.2h0M487.5 441.5h0M473.9 415.5h0M470.6 432.1h0M472.9 421.7h0M476.9 462.9h0M473.8 468.9h0M483.5 437h0M487.2 471.3h0M481.5 423.2h0M481 469.7h0M473.7 434.5h0M490.5 466.7h0M482.5 418.4h0M478.7 464.3h0M481.8 457.3h0M479 473h0M461.7 427.3h0M472.3 453.3h0M473.5 442.4h0M462.6 430.1h0M487.1 477.5h0M480.3 472.1h0M485.6 455.2h0M482.7 473.3h0M484.3 449h0M475 462.9h0M486.4 459.2h0M473.2 442.6h0M481.1 420.3h0M474.8 438.2h0M477 421.7h0M478 468.4h0M483.4 449.1h0M479.6 468h0M474.8 438.9h0M474.8 463.6h0M479.9 478.4h0M481.7 478.2h0M485.2 445.8h0M483.4 471.4h0" stroke="#d3d3d3" stroke-width="2.9" stroke-linecap="round" fill="none"/><path d="M484 440.3h0M489.8 444.2h0M481.7 460.5h0M475.6 435.9h0M475.1 432.4h0M487.9 447.4h0M480.6 426h0" stroke="#b69ce3" stroke-width="2.9" stroke-linecap="round" fill="none"/><path d="M473.5 444.4h0M480.7 441.5h0M485.6 449.9h0M490.7 457.8h0M478.8 452.6h0M480.9 433.2h0M472.5 449.3h0M480.1 438.1h0M477.9 440.1h0M470.6 446.6h0M474 443.1h0M475.1 433.5h0M471.5 423.1h0" stroke="#aa89e7" stroke-width="2.9" stroke-linecap="round" fill="none"/><path d="M482.7 444h0M489.5 447.7h0M486.3 448.1h0M477.2 454.3h0M486.5 444.3h0M483.4 420.1h0M478.7 456.2h0M484 417.9h0" stroke="#9d77ec" stroke-width="2.9" stroke-linecap="round" fill="none"/><path d="M480.4 465.5h0M480 450.3h0M480.7 458h0M490.1 450h0" stroke="#8e65f0" stroke-width="2.9" stroke-linecap="round" fill="none"/><path d="M470.9 421.3h0M483.6 441.8h0M485.7 433.4h0M479.5 445.8h0M478.6 416.5h0M476.2 438h0M483.9 417.4h0M480 435.2h0" stroke="#673df8" stroke-width="2.9" stroke-linecap="round" fill="none"/><path d="M484.7 429.2h0M483.5 431.3h0M488.7 436.4h0M486 429.8h0M481.5 449.1h0" stroke="#4926fb" stroke-width="2.9" stroke-linecap="round" fill="none"/><path d="M487.7 434.7h0M484.9 442.6h0M476.9 417h0" stroke="#0000ff" stroke-width="2.9" stroke-linecap="round" fill="none"/><path d="M482.2 473.5h0M482 452.7h0M487.7 462.7h0M463.8 427.5h0M475.9 468.1h0M474.2 445.5h0M483.8 475.7h0M487 469.1h0M482 476.3h0M483.6 422.4h0M481.1 420.9h0M474.5 475.1h0M490.1 449.2h0M477.2 419.5h0M480.3 462.2h0M470.3 420.1h0M489.7 444.9h0M474.7 468.3h0M485.7 457.4h0M487.2 443.5h0M489.8 474.2h0M487.4 477.2h0M477.9 475.4h0M489.8 475.8h0M476.2 467.8h0M481.9 453.5h0M477.9 467.8h0M481.2 470.8h0M474.5 468.9h0M476.8 469.8h0M476.5 416.5h0M474.8 466.5h0M486.5 467.8h0M476.9 426.2h0M471.1 441.3h0M478.1 424.9h0M470.3 448.6h0M478.8 471h0M475.4 420.9h0M479 420.2h0M481.7 466h0M481.2 482h0M476.5 450.6h0M486.1 475h0M479.2 461.5h0M490.6 460h0M481 483.4h0M470 440.7h0M482.9 428.6h0M485.7 475.9h0M481.1 460.3h0M484 419.4h0M488.4 467.6h0M464.4 429h0M472.7 434h0M471.7 448.5h0M471.8 420.3h0M471 441.7h0M485.9 477.2h0M488.3 456.8h0M475.4 471.4h0M478.3 458.7h0M479.2 474.4h0M489.4 459.2h0M479.8 449.7h0M485.1 476.5h0M487 472.5h0M479.9 467h0M480.3 419.6h0M473.1 464.4h0" stroke="#d3d3d3" stroke-width="2.9" stroke-linecap="round" fill="none"/><path d="M488 441.5h0M470.7 429.7h0M477.7 460.5h0M478.4 441.8h0M478.7 459.1h0M488.9 463.1h0M480.5 431.8h0" stroke="#b69ce3" stroke-width="2.9" stroke-linecap="round" fill="none"/><path d="M479.3 455.3h0M475.6 415.6h0M478.6 446.8h0M485.4 441.4h0M484.9 448.3h0M486.4 434.8h0M478.7 421.8h0M469.3 434.8h0M478.4 461.9h0M475.8 414.7h0M482.6 440.1h0M476.6 434.5h0M481.7 466.9h0" stroke="#aa89e7" stroke-width="2.9" stroke-linecap="round" fill="none"/><path d="M482.2 433.2h0M479.9 437.5h0M482.6 461.7h0M489.6 460.8h0M482.4 441.2h0M489.6 457.3h0M482.9 429.7h0M473 452.4h0" stroke="#9d77ec" stroke-width="2.9" stroke-linecap="round" fill="none"/><path d="M474.8 437.7h0M470.6 417.9h0M476.8 422h0M481.8 417.3h0" stroke="#8e65f0" stroke-width="2.9" stroke-linecap="round" fill="none"/><path d="M485.2 435.9h0M487.9 435.4h0M479.5 448.5h0M479.6 447.5h0M482.7 416.4h0M483.3 438.2h0M482.4 431.7h0M486.7 445.6h0" stroke="#673df8" stroke-width="2.9" stroke-linecap="round" fill="none"/><path d="M487.3 436.9h0M481 438.7h0M482.6 447.5h0M477 438.4h0M475.3 429.8h0" stroke="#4926fb" stroke-width="2.9" stroke-linecap="round" fill="none"/><path d="M479.5 438.7h0M482.3 432.6h0M486.7 438.1h0M480.5 442.8h0" stroke="#0000ff" stroke-width="2.9" stroke-linecap="round" fill="none"/></g>
<text x="473.3" y="409.4" font-size="11.1" font-weight="bold" font-style="italic" fill="#111" text-anchor="middle" >fzd9b</text>
<g><path d="M562.8 438.7h0M572.7 436.4h0M568.6 461.9h0M575.4 471.1h0M568.1 440.1h0M574.4 471h0M569.7 445.8h0M566.8 439.2h0M564.9 468h0M578.1 447.4h0M580.2 462.3h0M568.9 464.3h0M569.6 415.9h0M567.1 462.9h0M570.2 435.2h0M573.9 437.9h0M555.6 429h0M567.5 469.7h0M570.1 480.9h0M563.9 461.5h0M567.1 426.2h0M560.5 420.1h0M578.9 446.7h0M573 423h0M580 474.2h0M568.6 465.7h0M564.7 475.1h0M572.9 444h0M571.2 483.4h0M563.3 445.8h0M568.2 451.4h0M570.7 431.8h0M576.6 474.2h0M572.8 435.2h0M560.8 432.1h0M572.3 430.2h0M569.4 468.7h0M572.2 478.6h0M576.7 457h0M561.7 452.6h0M562.2 417.1h0M578.5 437.6h0M563.9 439.5h0M580.6 453.7h0M570.3 475.6h0M572 464.1h0M571.3 460.3h0M569.3 425.5h0M568.2 414.9h0M565.3 432.4h0M567.6 437.1h0M579.8 460.8h0M575.8 471.4h0M569.3 433.5h0M568.8 416.5h0M572.1 454h0M574.3 422.8h0M570.9 468.4h0M575.6 478h0M569.6 465.5h0M565.3 433.5h0M569.4 474.4h0" stroke="#d3d3d3" stroke-width="2.9" stroke-linecap="round" fill="none"/><path d="M565 438.2h0M577.3 454h0M563.7 440.7h0M565 461.9h0M578.3 470.2h0M578.9 436.4h0M575.1 442.6h0M574 439.3h0M575.7 430h0M572 457.3h0M575.9 433.4h0M571.3 466.9h0" stroke="#b69ce3" stroke-width="2.9" stroke-linecap="round" fill="none"/><path d="M575.7 436.2h0M566.1 438.7h0M567 465.6h0M570.2 457.4h0M565.2 439.9h0M579.2 449.5h0M567.3 433.3h0M573.1 428.6h0M581.2 466.6h0" stroke="#aa89e7" stroke-width="2.9" stroke-linecap="round" fill="none"/><path d="M577.8 446.4h0M552 426.2h0M577.9 434.7h0M562.9 429.6h0M561.6 464.6h0M575.5 439.7h0M568.7 480.7h0M571 478.3h0M570.1 463.5h0" stroke="#9d77ec" stroke-width="2.9" stroke-linecap="round" fill="none"/><path d="M564.7 439.9h0M573.8 441.8h0M568.1 467.8h0M560.9 429.7h0M565.8 469.2h0M571.5 470.1h0M570.9 459.7h0" stroke="#8e65f0" stroke-width="2.9" stroke-linecap="round" fill="none"/><path d="M560.5 448.6h0M563 447.6h0M571.1 451.8h0M564.4 445.5h0M575.8 449.9h0M577.2 447.7h0M573.6 448.4h0M560.5 445.9h0M570.4 443.9h0M569.6 440.6h0M578.9 452.3h0" stroke="#673df8" stroke-width="2.9" stroke-linecap="round" fill="none"/><path d="M562.5 441h0M577.4 443.5h0M563.1 440h0M575.1 453.1h0M568.4 452.6h0M562.7 449.3h0M567.5 450h0M560.5 447.3h0" stroke="#4926fb" stroke-width="2.9" stroke-linecap="round" fill="none"/><path d="M572.7 451.8h0M561.5 440.5h0" stroke="#0000ff" stroke-width="2.9" stroke-linecap="round" fill="none"/><path d="M561.8 466.2h0M568.9 419.5h0M577.9 462.7h0M565.3 418h0M562.8 416.8h0M577.3 477.5h0M579.6 471.6h0M575.3 441h0M576.3 475h0M559.2 434.5h0M562.4 442.7h0M570.9 458h0M574.8 457.4h0M565.3 428.7h0M575.9 469h0M562.3 418.5h0M565.8 415.6h0M569.9 479.4h0M568.2 417.7h0M565.6 471.4h0M573.7 431.3h0M571.7 425.4h0M566.7 416.5h0M568.9 482.3h0M581.5 470h0M565.8 435.9h0M570.5 427.8h0M566.1 470.2h0M563.9 424.4h0M566.7 473.9h0M575.7 448.9h0M565 466.5h0M575.2 435h0M567.5 435.5h0M580.7 467.2h0M567.2 425.3h0M568.5 479.5h0M572.5 458.8h0M563.7 444.4h0M571.2 438.7h0M577.2 472.5h0M570.1 442.2h0M570.1 467h0M564.9 430.8h0M580 475.8h0M575.3 472.2h0M561.7 423.1h0M569 429.8h0M566.8 455.4h0M571.6 437.4h0M568.4 433.7h0M573.1 419.7h0M574 475.7h0M579.6 459.2h0M574.1 417.4h0M564.5 429.2h0M568.9 435.4h0M553 428.3h0M574.6 456.8h0M569.6 484.2h0M564.4 471.9h0M574.2 433h0M567.4 453.6h0M571.4 482h0M581.3 470.5h0M573.5 438.2h0M567.4 476.6h0" stroke="#d3d3d3" stroke-width="2.9" stroke-linecap="round" fill="none"/><path d="M568.8 446.8h0M578.1 460.8h0M563.9 434.5h0M569.7 438.7h0M572.5 432.6h0M568.5 444.7h0M571.4 481.4h0M569.4 458.8h0M569.4 461.5h0M566.6 460.7h0M570.7 468.2h0M579.7 442.3h0M580.3 468.4h0M574.7 469.5h0M574.7 433h0M564.5 446.9h0" stroke="#b69ce3" stroke-width="2.9" stroke-linecap="round" fill="none"/><path d="M574.5 432.6h0M565.2 462.9h0M569.7 448.5h0M571.2 418.8h0" stroke="#aa89e7" stroke-width="2.9" stroke-linecap="round" fill="none"/><path d="M571.3 429.9h0M577.6 450h0M568.5 455.7h0M567.6 464h0M581.1 467.3h0M577.9 467.7h0M572.1 441.6h0M576.6 452.1h0" stroke="#9d77ec" stroke-width="2.9" stroke-linecap="round" fill="none"/><path d="M574.8 447.2h0M562.8 444.3h0M563.2 450.1h0M579.5 452.6h0M576.6 455.4h0M561.2 447.6h0" stroke="#8e65f0" stroke-width="2.9" stroke-linecap="round" fill="none"/><path d="M563.6 449.3h0M560.6 451.3h0M569.6 434.8h0M549.4 429.1h0M579.9 444.9h0M571.5 451.1h0" stroke="#673df8" stroke-width="2.9" stroke-linecap="round" fill="none"/><path d="M569 452.6h0M570.7 453.5h0M570.9 441.5h0M580.3 451.4h0M569.8 443.6h0M579.2 448.5h0M570.5 447.7h0M562 449.6h0M568.4 443.8h0M560.7 445h0M572.3 453.6h0" stroke="#4926fb" stroke-width="2.9" stroke-linecap="round" fill="none"/><path d="M575.6 441.4h0M568.5 453h0" stroke="#0000ff" stroke-width="2.9" stroke-linecap="round" fill="none"/><path d="M563 422.2h0M569.3 426.9h0M570.5 419.6h0M571.3 420.9h0M567.5 451.2h0M569.9 462.5h0M572.2 425.4h0M576.7 467.8h0M572.2 476.3h0M566.9 436.8h0M569.4 428.5h0M564.3 467h0M557.3 432.2h0M561 432.1h0M577.1 433.4h0M571.7 456.1h0M568.2 419.9h0M565.5 427.9h0M569.2 460.5h0M565.8 431.9h0M575.8 454.1h0M566.6 469.2h0M569.5 422.7h0M570.5 479.9h0M577.5 436.9h0M568.8 469.8h0M579.4 474.4h0M574.1 476h0M567.2 421.7h0M564.7 472.3h0M567.9 468.2h0M569.1 420.8h0M576.6 434.8h0M569.9 478.8h0M569.5 451.3h0M566.1 419h0M562 420.3h0M562.4 416.3h0M576.3 438.4h0M561.8 429h0M571.1 433.2h0M568.3 457.2h0M567 422h0M577.7 470.3h0M574.9 429.2h0M565.9 460.3h0M567.2 438.4h0M580.9 457.8h0M567.6 451.6h0M556.6 430.3h0M570.8 426h0M561 438.2h0M568.9 421.8h0M579.1 471.3h0M564.5 425.6h0M567.2 431.2h0M571.1 435.6h0M577.7 451.5h0M568 440.4h0M579.2 442.2h0M560.1 430.8h0M578.1 468.9h0M572.8 474.8h0M559.5 434.8h0M569.1 452.5h0M572.6 431.7h0M570.5 417.1h0M562.2 451.6h0M567.4 419.5h0M568.1 437.9h0M566 414.7h0M567.5 459.1h0M580 444.2h0M568.2 429.2h0" stroke="#d3d3d3" stroke-width="2.9" stroke-linecap="round" fill="none"/><path d="M576.1 453.3h0M560 443.3h0M571.6 472.4h0M571.9 466h0M578.8 466.7h0M580.7 466.7h0M563.7 416.4h0M576.1 477.2h0M576.6 468.8h0M569.6 450.3h0M563.9 433.1h0M576.7 432.5h0" stroke="#b69ce3" stroke-width="2.9" stroke-linecap="round" fill="none"/><path d="M567.6 471.9h0M566.6 471.3h0M570.7 442.8h0M560.3 433.8h0M575.1 448.3h0M579.2 455.7h0M572.1 429.8h0M565.2 424h0M570.1 437.5h0M572.8 443h0" stroke="#aa89e7" stroke-width="2.9" stroke-linecap="round" fill="none"/><path d="M562 454.1h0M578 475.7h0M573.1 472.5h0M570.3 438.1h0" stroke="#9d77ec" stroke-width="2.9" stroke-linecap="round" fill="none"/><path d="M580.3 470.3h0M578.9 442.9h0M564.2 445.9h0M573.8 435.8h0M566.7 464.1h0M561.9 448.5h0M564.3 465.3h0" stroke="#8e65f0" stroke-width="2.9" stroke-linecap="round" fill="none"/><path d="M573.6 449.1h0M564.1 464.2h0M578.2 441.5h0M562.5 453.3h0" stroke="#673df8" stroke-width="2.9" stroke-linecap="round" fill="none"/><path d="M566.4 438h0M574.2 440.3h0M576 442.8h0M571.9 445.1h0M576.3 452.8h0M551.6 426.5h0" stroke="#4926fb" stroke-width="2.9" stroke-linecap="round" fill="none"/><path d="M578.7 453h0M574.3 442.5h0M570.8 444.5h0" stroke="#0000ff" stroke-width="2.9" stroke-linecap="round" fill="none"/><path d="M567.9 431h0M581.5 472.7h0M570.7 451.8h0M559.5 433.2h0M565 438.9h0M567 469.8h0M567.3 452.6h0M568.2 473.6h0M571.9 466.9h0M568.6 421.1h0M554.3 427.5h0M568 470.6h0M567 432.9h0M572.8 479.1h0M561.4 453.1h0M578.1 474.9h0M579.3 456.5h0M569.3 459.1h0M568.9 459.1h0M568.8 423.2h0M572.4 433.2h0M567.3 466.2h0M562.2 424h0M569.8 453.2h0M566.3 414.2h0M568.9 456.2h0M565.5 476h0M574.7 450.4h0M554.6 429h0M547.4 426.7h0M574.1 478.2h0M563 418.1h0M568.6 427.7h0M574 478h0M575.3 476.5h0M567.3 458.2h0M571.6 418.4h0M573.4 468.7h0M567.1 417h0M566.4 457.8h0M577.6 477.2h0M571.8 438.2h0M572.7 418.4h0M578.4 476.1h0M567.3 474.9h0M575.8 455.2h0M573.1 421.1h0M571.8 474.4h0M565.2 425.3h0M578.8 474h0M564.6 419.9h0M565 422.3h0M566.3 438h0M565.9 419.7h0M570.6 465.5h0M562.3 428.7h0M570.8 422h0M569.9 473.2h0M563.9 417.3h0M567.4 454.3h0M566 472.8h0M563.3 464.4h0M573.5 469.1h0M577.9 432.7h0M563.1 423.3h0M568.9 476.7h0M564.3 421.6h0" stroke="#d3d3d3" stroke-width="2.9" stroke-linecap="round" fill="none"/><path d="M577.6 455.9h0M565.2 473.8h0M565.8 437.1h0M571.5 436.4h0M578.2 457.7h0M575.9 457.4h0M570.7 432.2h0M579.8 473.8h0M578.6 432.5h0" stroke="#b69ce3" stroke-width="2.9" stroke-linecap="round" fill="none"/><path d="M569.5 455.3h0M572.9 462.8h0M570.8 424.5h0M576.3 436h0M580.3 450h0M573.3 446.6h0M571.4 463.3h0M572.8 452.4h0M572.3 459.1h0M564.9 468.3h0M569.8 468h0" stroke="#aa89e7" stroke-width="2.9" stroke-linecap="round" fill="none"/><path d="M574 446.2h0M564.9 466.1h0M569.3 430.3h0M573.6 471.4h0M578.9 461.7h0M570.2 418.5h0M578.3 462h0" stroke="#9d77ec" stroke-width="2.9" stroke-linecap="round" fill="none"/><path d="M571.2 469.7h0M562.6 463.4h0M568.2 430.8h0M571.9 460.5h0M570.8 457.6h0M561.3 441.3h0M571 439.4h0M576.1 440.2h0" stroke="#8e65f0" stroke-width="2.9" stroke-linecap="round" fill="none"/><path d="M563.9 463.7h0M568.5 442.6h0M560.8 446.6h0M572.8 447.5h0M569 451.9h0M577.4 449.1h0M561 443.9h0" stroke="#673df8" stroke-width="2.9" stroke-linecap="round" fill="none"/><path d="M570.9 453.8h0M560.2 440.7h0M562 444.9h0M577.3 448.1h0M576 445.4h0M566.7 450.6h0M561.2 441.7h0" stroke="#4926fb" stroke-width="2.9" stroke-linecap="round" fill="none"/><path d="M580.4 454.2h0M575.4 445.8h0M561.3 450.2h0" stroke="#0000ff" stroke-width="2.9" stroke-linecap="round" fill="none"/><path d="M570.2 453.8h0M571.7 471.6h0M562.9 424.9h0M563.1 418.9h0M568.2 468.4h0M573.2 422h0M564.1 415.5h0M570.4 481.6h0M571.7 479.4h0M568.6 417.4h0M566.4 470.3h0M563.1 421.7h0M567.3 472.3h0M565.1 470.5h0M567.8 426.6h0M570 445.1h0M569.2 420.2h0M572.7 476.1h0M565.6 420.9h0M570.1 423.9h0M573.5 421h0M570.6 472h0M570.1 478.4h0M565.9 426.1h0M579 469.8h0M578.5 477.3h0M574.3 437.5h0M570.1 423.4h0M564.1 433.7h0M566.5 430.4h0M571.7 423.2h0M576.5 458.8h0M570.9 456.7h0M554 427.5h0M574.2 417.9h0M564.9 445.7h0M573.1 429.7h0M574.9 474.2h0M562.8 465.9h0M568.8 478.2h0M576.3 472.3h0M565 437.7h0M572.8 423.9h0M566.5 461.4h0M570.5 462.2h0M568.8 466.4h0M571.3 420.3h0M573.5 434.7h0M565.4 423.2h0M562.9 434h0M569.8 482.9h0M561.2 431.3h0M567 478.1h0M572.9 473.3h0M564.7 423.4h0M568.4 434.8h0M560.8 417.9h0M569.3 426.9h0M572.9 416.4h0M570.5 465.1h0M575.9 475.9h0M567.7 418.3h0M573.7 437h0M564.4 417.9h0M578.4 437.7h0M576.7 444.3h0" stroke="#d3d3d3" stroke-width="2.9" stroke-linecap="round" fill="none"/><path d="M551.4 429h0M568.5 458.7h0M566.8 434.5h0M575.4 430.1h0M562.8 466.9h0M576.6 459.2h0M574 432.2h0M567 429.8h0M572.1 453.5h0M551.3 427.5h0M566.6 468.9h0M576.2 429.8h0M573 450.6h0M568.9 442.3h0" stroke="#b69ce3" stroke-width="2.9" stroke-linecap="round" fill="none"/><path d="M576.5 451h0M574.3 474h0M562.4 463h0M569.2 473h0" stroke="#aa89e7" stroke-width="2.9" stroke-linecap="round" fill="none"/><path d="M552.8 430.1h0M569.2 439.5h0M563.8 463h0M572.5 434.4h0M578.7 463.5h0M550 427.5h0M568.1 475.4h0M574.7 431h0" stroke="#9d77ec" stroke-width="2.9" stroke-linecap="round" fill="none"/><path d="M570 449.7h0M568.2 454h0M572.8 461.7h0M568.1 428.8h0M551.9 429.1h0M547.9 427.9h0M573.7 476.9h0M563.4 442.6h0M551.9 427.3h0" stroke="#8e65f0" stroke-width="2.9" stroke-linecap="round" fill="none"/><path d="M576.1 442.2h0M580.3 449.2h0M577.7 441.5h0M568.6 441.8h0M579.1 444.3h0M579 450.4h0M576.5 448.1h0M571.7 449.1h0M576.9 453.7h0M571.8 445.8h0M566.7 451.7h0" stroke="#673df8" stroke-width="2.9" stroke-linecap="round" fill="none"/><path d="M576.9 445.6h0M575 451.4h0M577.6 442.1h0M569.6 436.2h0" stroke="#4926fb" stroke-width="2.9" stroke-linecap="round" fill="none"/><path d="M578.5 459h0M563.2 452.4h0M572.2 452.7h0" stroke="#0000ff" stroke-width="2.9" stroke-linecap="round" fill="none"/><path d="M570.4 452.9h0M579.1 458.9h0M571.1 434.1h0M580.8 473.1h0M571.2 461.9h0M571.2 445.8h0M561.8 439.1h0M579.4 472.8h0M563.1 424.3h0M564.6 426h0M567.4 478.1h0M572.7 464h0M565.5 429.8h0M573.3 470.6h0M578.6 467.6h0M571.5 415.7h0M567.9 460.5h0M565.3 416.6h0M564.7 468.9h0M561.1 421.3h0M573.6 420.1h0M573.8 422.4h0M578.5 456.8h0M576.3 431.1h0M565 463.6h0M574.1 452.9h0M571.8 468.8h0M568.8 424.8h0M577.9 459.3h0M575.4 435.9h0M577.9 454.3h0M575 445.1h0M566.4 452h0M572 417.3h0M570.2 450.3h0M576.9 438.1h0M573.1 419.1h0M571.9 478.2h0M570.5 472.1h0M576.4 470.6h0M565.9 476.9h0M570.5 474.9h0M573 468h0M567.4 415.5h0M574.9 469h0M562.6 415.5h0M574.2 419.4h0M566.4 475h0M574.8 438.4h0M570.5 430.9h0M566.7 419.7h0M554.8 429.7h0M550.5 426.2h0M566.8 475.3h0M580.1 458.1h0M568.3 424.9h0M565.7 421.9h0M567.4 463.5h0M579.6 469.7h0M564.7 470.3h0M571.4 470.8h0M577.2 469.1h0M578.1 435.4h0M569.3 414.6h0M566.1 468.1h0M577.4 471.3h0M579.1 463.1h0M562.4 419.8h0M579.8 457.3h0M578.8 445h0M570.1 476.3h0M570.8 446.6h0M564.3 419.5h0" stroke="#d3d3d3" stroke-width="2.9" stroke-linecap="round" fill="none"/><path d="M577.7 438.2h0M566.4 467.8h0M569.1 455.9h0M569.8 447.5h0M565.8 469.8h0M563.7 442.4h0M569.3 475.5h0M571.4 453.5h0M572.4 473.5h0M564 468.9h0" stroke="#b69ce3" stroke-width="2.9" stroke-linecap="round" fill="none"/><path d="M570.2 474.1h0M577 474.1h0M571.3 455.2h0M567.7 438.4h0M564.2 443.1h0M576.9 460.2h0M574.8 436.4h0M547.5 426.3h0M569.7 416.6h0" stroke="#aa89e7" stroke-width="2.9" stroke-linecap="round" fill="none"/><path d="M568 462.6h0M568.9 451.9h0M569 471h0M566 434.5h0M577.4 431.3h0M562.7 445.7h0" stroke="#9d77ec" stroke-width="2.9" stroke-linecap="round" fill="none"/><path d="M573 430.1h0M567 468.7h0M549.4 427.2h0M580.8 460h0M564.3 473.1h0M575.7 447.2h0" stroke="#8e65f0" stroke-width="2.9" stroke-linecap="round" fill="none"/><path d="M574.5 449h0M579.3 451.7h0M569.7 449.9h0M580.3 446.2h0M579.7 447.7h0" stroke="#673df8" stroke-width="2.9" stroke-linecap="round" fill="none"/><path d="M572.6 441.2h0M574.9 442.8h0M580.2 448.4h0M575.9 443.8h0" stroke="#4926fb" stroke-width="2.9" stroke-linecap="round" fill="none"/><path d="M561.3 443.5h0M579.8 443h0M567.5 439.9h0M572.8 440.1h0M567.1 440.3h0M570.8 441.2h0" stroke="#0000ff" stroke-width="2.9" stroke-linecap="round" fill="none"/></g>
<text x="562.8" y="409.4" font-size="11.1" font-weight="bold" font-style="italic" fill="#111" text-anchor="middle" >tmem88b</text>
<g><path d="M303.5 560.5h0M312.5 543.3h0M314.9 554.8h0M305.9 568.9h0M307.3 572.6h0M309.9 585.1h0M313.5 560.9h0M290.2 537.6h0M303.7 561.1h0M308.8 526.5h0M308.1 546.8h0M306.3 588h0M301 578.9h0M303.1 553.3h0M307 541.8h0M301.7 571.5h0M297.7 530.3h0M312 552.1h0M306.7 550.2h0M306 579.4h0M294.1 541.8h0M312.4 555h0M314 581.4h0M305.5 565.3h0M305.1 525.7h0M313.1 565.4h0M299.5 554.3h0M300.7 576.7h0M298.8 554.5h0M302.2 545.7h0M294.9 542.4h0M311 579.2h0M313.8 550.8h0M297 551.3h0M308.3 585.5h0M295.6 546.8h0M304 577.3h0M295.8 539.9h0M304 567.4h0M305.8 592h0M299.8 582.4h0M300.5 534.7h0M308.9 582.6h0M295.4 555.2h0" stroke="#d3d3d3" stroke-width="2.9" stroke-linecap="round" fill="none"/><path d="M302.6 549h0M314.8 557h0M305.4 533.1h0M303.8 528.8h0M309.3 539.6h0M308.2 528.7h0M303.7 564.5h0M305.1 588.5h0M307.1 567.4h0M296.6 558.2h0M305.4 553.1h0" stroke="#b69ce3" stroke-width="2.9" stroke-linecap="round" fill="none"/><path d="M310 554.4h0M301.9 566.8h0M298.7 542.3h0M300.7 527.6h0M302.7 576.4h0M306.6 565.9h0M300.4 578.4h0M310.7 585.8h0M311.3 565.6h0M304.8 566h0M305.4 530.6h0M305.8 578.3h0M288.6 536.1h0M305.1 570.8h0M308.8 548.9h0M310 544.5h0M300.1 538.4h0M307 582.1h0M302.3 547h0M307.7 537.2h0M297 528.4h0M306.8 584.9h0M295.1 528.7h0" stroke="#aa89e7" stroke-width="2.9" stroke-linecap="round" fill="none"/><path d="M307.1 541.2h0M303.9 523.2h0M304.6 553.7h0M305.3 540.4h0M303.4 575h0M305.9 563.8h0M305.1 539.5h0M299.9 525.2h0M307.1 543h0M307.7 538.3h0M315.4 568.6h0M308.7 526h0M312.7 556h0M304.5 588h0" stroke="#9d77ec" stroke-width="2.9" stroke-linecap="round" fill="none"/><path d="M309.1 557.6h0M301.3 582.5h0M313.1 567.6h0M313.6 559h0M314.9 578.9h0M298.9 530.2h0M306 562.1h0M312.1 545.5h0M303.4 578.4h0M302.1 578.3h0" stroke="#8e65f0" stroke-width="2.9" stroke-linecap="round" fill="none"/><path d="M286.6 534.8h0M305.5 550.1h0M286.5 537.7h0M303.6 560.5h0M308.9 546.1h0M308.6 540.8h0M282.5 536.5h0M286 537.6h0M303.9 538.9h0" stroke="#673df8" stroke-width="2.9" stroke-linecap="round" fill="none"/><path d="M286.2 535.1h0M310.6 554h0M307.4 556.1h0M313 546.3h0M305.2 574.1h0M308.7 584.6h0M303 542.3h0" stroke="#4926fb" stroke-width="2.9" stroke-linecap="round" fill="none"/><path d="M312.3 578.9h0M307.4 532.5h0" stroke="#0000ff" stroke-width="2.9" stroke-linecap="round" fill="none"/><path d="M297.5 542.6h0M303.5 572.9h0M303.2 526h0M296.4 547.7h0M314.9 557.8h0M296.3 531.7h0M308.5 546.5h0M297.6 556.2h0M303.4 586.8h0M295.8 556.2h0M295.1 554.5h0M310.8 538.4h0M308.6 584.3h0M296.6 562.7h0M307.3 527h0M314.6 582.8h0M310.5 577.6h0M298.9 581.7h0M303.4 531.8h0M306.1 545h0M300.4 577.8h0M310.7 561.9h0M303.9 535.5h0M306.6 572.7h0M304.2 549.2h0M295.9 549.9h0M312.7 577.5h0M299.9 542.1h0M297.6 526.7h0M299.6 546.8h0M299.3 548.5h0M313.2 576.2h0M297.4 547.3h0M305.5 568.3h0M298.3 553h0M296 561.7h0M301.4 547.8h0M299.5 539.4h0M297.5 533.5h0M308.4 531h0M305.3 576.8h0M298.5 525.9h0M301.9 580.9h0M298.5 572.3h0M305.4 555.2h0M314.9 577h0M309.7 561.7h0M308.2 557h0M309.6 553.7h0M310.4 580h0M307.6 576.6h0M299.2 534.6h0M303.6 561.2h0M297.9 554.4h0" stroke="#d3d3d3" stroke-width="2.9" stroke-linecap="round" fill="none"/><path d="M300.4 524.2h0M309.3 541.6h0M308.4 544.4h0M301 546.6h0M306.3 580.2h0M312 557.7h0M313 584.7h0M301.6 578.4h0M303.5 585.3h0M301.6 577.3h0" stroke="#b69ce3" stroke-width="2.9" stroke-linecap="round" fill="none"/><path d="M302 562.9h0M302.8 582.2h0M315.7 575.9h0M299.9 537.3h0M313.2 541.1h0M302.5 539.6h0M301.6 574.2h0M312.5 571.3h0M308.2 580h0M301.9 561.2h0M303.1 567.3h0M303.5 567.7h0M303.9 584.1h0M302 572.1h0M313.8 557.1h0M311.8 556.3h0M307.3 584.7h0M308.4 550.4h0" stroke="#aa89e7" stroke-width="2.9" stroke-linecap="round" fill="none"/><path d="M304.9 584.2h0M300.6 581.4h0M313.8 558.1h0M305.7 544.2h0M303.6 579.6h0M305.1 528.2h0M298.7 572.8h0M311.8 577.7h0M306.5 575.5h0M300.2 580h0M301.7 548.9h0M309.4 566h0M304.5 581.8h0" stroke="#9d77ec" stroke-width="2.9" stroke-linecap="round" fill="none"/><path d="M305.4 549.8h0M306.9 567.7h0M306.2 581h0M306.5 574.6h0M309.1 541.2h0M309.5 551.4h0M308.7 586.8h0M307.4 587.7h0M299.8 571.5h0M303.1 551.2h0M300.6 523.3h0" stroke="#8e65f0" stroke-width="2.9" stroke-linecap="round" fill="none"/><path d="M300 531.8h0M310.3 544.8h0M311.9 562.6h0" stroke="#673df8" stroke-width="2.9" stroke-linecap="round" fill="none"/><path d="M309.4 545h0M302.8 537.8h0M312.3 550.1h0M304.4 561.8h0M302 562.2h0M307.2 549.8h0M301.8 539.8h0M302.9 565.8h0M311.1 567.4h0" stroke="#4926fb" stroke-width="2.9" stroke-linecap="round" fill="none"/><path d="M304.7 546.1h0M286.5 535.9h0" stroke="#0000ff" stroke-width="2.9" stroke-linecap="round" fill="none"/><path d="M298.5 533h0M297.4 525.4h0M300.2 529.5h0M301.9 574.8h0M305.8 554.4h0M310.9 547h0M304.8 582.7h0M305.6 548h0M302 524.1h0M301.2 577.5h0M312.6 584.3h0M295.2 559.9h0M313.3 572.1h0M310.9 583.6h0M299 554.1h0M302.2 560.2h0M300.1 584.6h0M313.9 565.1h0M298.7 524.1h0M303.6 538.4h0M306 590h0M303.4 533.4h0M304.2 592.8h0M300.5 585.5h0M301.2 579.9h0M312.2 564.5h0M304.7 584.9h0M297.3 557.9h0M302.1 548.5h0M307.6 531.6h0M295.9 558.8h0M302.8 577h0M302.2 580.5h0M302 585.2h0M301.9 541.9h0M304.4 591.5h0M306.1 559.7h0M291.2 538.9h0M300.1 536.5h0M314.7 566.7h0M294.7 539.4h0M309.8 543.6h0M304 583h0M296.9 527.1h0M295.6 540.7h0M296.4 537.6h0M297.2 572h0M301.8 533.9h0M308 577.3h0M295.1 555.9h0M295.6 552.5h0M301.3 525.1h0M298.3 551h0M304.7 575.6h0M297.4 575.5h0M305.3 540.8h0M294.1 543.4h0M312 539.9h0M313.1 585.9h0" stroke="#d3d3d3" stroke-width="2.9" stroke-linecap="round" fill="none"/><path d="M304.1 531.3h0M306.7 562.1h0M305.3 551.4h0M306.7 562.6h0M310.3 555.8h0M304.4 576.6h0M303.5 564.8h0M298.5 570.1h0M297.2 524.1h0M302.8 560h0M313.9 560.3h0M306.2 527h0M313.7 571.7h0M307.4 551.6h0M312.5 567.9h0M296.6 553.5h0" stroke="#b69ce3" stroke-width="2.9" stroke-linecap="round" fill="none"/><path d="M296.9 537.3h0M295.9 552.1h0M299.1 534.2h0M301.4 583.9h0M303.5 544h0M302.8 526.3h0M310.1 548.3h0M302.5 569.1h0M313.5 545h0M306.3 534h0" stroke="#aa89e7" stroke-width="2.9" stroke-linecap="round" fill="none"/><path d="M304.1 563.9h0M316.1 578.6h0M308.6 554.8h0M295.1 557.2h0M310.4 563.8h0M310.2 586.6h0M311.5 562.3h0M298.4 571.6h0M313.4 575.3h0M306.9 562.2h0M314.5 553.5h0M298.5 543.1h0M308.3 545.6h0M301.6 538.4h0M301.7 534.8h0M307.5 571.4h0M314.3 550.9h0M307.4 570.3h0M310.5 552.4h0M303.7 529.4h0" stroke="#9d77ec" stroke-width="2.9" stroke-linecap="round" fill="none"/><path d="M315.4 581.7h0M309.4 547h0M310.9 544.6h0M304.7 532h0M304.1 559.9h0M309.2 565.4h0M315 562.8h0M301.2 577.8h0M305.9 575.5h0" stroke="#8e65f0" stroke-width="2.9" stroke-linecap="round" fill="none"/><path d="M310.4 562.7h0" stroke="#673df8" stroke-width="2.9" stroke-linecap="round" fill="none"/><path d="M282 535.3h0M284.6 536.1h0M314.6 552.8h0" stroke="#4926fb" stroke-width="2.9" stroke-linecap="round" fill="none"/><path d="M311.2 543.4h0M282.1 534.9h0" stroke="#0000ff" stroke-width="2.9" stroke-linecap="round" fill="none"/><path d="M300.9 546.6h0M307.5 525h0M294.6 551.9h0M297.7 532.9h0M295.4 540.7h0M303.9 542.1h0M309.5 582.8h0M308.6 586.6h0M313.8 564.3h0M304.8 558.9h0M298.3 525h0M295.8 550.3h0M305.4 566.2h0M298.8 551.7h0M307.7 528.3h0M303.2 536.3h0M297.5 538.2h0M305.7 542.7h0M302.9 533.5h0M301.4 543.1h0M305.7 560.4h0M305.6 586.9h0M311.2 577.4h0M302.7 548.7h0M301 576.4h0M312.2 558.6h0M305.1 536.4h0M302 528.1h0M314.8 570.9h0M304.7 532.5h0M299.6 547.5h0M297.4 552.9h0M313.5 555.3h0M296.1 549.1h0M307.4 583.4h0M307.7 529.7h0M301 566.4h0M307.8 530.6h0M297.8 558.7h0M307.9 579.2h0M297.3 554.3h0M306.5 586.8h0M312.7 544h0M304.7 589.5h0M307.3 560.4h0M303.2 550.4h0M310.5 542h0M296.8 532.6h0M299.3 580.9h0M297.8 561h0M305.9 529.5h0M303.3 589.3h0" stroke="#d3d3d3" stroke-width="2.9" stroke-linecap="round" fill="none"/><path d="M303.5 530.4h0M311.2 564h0M305.3 562.1h0M308.1 577.7h0M304.5 587.4h0M303.5 528.1h0M299.5 576.6h0M301.3 560.3h0M310.7 548.8h0M299.6 572.2h0M299.5 574.7h0M305.3 560.4h0M315.2 562.3h0M308.1 529.6h0M299 580.5h0M299.6 530.9h0M312.3 560.1h0M309.9 580.8h0" stroke="#b69ce3" stroke-width="2.9" stroke-linecap="round" fill="none"/><path d="M299.1 537.8h0M301 583.6h0M311.9 556.7h0M308.7 561.5h0M303 561.2h0M300.4 545.7h0M306.6 525.9h0M314.4 565.9h0M312.8 550.1h0M302.1 544.1h0M309.7 556.9h0" stroke="#aa89e7" stroke-width="2.9" stroke-linecap="round" fill="none"/><path d="M299.2 528.5h0M311.7 542h0M296.2 573.2h0M305 590.2h0M304 570.1h0M313.1 546.2h0M313.7 552.9h0M296.4 574.8h0M299.8 532.6h0M302.1 567.7h0M300.7 547.3h0M314.4 551.6h0M299.6 575.1h0M304.2 543.4h0M299.6 570.5h0M305 552.5h0M300.6 543.1h0M313.6 578.4h0" stroke="#9d77ec" stroke-width="2.9" stroke-linecap="round" fill="none"/><path d="M308.9 531.4h0M299.9 526.6h0M302.6 571.2h0M312.8 566.3h0M313.4 553.6h0M296.6 528.9h0M312.2 550.7h0M300.7 578.8h0M302.1 559.8h0M313.5 551.5h0M307.3 545h0" stroke="#8e65f0" stroke-width="2.9" stroke-linecap="round" fill="none"/><path d="M304.3 557.1h0M304.6 558.3h0M300.4 540.5h0M305.9 538.5h0M311.3 552.9h0" stroke="#673df8" stroke-width="2.9" stroke-linecap="round" fill="none"/><path d="M306.4 554.4h0M306.7 538.4h0M311.5 554.2h0" stroke="#4926fb" stroke-width="2.9" stroke-linecap="round" fill="none"/><path d="M311.2 560.7h0" stroke="#0000ff" stroke-width="2.9" stroke-linecap="round" fill="none"/><path d="M302.8 528.5h0M298.5 548.1h0M305.1 580.7h0M313.7 579.9h0M298.2 557.9h0M311.2 582.8h0M304.3 547.3h0M303.9 534.1h0M304.7 550.8h0M303.9 535.5h0M315.9 579.1h0M300.9 522.8h0M305.8 527.4h0M300.3 530.5h0M302.7 584h0M303.4 525.1h0M312.9 570.6h0M310.9 580.9h0M305.1 556.3h0M309.5 577.6h0M308.1 543.3h0M299.8 548.5h0M287.4 538.7h0M303.1 564.3h0M297.7 548.6h0M316.1 581.3h0M305.1 583.5h0M299.3 577.5h0M308.8 528h0M287.6 536.9h0M297.1 561.9h0M296.5 557.1h0M306.4 583h0M300.5 568.9h0M312.9 578.8h0M288.9 536.1h0M301.6 530.6h0M300.5 528.3h0M303.1 588.1h0M299.6 546.3h0M306 590.6h0M298 551.2h0M303.5 590.9h0M298.5 541.7h0M304.8 527.1h0M304.7 572.1h0M307.4 543.8h0M303.2 574.3h0M310.9 539.7h0M289.2 537.6h0" stroke="#d3d3d3" stroke-width="2.9" stroke-linecap="round" fill="none"/><path d="M303.5 550.9h0M306.5 569.1h0M297.4 574.5h0M314.2 580.2h0M298.6 577.5h0M312 579.9h0M301.3 572.7h0M301.3 528.3h0M309.9 549.6h0M314.4 569.4h0M302.8 562.6h0M298.9 573.9h0M296.8 560.2h0M309.7 551.2h0M303.8 581.6h0M311.1 559.6h0" stroke="#b69ce3" stroke-width="2.9" stroke-linecap="round" fill="none"/><path d="M311.5 568.8h0M308.8 541.6h0M307.4 548.7h0M306.8 587.2h0M311.2 567.8h0M299.3 578.9h0M313.7 567.5h0M284 537.7h0M315.3 575.8h0M299 526.5h0M297.7 527.5h0M314.2 567.8h0" stroke="#aa89e7" stroke-width="2.9" stroke-linecap="round" fill="none"/><path d="M312.7 583.5h0M311.1 556.7h0M297 571.6h0M310.9 561.4h0M304.5 571.1h0M312.5 541.3h0M314 583h0M301.9 583.5h0M307.7 581.1h0M299.3 532h0M304.3 554.4h0M305.8 570.5h0M302.5 576.8h0M298.9 575.6h0M310.7 550.8h0M313.5 570.3h0M303 552.4h0" stroke="#9d77ec" stroke-width="2.9" stroke-linecap="round" fill="none"/><path d="M310.5 584.5h0M302.1 558.6h0M304.3 525.2h0M304.8 562.4h0M314.3 556.3h0M304.9 546.7h0M304.4 552.2h0M303.2 570.5h0M307.6 559.2h0M310.4 558.5h0M314.6 584.4h0M301.2 569.3h0M306.2 546h0M305.4 534.6h0M301 560.6h0M301.1 570h0M307.4 561h0" stroke="#8e65f0" stroke-width="2.9" stroke-linecap="round" fill="none"/><path d="M285.1 534.8h0M308.3 539.9h0M305 561.5h0" stroke="#673df8" stroke-width="2.9" stroke-linecap="round" fill="none"/><path d="M285.9 536.1h0M309.6 560h0M299.9 541h0M306.3 557.7h0" stroke="#4926fb" stroke-width="2.9" stroke-linecap="round" fill="none"/><path d="M307.2 540.3h0M303 543.4h0M295.7 529.9h0M297.1 549.6h0M299.1 555.5h0M310.5 566h0M291.9 540.8h0M302.8 523.5h0M309.5 537.8h0M306 571.9h0M304.7 587h0M303.9 567.7h0M301.4 564h0M301.3 559.2h0M306.3 531.8h0M307.5 581.9h0M306.8 534h0M295.4 526.5h0M306.1 524.3h0M301.6 586.7h0M294.8 549.3h0M301.8 530.3h0M304.2 544.8h0M302.4 535.2h0M297.6 530.8h0M311.9 586.1h0M312.7 569.4h0M311.6 582.7h0M296.8 525.7h0M305.2 580.6h0M315.8 575.2h0M314.2 578.3h0M302.7 537.4h0M295.5 538.3h0M310 538.7h0M301.1 539h0M314.4 582.4h0M305.5 577h0M304.2 558.9h0M306.4 577.4h0M311.3 576.4h0M293.8 543.1h0M310 579.7h0M295.3 553.6h0M307.9 555.2h0M289.4 538.3h0M305.7 541.8h0M302.6 579.2h0M296.3 561.2h0M303.8 569.1h0" stroke="#d3d3d3" stroke-width="2.9" stroke-linecap="round" fill="none"/><path d="M302.3 526.9h0M307.5 552.6h0M304.2 574.1h0M303.4 555.4h0M311.3 541.1h0M305.8 547.3h0M304.4 556.1h0M307.7 527.7h0M305.5 562.4h0M311.5 546.7h0M308.6 547.9h0" stroke="#b69ce3" stroke-width="2.9" stroke-linecap="round" fill="none"/><path d="M304.8 543.8h0M309.3 559h0M299.5 576.9h0M300.4 544.5h0M312.5 576.3h0M301.7 525.6h0M301.6 541.5h0M311.8 581.1h0M309.4 555.8h0M313.3 561.6h0M306.1 578.7h0M307.6 538.7h0M315.3 575.3h0M297.9 573h0M306.8 561.3h0M303.1 561.6h0M314.9 558.6h0" stroke="#aa89e7" stroke-width="2.9" stroke-linecap="round" fill="none"/><path d="M308.9 551.1h0M302.2 572.6h0M298.9 528.1h0M314.9 560h0M306.5 553.7h0M312.5 562.9h0M302 586.7h0M298.3 549.3h0M306.3 564.7h0M305.9 528.9h0M299.3 583.7h0M309.3 578.1h0M310.2 550h0M299.8 533.9h0M304.3 558.5h0M306.4 546.8h0" stroke="#9d77ec" stroke-width="2.9" stroke-linecap="round" fill="none"/><path d="M315.5 566.4h0M303.2 529.7h0M312.2 585.8h0M313.4 582.6h0M297.7 531.9h0M308.2 557.7h0M309 579.6h0M304.2 524.5h0M314.1 561.2h0M310.3 557.5h0" stroke="#8e65f0" stroke-width="2.9" stroke-linecap="round" fill="none"/><path d="M306.9 538.8h0M299.7 579.1h0M303.8 548.1h0M305.5 566.6h0M302.8 539.4h0M310.6 551.4h0M284 535.8h0M297 524.9h0" stroke="#673df8" stroke-width="2.9" stroke-linecap="round" fill="none"/><path d="M312.3 546.8h0M301.8 547h0M302.7 546.5h0M310.3 538.6h0M301.5 545.4h0M305.1 573.7h0" stroke="#4926fb" stroke-width="2.9" stroke-linecap="round" fill="none"/><path d="M304 537.1h0" stroke="#0000ff" stroke-width="2.9" stroke-linecap="round" fill="none"/></g>
<text x="297.9" y="516.6" font-size="11.1" font-weight="bold" font-style="italic" fill="#111" text-anchor="middle" >dact1</text>
<g><path d="M399.6 583.6h0M391.9 526h0M393.8 536.4h0M387 551h0M388 548.5h0M394.9 527h0M389.7 566.4h0M398 539.6h0M404.8 578.6h0M393.2 588h0M395.3 565.9h0M389.4 576.7h0M388.9 580h0M390.8 578.3h0M404.8 581.3h0M400.9 564.5h0M398.6 580.8h0M403.7 562.8h0M379.9 538.9h0M392.4 564.5h0M398.1 566h0M388.6 542.1h0M392.1 533.4h0M400.2 562.3h0M390.5 530.3h0M390.7 572.1h0M398.2 577.6h0M398.1 545h0M384.3 552.5h0M393.2 587.4h0M385.2 557.1h0M389.4 527.6h0M400.2 568.8h0M403.6 557.8h0M392.5 581.6h0M402.2 555.3h0M388.8 538.4h0M401.2 571.3h0M398.1 547h0M396.8 529.6h0M404.4 575.9h0M391.5 523.5h0M392.1 578.4h0M402.1 582.6h0M401.2 562.9h0M400.4 542h0M395.7 541.8h0M396.4 538.3h0M403.3 584.4h0M376.3 536.9h0M396.9 580h0M387.2 570.1h0M399.1 563.8h0M390.8 548.5h0M382.5 543.1h0M395.9 549.8h0M400 565.6h0M388.2 574.7h0M403.6 577h0M394.7 571.9h0M394.7 579.4h0M399.7 579.2h0M389 530.5h0M396.2 571.4h0M398.2 551.4h0M392.2 528.1h0M388.3 570.5h0M386.1 525.4h0M392.6 567.7h0M400.5 581.1h0M402.7 581.4h0M399.2 566h0M390.4 525.6h0M392.2 567.7h0M403.6 578.9h0M394.1 530.6h0M390 528.3h0M401.7 546.3h0M393.4 532h0M403.2 553.5h0M391.1 535.2h0M374.9 535.1h0M378.9 537.6h0M387.4 572.8h0M396.4 528.3h0M401.2 543.3h0M390.6 574.8h0M391.4 576.4h0M401.8 585.9h0M397.8 557.6h0M390.6 561.2h0M397.1 550.4h0M387.6 573.9h0M386.4 527.5h0M395.6 567.7h0M386.3 530.8h0" stroke="#d3d3d3" stroke-width="2.9" stroke-linecap="round" fill="none"/><path d="M393.7 561.5h0M393 557.1h0M392.6 535.5h0M394 540.4h0M391.3 549h0M398.8 548.3h0M389.1 540.5h0M396.8 543.3h0M389.7 560.6h0" stroke="#b69ce3" stroke-width="2.9" stroke-linecap="round" fill="none"/><path d="M399.6 547h0M390 559.2h0M385.3 562.7h0M392.6 542.1h0M394 540.8h0M398.7 538.7h0M393 558.5h0M402.5 564.3h0" stroke="#aa89e7" stroke-width="2.9" stroke-linecap="round" fill="none"/><path d="M399.9 543.4h0M393 554.4h0M388.6 537.3h0M390.5 539.8h0" stroke="#9d77ec" stroke-width="2.9" stroke-linecap="round" fill="none"/><path d="M403.1 569.4h0" stroke="#8e65f0" stroke-width="2.9" stroke-linecap="round" fill="none"/><path d="M392.3 561.2h0" stroke="#673df8" stroke-width="2.9" stroke-linecap="round" fill="none"/><path d="M391.5 537.8h0" stroke="#0000ff" stroke-width="2.9" stroke-linecap="round" fill="none"/><path d="M393.4 575.6h0M396 584.7h0M399.6 539.7h0M402.4 567.5h0M392.2 550.9h0M387.4 542.3h0M387.6 575.6h0M390.3 538.4h0M400.8 545.5h0M390.6 583.5h0M395.4 538.4h0M392.1 531.8h0M386.6 573h0M393.2 581.8h0M371.2 536.5h0M387.7 580.5h0M391.8 567.3h0M401.3 584.3h0M401.7 584.7h0M394.2 562.4h0M390.2 545.4h0M386 557.9h0M399.1 562.7h0M394.1 533.1h0M392.2 585.3h0M393.9 580.6h0M393.9 574.1h0M387.9 528.5h0M393.2 571.1h0M395.8 541.2h0M387.8 534.2h0M397 585.5h0M397.6 546.1h0M401.2 567.9h0M389.1 577.8h0M399 557.5h0M395.2 586.8h0M401.4 577.5h0M394.1 549.8h0M401 560.1h0M387.5 554.5h0M384.6 549.9h0M394.5 554.4h0M394.9 546h0M391.4 546.5h0M395.8 567.4h0M370.7 535.3h0M403.3 552.8h0M389.2 534.7h0M396.9 528.7h0M389.7 583.6h0M384.4 529.9h0M395.5 561.3h0M391.5 582.2h0M394.5 578.3h0M401.6 578.8h0M392.5 569.1h0M384.3 540.7h0M391.2 576.8h0M404.6 579.1h0M388.6 541h0M393.7 552.5h0M385 531.7h0M388.8 536.5h0M386.7 551.2h0M396.2 581.9h0M397.2 546.5h0M391.5 577h0M400.7 539.9h0M392.9 543.4h0M383.8 557.2h0M385.5 532.6h0M392.9 558.9h0M393.4 584.9h0M389.7 578.9h0M402.9 578.3h0M386.5 561h0M390 560.3h0M395.2 574.6h0M384.1 540.7h0M388.2 576.6h0M398.4 556.9h0M387 553h0M402.4 552.9h0M377.9 537.6h0M391.3 579.2h0M401.4 583.5h0" stroke="#d3d3d3" stroke-width="2.9" stroke-linecap="round" fill="none"/><path d="M394.1 555.2h0M394.3 548h0M388.2 554.3h0M389.4 547.3h0M399.1 558.5h0M399 555.8h0M398.4 561.7h0M390.6 541.9h0M396.3 538.7h0M386.3 526.7h0" stroke="#b69ce3" stroke-width="2.9" stroke-linecap="round" fill="none"/><path d="M400.9 550.7h0M391.7 543.4h0M393.5 566h0M390.3 530.6h0M397.3 540.8h0M392.3 560.5h0M388.2 539.4h0M393.5 543.8h0M390.7 562.9h0M392.1 555.4h0M386.6 554.4h0M392.6 535.5h0" stroke="#aa89e7" stroke-width="2.9" stroke-linecap="round" fill="none"/><path d="M399.3 554h0M390.5 547h0M392.2 544h0M395.9 540.3h0M386.4 530.3h0M388.5 533.9h0M384.5 556.2h0" stroke="#9d77ec" stroke-width="2.9" stroke-linecap="round" fill="none"/><path d="M399.8 556.7h0" stroke="#8e65f0" stroke-width="2.9" stroke-linecap="round" fill="none"/><path d="M391.9 550.4h0M395.2 553.7h0" stroke="#4926fb" stroke-width="2.9" stroke-linecap="round" fill="none"/><path d="M400.6 556.7h0" stroke="#0000ff" stroke-width="2.9" stroke-linecap="round" fill="none"/><path d="M392.9 549.2h0M388.2 576.9h0M385.5 525.7h0M388 580.9h0M390.1 564h0M388 532h0M398.9 550h0M396.1 583.4h0M404.2 566.4h0M393.1 552.2h0M398.5 543.6h0M399.4 585.8h0M403.6 558.6h0M401.9 576.2h0M396.6 579.2h0M397.6 531.4h0M402.7 583h0M389.9 577.8h0M402 572.1h0M388.8 584.6h0M394.8 524.3h0M400.9 585.8h0M390.5 533.9h0M393.7 590.2h0M383.6 542.4h0M399.9 564h0M393.8 588.5h0M393.8 525.7h0M390.1 583.9h0M396 560.4h0M388.3 546.8h0M385.1 537.6h0M392.5 548.1h0M395.7 582.1h0M392.4 561.1h0M389.2 585.5h0M393.8 580.7h0M402.2 560.9h0M389.1 524.2h0M395.1 577.4h0M386.1 574.5h0M394.1 534.6h0M392.9 592.8h0M394.8 545h0M390.9 572.6h0M384.5 550.3h0M397.1 531h0M397.3 547.9h0M397.9 565.4h0M384.1 555.2h0M395.6 562.2h0M390.3 577.3h0M403.6 554.8h0M398.7 544.5h0M400.5 556.3h0M402.4 571.7h0M392.1 586.8h0M403 556.3h0M388 577.5h0M391.7 542.3h0M400.7 579.9h0M387 549.3h0M393.6 584.2h0M402.9 567.8h0M385.5 560.2h0M385.1 574.8h0M390.7 528.1h0M389.3 581.4h0M392.6 584.1h0M386.9 557.9h0M385.9 524.1h0M392.7 537.1h0M397.4 526h0M400.9 558.6h0M392.8 563.9h0M392.7 567.4h0M395.5 534h0M393.5 558.9h0M394.2 577h0M387.7 554.1h0M397.4 584.6h0M391 547h0M394.4 544.2h0M394.1 566.2h0M395.1 554.4h0M395.6 538.8h0M377.6 536.1h0" stroke="#d3d3d3" stroke-width="2.9" stroke-linecap="round" fill="none"/><path d="M402 561.6h0M393.3 558.3h0M401.9 541.1h0M389.1 545.7h0M392.6 538.9h0M399.4 550.8h0M403.4 566.7h0M399.3 551.4h0M401.2 541.3h0M400 552.9h0M401.5 550.1h0M394.5 527.4h0" stroke="#b69ce3" stroke-width="2.9" stroke-linecap="round" fill="none"/><path d="M389.1 544.5h0M386 554.3h0M398 541.6h0M403.9 562.3h0M396.4 537.2h0M393.1 556.1h0M391.8 551.2h0M393.4 550.8h0M398.2 537.8h0M403.1 565.9h0" stroke="#aa89e7" stroke-width="2.9" stroke-linecap="round" fill="none"/><path d="M400.2 546.7h0M391.2 539.6h0M388.3 530.9h0M386.2 533.5h0M395.8 543h0" stroke="#9d77ec" stroke-width="2.9" stroke-linecap="round" fill="none"/><path d="M395 557.7h0M402.1 575.3h0M390.7 562.2h0M394.4 560.4h0M392.3 538.4h0" stroke="#8e65f0" stroke-width="2.9" stroke-linecap="round" fill="none"/><path d="M400.7 552.1h0" stroke="#673df8" stroke-width="2.9" stroke-linecap="round" fill="none"/><path d="M374.6 536.1h0M385.1 547.7h0M390.3 586.7h0M401 546.8h0M384 553.6h0M396.7 577.3h0M391.9 529.7h0M400 576.4h0M383.8 554.5h0M390.3 541.5h0M391.9 570.5h0M384.6 552.1h0M385 561.2h0M396.1 556.1h0M393.6 546.7h0M386.3 556.2h0M397.4 586.8h0M375.3 534.8h0M387.6 581.7h0M403 550.9h0M400.6 586.1h0M385.3 558.2h0M393.1 561.8h0M389.9 569.3h0M392.7 577.3h0M390.7 585.2h0M389.9 579.9h0M397.5 526.5h0M386.2 542.6h0M392.9 524.5h0M388.6 525.2h0M386.1 547.3h0M392.2 590.9h0M395.3 525.9h0M394.4 542.7h0M387.2 525.9h0M398.7 579.7h0M396.9 557h0M390.7 524.1h0M397.8 541.2h0M394.6 528.9h0M395 588h0M396.6 555.2h0M398 559h0M387.2 533h0M390.9 560.2h0M378.1 538.3h0M398.2 582.8h0M392 589.3h0M403.1 582.4h0M389.8 570h0M389.6 546.6h0M396.3 576.6h0M385.8 561.9h0M392.2 530.4h0M398.7 554.4h0M394.6 568.9h0M394.7 562.1h0M403.5 557h0M402.9 580.2h0M401.8 567.6h0M385.6 527.1h0M402.5 558.1h0M387 525h0M389.2 568.9h0M389.8 539h0M392.7 583h0M384.8 549.1h0M404 575.3h0M394.3 586.9h0M370.8 534.9h0M401.8 565.4h0M372.7 535.8h0M391.8 553.3h0M396.4 581.1h0M385.7 551.3h0M394.6 529.5h0M392.7 570.1h0M394.2 566.6h0M387.6 530.2h0M400.3 582.7h0M391.9 536.3h0M388.9 529.5h0M392.5 528.8h0M394 560.4h0M393.3 553.7h0M391.5 562.6h0M399.2 584.5h0M392.6 534.1h0M395 531.8h0M404 575.8h0M394.6 563.8h0M377.3 536.1h0M386.4 548.6h0M399.9 560.7h0" stroke="#d3d3d3" stroke-width="2.9" stroke-linecap="round" fill="none"/><path d="M399.5 538.4h0M400.2 554.2h0M402.2 570.3h0M386.2 538.2h0" stroke="#b69ce3" stroke-width="2.9" stroke-linecap="round" fill="none"/><path d="M396.5 530.6h0M387.2 548.1h0M390.8 544.1h0M403.6 560h0M394.8 559.7h0M402.3 559h0M397.6 551.1h0M385.8 549.6h0M390.9 545.7h0" stroke="#aa89e7" stroke-width="2.9" stroke-linecap="round" fill="none"/><path d="M402.2 545h0M396 545h0M390.8 558.6h0M401.5 566.3h0M387.7 526.5h0M385.7 524.9h0" stroke="#9d77ec" stroke-width="2.9" stroke-linecap="round" fill="none"/><path d="M391.5 560h0M396.4 527.7h0" stroke="#8e65f0" stroke-width="2.9" stroke-linecap="round" fill="none"/><path d="M401.4 556h0M400 541.1h0M401 550.1h0" stroke="#4926fb" stroke-width="2.9" stroke-linecap="round" fill="none"/><path d="M396.3 531.6h0M391.4 584h0M394.5 592h0M388.5 548.5h0M389.2 528.3h0M391.6 565.8h0M391.6 533.5h0M388.7 531.8h0M383.8 528.7h0M396.1 532.5h0M398 578.1h0M395.1 583h0M392.9 544.8h0M393.1 591.5h0M389.6 522.8h0M384.9 573.2h0M392.2 572.9h0M395 580.2h0M394.5 547.3h0M399.6 561.4h0M388.3 575.1h0M389.1 578.4h0M383.8 555.9h0M393.8 583.5h0M390.4 548.9h0M393.8 570.8h0M399.2 577.6h0M384.1 526.5h0M396.1 587.7h0M388.5 532.6h0M399.1 580h0M387.8 555.5h0M393.5 527.1h0M402.2 551.5h0M397 545.6h0M396.8 546.8h0M373.3 536.1h0M394.5 570.5h0M395 564.7h0M387.6 528.1h0M391.8 561.6h0M393.1 576.6h0M387.2 572.3h0M403.1 551.6h0M387.3 577.5h0M402.6 560.3h0M390 582.5h0M384.2 538.3h0M401.2 576.3h0M385.7 528.4h0M385.9 572h0M394.7 590h0M396.1 570.3h0M390 572.7h0M393.4 589.5h0M387.2 541.7h0M398.4 551.2h0M395.5 584.9h0M394.8 578.7h0M397.5 528h0M404.5 575.2h0M391.4 548.7h0M392.1 575h0M393.5 562.4h0M395.3 572.7h0M376.1 538.7h0M397.5 548.9h0M388 583.7h0M391 526.9h0M394.6 538.5h0M395 534h0M401.6 570.6h0M402.3 578.4h0M384.7 561.7h0M386.5 558.7h0M394.4 541.8h0M372.7 537.7h0M393 525.2h0M389.7 576.4h0M390.9 580.5h0M394.2 568.3h0M391.5 526.3h0M387.1 571.6h0M389.4 578.8h0M392.3 579.6h0M390.1 543.1h0M391.2 569.1h0M390 525.1h0M388.5 582.4h0M393.4 587h0M395.1 546.8h0M397.3 586.6h0M385.3 553.5h0M387.8 537.8h0M391.9 574.3h0" stroke="#d3d3d3" stroke-width="2.9" stroke-linecap="round" fill="none"/><path d="M399 538.6h0M401.8 546.2h0M396.1 551.6h0M392.6 523.2h0M390.1 547.8h0" stroke="#b69ce3" stroke-width="2.9" stroke-linecap="round" fill="none"/><path d="M396.1 543.8h0M390.3 578.4h0M396 527h0M390.6 566.8h0M400.6 562.6h0M388.6 526.6h0M391.7 552.4h0M399.2 542h0" stroke="#aa89e7" stroke-width="2.9" stroke-linecap="round" fill="none"/><path d="M402.5 557.1h0M390.4 534.8h0M398.1 555.8h0" stroke="#9d77ec" stroke-width="2.9" stroke-linecap="round" fill="none"/><path d="M398.6 549.6h0M399.2 552.4h0M389.3 543.1h0M393.8 556.3h0M396.1 561h0" stroke="#8e65f0" stroke-width="2.9" stroke-linecap="round" fill="none"/><path d="M397 539.9h0M396.3 559.2h0" stroke="#673df8" stroke-width="2.9" stroke-linecap="round" fill="none"/><path d="M399.4 561.9h0" stroke="#4926fb" stroke-width="2.9" stroke-linecap="round" fill="none"/><path d="M389.3 523.3h0M392.2 564.8h0M399 544.8h0M394 551.4h0M375.2 537.7h0M390.8 559.8h0M399.9 567.8h0M392.8 531.3h0M386.4 532.9h0M394.7 590.6h0M392.9 574.1h0M388.5 571.5h0M395.4 550.2h0M394.2 565.3h0M384.6 558.8h0M402.4 579.9h0M385.7 571.6h0M399.8 559.6h0M397.6 582.6h0M393.8 573.7h0M393.5 582.7h0M394 576.8h0M398.9 586.6h0M396.2 552.6h0M404.1 581.7h0M392.2 560.5h0M400.7 557.7h0M396 572.6h0M393.4 532.5h0M396.4 529.7h0M384.3 546.8h0M386.4 531.9h0M397.3 554.8h0M391.5 539.4h0M385.3 528.9h0M388 578.9h0M398.3 553.7h0M385.6 537.3h0M392.4 529.4h0M391.8 564.3h0M397.4 561.5h0M404.1 568.6h0M390.6 580.9h0M383.4 539.4h0M389.9 577.5h0M374.7 537.6h0M397.1 544.4h0M398.3 560h0M399.9 577.4h0M388.3 572.2h0M401.4 569.4h0M393.8 528.2h0M382.8 543.4h0M390.3 574.2h0M399.6 580.9h0M399.6 544.6h0M386.1 575.5h0M392.1 525.1h0M394.9 581h0M391.8 588.1h0M397.7 579.6h0M391.7 561.2h0M387.5 551.7h0M390.7 586.7h0M390.8 567.7h0M390.4 571.5h0M383.9 559.9h0M398.6 585.1h0M401.4 544h0M397.3 584.3h0M399.4 548.8h0M387.2 543.1h0M400.5 577.7h0M395.2 575.5h0M403.5 570.9h0M393 547.3h0M396.1 548.7h0M391.5 528.5h0M396.2 525h0M373.8 534.8h0M388.4 579.1h0M388.3 547.5h0M402.8 561.2h0M394.6 575.5h0M388.3 546.3h0M393.8 539.5h0M402.1 553.6h0M395.2 569.1h0M383.5 549.3h0M396.8 577.7h0M401 578.9h0M375.2 535.9h0M393.4 572.1h0M402.6 565.1h0M401.1 555h0M399.9 582.8h0M403.3 582.8h0M391.3 571.2h0M386.1 552.9h0M395.5 587.2h0M395.4 562.6h0M395.4 562.1h0" stroke="#d3d3d3" stroke-width="2.9" stroke-linecap="round" fill="none"/><path d="M396.9 557.7h0M399.8 567.4h0M391.4 537.4h0" stroke="#b69ce3" stroke-width="2.9" stroke-linecap="round" fill="none"/><path d="M387.4 524.1h0M382.8 541.8h0M384.5 539.9h0M402.5 550.8h0" stroke="#aa89e7" stroke-width="2.9" stroke-linecap="round" fill="none"/><path d="M394.2 550.1h0M387.9 534.6h0" stroke="#9d77ec" stroke-width="2.9" stroke-linecap="round" fill="none"/><path d="M383.3 551.9h0M389.7 546.6h0M380.6 540.8h0M392.8 559.9h0M394.1 553.1h0" stroke="#8e65f0" stroke-width="2.9" stroke-linecap="round" fill="none"/><path d="M393.4 546.1h0M397.5 541.6h0" stroke="#673df8" stroke-width="2.9" stroke-linecap="round" fill="none"/><path d="M394 562.1h0" stroke="#4926fb" stroke-width="2.9" stroke-linecap="round" fill="none"/></g>
<text x="386.3" y="516.6" font-size="11.1" font-weight="bold" font-style="italic" fill="#111" text-anchor="middle" >dact3a</text>
<g><path d="M478 523.5h0M483.4 528.7h0M480.3 528.2h0M483.8 586.6h0M482.6 587.7h0M481.1 528.9h0M477 539.8h0M487.4 564.5h0M475.6 540.5h0M485.3 548.3h0M479.1 567.7h0M477.6 535.2h0M474.3 537.8h0M474 554.5h0M483.5 539.9h0M490.5 575.3h0M479 581.6h0M482.6 561h0M480.7 550.1h0M481.4 527h0M478 560h0M483.3 529.6h0M480.7 562.4h0M473 561h0M484.6 555.8h0M481.3 524.3h0M474.1 575.6h0M478 537.8h0M474.2 526.5h0M487.2 539.9h0M457.3 534.9h0M481.1 563.8h0M460.3 534.8h0M471.8 562.7h0M472 525.7h0M471.7 557.1h0M479.3 531.3h0M488.8 578.4h0M476.3 539h0M482.2 582.1h0M487.1 586.1h0M473.7 533h0M488.7 555.3h0M480.5 540.4h0M480 582.7h0M471.2 561.7h0M474.9 579.1h0M488.5 572.1h0M479 548.1h0M476.4 569.3h0M478.8 561.2h0M479.9 584.9h0M481.3 559.7h0M482.9 538.3h0M478.1 565.8h0M477.7 569.1h0M488.7 570.3h0M482.5 527h0M461.7 535.9h0M474.8 546.8h0M477.4 580.5h0M478.7 528.1h0M483.8 584.3h0M471.1 549.9h0M477.7 576.8h0M489.6 569.4h0M475.8 543.1h0M481.2 590.6h0M474.2 554.1h0M487.5 578.9h0M491 575.2h0M487.2 579.9h0M475 582.4h0M477.1 580.9h0M479.1 538.9h0M486.4 577.4h0M484 526.5h0M483.6 531h0M473.9 524.1h0M478 539.4h0M479.4 543.4h0M486.8 582.7h0M463.8 536.1h0M459.8 536.1h0M473.6 571.6h0M481 554.4h0M475.1 525.2h0" stroke="#d3d3d3" stroke-width="2.9" stroke-linecap="round" fill="none"/><path d="M482.9 537.2h0M486.7 554.2h0M484.9 561.7h0M483.6 544.4h0M482.8 559.2h0M472.9 548.6h0M477.4 560.2h0M489.6 551.6h0M470.3 555.9h0" stroke="#b69ce3" stroke-width="2.9" stroke-linecap="round" fill="none"/><path d="M479.4 574.1h0M481 570.5h0M480.5 562.1h0M481.6 546.8h0" stroke="#aa89e7" stroke-width="2.9" stroke-linecap="round" fill="none"/><path d="M473.5 551h0M483.3 543.3h0M490.1 578.9h0M478.9 561.1h0M484.8 560h0M485.1 549.6h0M484 548.9h0M484.6 545h0M486.7 562.3h0M477.5 547h0" stroke="#9d77ec" stroke-width="2.9" stroke-linecap="round" fill="none"/><path d="M475.6 544.5h0M479.9 575.6h0M479.1 542.1h0M476.8 541.5h0M474.7 554.3h0" stroke="#8e65f0" stroke-width="2.9" stroke-linecap="round" fill="none"/><path d="M472.6 552.9h0M472 560.2h0M480.1 546.7h0" stroke="#673df8" stroke-width="2.9" stroke-linecap="round" fill="none"/><path d="M489.5 550.9h0M488.8 559h0" stroke="#0000ff" stroke-width="2.9" stroke-linecap="round" fill="none"/><path d="M485 543.6h0M488.3 585.9h0M480 562.4h0M472.8 526.7h0M479.6 576.6h0M475.7 528.3h0M487.4 550.7h0M465.4 537.6h0M478.2 552.4h0M480.2 590.2h0M486.9 542h0M476.5 528.3h0M476.4 577.8h0M489.9 566.7h0M481.4 546h0M472.8 530.8h0M472.7 533.5h0M478.4 574.3h0M470.3 557.2h0M484.5 559h0M485.6 563.8h0M461.7 537.7h0M471.5 531.7h0M484.7 582.8h0M477.3 559.8h0M475.3 536.5h0M476.2 576.4h0M478.5 589.3h0M476.2 583.6h0M474.5 532h0M478.7 572.9h0M491.3 581.3h0M459.2 537.7h0M491.3 578.6h0M487.3 545.5h0M476.2 560.6h0M457.7 536.5h0M480.7 565.3h0M472.6 525.4h0M461.2 537.6h0M474.7 576.6h0M479.6 556.1h0M489.8 582.8h0M478.3 553.3h0M487.7 541.3h0M474 551.7h0M473.4 557.9h0M488.6 575.3h0M485.4 550h0M480.3 580.7h0M487.8 584.3h0M477.7 539.6h0M479 528.8h0M464.6 538.3h0M486.1 544.6h0M477.5 526.9h0M478.4 529.7h0M478 528.5h0M477.1 583.5h0M487.9 583.5h0M478.9 529.4h0M478.2 542.3h0M483.9 584.6h0M470.6 526.5h0M475.8 523.3h0M472.2 528.4h0M489.1 565.1h0M477.2 585.2h0M473.7 541.7h0M480.5 540.8h0M472.1 537.3h0M476.6 543.1h0M479.1 523.2h0M476.1 522.8h0M472.5 554.3h0M479.9 589.5h0M490.6 581.7h0M473.9 542.3h0M480.5 576.8h0M485.6 580h0M479.7 581.8h0M480.9 541.8h0M478 562.6h0M472.7 542.6h0M482.6 548.7h0M466.4 538.9h0M475.9 576.7h0M482.6 583.4h0M483.3 577.7h0M486.4 567.8h0M479.2 583h0M484.4 565.4h0M482.9 527.7h0M486 538.4h0M485.2 579.7h0M472.9 531.9h0M470.8 552.5h0" stroke="#d3d3d3" stroke-width="2.9" stroke-linecap="round" fill="none"/><path d="M481.9 550.2h0M478.3 551.2h0M480.6 553.1h0M488.2 546.3h0M486.3 556.7h0M477.1 574.8h0" stroke="#b69ce3" stroke-width="2.9" stroke-linecap="round" fill="none"/><path d="M481.7 553.7h0M489.8 584.4h0M487.9 544h0M480.6 555.2h0" stroke="#aa89e7" stroke-width="2.9" stroke-linecap="round" fill="none"/><path d="M487.5 550.1h0M488.9 552.9h0M480.6 549.8h0M475.6 545.7h0M471.6 574.8h0M490.1 558.6h0" stroke="#9d77ec" stroke-width="2.9" stroke-linecap="round" fill="none"/><path d="M481.3 545h0M486.1 561.4h0M475.6 578.4h0" stroke="#8e65f0" stroke-width="2.9" stroke-linecap="round" fill="none"/><path d="M485.5 538.6h0M488.7 545h0" stroke="#673df8" stroke-width="2.9" stroke-linecap="round" fill="none"/><path d="M483.4 557h0M474.8 547.5h0" stroke="#4926fb" stroke-width="2.9" stroke-linecap="round" fill="none"/><path d="M477.3 544.1h0M484.7 537.8h0M482.6 556.1h0M471 556.2h0M476.7 545.4h0M470.5 553.6h0M475.9 527.6h0M484 528h0M485.1 580.8h0M483.4 580h0M490.7 566.4h0M473.1 573h0M479.9 532h0M474.1 528.1h0M478 582.2h0M487.7 543.3h0M478.7 544h0M474.5 577.5h0M481.6 583h0M474.8 572.2h0M478.6 578.4h0M479.7 587.4h0M478.2 543.4h0M487.1 562.6h0M481 592h0M481 527.4h0M479.9 587h0M482.9 529.7h0M480.6 566.2h0M480.9 542.7h0M470.3 554.5h0M486.2 579.2h0M481.1 529.5h0M474.7 576.9h0M487.7 567.9h0M488.1 578.8h0M487.4 585.8h0M480 558.9h0M487 581.1h0M489 564.3h0M488.7 551.5h0M477 530.3h0M485.4 586.6h0M484.5 578.1h0M488.9 571.7h0M475.8 581.4h0M473.5 553h0M479.1 535.5h0M471.6 537.6h0M473.1 554.4h0M485.9 550.8h0M478.9 564.5h0M484.5 539.6h0M486.5 552.9h0M475.6 524.2h0M470.4 559.9h0M475.3 584.6h0M475.5 530.5h0M469 543.1h0M478.8 560.5h0M477.9 584h0M481.8 572.7h0M473 558.7h0M482.5 545h0M482.1 567.7h0M483.5 585.5h0M484.1 546.1h0M480.7 568.3h0M489.2 583h0M481.5 564.7h0M488 566.3h0M473.7 525.9h0M482.3 567.4h0M475.1 537.3h0M482 534h0M475.4 580h0M475 548.5h0M475 571.5h0M490.1 577h0M472.3 549.6h0M475.1 526.6h0M469.9 539.4h0M486.3 559.6h0M488.9 567.5h0M482.8 538.7h0M490.9 575.9h0M472.6 547.3h0M479.9 546.1h0M478.8 538.4h0M482 587.2h0" stroke="#d3d3d3" stroke-width="2.9" stroke-linecap="round" fill="none"/><path d="M482.1 562.2h0M484.3 557.6h0M488.7 560.9h0M471.8 553.5h0" stroke="#b69ce3" stroke-width="2.9" stroke-linecap="round" fill="none"/><path d="M484 541.6h0M477.3 558.6h0M481.9 562.1h0M474.8 570.5h0M481.5 580.2h0M478.7 590.9h0" stroke="#aa89e7" stroke-width="2.9" stroke-linecap="round" fill="none"/><path d="M469.3 543.4h0M490.1 560h0M478.3 564.3h0M476.8 577.3h0M473.7 572.3h0M477.3 567.7h0M480.9 560.4h0M479.8 558.3h0M472.5 557.9h0M472.2 571.6h0" stroke="#9d77ec" stroke-width="2.9" stroke-linecap="round" fill="none"/><path d="M483.5 545.6h0M476.3 570h0M477.2 562.9h0M472.2 551.3h0" stroke="#8e65f0" stroke-width="2.9" stroke-linecap="round" fill="none"/><path d="M487.2 557.7h0" stroke="#673df8" stroke-width="2.9" stroke-linecap="round" fill="none"/><path d="M472.3 561.9h0M478.2 561.2h0M486.4 560.7h0M485.5 555.8h0" stroke="#4926fb" stroke-width="2.9" stroke-linecap="round" fill="none"/><path d="M479.5 558.5h0" stroke="#0000ff" stroke-width="2.9" stroke-linecap="round" fill="none"/><path d="M478.8 579.6h0M473.5 525h0M483.3 546.8h0M472.4 524.1h0M479.6 552.2h0M488.3 546.2h0M481.2 579.4h0M477.9 576.4h0M471.3 549.1h0M478.4 536.3h0M485.9 585.8h0M488.6 582.6h0M485.7 566h0M481.6 554.4h0M474.3 534.2h0M480.3 536.4h0M470.6 555.2h0M484.1 551.1h0M478 577h0M482.9 528.3h0M479.9 532.5h0M471 539.9h0M478.3 588.1h0M480.3 573.7h0M483.2 577.3h0M469.8 551.9h0M490 570.9h0M476.6 547.8h0M481.2 571.9h0M479 569.1h0M470.3 528.7h0M488.5 561.6h0M485.1 585.1h0M478.7 585.3h0M479.6 591.5h0M477.3 548.5h0M481.2 590h0M482.6 543.8h0M477.9 537.4h0M474.8 530.9h0M476.6 583.9h0M464.4 537.6h0M482.3 543h0M472.1 527.1h0M481.6 577.4h0M482.5 584.7h0M474.4 534.6h0M470.1 542.4h0M488.9 579.9h0M481.9 538.4h0M483.9 586.8h0M490.6 568.6h0M481.1 538.5h0M479.3 559.9h0M474.5 578.9h0M475 532.6h0M482.7 571.4h0M475 533.9h0M481.7 574.6h0M475.4 529.5h0M476.2 578.9h0M480.6 530.6h0M484.1 531.4h0M481.7 569.1h0M475.3 538.4h0M489.4 578.3h0M472.7 538.2h0M482.7 525h0M486.1 580.9h0M478.7 564.8h0M477.9 546.5h0M474.1 530.2h0M474.1 573.9h0M461.4 535.1h0M486.5 541.1h0M475.7 534.7h0M470.8 540.7h0M472 532.6h0M471.1 552.1h0M478.6 531.8h0M472.9 527.5h0M476.4 579.9h0M487 556.3h0M480 543.8h0M486.1 539.7h0M476.5 525.1h0M490.1 557.8h0M481.5 531.8h0M486.5 576.4h0M480.3 583.5h0M480.3 539.5h0" stroke="#d3d3d3" stroke-width="2.9" stroke-linecap="round" fill="none"/><path d="M479.5 554.4h0M478.7 560.5h0M486.7 546.7h0M479.9 572.1h0M482.6 551.6h0M478.7 550.9h0M484.7 551.4h0" stroke="#b69ce3" stroke-width="2.9" stroke-linecap="round" fill="none"/><path d="M487.7 562.9h0M478.4 570.5h0M472.6 575.5h0M473.5 549.3h0M476.5 560.3h0M480.3 556.3h0" stroke="#aa89e7" stroke-width="2.9" stroke-linecap="round" fill="none"/><path d="M485.2 554.4h0M487.9 569.4h0M479.2 570.1h0M477.4 545.7h0M483.1 555.2h0M480.9 544.2h0M489 557.1h0M489.1 560.3h0" stroke="#9d77ec" stroke-width="2.9" stroke-linecap="round" fill="none"/><path d="M473.7 570.1h0M490 557h0M485.7 552.4h0" stroke="#8e65f0" stroke-width="2.9" stroke-linecap="round" fill="none"/><path d="M477.8 549h0" stroke="#4926fb" stroke-width="2.9" stroke-linecap="round" fill="none"/><path d="M475.9 547.3h0M476.5 559.2h0M482.4 549.8h0" stroke="#0000ff" stroke-width="2.9" stroke-linecap="round" fill="none"/><path d="M482 584.9h0M480.3 525.7h0M471.8 558.2h0M483.7 546.5h0M478 526.3h0M477.1 541.9h0M488.3 565.4h0M467.1 540.8h0M490.5 575.8h0M486.7 568.8h0M472.2 524.9h0M484.2 579.6h0M478.4 550.4h0M480.7 577h0M474.5 583.7h0M477.2 586.7h0M464.1 536.1h0M482.3 541.2h0M471.6 547.7h0M485.7 577.6h0M480.4 580.6h0M483.1 579.2h0M483.8 547.9h0M479.2 567.4h0M490.4 562.3h0M483.8 554.8h0M482.8 531.6h0M474.3 555.5h0M476.8 586.7h0M476.4 577.5h0M489.4 567.8h0M471.5 561.2h0M457.2 535.3h0M481.1 568.9h0M482.8 576.6h0M476.5 572.7h0M489.4 580.2h0M475.7 568.9h0M486.5 565.6h0M480.8 586.9h0M469.3 541.8h0M475.2 531.8h0M487 577.7h0M482.1 538.8h0M479.1 584.1h0M484.5 541.6h0M485.9 548.8h0M471.8 528.9h0M479.1 534.1h0M479.5 525.2h0M481.3 578.7h0M479.7 571.1h0M479.5 547.3h0M475.6 577.8h0M461.1 536.1h0M474.1 581.7h0M478.6 555.4h0M481.5 588h0M481.8 525.9h0M487.7 571.3h0M470.7 538.3h0M482.7 581.9h0M479.2 577.3h0M474.7 539.4h0M476.9 525.6h0M474.8 575.1h0M485.9 561.9h0M479.7 588h0M484.7 577.6h0M478.7 530.4h0M486.4 564h0M479.6 561.8h0M486.1 547h0M476.8 578.4h0M479.4 558.9h0M481.7 586.8h0M462.8 536.9h0M484.1 582.6h0M470.8 546.8h0M482.4 540.3h0M487.5 560.1h0M483 530.6h0M480.8 548h0M487.9 577.5h0M473.8 577.5h0" stroke="#d3d3d3" stroke-width="2.9" stroke-linecap="round" fill="none"/><path d="M474.5 548.5h0M484.8 553.7h0M480.2 552.5h0M481.9 562.6h0M490.1 554.8h0M485.6 562.7h0M487.4 558.6h0M489.3 561.2h0" stroke="#b69ce3" stroke-width="2.9" stroke-linecap="round" fill="none"/><path d="M485.8 551.4h0M472.6 574.5h0M484.9 556.9h0M481 547.3h0M479.8 553.7h0M477.4 572.6h0M481.2 562.1h0" stroke="#aa89e7" stroke-width="2.9" stroke-linecap="round" fill="none"/><path d="M484.6 547h0M481.7 575.5h0M471.4 573.2h0M480.5 560.4h0M478.7 567.7h0M479.2 537.1h0M475.1 542.1h0M478.3 567.3h0" stroke="#9d77ec" stroke-width="2.9" stroke-linecap="round" fill="none"/><path d="M477.1 566.8h0M485.5 544.8h0M476.9 548.9h0M477.2 562.2h0M489.8 552.8h0M477.9 548.7h0" stroke="#8e65f0" stroke-width="2.9" stroke-linecap="round" fill="none"/><path d="M485.5 557.5h0" stroke="#673df8" stroke-width="2.9" stroke-linecap="round" fill="none"/><path d="M489 550.8h0M477 547h0M482.5 560.4h0" stroke="#4926fb" stroke-width="2.9" stroke-linecap="round" fill="none"/><path d="M489.5 556.3h0" stroke="#0000ff" stroke-width="2.9" stroke-linecap="round" fill="none"/><path d="M473.7 548.1h0M471.1 558.8h0M478.6 586.8h0M488.4 541.1h0M482.6 570.3h0M477.2 572.1h0M485.8 554h0M488.3 567.6h0M487.9 556h0M477.8 571.2h0M486.4 582.8h0M479.1 535.5h0M481.1 575.5h0M478.6 533.4h0M475.1 541h0M476.2 546.6h0M489.6 582.4h0M473.7 543.1h0M478.6 525.1h0M480.3 570.8h0M480.6 533.1h0M475.9 578.8h0M481.5 534h0M479.3 563.9h0M482.2 541.8h0M472.8 556.2h0M486.1 583.6h0M461.8 534.8h0M484.9 551.2h0M476.6 564h0M486.4 543.4h0M488.1 570.6h0M485.2 538.7h0M476.8 530.6h0M481 578.3h0M487.6 555h0M478.4 526h0M482.6 532.5h0M480.4 574.1h0M480.3 588.5h0M474.7 574.7h0M477.1 561.2h0M480.1 584.2h0M487.7 576.3h0M473.2 551.2h0M491.1 579.1h0M487.5 546.8h0M472.9 530.3h0M475.7 585.5h0M483.8 540.8h0M485.7 584.5h0M489.2 581.4h0M471 550.3h0M484.6 566h0M474.2 580.5h0M488.2 584.7h0M477.8 579.2h0M480 527.1h0M479.4 544.8h0M480 566h0M478.1 533.5h0M485.6 558.5h0M476.8 538.4h0M474.4 528.5h0M477.3 578.3h0M480.6 534.6h0M483.9 526h0M488.4 576.2h0M488 550.1h0M476.5 582.5h0M477.2 528.1h0M472.4 572h0M482.9 581.1h0M476.9 534.8h0M480.7 566.6h0M474.5 580.9h0M488.6 553.6h0M476.9 571.5h0M477 533.9h0M470.6 540.7h0M481.4 581h0M459.2 535.8h0M470.9 529.9h0M479.9 550.8h0M485.7 542h0M486.3 567.4h0M478.6 575h0M478.3 561.6h0M476.1 546.6h0M479.4 592.8h0M477.2 524.1h0M472.9 532.9h0M462.6 538.7h0M479.4 524.5h0M481.8 565.9h0" stroke="#d3d3d3" stroke-width="2.9" stroke-linecap="round" fill="none"/><path d="M480.5 551.4h0M483.6 550.4h0M473.9 572.8h0M482.5 572.6h0M474.8 546.3h0M476.2 566.4h0" stroke="#b69ce3" stroke-width="2.9" stroke-linecap="round" fill="none"/><path d="M484.3 541.2h0M490.2 562.8h0M479.4 549.2h0M481.5 557.7h0M489.6 565.9h0M483.4 557.7h0M489.7 553.5h0" stroke="#aa89e7" stroke-width="2.9" stroke-linecap="round" fill="none"/><path d="M485.2 544.5h0M479.5 557.1h0M482 561.3h0M483.9 561.5h0M482.7 552.6h0" stroke="#9d77ec" stroke-width="2.9" stroke-linecap="round" fill="none"/><path d="M476.8 574.2h0M470 549.3h0" stroke="#8e65f0" stroke-width="2.9" stroke-linecap="round" fill="none"/><path d="M480.2 561.5h0" stroke="#673df8" stroke-width="2.9" stroke-linecap="round" fill="none"/><path d="M487.2 552.1h0M489 558.1h0" stroke="#4926fb" stroke-width="2.9" stroke-linecap="round" fill="none"/><path d="M487.1 556.7h0" stroke="#0000ff" stroke-width="2.9" stroke-linecap="round" fill="none"/></g>
<text x="473.3" y="516.6" font-size="11.1" font-weight="bold" font-style="italic" fill="#111" text-anchor="middle" >sfrp5</text>
<g><path d="M562.5 549.6h0M570.8 530.6h0M572.3 562.2h0M580.7 575.3h0M566.1 527.6h0M579.1 571.7h0M570.1 589.5h0M576.6 582.8h0M575.9 584.5h0M570.2 582.7h0M578.1 544h0M571.1 541.8h0M571.8 546.8h0M572.2 561.3h0M566.8 583.9h0M579.4 581.4h0M561 540.7h0M571.2 554.4h0M566.6 579.9h0M567 586.7h0M575.8 558.5h0M563.9 533h0M574 554.8h0M576.3 561.4h0M561.4 561.7h0M567.7 526.9h0M581.5 581.3h0M564.4 580.5h0M568.2 528.5h0M566.4 583.6h0" stroke="#d3d3d3" stroke-width="2.9" stroke-linecap="round" fill="none"/><path d="M576.1 561.9h0M572.8 548.7h0M573.9 546.5h0M576.3 547h0M574.9 582.8h0M567.2 530.3h0M570.5 528.2h0M567.4 562.2h0M577.2 577.7h0M565.3 526.6h0M579.8 565.9h0M572.8 551.6h0M575.4 544.5h0" stroke="#b69ce3" stroke-width="2.9" stroke-linecap="round" fill="none"/><path d="M569.2 528.8h0M567.4 528.1h0M573.6 528.7h0M565.3 541h0M571.5 545h0M560.5 528.7h0M580.4 562.8h0M565.9 585.5h0M576.9 562.3h0M564.5 537.8h0M577.4 579.9h0M575.3 585.1h0M568.9 528.1h0M569.3 535.5h0" stroke="#aa89e7" stroke-width="2.9" stroke-linecap="round" fill="none"/><path d="M568.4 561.2h0M567.7 547h0M578.6 541.1h0M578.3 570.6h0M577.1 542h0M569.4 570.1h0M567.1 548.9h0M580.7 575.8h0M576.1 550.8h0M578.9 545h0M566.5 570h0M569.4 537.1h0M573.1 528.3h0M573.6 557h0M563.9 525.9h0M561.5 549.1h0M566.9 545.4h0M564.6 534.6h0M574 586.6h0" stroke="#9d77ec" stroke-width="2.9" stroke-linecap="round" fill="none"/><path d="M565.6 529.5h0M564.7 548.5h0M574.2 526.5h0M569.3 538.9h0M568.4 552.4h0M567.1 525.6h0M574.7 539.6h0M570.4 590.2h0M571.7 564.7h0M576.4 579.2h0M575 553.7h0M571.3 528.9h0M569.7 554.4h0M581.5 578.6h0" stroke="#8e65f0" stroke-width="2.9" stroke-linecap="round" fill="none"/><path d="M563.8 571.6h0M561.7 561.2h0M562.4 571.6h0M562.2 532.6h0M565.7 530.5h0M565.1 579.1h0M573.4 577.3h0M571.9 569.1h0M567.5 559.8h0M564.3 575.6h0M571.5 559.7h0M571.3 563.8h0M566.4 566.4h0M563.9 572.3h0M576.3 583.6h0M570.5 556.3h0" stroke="#673df8" stroke-width="2.9" stroke-linecap="round" fill="none"/><path d="M561.2 539.9h0M568.5 564.3h0M559.2 543.1h0M569.9 588h0M578.4 584.7h0M569.9 571.1h0M564.4 554.1h0M564.9 576.9h0M570.9 568.3h0M569.2 569.1h0" stroke="#4926fb" stroke-width="2.9" stroke-linecap="round" fill="none"/><path d="M571.6 546h0M570.5 570.8h0M571.4 590h0M578.1 556h0" stroke="#0000ff" stroke-width="2.9" stroke-linecap="round" fill="none"/><path d="M571.2 527.4h0M568.8 578.4h0M561.1 529.9h0M577.7 546.8h0M580 584.4h0M577.9 543.3h0M575.9 542h0M578.3 578.8h0M577.6 550.7h0M562 553.5h0M578.4 546.3h0M581.3 579.1h0M575.1 561.7h0M574 540.8h0M579.8 569.4h0M569 561.2h0M562.4 524.9h0M576.5 559.6h0M568.9 530.4h0M576.5 556.7h0M578.9 555.3h0M577.7 578.9h0M571.9 553.7h0M570.8 534.6h0M577.6 558.6h0M573.5 529.6h0M570.1 584.9h0M553 536.9h0M570.4 552.5h0M571.5 578.7h0M570.5 583.5h0M573.1 529.7h0M572.1 550.2h0M577.4 557.7h0M572 525.9h0M573.1 537.2h0M568.6 536.3h0" stroke="#d3d3d3" stroke-width="2.9" stroke-linecap="round" fill="none"/><path d="M574.1 586.8h0M579.3 565.1h0M568.4 543.4h0M577.9 541.3h0M564.1 524.1h0M573.2 530.6h0M570.9 550.1h0M571.6 527h0M580.2 570.9h0M572.6 540.3h0M575 560h0M574.5 541.2h0M575.9 577.6h0M571.4 562.1h0" stroke="#b69ce3" stroke-width="2.9" stroke-linecap="round" fill="none"/><path d="M561 552.5h0M575.7 544.8h0M579.6 567.8h0M574.8 545h0M561 546.8h0M567.5 548.5h0M580.8 581.7h0M569.3 534.1h0M559.5 541.8h0M562.8 547.3h0M569 538.4h0M573 559.2h0" stroke="#aa89e7" stroke-width="2.9" stroke-linecap="round" fill="none"/><path d="M573 531.6h0M568.5 588.1h0M579.1 567.5h0M565.2 571.5h0M569.9 581.8h0M562 558.2h0M564.9 554.3h0M574.1 584.6h0M569.7 558.5h0M561.7 531.7h0M569 560.5h0M570.8 549.8h0M565.8 524.2h0M568.1 537.4h0M569.3 523.2h0M572.9 581.9h0M578.2 550.1h0M567.6 545.7h0M563 556.2h0" stroke="#9d77ec" stroke-width="2.9" stroke-linecap="round" fill="none"/><path d="M567 530.6h0M563.1 527.5h0M578.5 567.6h0M565.3 542.1h0M566.8 543.1h0M576.3 539.7h0M568.1 576.4h0" stroke="#8e65f0" stroke-width="2.9" stroke-linecap="round" fill="none"/><path d="M571.3 568.9h0M566.7 572.7h0M570.1 572.1h0M570.6 574.1h0M561.8 574.8h0M567.4 572.1h0M564.7 578.9h0M571.9 575.5h0M577.6 585.8h0M576.7 565.6h0M551.6 535.1h0" stroke="#673df8" stroke-width="2.9" stroke-linecap="round" fill="none"/><path d="M570.7 576.8h0M568.9 564.8h0M562.7 557.9h0M569.5 559.9h0M572.3 567.7h0M576.1 585.8h0M572.1 562.1h0M566.6 569.3h0M561.3 549.9h0M569.8 576.6h0M578.1 577.5h0M574.7 578.1h0M551.9 535.9h0" stroke="#4926fb" stroke-width="2.9" stroke-linecap="round" fill="none"/><path d="M566.4 576.4h0M567 574.2h0M578.9 560.9h0M566.4 578.9h0M570.9 562.4h0M568.2 526.3h0M567 577.3h0" stroke="#0000ff" stroke-width="2.9" stroke-linecap="round" fill="none"/><path d="M570.3 546.7h0M569.7 557.1h0M565.9 528.3h0M565.4 531.8h0M572.8 543.8h0M567.4 585.2h0M568.9 550.9h0M579.1 579.9h0M562.2 525.7h0M575.3 549.6h0M571.1 560.4h0M575.6 550h0M572.9 525h0M570.5 588.5h0M579.4 583h0M566.6 577.8h0M574.3 531.4h0M576.5 567.4h0M569.8 552.2h0M568.5 551.2h0M576.6 560.7h0M576.1 548.8h0M571.7 580.2h0M572.3 538.8h0M576.3 580.9h0M564.2 554.5h0M566 581.4h0M572.4 582.1h0M567.2 539.8h0M565 530.9h0M574.9 537.8h0M570.8 553.1h0M573.5 546.8h0M574 584.3h0" stroke="#d3d3d3" stroke-width="2.9" stroke-linecap="round" fill="none"/><path d="M571.4 579.4h0M565.3 525.2h0M567.3 541.9h0M577.3 562.6h0M572.8 570.3h0M576.7 576.4h0M564.7 580.9h0M578.9 570.3h0M569.8 591.5h0M565.8 540.5h0M563.1 548.6h0M563.1 531.9h0M552 534.8h0M579 578.4h0M577.6 564.5h0M580.1 566.7h0" stroke="#b69ce3" stroke-width="2.9" stroke-linecap="round" fill="none"/><path d="M566.6 577.5h0M565.2 548.5h0M562.4 528.4h0M573.5 577.7h0M570.8 533.1h0M571.6 581h0M579.6 578.3h0M570.1 550.8h0M574.1 526h0M580.3 557.8h0M565.8 544.5h0M572.7 560.4h0M568.8 525.1h0M563.7 525h0M568.8 531.8h0M576.3 544.6h0M570.7 540.4h0M565 546.3h0M573.3 579.2h0M576.7 552.9h0M573.8 544.4h0M572.2 534h0" stroke="#aa89e7" stroke-width="2.9" stroke-linecap="round" fill="none"/><path d="M554.8 538.3h0M572.7 545h0M575.8 563.8h0M578.7 572.1h0M551.3 536.1h0M567.8 535.2h0M571.3 529.5h0M576.7 541.1h0M571.4 590.6h0M572.7 584.7h0M554.3 536.1h0M566.7 560.3h0M572.8 587.7h0M569.2 548.1h0" stroke="#9d77ec" stroke-width="2.9" stroke-linecap="round" fill="none"/><path d="M571.2 570.5h0M573.1 538.3h0M550 536.1h0M562 562.7h0M572.4 541.8h0M570.1 532h0M569.2 581.6h0M562.8 525.4h0M574.4 579.6h0" stroke="#8e65f0" stroke-width="2.9" stroke-linecap="round" fill="none"/><path d="M563.2 561h0M564.9 574.7h0M569.1 561.1h0M561.8 547.7h0M572.2 587.2h0M568.3 565.8h0M565.5 538.4h0M569.3 567.7h0M580.3 558.6h0M561.8 537.6h0M565.5 584.6h0M547.5 534.9h0M567.6 572.6h0M568.8 555.4h0" stroke="#673df8" stroke-width="2.9" stroke-linecap="round" fill="none"/><path d="M570 558.3h0M565.8 578.4h0M571.1 542.7h0M567.1 571.5h0M580.3 577h0M569.4 577.3h0" stroke="#4926fb" stroke-width="2.9" stroke-linecap="round" fill="none"/><path d="M574.3 551.1h0M569.8 561.8h0M568.2 562.6h0M563.7 549.3h0M575.6 586.6h0" stroke="#0000ff" stroke-width="2.9" stroke-linecap="round" fill="none"/><path d="M561.9 557.1h0M560.8 526.5h0M569.6 524.5h0M565.8 577.8h0M569.7 525.2h0M575.4 538.7h0M565.6 580h0M577.2 581.1h0M581.2 575.2h0M566.4 546.6h0M566.7 582.5h0M569.7 547.3h0M560.8 540.7h0M572.9 552.6h0M561.3 552.1h0M578.6 576.2h0M573.7 539.9h0M575.8 562.7h0M567.3 580.9h0M565.8 545.7h0M578.8 553.6h0M568.8 533.4h0M569.5 563.9h0M566.1 547.3h0M555.6 537.6h0M563.7 551h0M569.6 592.8h0M567.2 547h0M578.1 583.5h0M568.3 533.5h0M567.6 580.5h0M556.6 538.9h0M570.8 555.2h0M560.2 549.3h0M576.9 546.7h0M568 571.2h0" stroke="#d3d3d3" stroke-width="2.9" stroke-linecap="round" fill="none"/><path d="M568.1 548.7h0M577.5 545.5h0M564.5 534.2h0M570.2 543.8h0M575.1 556.9h0M570.2 558.9h0M570.5 525.7h0M570.1 575.6h0M569.4 583h0M572.7 527h0M573 576.6h0M566.7 525.1h0M576 551.4h0M577.9 571.3h0M566.1 578.8h0M579 559h0M577.7 550.1h0" stroke="#b69ce3" stroke-width="2.9" stroke-linecap="round" fill="none"/><path d="M563 530.8h0M579.7 550.9h0M568.5 561.6h0M580.2 557h0M575.4 579.7h0M565 546.8h0M579.2 558.1h0M578.2 566.3h0M576 554h0M569.6 549.2h0M570.5 536.4h0M562 528.9h0M572.6 549.8h0M578 584.3h0M572.5 543h0M568.2 523.5h0M569.8 556.1h0M571.3 538.5h0M578.1 569.4h0" stroke="#aa89e7" stroke-width="2.9" stroke-linecap="round" fill="none"/><path d="M574.7 541.6h0M579.2 564.3h0M573.7 585.5h0M561.2 556.2h0M568.6 529.7h0M563.9 543.1h0M565.5 536.5h0M567.3 583.5h0M570.1 532.5h0M580.8 568.6h0M568.4 542.3h0M578.8 582.6h0" stroke="#9d77ec" stroke-width="2.9" stroke-linecap="round" fill="none"/><path d="M570.5 539.5h0M569.9 587.4h0M568 579.2h0M570.4 561.5h0M573.8 550.4h0M549.4 535.8h0M573.1 527.7h0M568.7 589.3h0M560.6 559.9h0M572.5 567.4h0" stroke="#8e65f0" stroke-width="2.9" stroke-linecap="round" fill="none"/><path d="M560.3 542.4h0M563.9 548.1h0M561.2 550.3h0M572.7 572.6h0M573.3 555.2h0M565 570.5h0M566 543.1h0M567 578.4h0M566.8 547.8h0" stroke="#673df8" stroke-width="2.9" stroke-linecap="round" fill="none"/><path d="M562.7 554.3h0M564.9 576.6h0M570.5 573.7h0M565.9 568.9h0M568.5 567.3h0M565 575.1h0M577.4 552.1h0M567.9 539.6h0M571.8 583h0M563.7 553h0M567.5 567.7h0M566.8 564h0" stroke="#4926fb" stroke-width="2.9" stroke-linecap="round" fill="none"/><path d="M569 579.6h0M563.3 573h0M568.8 575h0M570.2 566h0" stroke="#0000ff" stroke-width="2.9" stroke-linecap="round" fill="none"/><path d="M567.2 533.9h0M579.9 553.5h0M577.3 556.7h0M570.6 580.6h0M566.4 560.6h0M571.1 544.2h0M565.2 582.4h0M568.8 586.8h0M572.8 556.1h0M579.8 551.6h0M567.5 578.3h0M577.8 555h0M573.6 557.7h0M569.6 544.8h0M571 586.9h0M578.8 575.3h0M569.5 531.3h0M568.6 526h0M573.8 531h0M575.1 551.2h0M580.6 562.3h0M578.5 546.2h0M568.9 544h0M576.6 567.8h0M564.1 542.3h0M560.9 538.3h0M563 526.7h0M565.2 533.9h0M579.5 561.2h0M574.3 546.1h0M571.9 574.6h0M568.9 590.9h0M576.6 577.4h0M571.7 534h0M574.2 548.9h0M570.7 551.4h0M571.8 577.4h0M571.2 592h0M564.3 530.2h0M575.7 538.6h0M569.3 584.1h0M566.7 528.3h0M564.7 532h0M574 547.9h0" stroke="#d3d3d3" stroke-width="2.9" stroke-linecap="round" fill="none"/><path d="M574.7 559h0M562.3 527.1h0M549.4 537.7h0M579.6 580.2h0M571.2 578.3h0M563.9 541.7h0M572.2 584.9h0M568 549h0M567 541.5h0M562.5 561.9h0M573.5 543.3h0M574.6 565.4h0M568.6 550.4h0M575.9 552.4h0M579.1 552.9h0M566.5 539h0" stroke="#b69ce3" stroke-width="2.9" stroke-linecap="round" fill="none"/><path d="M562.9 542.6h0M571 548h0M572.1 538.4h0M581.1 575.9h0M578.9 551.5h0M571.8 554.4h0M547.9 536.5h0M579.7 556.3h0M575.3 580.8h0M569.3 535.5h0M578.5 585.9h0M568.9 585.3h0" stroke="#aa89e7" stroke-width="2.9" stroke-linecap="round" fill="none"/><path d="M564.3 528.1h0M575.7 557.5h0M575.7 555.8h0M570 553.7h0M570.7 562.1h0M567.1 534.8h0M580 552.8h0M571.9 586.8h0" stroke="#9d77ec" stroke-width="2.9" stroke-linecap="round" fill="none"/><path d="M551.4 537.6h0M564.7 583.7h0M574.8 547h0M563.3 554.4h0M577 582.7h0" stroke="#8e65f0" stroke-width="2.9" stroke-linecap="round" fill="none"/><path d="M565.9 534.7h0M570.2 562.4h0M570.5 580.7h0M559.5 543.4h0M568.5 553.3h0M564.9 539.4h0M563.9 570.1h0M565 572.2h0M566.3 546.6h0M564 577.5h0M564.6 528.5h0M568.6 574.3h0M562.8 575.5h0M571.4 571.9h0" stroke="#673df8" stroke-width="2.9" stroke-linecap="round" fill="none"/><path d="M570.7 560.4h0M570.9 565.3h0M565 547.5h0M577.9 567.9h0M570.8 566.2h0M563.4 551.2h0M567.3 561.2h0M572.8 583.4h0M569.4 567.4h0M564.2 551.7h0M576.6 543.4h0M561.6 573.2h0" stroke="#4926fb" stroke-width="2.9" stroke-linecap="round" fill="none"/><path d="M573.7 545.6h0M560.8 555.2h0M571.5 524.3h0M564.3 573.9h0M567.3 566.8h0M572 572.7h0M575.8 580h0M580.9 566.4h0" stroke="#0000ff" stroke-width="2.9" stroke-linecap="round" fill="none"/><path d="M567.5 544.1h0M572.8 561h0M571.7 557.7h0M577.2 556.3h0M560.5 557.2h0M579.2 550.8h0M575.2 543.6h0M569.6 543.4h0M563.6 557.9h0M577.7 560.1h0M554.6 537.6h0M563.2 558.7h0M576.2 538.4h0M564.7 577.5h0M571.7 531.8h0M574.3 582.6h0M575.9 566h0M568.2 582.2h0M572.5 541.2h0M573.1 581.1h0M571.2 547.3h0M574.2 541.6h0M547.4 535.3h0M567.4 524.1h0M577.3 586.1h0M564.4 526.5h0M570.3 584.2h0M562.9 533.5h0M568.2 537.8h0M573.6 580h0M576.6 564h0M564.3 581.7h0M567.4 586.7h0M569.1 529.4h0M562.6 524.1h0M580.3 578.9h0M574.9 551.4h0M576.9 568.8h0M562.8 552.9h0" stroke="#d3d3d3" stroke-width="2.9" stroke-linecap="round" fill="none"/><path d="M574.5 557.6h0M576.9 554.2h0M560.7 553.6h0M578.5 565.4h0M579.8 582.4h0" stroke="#b69ce3" stroke-width="2.9" stroke-linecap="round" fill="none"/><path d="M580 582.8h0M570.1 587h0M551.9 537.7h0M577.9 562.9h0M565.2 532.6h0M560.1 539.4h0M574.1 561.5h0M562.9 538.2h0M566.3 522.8h0M566.1 576.7h0M560.5 555.9h0M566.7 559.2h0M562.3 537.3h0M579.2 557.1h0M578.7 561.6h0M563.1 532.9h0" stroke="#aa89e7" stroke-width="2.9" stroke-linecap="round" fill="none"/><path d="M575.4 554.4h0M574.2 528h0M550.5 534.8h0M574.8 566h0M577.9 576.3h0M554 536.1h0M579.3 560.3h0M552.8 538.7h0M562.4 551.3h0M572.8 532.5h0M569.3 542.1h0M570.1 546.1h0M570.2 527.1h0M573 538.7h0M568.1 546.5h0" stroke="#9d77ec" stroke-width="2.9" stroke-linecap="round" fill="none"/><path d="M566 523.3h0M580.3 560h0M570.7 540.8h0M563.1 530.3h0M571.7 588h0M580.3 554.8h0M568.2 539.4h0M567 538.4h0" stroke="#8e65f0" stroke-width="2.9" stroke-linecap="round" fill="none"/><path d="M568.9 572.9h0M569.6 574.1h0M577.4 539.9h0M560.5 554.5h0M561.3 558.8h0M572.1 562.6h0M568.2 560h0M557.3 540.8h0M574.8 555.8h0M567.5 558.6h0M562.8 574.5h0M569.1 564.5h0M567.3 574.8h0" stroke="#673df8" stroke-width="2.9" stroke-linecap="round" fill="none"/><path d="M568.1 584h0M568.6 570.5h0M575.5 548.3h0M567.4 562.9h0M567.9 569.1h0M568.2 577h0M568.9 560.5h0M572 565.9h0M560 551.9h0M562.2 560.2h0M564.5 555.5h0M570.9 577h0M562.6 572h0M569.6 558.9h0M572.9 571.4h0M574.9 577.6h0M567.9 576.8h0M567.6 560.2h0M571.3 575.5h0M564.1 572.8h0" stroke="#4926fb" stroke-width="2.9" stroke-linecap="round" fill="none"/><path d="M570.9 566.6h0M565.3 537.3h0M568.9 567.7h0" stroke="#0000ff" stroke-width="2.9" stroke-linecap="round" fill="none"/></g>
<text x="562.8" y="516.6" font-size="11.1" font-weight="bold" font-style="italic" fill="#111" text-anchor="middle" >tcf12</text>
<line x1="269.8" y1="464.0" x2="269.8" y2="492.5" stroke="#555" stroke-width="0.8"/>
<line x1="269.40000000000003" y1="492.5" x2="298.4" y2="492.5" stroke="#555" stroke-width="0.8"/>
<polygon points="269.8,463.0 268.7,465.2 270.90000000000003,465.2" fill="#555"/>
<polygon points="299.4,492.5 297.2,491.4 297.2,493.6" fill="#555"/>
<text transform="translate(266.0,473.9) rotate(-90)" font-size="6.3" text-anchor="middle" fill="#333">UMAP dim. 2</text>
<text x="270.5" y="499.8" font-size="6.3" font-weight="normal" font-style="normal" fill="#333" text-anchor="start" >UMAP dim. 1</text>
<line x1="270.0" y1="570.4" x2="270.0" y2="599.1" stroke="#555" stroke-width="0.8"/>
<line x1="269.6" y1="599.1" x2="298.8" y2="599.1" stroke="#555" stroke-width="0.8"/>
<polygon points="270.0,569.4 268.9,571.6 271.1,571.6" fill="#555"/>
<polygon points="299.8,599.1 297.6,598.0 297.6,600.2" fill="#555"/>
<text transform="translate(266.0,580.5) rotate(-90)" font-size="6.3" text-anchor="middle" fill="#333">UMAP dim. 2</text>
<text x="270.5" y="606.5" font-size="6.3" font-weight="normal" font-style="normal" fill="#333" text-anchor="start" >UMAP dim. 1</text>
<defs><linearGradient id="cbar" x1="0" y1="0" x2="0" y2="1"><stop offset="0.0" stop-color="#0000ff"/><stop offset="0.1" stop-color="#4926fb"/><stop offset="0.2" stop-color="#673df8"/><stop offset="0.3" stop-color="#7c51f4"/><stop offset="0.4" stop-color="#8e65f0"/><stop offset="0.5" stop-color="#9d77ec"/><stop offset="0.6" stop-color="#aa89e7"/><stop offset="0.7" stop-color="#b69ce3"/><stop offset="0.8" stop-color="#c1aede"/><stop offset="0.9" stop-color="#cac1d9"/><stop offset="1.0" stop-color="#d3d3d3"/></linearGradient></defs>
<rect x="606.1" y="472.9" width="7.5" height="36.5" fill="url(#cbar)"/>
<line x1="606.1" y1="476.0" x2="607.3" y2="476.0" stroke="#fff" stroke-width="0.5"/><line x1="612.4" y1="476.0" x2="613.6" y2="476.0" stroke="#fff" stroke-width="0.5"/>
<text x="614.5" y="478.2" font-size="6.3" font-weight="normal" font-style="normal" fill="#333" text-anchor="start" >1.6</text>
<line x1="606.1" y1="484.1" x2="607.3" y2="484.1" stroke="#fff" stroke-width="0.5"/><line x1="612.4" y1="484.1" x2="613.6" y2="484.1" stroke="#fff" stroke-width="0.5"/>
<text x="614.5" y="486.3" font-size="6.3" font-weight="normal" font-style="normal" fill="#333" text-anchor="start" >1.2</text>
<line x1="606.1" y1="492.2" x2="607.3" y2="492.2" stroke="#fff" stroke-width="0.5"/><line x1="612.4" y1="492.2" x2="613.6" y2="492.2" stroke="#fff" stroke-width="0.5"/>
<text x="614.5" y="494.4" font-size="6.3" font-weight="normal" font-style="normal" fill="#333" text-anchor="start" >0.8</text>
<line x1="606.1" y1="500.3" x2="607.3" y2="500.3" stroke="#fff" stroke-width="0.5"/><line x1="612.4" y1="500.3" x2="613.6" y2="500.3" stroke="#fff" stroke-width="0.5"/>
<text x="614.5" y="502.5" font-size="6.3" font-weight="normal" font-style="normal" fill="#333" text-anchor="start" >0.4</text>
<line x1="606.1" y1="508.4" x2="607.3" y2="508.4" stroke="#fff" stroke-width="0.5"/><line x1="612.4" y1="508.4" x2="613.6" y2="508.4" stroke="#fff" stroke-width="0.5"/>
<text x="614.5" y="510.6" font-size="6.3" font-weight="normal" font-style="normal" fill="#333" text-anchor="start" >0.0</text>
</svg>
</body></html>
